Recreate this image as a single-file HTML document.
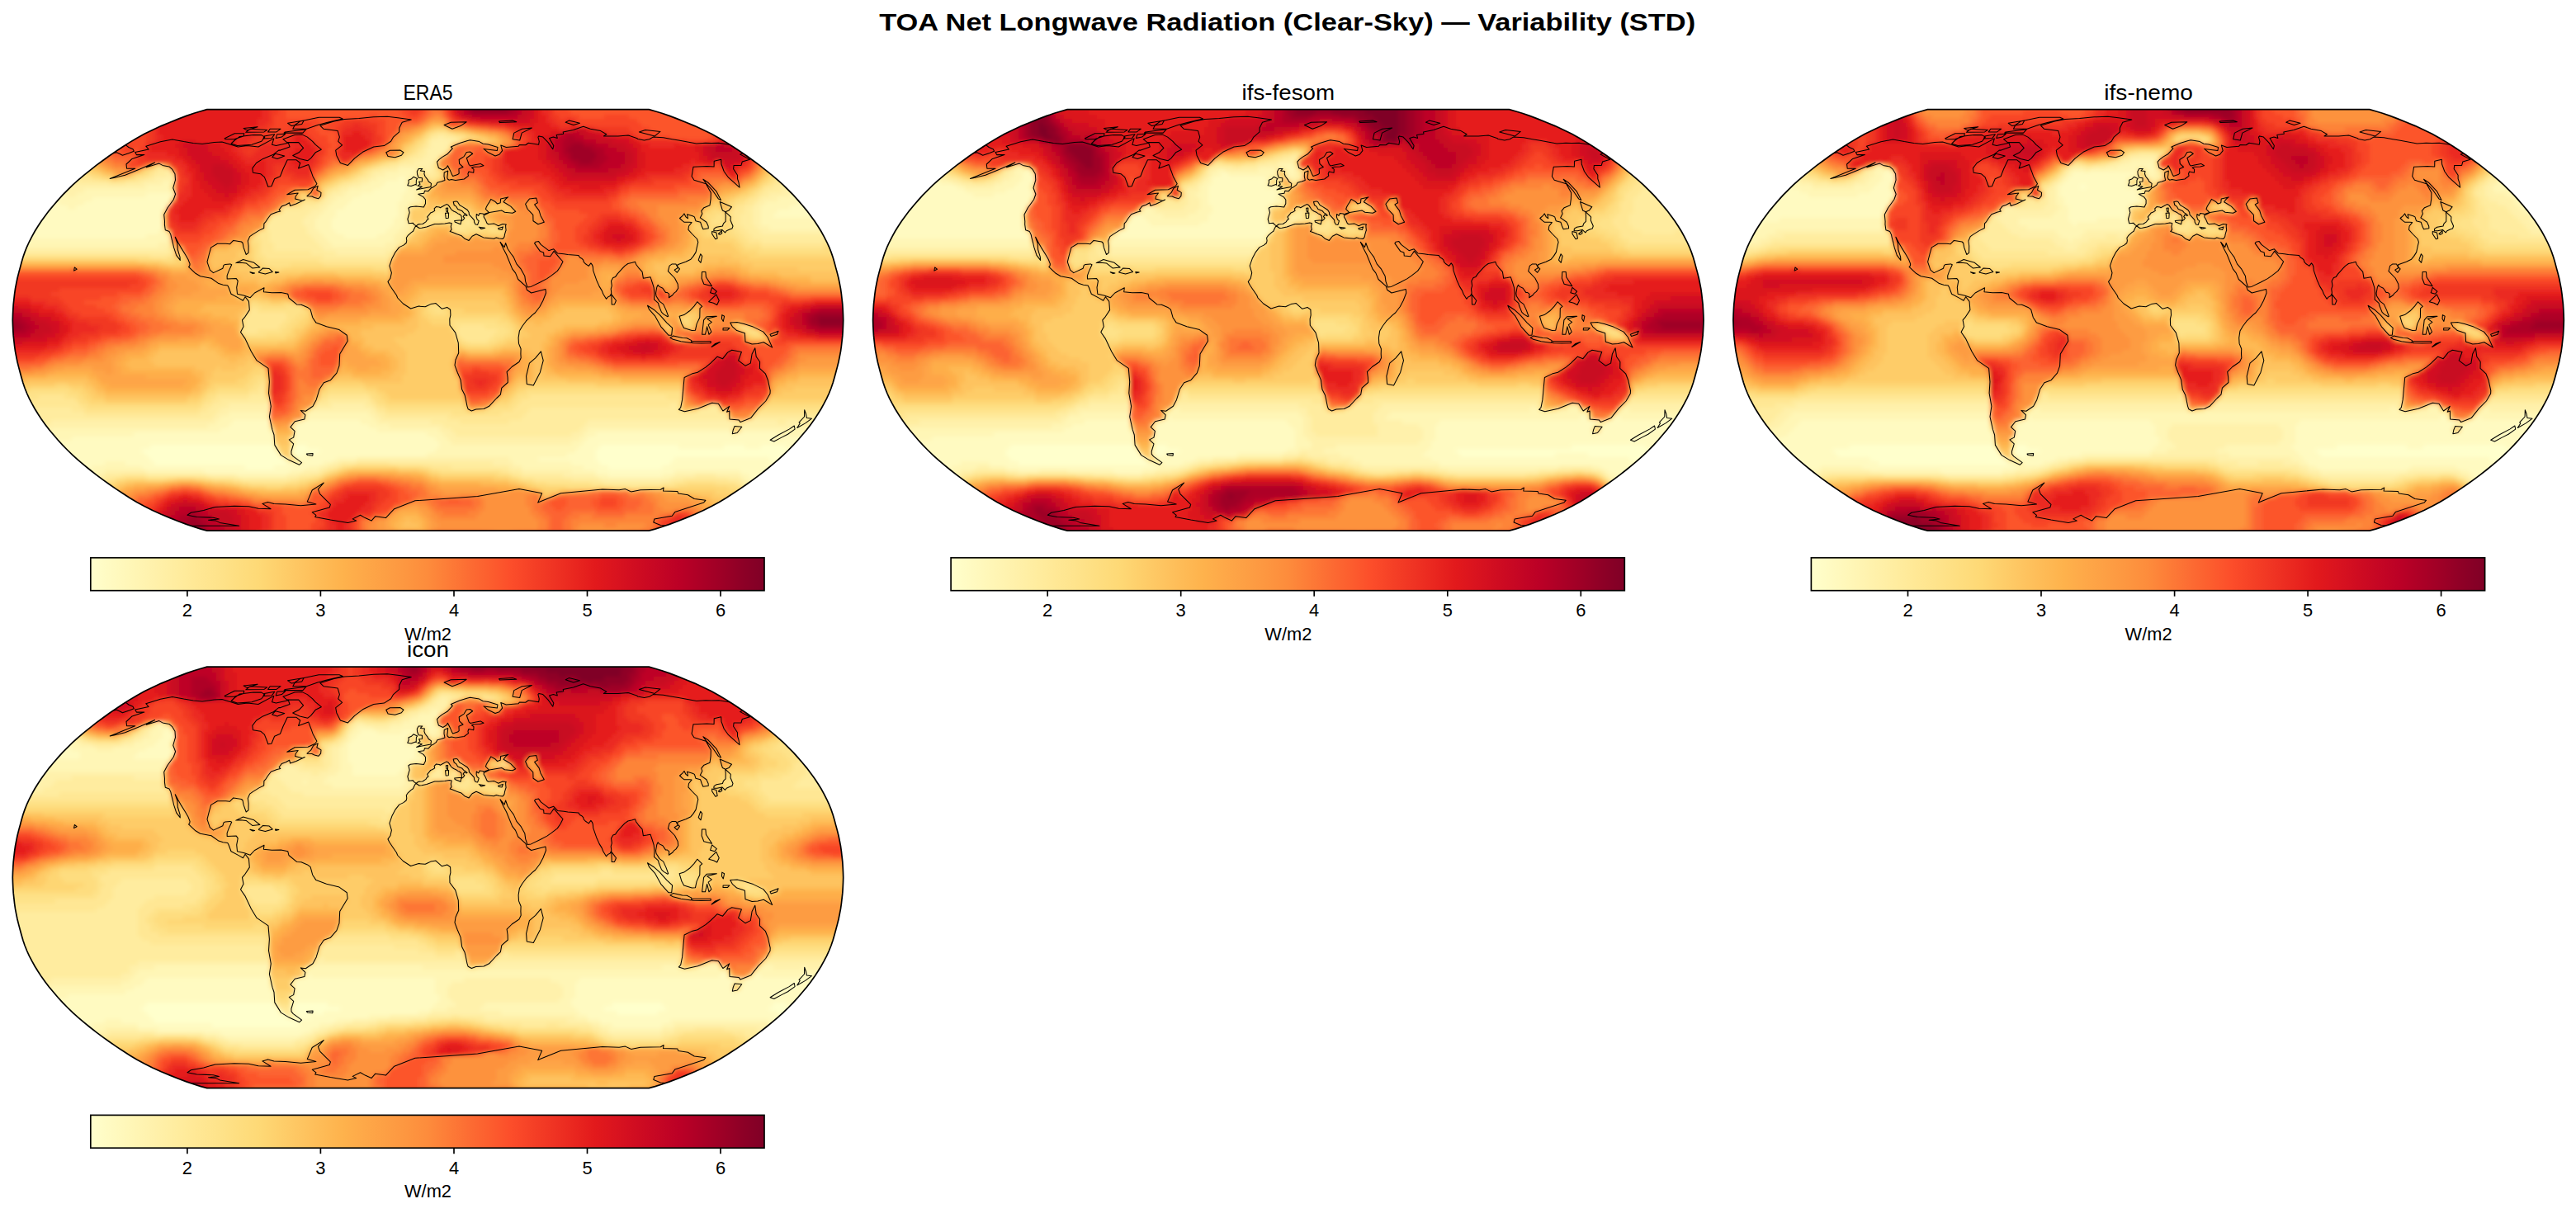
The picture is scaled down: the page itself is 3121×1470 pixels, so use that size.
<!DOCTYPE html>
<html><head><meta charset="utf-8"><style>html,body{margin:0;padding:0;background:#fff;overflow:hidden}svg{display:block}</style></head><body>
<svg width="3121" height="1470" viewBox="0 0 3121 1470">
<defs>
<linearGradient id="cb"><stop offset="0.000" stop-color="#ffffcc"/><stop offset="0.031" stop-color="#fffac1"/><stop offset="0.062" stop-color="#fff6b6"/><stop offset="0.094" stop-color="#fff1ab"/><stop offset="0.125" stop-color="#ffeda0"/><stop offset="0.156" stop-color="#ffe895"/><stop offset="0.188" stop-color="#fee38b"/><stop offset="0.219" stop-color="#fede80"/><stop offset="0.250" stop-color="#fed976"/><stop offset="0.281" stop-color="#fecf6b"/><stop offset="0.312" stop-color="#fec561"/><stop offset="0.344" stop-color="#febb56"/><stop offset="0.375" stop-color="#feb24c"/><stop offset="0.406" stop-color="#fea848"/><stop offset="0.438" stop-color="#fd9f44"/><stop offset="0.469" stop-color="#fd9640"/><stop offset="0.500" stop-color="#fd8c3c"/><stop offset="0.531" stop-color="#fd7c37"/><stop offset="0.562" stop-color="#fc6c33"/><stop offset="0.594" stop-color="#fc5d2e"/><stop offset="0.625" stop-color="#fc4d2a"/><stop offset="0.656" stop-color="#f54026"/><stop offset="0.688" stop-color="#ef3323"/><stop offset="0.719" stop-color="#e9261f"/><stop offset="0.750" stop-color="#e2191c"/><stop offset="0.781" stop-color="#d9131f"/><stop offset="0.812" stop-color="#cf0c21"/><stop offset="0.844" stop-color="#c50624"/><stop offset="0.875" stop-color="#bb0026"/><stop offset="0.906" stop-color="#ac0026"/><stop offset="0.938" stop-color="#9d0026"/><stop offset="0.969" stop-color="#8d0026"/><stop offset="1.000" stop-color="#800026"/></linearGradient>
<filter id="bl" x="-2%" y="-2%" width="104%" height="104%"><feGaussianBlur stdDeviation="2.5"/></filter>
<clipPath id="cl0"><path d="M786.3 643.1 793.7 641.1 802 638.5 811.1 635.4 820.9 631.7 831.1 627.6 841.7 623.2 852.2 618.4 862.1 613.5 871.4 608.4 880.1 603.2 888.5 597.8 896.7 592.4 904.8 586.8 912.7 581.1 920.4 575.4 927.9 569.5 935.1 563.6 942.2 557.6 948.9 551.6 955.2 545.5 961.2 539.4 966.8 533.2 972.1 527 977.4 520.7 982.2 514.4 986.8 508.1 990.9 501.8 994.8 495.5 998.3 489.2 1001.6 482.8 1004.5 476.5 1007 470.2 1009.2 463.8 1011 457.5 1012.7 451.2 1014.4 444.9 1016 438.5 1017.3 432.2 1018.5 425.9 1019.4 419.5 1020.1 413.2 1020.8 406.9 1021.2 400.6 1021.5 394.2 1021.7 387.9 1021.5 381.6 1021.2 375.2 1020.8 368.9 1020.1 362.6 1019.4 356.3 1018.5 349.9 1017.3 343.6 1016 337.3 1014.4 330.9 1012.7 324.6 1011 318.3 1009.2 312 1007 305.6 1004.5 299.3 1001.6 293 998.3 286.6 994.8 280.3 990.9 274 986.8 267.7 982.2 261.4 977.4 255.1 972.1 248.8 966.8 242.6 961.2 236.4 955.2 230.3 948.9 224.2 942.2 218.2 935.1 212.2 927.9 206.3 920.4 200.4 912.7 194.7 904.8 189 896.7 183.4 888.5 178 880.1 172.6 871.4 167.4 862.1 162.3 852.2 157.4 841.7 152.6 831.1 148.2 820.9 144.1 811.1 140.4 802 137.3 793.7 134.7 786.3 132.7 250.7 132.7 243.3 134.7 235 137.3 225.9 140.4 216.1 144.1 205.9 148.2 195.3 152.6 184.8 157.4 174.9 162.3 165.6 167.4 156.9 172.6 148.5 178 140.3 183.4 132.2 189 124.3 194.7 116.6 200.4 109.1 206.3 101.9 212.2 94.8 218.2 88.1 224.2 81.8 230.3 75.8 236.4 70.2 242.6 64.9 248.8 59.6 255.1 54.8 261.4 50.2 267.7 46.1 274 42.2 280.3 38.7 286.6 35.4 293 32.5 299.3 30 305.6 27.8 312 26 318.3 24.3 324.6 22.6 330.9 21 337.3 19.7 343.6 18.5 349.9 17.6 356.3 16.9 362.6 16.2 368.9 15.8 375.2 15.5 381.6 15.3 387.9 15.5 394.2 15.8 400.6 16.2 406.9 16.9 413.2 17.6 419.5 18.5 425.9 19.7 432.2 21 438.5 22.6 444.9 24.3 451.2 26 457.5 27.8 463.8 30 470.2 32.5 476.5 35.4 482.8 38.7 489.2 42.2 495.5 46.1 501.8 50.2 508.1 54.8 514.4 59.6 520.7 64.9 527 70.2 533.2 75.8 539.4 81.8 545.5 88.1 551.6 94.8 557.6 101.9 563.6 109.1 569.5 116.6 575.4 124.3 581.1 132.2 586.8 140.3 592.4 148.5 597.8 156.9 603.2 165.6 608.4 174.9 613.5 184.8 618.4 195.3 623.2 205.9 627.6 216.1 631.7 225.9 635.4 235 638.5 243.3 641.1 250.7 643.1Z"/></clipPath>
<clipPath id="cl1"><path d="M1828.6 643.1 1836 641.1 1844.3 638.5 1853.4 635.4 1863.2 631.7 1873.4 627.6 1884 623.2 1894.5 618.4 1904.4 613.5 1913.7 608.4 1922.4 603.2 1930.8 597.8 1939 592.4 1947.1 586.8 1955 581.1 1962.7 575.4 1970.2 569.5 1977.4 563.6 1984.5 557.6 1991.2 551.6 1997.5 545.5 2003.5 539.4 2009.1 533.2 2014.4 527 2019.7 520.7 2024.5 514.4 2029.1 508.1 2033.2 501.8 2037.1 495.5 2040.6 489.2 2043.9 482.8 2046.8 476.5 2049.3 470.2 2051.5 463.8 2053.3 457.5 2055 451.2 2056.7 444.9 2058.3 438.5 2059.6 432.2 2060.8 425.9 2061.7 419.5 2062.4 413.2 2063.1 406.9 2063.5 400.6 2063.8 394.2 2064 387.9 2063.8 381.6 2063.5 375.2 2063.1 368.9 2062.4 362.6 2061.7 356.3 2060.8 349.9 2059.6 343.6 2058.3 337.3 2056.7 330.9 2055 324.6 2053.3 318.3 2051.5 312 2049.3 305.6 2046.8 299.3 2043.9 293 2040.6 286.6 2037.1 280.3 2033.2 274 2029.1 267.7 2024.5 261.4 2019.7 255.1 2014.4 248.8 2009.1 242.6 2003.5 236.4 1997.5 230.3 1991.2 224.2 1984.5 218.2 1977.4 212.2 1970.2 206.3 1962.7 200.4 1955 194.7 1947.1 189 1939 183.4 1930.8 178 1922.4 172.6 1913.7 167.4 1904.4 162.3 1894.5 157.4 1884 152.6 1873.4 148.2 1863.2 144.1 1853.4 140.4 1844.3 137.3 1836 134.7 1828.6 132.7 1293 132.7 1285.6 134.7 1277.3 137.3 1268.2 140.4 1258.4 144.1 1248.2 148.2 1237.6 152.6 1227.1 157.4 1217.2 162.3 1207.9 167.4 1199.2 172.6 1190.8 178 1182.6 183.4 1174.5 189 1166.6 194.7 1158.9 200.4 1151.4 206.3 1144.2 212.2 1137.1 218.2 1130.4 224.2 1124.1 230.3 1118.1 236.4 1112.5 242.6 1107.2 248.8 1101.9 255.1 1097.1 261.4 1092.5 267.7 1088.4 274 1084.5 280.3 1081 286.6 1077.7 293 1074.8 299.3 1072.3 305.6 1070.1 312 1068.3 318.3 1066.6 324.6 1064.9 330.9 1063.3 337.3 1062 343.6 1060.8 349.9 1059.9 356.3 1059.2 362.6 1058.5 368.9 1058.1 375.2 1057.8 381.6 1057.6 387.9 1057.8 394.2 1058.1 400.6 1058.5 406.9 1059.2 413.2 1059.9 419.5 1060.8 425.9 1062 432.2 1063.3 438.5 1064.9 444.9 1066.6 451.2 1068.3 457.5 1070.1 463.8 1072.3 470.2 1074.8 476.5 1077.7 482.8 1081 489.2 1084.5 495.5 1088.4 501.8 1092.5 508.1 1097.1 514.4 1101.9 520.7 1107.2 527 1112.5 533.2 1118.1 539.4 1124.1 545.5 1130.4 551.6 1137.1 557.6 1144.2 563.6 1151.4 569.5 1158.9 575.4 1166.6 581.1 1174.5 586.8 1182.6 592.4 1190.8 597.8 1199.2 603.2 1207.9 608.4 1217.2 613.5 1227.1 618.4 1237.6 623.2 1248.2 627.6 1258.4 631.7 1268.2 635.4 1277.3 638.5 1285.6 641.1 1293 643.1Z"/></clipPath>
<clipPath id="cl2"><path d="M2870.9 643.1 2878.3 641.1 2886.6 638.5 2895.7 635.4 2905.5 631.7 2915.7 627.6 2926.3 623.2 2936.8 618.4 2946.7 613.5 2956 608.4 2964.7 603.2 2973.1 597.8 2981.3 592.4 2989.4 586.8 2997.3 581.1 3005 575.4 3012.5 569.5 3019.7 563.6 3026.8 557.6 3033.5 551.6 3039.8 545.5 3045.8 539.4 3051.4 533.2 3056.7 527 3062 520.7 3066.8 514.4 3071.4 508.1 3075.5 501.8 3079.4 495.5 3082.9 489.2 3086.2 482.8 3089.1 476.5 3091.6 470.2 3093.8 463.8 3095.6 457.5 3097.3 451.2 3099 444.9 3100.6 438.5 3101.9 432.2 3103.1 425.9 3104 419.5 3104.7 413.2 3105.4 406.9 3105.8 400.6 3106.1 394.2 3106.3 387.9 3106.1 381.6 3105.8 375.2 3105.4 368.9 3104.7 362.6 3104 356.3 3103.1 349.9 3101.9 343.6 3100.6 337.3 3099 330.9 3097.3 324.6 3095.6 318.3 3093.8 312 3091.6 305.6 3089.1 299.3 3086.2 293 3082.9 286.6 3079.4 280.3 3075.5 274 3071.4 267.7 3066.8 261.4 3062 255.1 3056.7 248.8 3051.4 242.6 3045.8 236.4 3039.8 230.3 3033.5 224.2 3026.8 218.2 3019.7 212.2 3012.5 206.3 3005 200.4 2997.3 194.7 2989.4 189 2981.3 183.4 2973.1 178 2964.7 172.6 2956 167.4 2946.7 162.3 2936.8 157.4 2926.3 152.6 2915.7 148.2 2905.5 144.1 2895.7 140.4 2886.6 137.3 2878.3 134.7 2870.9 132.7 2335.3 132.7 2327.9 134.7 2319.6 137.3 2310.5 140.4 2300.7 144.1 2290.5 148.2 2279.9 152.6 2269.4 157.4 2259.5 162.3 2250.2 167.4 2241.5 172.6 2233.1 178 2224.9 183.4 2216.8 189 2208.9 194.7 2201.2 200.4 2193.7 206.3 2186.5 212.2 2179.4 218.2 2172.7 224.2 2166.4 230.3 2160.4 236.4 2154.8 242.6 2149.5 248.8 2144.2 255.1 2139.4 261.4 2134.8 267.7 2130.7 274 2126.8 280.3 2123.3 286.6 2120 293 2117.1 299.3 2114.6 305.6 2112.4 312 2110.6 318.3 2108.9 324.6 2107.2 330.9 2105.6 337.3 2104.3 343.6 2103.1 349.9 2102.2 356.3 2101.5 362.6 2100.8 368.9 2100.4 375.2 2100.1 381.6 2099.9 387.9 2100.1 394.2 2100.4 400.6 2100.8 406.9 2101.5 413.2 2102.2 419.5 2103.1 425.9 2104.3 432.2 2105.6 438.5 2107.2 444.9 2108.9 451.2 2110.6 457.5 2112.4 463.8 2114.6 470.2 2117.1 476.5 2120 482.8 2123.3 489.2 2126.8 495.5 2130.7 501.8 2134.8 508.1 2139.4 514.4 2144.2 520.7 2149.5 527 2154.8 533.2 2160.4 539.4 2166.4 545.5 2172.7 551.6 2179.4 557.6 2186.5 563.6 2193.7 569.5 2201.2 575.4 2208.9 581.1 2216.8 586.8 2224.9 592.4 2233.1 597.8 2241.5 603.2 2250.2 608.4 2259.5 613.5 2269.4 618.4 2279.9 623.2 2290.5 627.6 2300.7 631.7 2310.5 635.4 2319.6 638.5 2327.9 641.1 2335.3 643.1Z"/></clipPath>
<clipPath id="cl3"><path d="M786.3 1318.6 793.7 1316.6 802 1314 811.1 1310.9 820.9 1307.2 831.1 1303.1 841.7 1298.7 852.2 1293.9 862.1 1289 871.4 1283.9 880.1 1278.7 888.5 1273.3 896.7 1267.9 904.8 1262.3 912.7 1256.6 920.4 1250.9 927.9 1245 935.1 1239.1 942.2 1233.1 948.9 1227.1 955.2 1221 961.2 1214.9 966.8 1208.7 972.1 1202.5 977.4 1196.2 982.2 1189.9 986.8 1183.6 990.9 1177.3 994.8 1171 998.3 1164.7 1001.6 1158.3 1004.5 1152 1007 1145.7 1009.2 1139.3 1011 1133 1012.7 1126.7 1014.4 1120.4 1016 1114 1017.3 1107.7 1018.5 1101.4 1019.4 1095 1020.1 1088.7 1020.8 1082.4 1021.2 1076.1 1021.5 1069.7 1021.7 1063.4 1021.5 1057.1 1021.2 1050.7 1020.8 1044.4 1020.1 1038.1 1019.4 1031.8 1018.5 1025.4 1017.3 1019.1 1016 1012.8 1014.4 1006.4 1012.7 1000.1 1011 993.8 1009.2 987.5 1007 981.1 1004.5 974.8 1001.6 968.5 998.3 962.1 994.8 955.8 990.9 949.5 986.8 943.2 982.2 936.9 977.4 930.6 972.1 924.3 966.8 918.1 961.2 911.9 955.2 905.8 948.9 899.7 942.2 893.7 935.1 887.7 927.9 881.8 920.4 875.9 912.7 870.2 904.8 864.5 896.7 858.9 888.5 853.5 880.1 848.1 871.4 842.9 862.1 837.8 852.2 832.9 841.7 828.1 831.1 823.7 820.9 819.6 811.1 815.9 802 812.8 793.7 810.2 786.3 808.2 250.7 808.2 243.3 810.2 235 812.8 225.9 815.9 216.1 819.6 205.9 823.7 195.3 828.1 184.8 832.9 174.9 837.8 165.6 842.9 156.9 848.1 148.5 853.5 140.3 858.9 132.2 864.5 124.3 870.2 116.6 875.9 109.1 881.8 101.9 887.7 94.8 893.7 88.1 899.7 81.8 905.8 75.8 911.9 70.2 918.1 64.9 924.3 59.6 930.6 54.8 936.9 50.2 943.2 46.1 949.5 42.2 955.8 38.7 962.1 35.4 968.5 32.5 974.8 30 981.1 27.8 987.5 26 993.8 24.3 1000.1 22.6 1006.4 21 1012.8 19.7 1019.1 18.5 1025.4 17.6 1031.8 16.9 1038.1 16.2 1044.4 15.8 1050.7 15.5 1057.1 15.3 1063.4 15.5 1069.7 15.8 1076.1 16.2 1082.4 16.9 1088.7 17.6 1095 18.5 1101.4 19.7 1107.7 21 1114 22.6 1120.4 24.3 1126.7 26 1133 27.8 1139.3 30 1145.7 32.5 1152 35.4 1158.3 38.7 1164.7 42.2 1171 46.1 1177.3 50.2 1183.6 54.8 1189.9 59.6 1196.2 64.9 1202.5 70.2 1208.7 75.8 1214.9 81.8 1221 88.1 1227.1 94.8 1233.1 101.9 1239.1 109.1 1245 116.6 1250.9 124.3 1256.6 132.2 1262.3 140.3 1267.9 148.5 1273.3 156.9 1278.7 165.6 1283.9 174.9 1289 184.8 1293.9 195.3 1298.7 205.9 1303.1 216.1 1307.2 225.9 1310.9 235 1314 243.3 1316.6 250.7 1318.6Z"/></clipPath>
</defs>
<rect width="3121" height="1470" fill="#fff"/>
<g clip-path="url(#cl0)"><g filter="url(#bl)">
<g transform="translate(7 126.5) scale(5)" fill="none" stroke-width="1" shape-rendering="crispEdges">
<path stroke="#ffffcc" d="M35 83h30M70 83h3M144 83h19M174 83h5M183 83h6M33 84h32M70 84h6M143 84h48M34 85h32M70 85h2M143 85h49M35 86h32M143 86h19M185 86h8M36 87h32M144 87h17M187 87h7M58 88h7M146 88h13M188 88h7M189 89h6M190 90h6M191 91h5M192 92h4"/>
<path stroke="#fffac1" d="M0 14h3M0 15h4M0 16h5M0 17h6M0 18h6M95 18h2M199 18h6M0 19h7M92 19h5M197 19h8M0 20h8M91 20h6M196 20h9M0 21h9M89 21h8M195 21h10M0 22h10M34 22h6M86 22h10M194 22h10M0 23h12M21 23h19M84 23h12M193 23h10M0 24h13M19 24h20M83 24h12M192 24h10M0 25h15M17 25h22M82 25h13M190 25h11M0 26h38M80 26h15M187 26h12M0 27h38M80 27h15M186 27h11M0 28h38M79 28h15M0 29h38M79 29h15M0 30h38M79 30h14M0 31h37M80 31h12M7 32h27M82 32h8M55 77h9M72 77h14M54 78h10M70 78h18M52 79h12M70 79h20M31 80h34M70 80h32M143 80h33M177 80h10M16 81h49M70 81h34M141 81h45M188 81h6M11 82h54M70 82h35M140 82h58M9 83h26M73 83h32M139 83h5M163 83h11M179 83h4M189 83h11M8 84h25M65 84h1M69 84h1M76 84h28M138 84h5M191 84h10M7 85h27M72 85h1M74 85h28M136 85h7M192 85h10M6 86h29M67 86h1M71 86h9M129 86h14M162 86h23M193 86h10M5 87h19M29 87h7M68 87h2M72 87h5M137 87h7M161 87h26M194 87h11M5 88h16M33 88h25M65 88h8M140 88h6M159 88h29M195 88h10M4 89h16M48 89h21M143 89h19M178 89h11M195 89h10M0 90h19M146 90h13M180 90h10M196 90h9M0 91h18M181 91h10M196 91h9M0 92h17M182 92h10M196 92h9M0 93h16M183 93h22M0 94h15M184 94h21M0 95h14M184 95h21M0 96h13M185 96h20M0 97h12M185 97h20M0 98h12M187 98h18M0 99h11M189 99h16M0 100h11M189 100h16M0 101h11M190 101h15M0 102h11M190 102h15M0 103h10M190 103h15M0 104h10M190 104h15M0 105h10M190 105h15"/>
<path stroke="#fff6b6" d="M0 11h4M0 12h5M0 13h6M3 14h4M4 15h3M202 15h3M5 16h2M95 16h4M198 16h7M6 17h2M92 17h7M196 17h9M6 18h3M90 18h5M97 18h1M195 18h4M7 19h3M38 19h2M88 19h4M194 19h3M8 20h3M34 20h6M86 20h5M97 20h1M99 20h1M193 20h3M9 21h4M19 21h21M83 21h6M97 21h2M192 21h3M10 22h5M17 22h17M40 22h1M82 22h4M96 22h3M190 22h4M204 22h1M12 23h9M80 23h4M96 23h3M187 23h6M203 23h2M13 24h6M79 24h4M95 24h3M184 24h8M202 24h3M15 25h2M78 25h4M95 25h2M183 25h7M201 25h3M77 26h3M95 26h2M183 26h4M199 26h4M76 27h4M95 27h2M183 27h3M197 27h5M75 28h4M94 28h3M183 28h18M75 29h4M94 29h3M183 29h16M75 30h4M93 30h3M185 30h12M37 31h2M76 31h4M92 31h3M0 32h7M34 32h5M77 32h5M90 32h4M0 33h39M78 33h16M0 34h37M79 34h13M54 75h9M73 75h15M52 76h11M73 76h16M51 77h4M71 77h1M86 77h4M49 78h5M88 78h5M11 79h41M90 79h15M141 79h35M178 79h11M191 79h7M9 80h22M102 80h4M140 80h3M187 80h1M189 80h11M8 81h8M104 81h3M139 81h2M186 81h2M194 81h7M7 82h4M105 82h3M137 82h3M198 82h4M6 83h3M105 83h34M200 83h3M5 84h3M104 84h34M201 84h3M4 85h3M66 85h1M102 85h34M202 85h3M3 86h3M80 86h5M122 86h7M203 86h2M0 87h5M24 87h5M77 87h2M123 87h14M0 88h5M21 88h12M73 88h3M125 88h15M0 89h4M20 89h4M34 89h14M69 89h3M137 89h6M162 89h16M19 90h3M56 90h12M143 90h3M159 90h3M178 90h2M18 91h3M179 91h2M17 92h2M181 92h1M16 93h2M181 93h2M15 94h2M182 94h2M14 95h2M183 95h1M13 96h2M183 96h2M12 97h3M184 97h1M12 98h2M185 98h2M11 99h3M186 99h3M11 100h2M187 100h2M11 101h2M188 101h2M11 102h2M188 102h2M10 103h3M188 103h2M10 104h2M188 104h2M10 105h2M188 105h2"/>
<path stroke="#fff1ab" d="M105 8h1M0 9h4M103 9h5M0 10h6M103 10h4M4 11h3M102 11h5M5 12h3M102 12h4M6 13h2M101 13h4M202 13h3M7 14h1M99 14h5M199 14h6M7 15h2M95 15h8M197 15h5M7 16h2M91 16h4M99 16h1M102 16h1M195 16h3M8 17h2M39 17h1M89 17h3M99 17h1M194 17h2M9 18h2M36 18h5M88 18h2M193 18h2M10 19h3M33 19h5M86 19h2M192 19h2M11 20h23M83 20h3M98 20h1M191 20h2M13 21h6M81 21h2M99 21h2M188 21h4M15 22h2M79 22h3M99 22h1M185 22h5M78 23h2M99 23h2M183 23h4M39 24h1M77 24h2M98 24h2M182 24h2M76 25h2M97 25h1M181 25h2M204 25h1M74 26h3M181 26h2M203 26h2M73 27h3M181 27h2M202 27h2M72 28h3M181 28h2M201 28h2M72 29h3M97 29h1M181 29h2M199 29h3M73 30h2M96 30h2M182 30h3M197 30h4M73 31h3M95 31h3M183 31h16M39 32h1M74 32h3M94 32h3M39 33h1M75 33h3M94 33h2M37 34h3M76 34h3M92 34h3M0 35h39M77 35h17M80 36h12M54 73h10M79 73h8M52 74h12M74 74h15M51 75h3M63 75h1M88 75h2M50 76h2M63 76h1M89 76h2M11 77h40M90 77h13M141 77h36M179 77h8M189 77h3M195 77h1M9 78h40M69 78h1M93 78h13M140 78h36M178 78h21M8 79h3M105 79h3M139 79h2M189 79h2M198 79h3M7 80h2M106 80h3M137 80h3M176 80h1M188 80h1M200 80h2M5 81h3M69 81h1M107 81h32M201 81h2M4 82h3M108 82h29M202 82h2M3 83h3M203 83h2M3 84h2M204 84h1M1 85h3M69 85h1M73 85h1M0 86h3M85 86h37M71 87h1M79 87h2M118 87h5M76 88h2M122 88h3M24 89h10M72 89h4M125 89h12M22 90h2M49 90h7M68 90h3M135 90h8M162 90h5M172 90h6M21 91h1M144 91h17M178 91h1M19 92h2M179 92h2M18 93h2M180 93h1M17 94h2M181 94h1M16 95h1M182 95h1M15 96h2M15 97h1M183 97h1M14 98h1M184 98h1M14 99h1M184 99h2M13 100h1M186 100h1M13 101h1M186 101h2M13 102h1M187 102h1M13 103h1M187 103h1M12 104h2M187 104h1M12 105h2M187 105h1"/>
<path stroke="#ffec9f" d="M0 0h1M0 1h1M0 2h1M0 3h1M0 4h1M0 5h2M0 6h4M0 7h5M0 8h6M103 8h2M106 8h3M4 9h4M102 9h1M108 9h2M6 10h2M102 10h1M107 10h1M202 10h3M7 11h2M101 11h1M200 11h5M8 12h2M100 12h2M198 12h7M8 13h2M98 13h3M197 13h5M8 14h3M96 14h3M194 14h5M9 15h3M93 15h2M103 15h1M193 15h4M9 16h4M37 16h3M89 16h2M101 16h1M103 16h1M192 16h3M10 17h4M36 17h3M88 17h1M102 17h2M191 17h3M11 18h7M34 18h2M86 18h2M99 18h1M190 18h3M13 19h12M29 19h4M40 19h1M84 19h2M97 19h1M188 19h4M81 20h2M186 20h5M40 21h1M79 21h2M184 21h4M78 22h1M183 22h2M77 23h1M182 23h1M75 24h2M100 24h1M181 24h1M72 25h4M179 25h2M67 26h7M97 26h1M179 26h2M65 27h8M178 27h3M204 27h1M64 28h8M178 28h3M203 28h2M63 29h9M178 29h3M202 29h3M63 30h10M98 30h1M179 30h3M201 30h4M64 31h9M180 31h3M199 31h5M64 32h10M181 32h20M64 33h11M96 33h1M183 33h15M65 34h11M95 34h1M39 35h1M65 35h12M94 35h1M0 36h40M74 36h6M92 36h2M77 37h16M62 70h1M59 71h4M52 72h12M78 72h10M50 73h4M75 73h4M87 73h2M161 73h2M171 73h1M4 74h12M49 74h3M89 74h1M127 74h36M168 74h5M0 75h19M47 75h4M90 75h2M126 75h49M0 76h50M91 76h16M125 76h50M181 76h18M0 77h11M70 77h1M103 77h7M122 77h19M177 77h1M187 77h2M192 77h3M196 77h6M0 78h9M106 78h34M176 78h1M199 78h6M0 79h8M64 79h1M108 79h31M201 79h4M0 80h7M109 80h28M202 80h3M0 81h5M203 81h2M0 82h4M69 82h1M204 82h1M0 83h3M65 83h1M69 83h1M0 84h3M0 85h1M70 86h1M70 87h1M81 87h4M93 87h25M78 88h2M108 88h14M76 89h1M122 89h3M24 90h4M34 90h15M71 90h3M125 90h10M167 90h5M22 91h2M57 91h12M137 91h7M161 91h3M175 91h3M21 92h1M145 92h14M178 92h1M20 93h1M179 93h1M19 94h1M180 94h1M17 95h1M181 95h1M182 96h1M16 97h1M15 98h1M183 98h1M15 99h1M14 100h1M185 100h1M14 101h1M185 101h1M14 102h1M186 102h1M14 103h1M186 103h1M186 104h1M186 105h1"/>
<path stroke="#ffe794" d="M1 0h3M1 1h3M1 2h3M1 3h3M1 4h4M2 5h3M4 6h2M5 7h2M104 7h3M6 8h2M109 8h2M201 8h4M8 9h1M200 9h5M8 10h2M101 10h1M199 10h3M9 11h2M100 11h1M198 11h2M10 12h1M99 12h1M196 12h2M10 13h2M97 13h1M193 13h4M11 14h2M95 14h1M192 14h2M12 15h2M91 15h2M191 15h2M13 16h2M36 16h1M88 16h1M104 16h1M190 16h2M14 17h3M35 17h1M40 17h1M87 17h1M104 17h1M189 17h2M18 18h3M32 18h2M85 18h1M98 18h1M100 18h1M102 18h2M187 18h3M25 19h4M82 19h2M99 19h1M186 19h2M80 20h1M184 20h2M78 21h1M101 21h1M183 21h1M77 22h1M100 22h1M182 22h1M76 23h1M180 23h2M72 24h3M179 24h2M67 25h5M177 25h2M176 26h3M97 27h1M103 27h3M108 27h2M176 27h2M103 28h5M111 28h2M176 28h2M98 29h1M101 29h2M108 29h1M111 29h2M176 29h2M108 30h3M177 30h2M62 31h2M178 31h2M204 31h1M61 32h3M179 32h2M201 32h4M62 33h2M180 33h3M198 33h7M62 34h3M183 34h15M62 35h3M40 36h1M62 36h12M35 37h4M63 37h14M76 38h17M59 50h2M59 51h9M58 52h10M58 53h9M58 54h8M110 54h6M57 55h4M109 55h10M110 56h8M111 57h6M62 68h1M61 69h2M59 70h3M8 71h6M51 71h8M78 71h10M127 71h33M0 72h17M50 72h2M76 72h2M88 72h1M125 72h38M0 73h18M48 73h2M89 73h1M124 73h37M0 74h4M16 74h3M47 74h2M90 74h2M123 74h4M19 75h28M72 75h1M92 75h16M120 75h6M182 75h18M107 76h18M199 76h6M110 77h12M202 77h3M68 86h1M85 87h8M80 88h1M103 88h5M77 89h1M120 89h2M28 90h6M74 90h2M123 90h2M24 91h2M55 91h2M69 91h2M128 91h9M164 91h11M22 92h1M142 92h3M159 92h3M177 92h1M18 95h1M17 96h1M182 97h1M183 99h1M15 100h1M184 100h1M15 101h1M185 102h1M185 103h1M14 104h1M185 104h1M14 105h1M185 105h1"/>
<path stroke="#fee289" d="M4 0h1M4 1h2M4 2h2M4 3h2M5 4h1M5 5h2M6 6h2M203 6h2M7 7h2M103 7h1M107 7h1M200 7h5M8 8h2M102 8h1M111 8h1M199 8h2M9 9h2M101 9h1M198 9h2M10 10h1M100 10h1M197 10h2M11 11h1M99 11h1M107 11h1M196 11h2M11 12h1M98 12h1M106 12h1M193 12h3M12 13h1M96 13h1M192 13h1M13 14h1M93 14h2M191 14h1M14 15h1M37 15h1M90 15h1M190 15h1M15 16h2M35 16h1M87 16h1M189 16h1M17 17h3M34 17h1M86 17h1M101 17h1M105 17h1M187 17h2M21 18h2M31 18h1M84 18h1M104 18h1M186 18h1M81 19h1M103 19h1M185 19h1M79 20h1M183 20h1M77 21h1M182 21h1M181 22h1M73 23h1M179 23h1M71 24h1M177 24h2M176 25h1M104 26h2M111 26h1M175 26h1M64 27h1M172 27h2M97 28h1M102 28h1M108 28h1M115 28h1M171 28h3M109 29h2M113 29h1M115 29h1M171 29h3M111 30h4M117 30h2M176 30h1M61 31h1M109 31h3M176 31h2M60 32h1M177 32h2M60 33h2M178 33h2M61 34h1M179 34h4M198 34h7M40 35h1M61 35h1M183 35h15M42 36h1M61 36h1M0 37h35M39 37h2M61 37h2M93 37h1M62 38h14M63 39h6M77 39h16M59 49h3M68 49h3M103 49h2M61 50h11M104 50h2M58 51h1M68 51h3M68 52h2M67 53h2M108 53h11M66 54h2M108 54h2M116 54h5M178 54h2M61 55h6M119 55h3M180 55h2M58 56h5M109 56h1M118 56h3M110 57h1M117 57h2M112 58h5M61 67h2M60 68h2M59 69h2M0 70h15M51 70h8M78 70h10M126 70h38M0 71h8M14 71h3M49 71h2M76 71h2M88 71h1M124 71h3M160 71h4M17 72h1M48 72h2M75 72h1M89 72h1M123 72h2M163 72h1M18 73h2M47 73h1M90 73h2M122 73h2M170 73h1M172 73h1M19 74h28M73 74h1M92 74h19M117 74h6M183 74h21M108 75h12M200 75h5M72 76h1M177 78h1M81 88h1M101 88h2M78 89h1M105 89h15M76 90h1M122 90h1M26 91h1M50 91h5M71 91h2M125 91h3M23 92h1M59 92h9M131 92h11M162 92h3M172 92h5M21 93h1M151 93h3M178 93h1M20 94h1M179 94h1M19 95h1M180 95h1M18 96h1M181 96h1M17 97h1M16 98h1M182 98h1M16 99h1M16 100h1M183 100h1M184 101h1M15 102h1M184 102h1M15 103h1M15 104h1M15 105h1"/>
<path stroke="#fedd7f" d="M5 0h2M6 1h1M6 2h1M6 3h1M6 4h2M7 5h2M201 5h4M8 6h2M199 6h4M9 7h1M102 7h1M108 7h1M198 7h2M10 8h1M101 8h1M112 8h2M198 8h1M11 9h1M100 9h1M197 9h1M11 10h1M99 10h1M195 10h2M98 11h1M193 11h3M12 12h1M97 12h1M192 12h1M13 13h1M95 13h1M191 13h1M14 14h1M92 14h1M104 14h1M189 14h2M15 15h2M36 15h1M89 15h1M104 15h1M188 15h2M17 16h2M34 16h1M86 16h1M100 16h1M187 16h2M20 17h1M32 17h2M85 17h1M186 17h1M23 18h2M29 18h2M83 18h1M105 18h1M185 18h1M80 19h1M100 19h1M184 19h1M78 20h1M181 21h1M180 22h1M72 23h1M74 23h1M101 23h1M177 23h2M101 24h1M175 24h2M98 25h1M106 25h1M38 26h1M66 26h1M106 26h2M171 26h3M102 27h1M106 27h2M111 27h2M114 27h2M169 27h3M175 27h1M109 28h2M114 28h1M170 28h1M175 28h1M100 29h1M103 29h1M114 29h1M116 29h1M170 29h1M100 30h1M115 30h2M170 30h2M175 30h1M98 31h1M112 31h4M117 31h4M170 31h1M174 31h2M97 32h1M175 32h2M59 33h1M177 33h1M59 34h2M96 34h1M178 34h1M60 35h1M179 35h4M198 35h7M60 36h1M182 36h19M60 37h1M38 38h3M60 38h2M62 39h1M69 39h8M65 40h2M89 40h4M59 48h2M62 49h6M71 49h1M102 49h1M72 50h1M102 50h2M106 50h1M71 51h2M103 51h4M57 52h1M70 52h2M108 52h12M164 52h1M57 53h1M69 53h2M119 53h3M164 53h1M57 54h1M68 54h2M121 54h2M67 55h2M122 55h1M179 55h1M63 56h5M121 56h2M181 56h2M109 57h1M119 57h2M110 58h2M117 58h2M62 65h1M60 66h3M59 67h2M58 68h2M6 69h10M51 69h8M78 69h9M126 69h32M15 70h3M49 70h2M76 70h2M88 70h2M124 70h2M17 71h2M48 71h1M63 71h1M89 71h2M123 71h1M18 72h2M47 72h1M90 72h2M122 72h1M20 73h27M92 73h19M118 73h4M163 73h1M184 73h21M111 74h1M116 74h1M163 74h1M167 74h1M204 74h1M178 77h1M82 88h2M95 88h6M79 89h1M103 89h2M119 90h3M27 91h2M34 91h5M48 91h2M73 91h2M124 91h1M24 92h2M57 92h2M68 92h3M128 92h3M165 92h7M22 93h2M136 93h7M147 93h4M154 93h5M160 93h3M175 93h3M21 94h1M178 94h1M20 95h1M179 95h1M19 96h1M180 96h1M18 97h1M181 97h1M17 98h1M182 99h1M16 101h1M183 101h1M16 102h1M183 102h1M16 103h1M184 103h1M184 104h1M184 105h1"/>
<path stroke="#fed673" d="M7 0h1M7 1h1M7 2h2M7 3h2M204 3h1M8 4h2M200 4h5M9 5h1M199 5h2M10 6h1M104 6h3M198 6h1M10 7h2M109 7h2M197 7h1M11 8h1M114 8h1M196 8h2M12 9h1M99 9h1M110 9h1M115 9h2M195 9h2M12 10h1M98 10h1M194 10h1M12 11h2M97 11h1M191 11h2M13 12h2M96 12h1M190 12h2M14 13h2M189 13h2M15 14h2M91 14h1M188 14h1M17 15h2M88 15h1M187 15h1M19 16h1M33 16h1M105 16h1M186 16h1M21 17h2M31 17h1M84 17h1M185 17h1M25 18h1M27 18h2M81 18h2M184 18h1M79 19h1M98 19h1M183 19h1M40 20h1M77 20h1M100 20h1M182 20h1M180 21h1M71 22h2M178 22h2M176 23h1M99 25h2M104 25h2M107 25h1M109 25h2M171 25h2M103 26h1M108 26h1M169 26h2M110 27h1M174 27h1M63 28h1M113 28h1M169 28h1M174 28h1M99 29h1M104 29h3M167 29h1M174 29h2M38 30h1M99 30h1M101 30h1M119 30h2M167 30h2M173 30h2M108 31h1M116 31h1M168 31h2M171 31h3M111 32h1M169 32h2M172 32h3M172 33h5M176 34h2M59 35h1M177 35h2M59 36h1M178 36h4M201 36h4M58 37h2M180 37h25M32 38h6M41 38h2M61 39h1M60 40h2M64 40h1M67 40h22M92 41h1M61 48h3M67 48h2M105 49h2M73 50h1M101 50h1M107 50h4M73 51h1M101 51h2M107 51h14M165 51h1M72 52h2M102 52h6M120 52h2M165 52h1M71 53h2M103 53h5M122 53h1M165 53h1M70 54h2M123 54h1M160 54h1M165 54h1M177 54h1M69 55h1M108 55h1M123 55h1M182 55h1M57 56h1M68 56h2M123 56h1M180 56h1M183 56h1M58 57h10M121 57h3M119 58h2M111 59h7M60 64h3M59 65h3M58 66h2M56 67h3M12 68h3M50 68h8M77 68h10M128 68h15M0 69h6M16 69h3M49 69h2M77 69h1M87 69h3M124 69h2M158 69h6M18 70h2M48 70h1M90 70h2M123 70h1M19 71h2M47 71h1M91 71h2M122 71h1M20 72h4M44 72h3M92 72h19M119 72h3M185 72h20M182 74h1M65 82h1M66 84h1M84 88h11M80 89h1M102 89h1M77 90h1M105 90h14M29 91h5M39 91h2M46 91h2M75 91h1M122 91h2M26 92h1M55 92h2M71 92h2M126 92h2M24 93h1M63 93h4M129 93h7M143 93h4M159 93h1M163 93h12M22 94h2M172 94h6M21 95h1M177 95h2M20 96h1M179 96h1M19 97h1M180 97h1M18 98h1M181 98h1M17 99h1M181 99h1M17 100h1M182 100h1M17 101h1M182 101h1M17 102h1M182 102h1M17 103h1M182 103h2M16 104h2M183 104h1M16 105h2M183 105h1"/>
<path stroke="#fecc68" d="M8 0h2M199 0h6M8 1h2M199 1h6M9 2h2M199 2h6M9 3h2M198 3h6M10 4h1M198 4h2M10 5h2M197 5h2M11 6h1M103 6h1M197 6h1M12 7h1M101 7h1M111 7h1M196 7h1M12 8h2M100 8h1M115 8h1M195 8h1M13 9h1M117 9h1M194 9h1M13 10h2M97 10h1M191 10h3M14 11h1M96 11h1M190 11h1M15 12h1M189 12h1M16 13h2M188 13h1M17 14h2M90 14h1M187 14h1M19 15h1M87 15h1M186 15h1M20 16h2M85 16h1M185 16h1M23 17h1M83 17h1M100 17h1M184 17h1M80 18h1M183 18h1M78 19h1M104 19h1M182 19h1M76 20h1M101 20h3M181 20h1M76 21h1M102 21h1M179 21h1M177 22h1M40 23h1M71 23h1M75 23h1M174 23h2M109 24h1M171 24h2M174 24h1M101 25h1M117 25h5M170 25h1M175 25h1M98 26h5M109 26h2M112 26h1M122 26h1M174 26h1M98 27h4M113 27h1M98 28h4M166 28h1M107 29h1M117 29h1M166 29h1M168 29h1M62 30h1M166 30h1M169 30h1M172 30h1M39 31h1M99 31h1M166 31h2M98 32h1M112 32h1M116 32h5M167 32h2M171 32h1M97 33h1M168 33h4M168 34h8M168 35h9M56 36h2M167 36h11M42 37h2M56 37h2M176 37h4M0 38h32M43 38h1M55 38h1M59 38h1M178 38h27M39 39h4M55 39h4M181 39h24M56 40h4M62 40h2M192 40h13M59 41h3M64 41h8M80 41h12M62 42h3M57 47h1M59 47h3M64 48h3M69 48h1M102 48h17M100 49h2M107 49h13M100 50h1M111 50h10M100 51h1M121 51h1M166 51h2M100 52h2M122 52h1M163 52h1M166 52h2M73 53h1M100 53h3M123 53h1M166 53h1M72 54h1M100 54h8M124 54h1M166 54h1M180 54h1M70 55h2M99 55h9M124 55h2M160 55h1M70 56h1M97 56h12M124 56h3M179 56h1M68 57h2M94 57h15M124 57h1M59 58h7M95 58h15M121 58h3M96 59h13M110 59h1M118 59h2M97 60h12M97 61h12M59 62h1M97 62h11M58 63h4M97 63h11M51 64h1M56 64h4M97 64h11M50 65h9M97 65h12M50 66h8M96 66h13M129 66h1M49 67h7M63 67h1M79 67h7M96 67h14M128 67h8M0 68h12M15 68h4M49 68h1M87 68h23M124 68h4M143 68h21M19 69h2M48 69h1M76 69h1M90 69h20M123 69h1M191 69h14M20 70h2M47 70h1M92 70h18M122 70h1M188 70h17M21 71h3M44 71h3M93 71h18M120 71h2M185 71h20M24 72h20M74 73h1M111 73h1M183 73h1M114 74h2M166 74h1M181 75h1M64 78h1M69 79h1M177 79h1M68 81h1M66 83h3M67 84h2M67 85h2M69 86h1M81 89h1M100 89h2M78 90h1M103 90h2M41 91h5M76 91h1M118 91h4M27 92h2M53 92h2M73 92h1M124 92h2M25 93h2M59 93h4M67 93h4M127 93h2M24 94h1M130 94h4M163 94h9M22 95h2M171 95h6M21 96h3M173 96h6M20 97h3M174 97h6M19 98h4M175 98h6M18 99h4M175 99h6M18 100h4M176 100h6M18 101h4M176 101h6M18 102h4M177 102h5M18 103h4M177 103h5M18 104h4M178 104h5M18 105h4M178 105h5"/>
<path stroke="#fec35e" d="M10 0h2M198 0h1M10 1h2M198 1h1M11 2h1M197 2h2M11 3h1M197 3h1M11 4h1M197 4h1M12 5h1M12 6h1M102 6h1M196 6h1M13 7h1M112 7h1M195 7h1M99 8h1M116 8h1M194 8h1M14 9h1M98 9h1M118 9h1M193 9h1M15 10h1M96 10h1M189 10h2M15 11h2M188 11h2M16 12h2M187 12h2M18 13h1M94 13h1M105 13h1M187 13h1M19 14h1M89 14h1M186 14h1M20 15h1M38 15h1M86 15h1M185 15h1M22 16h1M84 16h1M106 16h1M184 16h1M24 17h2M30 17h1M82 17h1M26 18h1M79 18h1M101 18h1M77 19h1M102 19h1M180 20h1M178 21h1M101 22h1M175 22h2M173 23h1M70 24h1M102 24h2M108 24h1M120 24h1M102 25h2M108 25h1M111 25h2M173 25h1M113 26h1M117 26h1M121 26h1M168 27h1M38 28h1M116 28h1M164 28h2M38 29h1M118 29h1M120 29h1M169 29h1M102 30h1M100 31h2M59 32h1M99 32h2M115 32h1M98 33h2M167 33h1M55 34h2M167 34h1M42 35h1M54 35h4M167 35h1M50 36h6M94 36h1M166 36h1M41 37h1M50 37h6M165 37h11M49 38h6M56 38h1M58 38h1M160 38h13M174 38h4M37 39h2M43 39h1M50 39h3M59 39h2M157 39h12M178 39h3M50 40h1M54 40h2M157 40h3M162 40h5M180 40h12M54 41h5M62 41h2M72 41h8M158 41h3M187 41h18M57 42h5M65 42h3M89 42h4M195 42h10M55 43h1M61 43h3M55 44h1M55 45h1M55 46h1M60 46h2M101 46h19M56 47h1M58 47h1M62 47h2M100 47h21M99 48h3M119 48h2M72 49h1M98 49h2M120 49h2M57 50h2M99 50h1M121 50h1M135 50h11M166 50h2M56 51h2M99 51h1M122 51h1M133 51h14M164 51h1M98 52h2M123 52h1M132 52h15M74 53h1M97 53h3M124 53h1M126 53h2M130 53h14M159 53h1M177 53h1M73 54h1M89 54h11M125 54h10M159 54h1M164 54h1M72 55h1M86 55h13M126 55h7M178 55h1M71 56h1M86 56h11M127 56h4M70 57h1M87 57h7M125 57h6M163 57h1M180 57h4M58 58h1M66 58h4M87 58h8M124 58h6M47 59h2M89 59h7M109 59h1M120 59h10M37 60h14M93 60h4M109 60h1M112 60h6M127 60h3M36 61h16M58 61h2M94 61h3M129 61h1M35 62h19M56 62h3M95 62h2M108 62h1M128 62h2M36 63h22M95 63h2M128 63h2M46 64h5M52 64h4M95 64h2M108 64h1M128 64h2M48 65h2M94 65h3M128 65h3M48 66h2M80 66h4M93 66h3M128 66h1M130 66h4M5 67h15M48 67h1M86 67h10M124 67h2M136 67h13M192 67h13M19 68h2M47 68h2M63 68h1M123 68h1M189 68h16M21 69h1M47 69h1M63 69h1M122 69h1M187 69h4M22 70h2M45 70h2M110 70h1M120 70h2M186 70h2M24 71h20M184 72h1M117 73h1M165 74h1M173 74h2M175 76h1M180 76h1M176 79h1M69 80h1M65 81h3M66 82h3M82 89h1M95 89h5M79 90h1M102 90h1M105 91h13M29 92h2M50 92h3M74 92h1M122 92h2M27 93h1M57 93h2M71 93h2M126 93h1M25 94h1M24 95h2M130 95h2M168 95h3M24 96h1M171 96h2M23 97h2M172 97h2M23 98h2M173 98h2M22 99h2M174 99h1M22 100h2M174 100h2M22 101h2M97 101h1M175 101h1M22 102h2M96 102h4M175 102h2M22 103h1M176 103h1M22 104h1M176 104h2M22 105h1M176 105h2"/>
<path stroke="#feb953" d="M12 0h1M197 0h1M12 1h1M197 1h1M12 2h1M12 3h1M12 4h1M196 4h1M13 5h1M103 5h3M196 5h1M13 6h1M107 6h1M195 6h1M14 7h1M100 7h1M113 7h1M194 7h1M14 8h1M98 8h1M117 8h2M193 8h1M15 9h1M97 9h1M111 9h1M114 9h1M119 9h1M190 9h3M16 10h1M108 10h1M188 10h1M17 11h1M187 11h1M18 12h1M19 13h1M91 13h3M186 13h1M20 14h1M88 14h1M185 14h1M21 15h1M85 15h1M23 16h1M83 16h1M80 17h2M107 17h1M183 17h1M78 18h1M182 18h1M76 19h1M101 19h1M181 19h1M179 20h1M73 21h1M176 21h2M76 22h1M102 22h1M173 22h2M102 23h3M171 23h2M104 24h4M110 24h3M117 24h2M173 24h1M113 25h1M116 25h1M169 25h1M174 25h1M114 26h3M118 26h1M116 27h1M117 28h1M168 28h1M103 30h5M165 30h1M60 31h1M102 31h2M107 31h1M101 32h2M110 32h1M166 32h1M100 33h2M166 33h1M40 34h1M97 34h4M166 34h1M50 35h4M95 35h1M165 35h2M58 36h1M164 36h2M49 37h1M160 37h5M57 38h1M93 38h1M156 38h4M173 38h1M34 39h3M49 39h1M54 39h1M155 39h2M169 39h9M40 40h4M51 40h1M155 40h2M160 40h2M167 40h2M178 40h2M53 41h1M155 41h3M162 41h5M180 41h7M53 42h4M68 42h3M81 42h8M146 42h1M157 42h5M188 42h7M54 43h1M56 43h5M64 43h3M91 43h2M158 43h3M195 43h10M54 44h1M61 44h2M54 45h1M100 45h21M56 46h1M62 46h1M99 46h2M120 46h1M64 47h4M98 47h2M121 47h1M58 48h1M97 48h2M121 48h1M48 49h11M97 49h1M122 49h1M134 49h13M167 49h1M47 50h10M98 50h1M122 50h1M132 50h3M146 50h2M159 50h1M50 51h6M98 51h1M123 51h1M131 51h2M147 51h2M157 51h1M160 51h1M163 51h1M54 52h3M74 52h1M96 52h2M124 52h1M127 52h5M147 52h2M158 52h1M56 53h1M86 53h11M125 53h1M128 53h2M144 53h3M158 53h1M163 53h1M167 53h1M169 53h1M176 53h1M56 54h1M74 54h2M80 54h9M135 54h8M169 54h1M176 54h1M56 55h1M73 55h1M82 55h4M133 55h2M72 56h1M83 56h3M131 56h2M71 57h1M84 57h3M131 57h1M164 57h1M184 57h1M47 58h3M70 58h1M86 58h1M130 58h2M37 59h10M49 59h3M58 59h12M86 59h3M130 59h1M35 60h2M51 60h2M57 60h3M88 60h5M111 60h1M118 60h2M125 60h2M130 60h1M34 61h2M52 61h6M92 61h2M126 61h3M130 61h1M30 62h5M54 62h2M60 62h1M93 62h2M127 62h1M130 62h1M29 63h7M93 63h2M108 63h1M127 63h1M130 63h1M30 64h16M81 64h1M93 64h2M127 64h1M130 64h2M45 65h3M81 65h3M91 65h3M127 65h1M131 65h2M10 66h10M46 66h2M63 66h1M84 66h9M109 66h1M124 66h2M127 66h1M134 66h10M192 66h13M0 67h5M20 67h2M47 67h1M123 67h1M126 67h2M149 67h15M189 67h3M21 68h2M46 68h1M122 68h1M187 68h2M22 69h2M45 69h2M121 69h1M186 69h1M24 70h21M63 70h1M75 71h1M119 71h1M118 72h1M169 73h1M112 74h2M164 74h1M65 80h4M83 89h12M80 90h1M101 90h1M77 91h1M103 91h2M31 92h7M48 92h2M75 92h1M115 92h7M28 93h1M56 93h1M73 93h1M125 93h1M26 94h1M61 94h10M134 94h1M26 95h1M166 95h2M25 96h1M170 96h1M25 97h1M171 97h1M25 98h1M172 98h1M24 99h1M173 99h1M24 100h1M96 100h4M173 100h1M24 101h1M95 101h2M98 101h3M174 101h1M94 102h2M100 102h1M23 103h1M95 103h6M175 103h1M23 104h1M175 104h1M23 105h1"/>
<path stroke="#feae4a" d="M196 0h1M196 1h1M196 2h1M13 3h1M196 3h1M13 4h1M195 5h1M14 6h1M101 6h1M109 6h1M99 7h1M114 7h2M193 7h1M15 8h1M97 8h1M192 8h1M16 9h1M96 9h1M113 9h1M189 9h1M95 10h1M119 10h1M95 11h1M186 12h1M90 13h1M185 13h1M86 14h2M22 15h1M35 15h1M84 15h1M184 15h1M24 16h1M32 16h1M82 16h1M183 16h1M26 17h1M79 17h1M77 18h1M107 18h1M180 19h1M178 20h1M71 21h2M103 21h1M174 21h2M103 22h2M171 22h1M70 23h1M105 23h8M120 23h1M68 24h1M113 24h1M119 24h1M114 25h1M122 25h1M65 26h1M119 26h2M168 26h1M38 27h1M117 27h1M164 27h3M118 28h1M167 28h1M62 29h1M119 29h1M165 29h1M104 31h3M165 31h1M103 32h2M113 32h2M102 33h1M165 33h1M54 34h1M57 34h1M101 34h1M165 34h1M96 35h5M164 35h1M161 36h3M157 37h3M155 38h1M0 39h34M53 39h1M154 39h1M38 40h2M49 40h1M52 40h2M154 40h1M169 40h3M176 40h2M52 41h1M93 41h1M144 41h4M161 41h1M167 41h2M178 41h2M52 42h1M71 42h10M144 42h2M183 42h5M48 43h3M52 43h2M67 43h1M87 43h4M144 43h3M157 43h1M161 43h1M190 43h5M49 44h5M56 44h5M63 44h2M91 44h2M99 44h22M144 44h3M159 44h2M59 45h5M93 45h1M98 45h2M121 45h1M145 45h1M54 46h1M57 46h1M59 46h1M63 46h1M93 46h1M97 46h2M121 46h1M51 47h5M68 47h1M94 47h4M122 47h1M42 48h16M95 48h2M122 48h1M134 48h12M41 49h7M96 49h1M132 49h2M147 49h1M41 50h6M96 50h2M123 50h1M131 50h1M148 50h2M156 50h1M165 50h1M45 51h5M95 51h3M124 51h1M128 51h3M149 51h5M158 51h2M161 51h2M49 52h5M86 52h10M125 52h2M149 52h3M157 52h1M159 52h1M169 52h1M52 53h4M75 53h11M147 53h2M160 53h1M170 53h1M55 54h1M76 54h1M78 54h2M143 54h3M161 54h1M74 55h2M135 55h2M161 55h1M56 56h1M73 56h1M133 56h2M48 57h3M57 57h1M72 57h1M83 57h1M132 57h1M179 57h1M37 58h10M50 58h2M57 58h1M71 58h1M83 58h3M132 58h1M35 59h2M52 59h2M57 59h1M70 59h1M85 59h1M131 59h1M33 60h2M53 60h4M86 60h2M110 60h1M120 60h5M131 60h1M29 61h5M87 61h5M125 61h1M131 61h1M28 62h2M81 62h1M90 62h3M125 62h2M131 62h1M27 63h2M81 63h2M91 63h2M125 63h2M131 63h1M28 64h2M82 64h3M88 64h5M125 64h2M132 64h1M12 65h9M28 65h17M80 65h1M84 65h7M124 65h3M133 65h9M192 65h13M0 66h10M20 66h2M34 66h12M123 66h1M126 66h1M144 66h5M189 66h3M22 67h1M44 67h3M78 67h1M187 67h2M23 68h2M43 68h3M186 68h1M24 69h21M185 70h1M111 72h1M72 74h1M69 77h1M65 79h4M81 90h1M98 90h3M78 91h1M102 91h1M38 92h2M47 92h1M105 92h10M29 93h2M54 93h2M119 93h6M27 94h1M58 94h3M71 94h2M129 94h1M135 94h1M160 94h3M27 95h1M26 96h1M169 96h1M26 97h1M169 97h2M171 98h1M25 99h1M95 99h5M172 99h1M25 100h1M94 100h2M100 100h1M93 101h2M101 101h1M173 101h1M24 102h1M93 102h1M101 102h1M174 102h1M94 103h1M101 103h1M175 105h1"/>
<path stroke="#fea546" d="M13 0h1M13 1h1M13 2h1M195 4h1M14 5h1M102 5h1M100 6h1M108 6h1M110 6h1M194 6h1M15 7h1M98 7h1M116 7h1M96 8h1M119 8h1M190 8h2M95 9h1M112 9h1M120 9h1M188 9h1M17 10h1M94 10h1M118 10h1M187 10h1M18 11h1M186 11h1M19 12h1M95 12h1M185 12h1M20 13h1M89 13h1M21 14h1M85 14h1M184 14h1M23 15h1M83 15h1M25 16h1M80 16h2M107 16h1M78 17h1M182 17h1M181 18h1M105 19h1M179 19h1M104 20h1M176 20h1M70 21h1M104 21h2M173 21h1M70 22h1M73 22h1M105 22h8M113 23h1M114 24h1M170 24h1M66 25h1M115 25h1M118 27h1M167 27h1M119 28h1M163 28h1M121 30h1M105 32h5M164 32h2M55 33h2M58 33h1M103 33h4M111 33h2M164 33h1M51 34h3M58 34h1M102 34h2M163 34h2M58 35h1M101 35h2M162 35h2M49 36h1M95 36h7M158 36h3M94 37h1M155 37h2M153 38h2M93 39h1M153 39h1M37 40h1M44 40h1M93 40h1M144 40h5M172 40h4M40 41h6M50 41h2M143 41h1M154 41h1M169 41h1M177 41h1M44 42h6M51 42h1M93 42h1M102 42h17M143 42h1M156 42h1M162 42h5M180 42h3M46 43h2M51 43h1M68 43h2M82 43h5M98 43h24M143 43h1M162 43h1M187 43h3M47 44h2M65 44h2M90 44h1M93 44h1M97 44h2M121 44h1M157 44h1M161 44h2M192 44h13M47 45h7M56 45h3M64 45h1M91 45h2M96 45h2M122 45h1M144 45h1M146 45h1M160 45h1M45 46h9M58 46h1M64 46h3M92 46h1M94 46h3M122 46h1M142 46h4M41 47h10M93 47h1M133 47h13M40 48h2M93 48h2M123 48h1M132 48h2M146 48h1M39 49h2M93 49h3M123 49h1M131 49h1M148 49h1M158 49h2M40 50h1M93 50h3M124 50h1M129 50h2M150 50h6M157 50h2M160 50h5M41 51h4M74 51h1M88 51h7M125 51h1M154 51h3M46 52h3M77 52h9M152 52h5M160 52h3M170 52h1M49 53h3M149 53h2M178 53h1M50 54h5M77 54h1M146 54h2M50 55h6M76 55h1M81 55h1M137 55h6M169 55h1M48 56h8M74 56h1M135 56h1M42 57h6M51 57h6M73 57h1M133 57h1M162 57h1M35 58h2M52 58h5M72 58h1M133 58h1M34 59h1M54 59h3M71 59h1M82 59h3M132 59h1M29 60h4M60 60h4M68 60h3M82 60h4M132 60h1M27 61h2M81 61h6M109 61h1M112 61h7M124 61h1M132 61h1M26 62h2M82 62h8M132 62h1M26 63h1M83 63h8M124 63h1M132 63h2M14 64h7M26 64h2M85 64h3M123 64h2M133 64h5M192 64h13M10 65h2M21 65h3M26 65h2M63 65h1M123 65h1M142 65h2M190 65h2M22 66h12M79 66h1M149 66h15M188 66h1M23 67h21M122 67h1M186 67h1M25 68h18M121 68h1M185 68h1M120 69h1M164 73h1M175 75h1M67 78h2M82 90h1M94 90h4M79 91h1M101 91h1M40 92h2M45 92h2M76 92h1M103 92h2M31 93h3M51 93h3M74 93h1M105 93h14M28 94h2M57 94h1M73 94h1M136 94h2M159 94h1M62 95h10M165 95h1M27 96h1M168 97h1M26 98h1M96 98h4M169 98h2M94 99h1M100 99h1M171 99h1M93 100h1M101 100h1M172 100h1M92 101h1M102 101h1M92 102h1M102 102h1M173 102h1M24 103h1M92 103h2M102 103h1M174 103h1M24 104h1M140 104h8M174 104h1M24 105h1"/>
<path stroke="#fd9c42" d="M195 0h1M195 1h1M195 2h1M14 3h1M195 3h1M14 4h1M103 4h3M101 5h1M194 5h1M15 6h1M99 6h1M111 6h1M193 6h1M96 7h2M117 7h2M192 7h1M16 8h1M95 8h1M120 8h1M189 8h1M17 9h1M94 9h1M121 9h1M18 10h1M93 10h1M19 11h1M94 11h1M119 11h1M20 12h1M91 12h1M112 12h1M21 13h1M88 13h1M184 13h1M22 14h1M84 14h1M24 15h1M81 15h1M183 15h1M26 16h3M40 16h1M79 16h1M106 17h1M76 18h1M106 18h1M108 18h1M75 19h1M178 19h1M75 20h1M105 20h2M173 20h3M177 20h1M106 21h7M172 21h1M113 22h1M172 22h1M114 23h1M69 24h1M115 24h2M121 24h1M126 24h2M126 25h2M123 26h1M127 26h2M165 26h3M119 27h3M128 27h1M163 27h1M120 28h3M128 28h1M121 29h2M163 29h2M122 30h1M163 30h2M121 31h1M163 31h2M121 32h1M163 32h1M57 33h1M107 33h4M113 33h8M163 33h1M104 34h18M162 34h1M103 35h15M120 35h2M160 35h2M102 36h7M121 36h1M157 36h1M95 37h11M154 37h1M94 38h12M152 38h1M44 39h1M94 39h24M144 39h5M35 40h2M94 40h26M141 40h3M39 41h1M94 41h28M141 41h2M148 41h1M170 41h3M174 41h3M40 42h4M50 42h1M94 42h8M119 42h4M141 42h2M147 42h1M167 42h2M178 42h2M41 43h5M70 43h4M77 43h5M93 43h5M122 43h1M139 43h4M163 43h2M185 43h2M42 44h5M67 44h1M87 44h3M94 44h3M122 44h1M135 44h9M189 44h3M41 45h6M65 45h1M90 45h1M94 45h2M134 45h10M161 45h1M40 46h5M67 46h1M91 46h1M123 46h1M133 46h9M146 46h1M39 47h2M91 47h2M123 47h1M132 47h1M146 47h2M157 47h1M38 48h2M91 48h2M131 48h1M147 48h1M158 48h1M38 49h1M91 49h2M124 49h1M130 49h1M149 49h2M161 49h3M166 49h1M38 50h2M88 50h5M125 50h1M39 51h2M78 51h10M126 51h2M168 51h1M41 52h5M75 52h2M168 52h1M47 53h2M151 53h7M161 53h2M48 54h2M148 54h2M167 54h1M170 54h1M181 54h1M48 55h2M77 55h1M143 55h3M166 55h1M170 55h1M177 55h1M46 56h2M75 56h1M136 56h1M161 56h1M185 56h1M36 57h6M74 57h1M134 57h1M165 57h1M34 58h1M73 58h1M31 59h3M72 59h1M133 59h1M27 60h2M64 60h4M71 60h1M133 60h1M25 61h2M60 61h1M70 61h1M111 61h1M119 61h5M133 61h1M24 62h2M124 62h1M133 62h1M194 62h11M18 63h8M134 63h2M192 63h13M11 64h3M21 64h5M138 64h5M191 64h1M7 65h3M24 65h2M122 65h1M144 65h3M189 65h1M122 66h1M187 66h1M185 69h1M75 70h1M164 72h1M165 73h1M71 74h1M71 76h1M64 77h1M65 78h2M83 90h2M91 90h3M99 91h2M42 92h3M77 92h1M102 92h1M34 93h3M49 93h2M104 93h1M30 94h1M55 94h2M106 94h16M128 94h1M138 94h1M151 94h1M157 94h2M28 95h1M60 95h2M72 95h1M132 95h1M159 95h6M28 96h1M129 96h1M160 96h9M27 97h1M98 97h2M166 97h2M95 98h1M100 98h2M168 98h1M26 99h1M101 99h2M169 99h2M102 100h1M171 100h1M25 101h1M90 101h2M103 101h1M172 101h1M90 102h2M103 102h2M172 102h1M90 103h2M103 103h1M173 103h1M140 105h8M174 105h1"/>
<path stroke="#fd923e" d="M14 0h1M14 1h1M14 2h1M104 3h1M15 4h1M102 4h1M106 4h1M194 4h1M15 5h1M106 5h1M98 6h1M112 6h1M16 7h1M95 7h1M119 7h1M191 7h1M94 8h1M121 8h1M188 8h1M122 9h1M187 9h1M121 10h1M186 10h1M92 11h2M116 11h1M185 11h1M90 12h1M94 12h1M111 12h1M118 12h1M22 13h1M86 13h2M23 14h1M183 14h1M25 15h1M34 15h1M39 15h1M80 15h1M82 15h1M105 15h1M29 16h1M78 16h1M182 16h1M27 17h1M29 17h1M77 17h1M181 17h1M75 18h1M180 18h1M106 19h4M174 19h2M107 20h6M172 20h1M113 21h1M114 22h1M115 23h1M117 23h1M170 23h1M67 24h1M168 24h2M123 25h1M128 25h1M158 25h11M124 26h2M158 26h7M63 27h1M122 27h6M129 27h1M158 27h5M123 28h5M129 28h1M159 28h4M60 29h2M123 29h7M160 29h3M58 30h4M123 30h6M161 30h2M57 31h3M122 31h7M161 31h2M56 32h3M122 32h7M161 32h2M121 33h7M161 33h2M41 34h1M122 34h2M160 34h2M41 35h1M118 35h2M122 35h1M158 35h2M41 36h1M109 36h12M122 36h1M155 36h2M106 37h17M136 37h3M153 37h1M44 38h1M106 38h17M136 38h4M145 38h1M151 38h1M118 39h6M135 39h9M149 39h4M33 40h2M48 40h1M120 40h4M134 40h7M149 40h5M37 41h2M46 41h4M122 41h3M134 41h7M149 41h1M173 41h1M39 42h1M123 42h2M132 42h9M155 42h1M169 42h2M177 42h1M39 43h2M74 43h3M123 43h1M132 43h7M165 43h2M180 43h5M39 44h3M68 44h1M82 44h5M123 44h1M132 44h3M158 44h1M187 44h2M39 45h2M66 45h1M88 45h2M123 45h1M132 45h2M162 45h1M191 45h14M38 46h2M89 46h2M131 46h2M161 46h1M37 47h2M90 47h1M124 47h1M131 47h1M36 48h2M70 48h1M89 48h2M124 48h1M130 48h1M148 48h1M36 49h2M73 49h1M87 49h4M125 49h2M129 49h1M151 49h6M160 49h1M164 49h2M168 49h1M36 50h2M74 50h1M80 50h8M126 50h3M168 50h1M37 51h2M75 51h3M169 51h3M39 52h2M171 52h4M42 53h5M168 53h1M171 53h3M175 53h1M46 54h2M150 54h2M158 54h1M162 54h2M168 54h1M174 54h1M45 55h3M78 55h3M146 55h2M168 55h1M183 55h1M37 56h9M76 56h2M82 56h1M137 56h4M34 57h2M75 57h1M135 57h1M32 58h2M134 58h1M184 58h1M26 59h5M73 59h1M134 59h1M24 60h3M72 60h1M81 60h1M134 60h1M23 61h2M61 61h2M68 61h2M71 61h2M110 61h1M134 61h1M192 61h13M19 62h5M70 62h2M123 62h1M134 62h2M192 62h2M12 63h6M123 63h1M136 63h5M191 63h1M9 64h2M80 64h1M143 64h2M189 64h2M0 65h7M147 65h19M187 65h2M164 66h1M186 66h1M185 67h1M76 68h1M110 69h1M72 71h3M164 71h1M72 72h3M71 73h3M116 73h1M166 73h1M70 75h2M69 76h2M176 76h4M65 77h4M85 90h6M80 91h1M96 91h3M78 92h1M101 92h1M37 93h2M48 93h1M76 93h1M102 93h2M31 94h3M53 94h2M103 94h3M122 94h6M139 94h2M152 94h1M155 94h2M29 95h2M58 95h2M105 95h5M115 95h11M129 95h1M157 95h2M64 96h9M116 96h10M158 96h2M28 97h1M97 97h1M100 97h2M116 97h10M158 97h8M27 98h1M102 98h1M116 98h11M159 98h5M167 98h1M93 99h1M103 99h1M115 99h12M168 99h1M26 100h1M92 100h1M103 100h2M114 100h14M169 100h2M89 101h1M104 101h25M170 101h2M25 102h1M88 102h2M105 102h24M139 102h6M148 102h7M171 102h1M88 103h2M104 103h25M138 103h16M172 103h1M119 104h3M139 104h1M148 104h1M173 104h1M90 105h5M119 105h3M139 105h1M148 105h1"/>
<path stroke="#fd8439" d="M15 0h1M15 1h1M15 2h1M194 2h1M15 3h1M103 3h1M105 3h1M194 3h1M16 5h1M100 5h1M193 5h1M16 6h1M96 6h2M113 6h2M192 6h1M120 7h1M190 7h1M17 8h1M18 9h1M93 9h1M19 10h1M92 10h1M109 10h1M117 10h1M120 10h1M20 11h1M91 11h1M117 11h1M21 12h1M89 12h1M107 12h1M184 12h1M23 13h1M85 13h1M106 13h1M111 13h1M183 13h1M24 14h2M105 14h2M110 14h1M26 15h3M79 15h1M106 15h2M182 15h1M31 16h1M77 16h1M28 17h1M76 17h1M108 17h2M109 18h1M179 18h1M110 19h4M171 19h3M113 20h2M171 20h1M69 21h1M114 21h1M171 21h1M68 22h2M115 22h1M68 23h2M116 23h1M118 23h1M121 23h1M127 23h1M165 23h5M122 24h4M128 24h1M153 24h15M124 25h2M154 25h4M64 26h1M126 26h1M129 26h1M155 26h3M156 27h2M59 28h4M157 28h2M57 29h3M158 29h2M56 30h2M129 30h2M159 30h2M56 31h1M129 31h2M160 31h1M54 32h2M129 32h2M160 32h1M40 33h1M53 33h2M128 33h2M160 33h1M50 34h1M124 34h6M159 34h1M49 35h1M123 35h4M157 35h1M43 36h1M123 36h1M154 36h1M123 37h1M135 37h1M152 37h1M48 38h1M123 38h1M135 38h1M140 38h5M146 38h5M47 39h2M0 40h16M17 40h16M45 40h1M47 40h1M124 40h1M36 41h1M125 41h1M133 41h1M150 41h4M37 42h2M125 42h1M148 42h2M154 42h1M171 42h6M38 43h1M124 43h2M131 43h1M147 43h1M167 43h2M178 43h2M38 44h1M69 44h3M80 44h2M124 44h1M130 44h2M163 44h2M185 44h2M37 45h2M67 45h2M84 45h4M124 45h1M131 45h1M157 45h1M159 45h1M189 45h2M36 46h2M68 46h1M87 46h2M124 46h1M147 46h1M35 47h2M88 47h2M125 47h1M130 47h1M148 47h1M34 48h2M86 48h3M125 48h2M149 48h2M161 48h4M167 48h1M32 49h4M81 49h6M127 49h2M157 49h1M31 50h5M75 50h5M169 50h2M33 51h4M172 51h7M36 52h3M175 52h4M38 53h4M174 53h1M179 53h1M40 54h6M152 54h6M171 54h3M175 54h1M38 55h7M148 55h1M159 55h1M163 55h3M167 55h1M35 56h2M78 56h2M141 56h3M162 56h1M184 56h1M186 56h1M32 57h2M76 57h1M136 57h1M28 58h4M74 58h2M82 58h1M135 58h1M181 58h1M24 59h2M74 59h1M135 59h1M22 60h2M73 60h1M135 60h1M192 60h13M20 61h3M63 61h5M73 61h1M135 61h1M191 61h1M14 62h5M69 62h1M72 62h1M111 62h12M136 62h3M190 62h2M10 63h2M62 63h1M70 63h3M141 63h2M189 63h2M6 64h3M63 64h1M71 64h1M122 64h1M145 64h2M188 64h1M109 65h1M186 65h1M185 66h1M71 67h1M77 67h1M71 68h2M71 69h5M71 70h4M71 71h1M111 71h1M70 72h2M165 72h1M70 73h1M112 73h4M167 73h2M70 74h1M69 75h1M176 75h5M67 76h2M81 91h2M93 91h3M79 92h1M98 92h3M39 93h1M47 93h1M75 93h1M77 93h1M101 93h1M34 94h2M50 94h3M102 94h1M141 94h1M153 94h2M31 95h1M56 95h2M73 95h1M102 95h3M110 95h5M126 95h2M155 95h2M29 96h2M60 96h4M99 96h3M115 96h1M126 96h2M130 96h1M156 96h2M102 97h1M115 97h1M126 97h2M157 97h1M28 98h1M94 98h1M103 98h1M114 98h2M127 98h1M157 98h2M164 98h3M27 99h1M104 99h2M112 99h3M127 99h2M157 99h5M167 99h1M105 100h9M128 100h2M139 100h3M150 100h8M168 100h1M26 101h1M87 101h2M129 101h2M137 101h20M87 102h1M129 102h2M137 102h2M145 102h3M155 102h2M25 103h1M87 103h1M129 103h2M137 103h1M154 103h2M25 104h1M89 104h7M100 104h2M118 104h1M122 104h1M138 104h1M149 104h1M172 104h1M25 105h1M88 105h2M95 105h3M99 105h3M118 105h1M122 105h1M138 105h1M149 105h1M173 105h1"/>
<path stroke="#fd7435" d="M194 0h1M103 1h2M194 1h1M16 2h1M103 2h3M16 3h1M102 3h1M16 4h1M101 4h1M193 4h1M96 5h4M110 5h1M192 5h1M95 6h1M115 6h2M191 6h1M17 7h1M121 7h1M189 7h1M18 8h1M122 8h1M187 8h1M19 9h1M123 9h1M186 9h1M20 10h1M110 10h4M116 10h1M122 10h1M185 10h1M21 11h1M90 11h1M108 11h1M22 12h2M87 12h2M92 12h2M117 12h1M24 13h2M107 13h1M110 13h1M26 14h3M79 14h2M107 14h1M111 14h1M182 14h1M78 15h1M108 16h2M181 16h1M75 17h1M180 17h1M110 18h4M169 18h6M178 18h1M114 19h1M170 19h1M74 20h1M115 20h1M170 20h1M75 21h1M115 21h2M170 21h1M116 22h3M163 22h8M66 23h2M119 23h1M122 23h5M128 23h1M151 23h14M65 24h2M150 24h3M64 25h2M151 25h3M62 26h2M153 26h2M58 27h5M155 27h1M57 28h2M130 28h1M156 28h1M56 29h1M130 29h2M157 29h1M55 30h1M131 30h1M158 30h1M54 31h2M131 31h1M158 31h2M53 32h1M131 32h1M159 32h1M52 33h1M130 33h2M158 33h2M130 34h2M157 34h2M127 35h4M155 35h2M48 36h1M124 36h4M153 36h1M47 37h2M124 37h2M134 37h1M139 37h9M150 37h2M46 38h2M124 38h1M45 39h2M124 39h2M134 39h1M46 40h1M125 40h1M34 41h2M126 41h1M36 42h1M126 42h1M131 42h1M150 42h4M37 43h1M126 43h1M130 43h1M148 43h2M156 43h1M177 43h1M36 44h2M72 44h8M125 44h2M129 44h1M147 44h1M165 44h2M181 44h4M36 45h1M69 45h1M81 45h3M125 45h2M147 45h1M163 45h1M187 45h2M35 46h1M83 46h4M125 46h2M148 46h1M157 46h1M160 46h1M190 46h15M33 47h2M69 47h1M83 47h5M126 47h2M149 47h1M162 47h2M30 48h4M71 48h2M82 48h4M127 48h3M151 48h5M157 48h1M159 48h2M165 48h1M28 49h4M74 49h7M28 50h3M171 50h12M30 51h3M179 51h5M32 52h4M179 52h4M34 53h4M180 53h1M35 54h5M34 55h4M149 55h2M162 55h1M171 55h6M186 55h1M32 56h3M80 56h2M144 56h3M160 56h1M163 56h1M169 56h1M30 57h2M77 57h3M82 57h1M137 57h3M161 57h1M24 58h4M76 58h1M136 58h1M180 58h1M182 58h1M22 59h2M75 59h1M191 59h14M20 60h2M74 60h1M190 60h2M15 61h5M74 61h1M136 61h2M190 61h1M11 62h3M61 62h2M68 62h1M73 62h1M109 62h2M139 62h3M189 62h1M9 63h1M69 63h1M73 63h1M80 63h1M120 63h3M143 63h2M188 63h1M0 64h6M70 64h1M72 64h2M147 64h21M186 64h2M70 65h4M79 65h1M121 65h1M166 65h1M185 65h1M70 66h4M77 66h2M121 66h1M70 67h1M72 67h5M121 67h1M164 67h1M70 68h1M73 68h3M110 68h1M164 68h1M70 69h1M164 69h1M70 70h1M164 70h1M70 71h1M165 71h1M184 71h1M115 72h3M166 72h1M64 73h1M69 73h1M69 74h1M175 74h1M178 74h4M68 75h1M64 76h3M83 91h2M90 91h3M80 92h1M95 92h3M40 93h2M45 93h2M78 93h1M98 93h3M36 94h2M49 94h1M76 94h1M100 94h2M142 94h2M148 94h3M32 95h3M54 95h2M100 95h2M128 95h1M133 95h1M151 95h4M31 96h1M59 96h1M102 96h2M113 96h2M128 96h1M154 96h2M29 97h2M70 97h2M96 97h1M103 97h2M113 97h2M128 97h2M154 97h3M29 98h1M104 98h10M128 98h2M153 98h4M28 99h1M106 99h6M129 99h2M137 99h6M150 99h7M166 99h1M27 100h1M89 100h3M130 100h2M136 100h3M142 100h8M158 100h1M86 101h1M131 101h1M135 101h2M169 101h1M26 102h1M86 102h1M131 102h1M135 102h2M157 102h1M170 102h1M86 103h1M131 103h1M135 103h2M156 103h1M171 103h1M88 104h1M96 104h4M102 104h1M117 104h1M123 104h1M137 104h1M150 104h1M98 105h1M102 105h1M117 105h1M123 105h1M137 105h1M150 105h1"/>
<path stroke="#fc6430" d="M16 0h2M103 0h2M16 1h2M102 1h1M105 1h1M17 2h1M102 2h1M17 3h1M101 3h1M106 3h1M193 3h1M17 4h1M100 4h1M107 4h1M17 5h1M95 5h1M17 6h2M117 6h2M18 7h2M94 7h1M122 7h1M188 7h1M19 8h2M93 8h1M20 9h2M21 10h2M114 10h2M123 10h1M22 11h3M89 11h1M109 11h6M118 11h1M184 11h1M24 12h2M86 12h1M108 12h3M119 12h1M183 12h1M26 13h5M79 13h1M108 13h2M29 14h1M78 14h1M108 14h2M33 15h1M77 15h1M108 15h4M181 15h1M30 16h1M76 16h1M110 16h1M110 17h5M168 17h6M179 17h1M114 18h2M167 18h2M115 19h1M168 19h2M176 19h2M116 20h1M169 20h1M68 21h1M74 21h1M117 21h3M163 21h7M66 22h2M74 22h1M119 22h8M151 22h12M65 23h1M149 23h2M64 24h1M149 24h1M39 25h1M62 25h2M129 25h1M149 25h2M58 26h4M130 26h1M151 26h2M57 27h1M130 27h2M153 27h2M56 28h1M131 28h2M154 28h2M55 29h1M132 29h1M156 29h1M53 30h2M132 30h1M157 30h1M52 31h2M132 31h2M157 31h1M51 32h2M132 32h2M158 32h1M50 33h2M132 33h2M157 33h1M42 34h1M48 34h2M132 34h1M156 34h1M47 35h2M131 35h2M154 35h1M46 36h2M128 36h15M152 36h1M44 37h3M126 37h6M133 37h1M148 37h2M45 38h1M125 38h4M134 38h1M126 39h3M133 39h1M16 40h1M126 40h3M132 40h2M32 41h2M127 41h2M132 41h1M35 42h1M127 42h2M36 43h1M127 43h3M150 43h3M169 43h3M175 43h2M35 44h1M127 44h2M148 44h2M167 44h2M179 44h2M34 45h2M70 45h2M79 45h2M127 45h4M148 45h1M164 45h2M185 45h2M33 46h2M69 46h1M81 46h2M127 46h4M162 46h3M188 46h2M28 47h5M70 47h2M81 47h2M128 47h2M150 47h1M160 47h2M164 47h2M27 48h3M73 48h2M79 48h3M156 48h1M166 48h1M26 49h2M169 49h3M178 49h6M27 50h1M183 50h2M28 51h2M184 51h1M29 52h3M183 52h2M31 53h3M181 53h3M32 54h3M182 54h1M32 55h2M151 55h5M157 55h2M31 56h1M147 56h1M164 56h5M170 56h1M25 57h5M80 57h2M140 57h3M166 57h1M22 58h2M77 58h5M137 58h1M166 58h2M183 58h1M185 58h1M20 59h2M76 59h3M81 59h1M136 59h1M190 59h1M16 60h4M75 60h2M136 60h2M189 60h1M13 61h2M75 61h1M138 61h3M188 61h2M10 62h1M63 62h5M74 62h2M80 62h1M142 62h2M187 62h2M0 63h9M68 63h1M74 63h2M109 63h11M145 63h2M163 63h5M186 63h2M69 64h1M74 64h6M109 64h1M121 64h1M168 64h1M185 64h1M69 65h1M74 65h5M184 65h1M69 66h1M74 66h3M69 67h1M110 67h1M69 68h1M120 68h1M69 69h1M69 70h1M119 70h1M165 70h1M69 71h1M117 71h2M166 71h1M69 72h1M112 72h3M167 72h1M183 72h1M68 73h1M179 73h4M64 74h1M68 74h1M176 74h2M64 75h4M85 91h5M81 92h1M93 92h2M42 93h3M79 93h1M96 93h2M38 94h1M48 94h1M74 94h2M77 94h1M97 94h3M144 94h4M35 95h1M51 95h3M98 95h2M134 95h10M149 95h2M32 96h2M57 96h2M73 96h1M98 96h1M104 96h3M110 96h3M131 96h1M136 96h6M150 96h4M31 97h1M60 97h2M67 97h3M72 97h2M105 97h8M130 97h2M136 97h6M150 97h4M30 98h1M130 98h3M135 98h8M149 98h4M29 99h1M131 99h6M143 99h7M28 100h1M132 100h4M159 100h1M167 100h1M27 101h1M132 101h3M168 101h1M27 102h1M132 102h3M169 102h1M26 103h1M132 103h3M170 103h1M26 104h1M87 104h1M103 104h2M115 104h2M124 104h2M135 104h2M151 104h1M171 104h1M26 105h1M87 105h1M103 105h2M115 105h2M124 105h2M136 105h1M151 105h1M172 105h1"/>
<path stroke="#fc552c" d="M18 0h13M68 0h27M102 0h1M105 0h1M135 0h38M193 0h1M18 1h13M68 1h27M136 1h37M193 1h1M18 2h13M68 2h28M101 2h1M106 2h1M137 2h37M193 2h1M18 3h13M68 3h20M90 3h7M100 3h1M139 3h6M151 3h22M18 4h13M76 4h3M92 4h8M153 4h20M192 4h1M18 5h13M76 5h2M92 5h3M109 5h1M111 5h1M154 5h19M191 5h1M19 6h12M75 6h2M92 6h3M119 6h2M156 6h16M190 6h1M20 7h10M76 7h4M92 7h2M158 7h13M187 7h1M21 8h9M78 8h2M92 8h1M161 8h10M186 8h1M22 9h7M78 9h2M92 9h1M124 9h1M185 9h1M23 10h5M79 10h2M91 10h1M184 10h1M25 11h3M31 11h1M78 11h2M88 11h1M115 11h1M26 12h2M29 12h2M78 12h2M113 12h4M77 13h2M112 13h4M182 13h1M77 14h1M83 14h1M112 14h4M181 14h1M29 15h1M76 15h1M112 15h4M172 15h1M75 16h1M111 16h6M167 16h7M180 16h1M74 17h1M115 17h2M167 17h1M178 17h1M41 18h1M116 18h2M166 18h1M177 18h1M116 19h3M166 19h2M66 20h5M73 20h1M117 20h5M162 20h7M65 21h3M120 21h8M151 21h12M64 22h2M75 22h1M127 22h2M149 22h2M63 23h2M129 23h1M148 23h1M61 24h3M129 24h3M147 24h2M58 25h4M130 25h3M147 25h2M57 26h1M131 26h8M149 26h2M56 27h1M132 27h9M151 27h2M54 28h2M133 28h7M153 28h1M52 29h3M133 29h6M154 29h2M51 30h2M133 30h5M155 30h2M50 31h2M134 31h4M156 31h1M48 32h3M134 32h4M157 32h1M41 33h1M47 33h3M134 33h4M156 33h1M43 34h5M133 34h6M155 34h1M43 35h4M133 35h8M153 35h1M44 36h2M143 36h4M150 36h2M132 37h1M129 38h5M129 39h4M129 40h3M0 41h32M129 41h3M33 42h2M129 42h2M34 43h2M153 43h3M172 43h3M34 44h1M150 44h2M169 44h1M177 44h2M33 45h1M72 45h7M149 45h1M166 45h2M180 45h5M27 46h6M70 46h3M79 46h2M149 46h2M165 46h1M185 46h3M23 47h5M72 47h3M79 47h2M151 47h5M158 47h2M166 47h1M190 47h5M19 48h8M75 48h4M168 48h1M179 48h6M22 49h4M172 49h6M184 49h2M24 50h3M185 50h1M26 51h2M185 51h1M27 52h2M185 52h1M29 53h2M184 53h1M30 54h2M183 54h2M30 55h2M156 55h1M28 56h3M148 56h2M171 56h8M23 57h2M143 57h2M167 57h3M178 57h1M20 58h2M138 58h3M165 58h1M168 58h2M179 58h1M189 58h16M16 59h4M79 59h2M137 59h2M180 59h10M14 60h2M77 60h4M138 60h2M182 60h7M11 61h2M76 61h5M141 61h2M182 61h6M7 62h3M76 62h4M144 62h1M179 62h1M183 62h4M63 63h1M67 63h1M76 63h4M147 63h16M168 63h2M183 63h3M68 64h1M110 64h3M115 64h6M183 64h2M68 65h1M120 65h1M120 66h1M120 67h1M119 69h1M68 70h1M117 70h2M68 71h1M112 71h5M167 71h1M68 72h1M168 72h2M171 72h1M179 72h4M67 73h1M173 73h1M175 73h4M65 74h3M82 92h2M91 92h2M80 93h1M94 93h2M39 94h1M47 94h1M78 94h1M95 94h2M36 95h2M50 95h1M74 95h4M95 95h3M144 95h5M34 96h2M54 96h3M74 96h3M95 96h3M107 96h3M132 96h4M142 96h2M148 96h2M32 97h2M59 97h1M62 97h1M65 97h2M74 97h2M94 97h2M132 97h4M142 97h2M148 97h2M31 98h2M67 98h8M93 98h1M133 98h2M143 98h6M30 99h3M67 99h7M91 99h2M165 99h1M29 100h3M68 100h7M86 100h1M160 100h1M166 100h1M28 101h4M68 101h7M85 101h1M157 101h1M167 101h1M28 102h4M68 102h6M85 102h1M158 102h1M168 102h1M27 103h4M68 103h6M85 103h1M157 103h1M27 104h4M64 104h8M86 104h1M105 104h10M126 104h9M152 104h4M27 105h4M64 105h8M86 105h1M105 105h10M126 105h10M152 105h4M171 105h1"/>
<path stroke="#f84528" d="M31 0h3M66 0h2M95 0h2M101 0h1M106 0h1M133 0h2M173 0h1M31 1h3M66 1h2M95 1h2M101 1h1M106 1h1M133 1h3M173 1h2M31 2h3M66 2h2M96 2h2M100 2h1M133 2h4M174 2h1M192 2h1M31 3h3M65 3h3M88 3h2M97 3h3M107 3h1M134 3h5M145 3h6M173 3h2M192 3h1M31 4h3M65 4h11M79 4h3M88 4h4M108 4h1M138 4h15M173 4h1M191 4h1M31 5h3M65 5h4M74 5h2M78 5h3M90 5h2M107 5h2M112 5h2M139 5h15M173 5h1M190 5h1M31 6h3M64 6h5M73 6h2M77 6h3M90 6h2M121 6h1M151 6h5M172 6h1M188 6h2M30 7h4M64 7h3M73 7h3M80 7h1M90 7h2M152 7h6M171 7h2M30 8h4M65 8h1M74 8h4M80 8h1M91 8h1M125 8h1M153 8h8M171 8h1M29 9h5M75 9h3M80 9h1M91 9h1M125 9h1M165 9h5M28 10h6M76 10h3M90 10h1M28 11h1M32 11h1M77 11h1M183 11h1M28 12h1M31 12h1M77 12h1M182 12h1M31 13h1M76 13h1M80 13h1M84 13h1M116 13h2M181 13h1M30 14h2M76 14h1M116 14h2M172 14h1M30 15h3M75 15h1M116 15h2M180 15h1M74 16h1M117 16h1M166 16h1M178 16h2M41 17h1M66 17h1M117 17h2M166 17h1M174 17h1M177 17h1M66 18h3M74 18h1M118 18h2M165 18h1M175 18h1M41 19h1M65 19h10M119 19h5M157 19h9M41 20h1M64 20h2M71 20h2M122 20h8M151 20h11M64 21h1M128 21h3M149 21h2M63 22h1M129 22h3M148 22h1M61 23h2M130 23h3M146 23h2M58 24h3M132 24h15M57 25h1M133 25h14M55 26h2M139 26h10M54 27h2M141 27h3M149 27h2M51 28h3M140 28h3M152 28h1M39 29h1M49 29h3M139 29h3M153 29h1M39 30h1M48 30h3M138 30h3M154 30h1M40 31h1M47 31h3M138 31h3M155 31h1M40 32h8M138 32h2M155 32h2M42 33h5M138 33h2M155 33h1M139 34h2M154 34h1M141 35h3M152 35h1M147 36h3M0 42h33M32 43h2M30 44h4M152 44h5M170 44h2M176 44h1M13 45h20M150 45h4M168 45h1M178 45h2M11 46h16M73 46h6M151 46h5M159 46h1M166 46h2M180 46h5M13 47h10M75 47h4M156 47h1M167 47h1M179 47h11M195 47h10M14 48h5M169 48h3M176 48h3M185 48h3M15 49h7M186 49h1M16 50h8M186 50h1M18 51h8M186 51h1M25 52h2M27 53h2M185 53h1M28 54h2M185 54h1M27 55h3M184 55h2M23 56h5M150 56h3M159 56h1M20 57h3M145 57h2M170 57h8M185 57h3M16 58h4M141 58h3M164 58h1M170 58h1M176 58h3M186 58h3M14 59h2M139 59h3M177 59h3M12 60h2M140 60h3M178 60h4M8 61h3M143 61h1M178 61h3M0 62h7M145 62h2M160 62h11M178 62h1M64 63h3M67 64h1M113 64h2M110 65h3M117 65h3M167 65h1M68 66h1M110 66h1M119 66h1M165 66h1M184 66h1M68 67h1M119 67h1M68 68h1M118 68h2M165 68h1M68 69h1M117 69h2M165 69h1M111 70h6M166 70h1M183 70h2M67 71h1M168 71h1M179 71h5M64 72h1M67 72h1M170 72h1M177 72h2M65 73h2M174 73h1M84 92h7M81 93h1M92 93h2M40 94h3M44 94h3M79 94h1M93 94h2M38 95h1M48 95h2M78 95h1M93 95h2M36 96h1M51 96h3M77 96h1M92 96h3M144 96h4M34 97h2M57 97h2M63 97h2M76 97h2M91 97h3M144 97h4M33 98h2M61 98h6M75 98h2M90 98h3M33 99h1M65 99h2M74 99h1M89 99h2M162 99h3M32 100h2M65 100h3M75 100h1M85 100h1M87 100h2M165 100h1M32 101h2M65 101h3M75 101h2M158 101h1M32 102h2M65 102h3M74 102h3M84 102h1M159 102h1M31 103h2M65 103h3M74 103h2M84 103h1M158 103h1M169 103h1M31 104h2M62 104h2M72 104h2M85 104h1M156 104h3M170 104h1M31 105h2M62 105h2M72 105h2M85 105h1M156 105h3"/>
<path stroke="#f13824" d="M34 0h2M64 0h2M97 0h4M132 0h1M174 0h1M192 0h1M34 1h2M64 1h2M97 1h4M132 1h1M192 1h1M34 2h2M64 2h2M98 2h2M107 2h1M132 2h1M34 3h2M64 3h1M132 3h2M191 3h1M34 4h2M64 4h1M82 4h6M109 4h1M133 4h3M174 4h1M190 4h1M34 5h2M63 5h2M69 5h5M81 5h3M86 5h4M114 5h3M134 5h3M138 5h1M174 5h1M189 5h1M34 6h2M61 6h3M69 6h4M80 6h2M88 6h2M122 6h2M143 6h8M173 6h1M187 6h1M34 7h2M61 7h3M67 7h3M72 7h1M89 7h1M123 7h3M146 7h6M173 7h1M186 7h1M34 8h2M60 8h5M66 8h3M73 8h1M89 8h2M124 8h1M126 8h1M172 8h1M185 8h1M34 9h2M59 9h9M74 9h1M89 9h2M126 9h1M163 9h2M170 9h2M184 9h1M59 10h3M75 10h1M89 10h1M124 10h1M183 10h1M29 11h2M33 11h1M57 11h4M76 11h1M80 11h1M87 11h1M120 11h1M182 11h1M32 12h1M58 12h2M75 12h2M181 12h1M32 13h2M75 13h1M118 13h2M32 14h8M75 14h1M81 14h2M118 14h2M180 14h1M40 15h2M65 15h3M74 15h1M118 15h2M167 15h3M171 15h1M179 15h1M41 16h2M65 16h3M118 16h2M177 16h1M42 17h1M65 17h1M67 17h3M119 17h2M164 17h2M42 18h2M64 18h2M69 18h5M120 18h8M156 18h9M42 19h2M63 19h2M124 19h7M152 19h5M42 20h1M63 20h1M130 20h2M149 20h2M41 21h2M62 21h2M131 21h2M148 21h1M41 22h1M60 22h3M132 22h3M146 22h2M58 23h3M133 23h13M40 24h1M57 24h1M55 25h2M39 26h1M54 26h1M39 27h1M50 27h4M144 27h5M39 28h1M48 28h3M143 28h2M149 28h3M40 29h1M47 29h2M142 29h2M152 29h1M40 30h2M46 30h2M141 30h2M153 30h1M41 31h6M141 31h1M154 31h1M140 32h2M154 32h1M140 33h2M154 33h1M141 34h2M153 34h1M144 35h3M150 35h2M0 43h32M0 44h30M172 44h4M0 45h13M154 45h3M158 45h1M169 45h2M177 45h1M0 46h11M156 46h1M158 46h1M168 46h2M178 46h2M6 47h7M168 47h3M177 47h2M10 48h4M172 48h4M188 48h5M13 49h2M187 49h1M14 50h2M187 50h1M15 51h3M17 52h8M186 52h1M20 53h7M186 53h1M23 54h5M186 54h1M22 55h5M187 55h1M18 56h5M153 56h6M187 56h2M16 57h4M147 57h3M160 57h1M188 57h8M14 58h2M144 58h1M162 58h2M171 58h5M13 59h1M142 59h2M164 59h13M9 60h3M143 60h1M163 60h12M0 61h8M144 61h2M161 61h11M173 61h1M147 62h7M155 62h5M180 62h1M182 62h1M179 63h1M64 64h3M66 65h2M113 65h4M67 66h1M111 66h8M67 67h1M111 67h2M117 67h2M165 67h1M184 67h1M67 68h1M111 68h3M116 68h2M67 69h1M111 69h6M166 69h1M181 69h4M66 70h2M167 70h2M179 70h4M64 71h3M169 71h1M178 71h1M65 72h2M172 72h5M82 93h10M43 94h1M80 94h2M90 94h3M39 95h1M47 95h1M79 95h2M90 95h3M37 96h1M49 96h2M78 96h1M90 96h2M36 97h1M52 97h1M54 97h3M78 97h1M89 97h2M35 98h1M77 98h1M89 98h1M34 99h2M63 99h2M75 99h1M88 99h1M34 100h1M64 100h1M161 100h1M164 100h1M34 101h1M64 101h1M77 101h1M84 101h1M159 101h2M166 101h1M34 102h1M64 102h1M77 102h1M83 102h1M160 102h1M167 102h1M33 103h1M64 103h1M76 103h2M159 103h2M168 103h1M33 104h1M61 104h1M74 104h2M159 104h2M169 104h1M61 105h1M74 105h2M159 105h2M170 105h1"/>
<path stroke="#eb2b21" d="M36 0h1M63 0h1M130 0h2M191 0h1M36 1h1M62 1h2M107 1h1M130 1h2M175 1h1M191 1h1M36 2h1M62 2h2M130 2h2M175 2h1M190 2h2M36 3h1M62 3h2M108 3h1M131 3h1M175 3h1M189 3h2M36 4h1M61 4h3M110 4h2M131 4h2M137 4h1M188 4h2M36 5h1M61 5h2M84 5h2M117 5h4M132 5h2M187 5h2M36 6h1M59 6h2M82 6h6M124 6h3M134 6h3M142 6h1M174 6h1M185 6h2M36 7h1M59 7h2M70 7h2M81 7h3M86 7h3M126 7h2M145 7h1M184 7h2M36 8h2M56 8h4M69 8h1M72 8h1M81 8h1M87 8h2M123 8h1M127 8h1M152 8h1M173 8h1M184 8h1M36 9h1M56 9h3M68 9h2M73 9h1M81 9h1M88 9h1M127 9h2M154 9h9M172 9h1M183 9h1M34 10h1M56 10h3M62 10h10M74 10h1M81 10h1M88 10h1M125 10h1M156 10h6M182 10h1M34 11h1M55 11h2M61 11h9M75 11h1M81 11h1M181 11h1M33 12h6M56 12h2M60 12h9M80 12h4M85 12h1M120 12h1M180 12h1M34 13h7M57 13h13M74 13h1M81 13h3M120 13h1M180 13h1M40 14h3M58 14h3M63 14h6M73 14h2M120 14h1M166 14h1M179 14h1M42 15h2M63 15h2M68 15h2M71 15h3M120 15h2M164 15h3M170 15h1M173 15h1M178 15h1M43 16h1M63 16h2M68 16h6M120 16h3M162 16h4M43 17h2M63 17h2M70 17h4M121 17h9M155 17h9M44 18h1M62 18h2M128 18h4M153 18h3M176 18h1M44 19h1M62 19h1M131 19h2M150 19h2M43 20h2M61 20h2M132 20h2M148 20h1M43 21h2M59 21h3M133 21h4M145 21h3M42 22h3M58 22h2M135 22h11M41 23h3M56 23h2M41 24h2M55 24h2M40 25h2M53 25h2M40 26h1M48 26h6M40 27h2M47 27h3M40 28h2M46 28h2M145 28h4M41 29h6M144 29h2M150 29h2M42 30h4M143 30h2M152 30h1M142 31h2M153 31h1M142 32h1M153 32h1M142 33h2M153 33h1M143 34h2M151 34h2M147 35h3M172 45h5M170 46h1M176 46h2M0 47h6M171 47h1M173 47h4M6 48h4M193 48h3M9 49h4M188 49h2M12 50h2M188 50h1M14 51h1M187 51h1M15 52h2M187 52h1M16 53h4M187 53h1M16 54h7M187 54h1M16 55h6M188 55h1M15 56h3M189 56h3M14 57h2M150 57h2M159 57h1M196 57h9M13 58h1M145 58h2M161 58h1M10 59h3M144 59h2M162 59h2M0 60h9M144 60h2M161 60h2M177 60h1M146 61h4M159 61h2M172 61h1M181 61h1M154 62h1M171 62h1M170 63h1M182 63h1M182 64h1M64 65h2M183 65h1M64 66h3M64 67h3M113 67h4M166 67h1M64 68h3M114 68h2M166 68h2M181 68h4M64 69h3M167 69h2M179 69h2M64 70h2M169 70h1M178 70h1M170 71h3M175 71h3M82 94h8M40 95h2M45 95h2M81 95h2M88 95h2M38 96h1M48 96h1M79 96h3M88 96h2M37 97h1M50 97h2M53 97h1M79 97h1M87 97h2M36 98h1M60 98h1M78 98h1M86 98h3M61 99h2M76 99h2M85 99h3M35 100h1M62 100h2M76 100h2M84 100h1M162 100h2M35 101h1M62 101h2M78 101h1M83 101h1M161 101h5M62 102h2M78 102h2M82 102h1M161 102h2M165 102h2M34 103h1M62 103h2M78 103h2M82 103h2M161 103h2M166 103h2M60 104h1M76 104h2M83 104h2M161 104h2M167 104h2M33 105h1M60 105h1M76 105h2M83 105h2M161 105h1M168 105h2"/>
<path stroke="#e51e1d" d="M37 0h26M107 0h1M129 0h1M175 0h1M181 0h10M37 1h25M129 1h1M181 1h10M37 2h25M108 2h1M129 2h1M180 2h10M37 3h25M109 3h1M129 3h2M179 3h10M37 4h24M129 4h2M136 4h1M175 4h1M179 4h9M37 5h24M121 5h2M128 5h4M137 5h1M175 5h1M179 5h8M37 6h22M127 6h7M137 6h1M141 6h1M179 6h6M37 7h22M84 7h2M128 7h4M174 7h1M179 7h5M38 8h18M70 8h2M82 8h5M128 8h1M151 8h1M178 8h6M37 9h5M46 9h10M70 9h3M82 9h6M153 9h1M173 9h1M178 9h5M35 10h6M52 10h4M72 10h2M82 10h6M126 10h3M154 10h2M162 10h5M178 10h4M35 11h7M53 11h2M70 11h5M82 11h5M121 11h8M154 11h13M178 11h3M39 12h3M54 12h2M69 12h6M84 12h1M121 12h8M155 12h13M179 12h1M41 13h2M55 13h2M70 13h4M121 13h8M155 13h13M43 14h1M56 14h2M61 14h2M69 14h4M121 14h9M155 14h11M167 14h2M44 15h1M57 15h6M70 15h1M122 15h9M155 15h9M176 15h2M44 16h2M58 16h5M123 16h9M154 16h8M174 16h1M176 16h1M45 17h1M59 17h4M130 17h3M153 17h2M175 17h2M45 18h1M59 18h3M132 18h2M150 18h3M45 19h2M59 19h3M133 19h2M148 19h2M45 20h2M58 20h3M134 20h5M144 20h4M45 21h3M57 21h2M137 21h8M45 22h4M56 22h2M44 23h6M55 23h1M43 24h12M42 25h11M41 26h7M42 27h5M42 28h4M146 29h4M145 30h1M150 30h2M144 31h1M151 31h2M143 32h2M152 32h1M144 33h1M152 33h1M145 34h6M171 45h1M171 46h5M172 47h1M0 48h6M196 48h9M6 49h3M190 49h3M8 50h4M189 50h1M12 51h2M188 51h1M13 52h2M188 52h1M14 53h2M188 53h1M15 54h1M188 54h1M15 55h1M189 55h2M14 56h1M192 56h2M13 57h1M152 57h3M156 57h3M10 58h3M147 58h3M159 58h2M0 59h10M146 59h2M160 59h2M146 60h3M159 60h2M176 60h1M150 61h4M155 61h4M181 62h1M178 63h1M180 63h2M169 64h1M181 64h1M181 65h2M166 66h2M180 66h4M167 67h1M179 67h5M168 68h1M179 68h2M169 69h1M178 69h1M170 70h2M176 70h2M173 71h2M42 95h3M83 95h5M39 96h2M47 96h1M82 96h6M38 97h1M49 97h1M80 97h7M37 98h1M58 98h2M79 98h7M36 99h1M58 99h3M78 99h7M36 100h1M59 100h3M78 100h6M59 101h3M79 101h4M35 102h1M59 102h3M80 102h2M163 102h2M59 103h3M80 103h2M163 103h3M34 104h1M59 104h1M78 104h5M163 104h4M78 105h5M162 105h6"/>
<path stroke="#db141e" d="M128 0h1M176 0h1M178 0h3M108 1h1M128 1h1M176 1h5M128 2h1M176 2h4M128 3h1M176 3h3M112 4h3M127 4h2M176 4h3M123 5h5M176 5h3M175 6h4M132 7h3M144 7h1M175 7h4M129 8h3M148 8h3M174 8h4M42 9h4M129 9h3M151 9h2M174 9h4M41 10h2M49 10h3M129 10h2M152 10h2M167 10h2M176 10h2M42 11h2M49 11h4M129 11h2M153 11h1M167 11h2M42 12h2M50 12h4M129 12h2M153 12h2M168 12h1M178 12h1M43 13h2M52 13h3M129 13h2M153 13h2M168 13h2M179 13h1M44 14h2M54 14h2M130 14h2M153 14h2M169 14h3M173 14h1M178 14h1M45 15h2M55 15h2M131 15h2M153 15h2M46 16h1M56 16h2M132 16h2M152 16h2M175 16h1M46 17h2M57 17h2M133 17h2M151 17h2M46 18h2M57 18h2M134 18h2M148 18h2M47 19h2M57 19h2M135 19h13M47 20h3M56 20h2M139 20h5M48 21h3M56 21h1M49 22h4M54 22h2M50 23h5M146 30h4M145 31h6M145 32h2M150 32h2M145 33h3M149 33h3M3 49h3M193 49h2M6 50h2M190 50h2M8 51h4M189 51h2M11 52h2M189 52h1M13 53h1M189 53h1M13 54h2M189 54h2M13 55h2M191 55h2M12 56h2M194 56h3M10 57h3M155 57h1M4 58h6M150 58h3M158 58h1M148 59h3M158 59h2M149 60h3M157 60h2M175 60h1M154 61h1M174 61h1M177 61h1M177 62h1M179 64h2M168 65h2M179 65h2M168 66h1M178 66h2M168 67h2M178 67h1M169 68h1M177 68h2M170 69h2M176 69h2M172 70h4M41 96h2M44 96h3M39 97h1M48 97h1M38 98h1M56 98h2M37 99h1M56 99h2M37 100h1M57 100h2M36 101h1M57 101h2M36 102h1M57 102h2M35 103h1M57 103h2M35 104h1M58 104h1M34 105h1M59 105h1"/>
<path stroke="#d10e21" d="M108 0h1M127 0h1M177 0h1M127 1h1M109 2h1M127 2h1M110 3h1M126 3h2M115 4h12M138 6h1M140 6h1M141 7h3M132 8h1M143 8h5M147 9h4M43 10h6M131 10h2M150 10h2M169 10h1M44 11h5M131 11h1M151 11h2M169 11h1M177 11h1M44 12h6M131 12h1M152 12h1M169 12h2M45 13h7M131 13h2M152 13h1M170 13h1M178 13h1M46 14h8M132 14h2M152 14h1M174 14h4M47 15h3M53 15h2M133 15h2M151 15h2M174 15h2M47 16h3M55 16h1M134 16h2M150 16h2M48 17h2M55 17h2M135 17h2M148 17h3M48 18h3M55 18h2M136 18h12M49 19h3M55 19h2M50 20h3M54 20h2M51 21h5M53 22h1M147 32h3M148 33h1M0 49h3M195 49h2M4 50h2M192 50h1M6 51h2M191 51h1M8 52h3M190 52h1M10 53h3M190 53h1M11 54h2M191 54h1M11 55h2M193 55h1M9 56h3M197 56h8M5 57h5M0 58h4M153 58h5M151 59h3M156 59h2M152 60h5M175 61h2M172 62h2M176 62h1M171 63h3M177 63h1M170 64h3M177 64h2M170 65h2M177 65h2M169 66h3M177 66h1M170 67h2M176 67h2M170 68h3M175 68h2M172 69h4M43 96h1M40 97h2M46 97h2M39 98h1M48 98h8M38 99h1M54 99h2M38 100h1M55 100h2M37 101h1M55 101h2M55 102h2M36 103h1M55 103h2M57 104h1M35 105h1M58 105h1"/>
<path stroke="#c80723" d="M126 0h1M109 1h1M126 1h1M110 2h1M125 2h2M111 3h2M124 3h2M139 6h1M139 7h2M133 8h1M140 8h3M132 9h1M143 9h4M146 10h4M170 10h2M174 10h2M132 11h1M148 11h3M170 11h2M176 11h1M132 12h2M150 12h2M171 12h7M133 13h1M150 13h2M171 13h7M134 14h1M150 14h2M50 15h3M135 15h1M149 15h2M50 16h5M136 16h2M146 16h4M50 17h5M137 17h11M51 18h4M52 19h3M53 20h1M197 49h8M0 50h4M193 50h2M4 51h2M192 51h1M6 52h2M191 52h2M7 53h3M191 53h2M8 54h3M192 54h2M7 55h4M194 55h2M6 56h3M0 57h5M154 59h2M174 62h2M174 63h3M173 64h4M172 65h5M172 66h5M172 67h4M173 68h2M42 97h4M40 98h2M46 98h2M39 99h2M49 99h5M39 100h1M50 100h5M38 101h2M51 101h4M37 102h2M52 102h3M37 103h1M53 103h2M36 104h1M54 104h3M36 105h1M56 105h2"/>
<path stroke="#be0126" d="M109 0h1M125 0h1M110 1h1M124 1h2M111 2h1M124 2h1M113 3h11M135 7h4M134 8h2M138 8h2M133 9h2M140 9h3M133 10h2M143 10h3M172 10h2M133 11h2M145 11h3M172 11h4M134 12h1M145 12h5M134 13h2M146 13h4M135 14h2M145 14h5M136 15h2M144 15h5M138 16h8M195 50h2M0 51h4M193 51h1M4 52h2M193 52h1M5 53h2M193 53h1M6 54h2M194 54h1M5 55h2M196 55h9M1 56h5M42 98h4M41 99h3M47 99h2M40 100h2M48 100h2M40 101h2M49 101h2M39 102h2M49 102h3M38 103h3M49 103h4M37 104h4M51 104h3M37 105h4M51 105h5"/>
<path stroke="#ae0026" d="M110 0h1M123 0h2M111 1h1M123 1h1M112 2h1M122 2h2M136 8h2M135 9h5M135 10h2M140 10h3M135 11h1M142 11h3M135 12h2M143 12h2M136 13h1M143 13h3M137 14h2M142 14h3M138 15h6M197 50h8M194 51h2M0 52h4M194 52h1M3 53h2M194 53h1M4 54h2M195 54h2M2 55h3M0 56h1M44 99h3M42 100h3M46 100h2M42 101h2M47 101h2M41 102h3M48 102h1M41 103h2M48 103h1M41 104h2M49 104h2M41 105h2M49 105h2"/>
<path stroke="#9f0026" d="M111 0h1M122 0h1M112 1h1M121 1h2M113 2h9M137 10h3M136 11h6M137 12h6M137 13h6M139 14h3M196 51h9M195 52h2M0 53h3M195 53h2M0 54h4M197 54h8M0 55h2M45 100h1M44 101h3M44 102h4M43 103h5M43 104h2M47 104h2M43 105h2M48 105h1"/>
<path stroke="#8f0026" d="M112 0h10M113 1h8M197 52h8M197 53h8M45 104h2M45 105h3"/>
</g>
</g></g>
<path clip-path="url(#cl0)" d="M504.3 273.7 502 272.4 500.2 270.2 495.2 270.8 493.9 265.5 496.2 257.6 494.9 252.3 497.3 250.7 504.1 250.1 508.9 250.4 513.4 251 515.5 246.7 515.5 242 513.1 238.9 506.7 235.2 513.6 234.3 514.6 231.2 518.7 231.8 523.1 227.2 524.3 227.2 528.3 224.2 529.9 221.2 534.6 220 539 218.5 538 213.7 538.2 208.9 542.7 207.1 542.3 211.6 541.8 215.2 542.4 217 544.2 218.2 546.9 217.6 551.9 218.5 562.4 217 567.5 213.1 566.9 210.7 567.9 208 573.8 209.2 574 205.1 571.5 203.3 574.2 202.2 581.3 201.9 586 200.7 582.1 198.4 574.2 199.9 569.9 201 568.1 199.3 565.3 191.5 572.7 186.2 569.5 184 565.3 184.5 562.2 189.6 556.2 193.5 556.6 198.4 561 202.5 555.9 204.8 556.2 210.1 554.5 211.6 548.7 213.4 547.9 212.2 545.6 207.1 543.7 203.3 542.4 200.7 541 203.3 536.7 206 531.4 203.6 530.3 199.3 529.5 196.1 532 193.3 535.8 190.4 541.9 186.8 548.3 179.9 546.3 178 556.8 173.4 565.7 170.8 569.6 169.8 580.7 171.6 585.3 174.2 591.6 175 603 178.5 602.3 182.6 586 180.4 591.4 184.8 600 189 604.9 187.3 608.6 182.6 606.8 176.1 613.3 178.5 628.1 177.2 629.4 175.6 636.7 175.8 640.3 173.2 652.6 175.3 653.3 171.3 651.9 166.1 653 164.9 657.8 166.1 664.1 172.6 669.8 180.7 670.8 176.6 665.5 167.4 670.4 166.1 675.3 167.4 674.2 163.6 682.7 162.3 682.2 159.9 694.6 157.4 706.7 153.3 715.3 156.2 727.7 158.6 734.8 162.8 731.4 164.9 748.8 164.9 761 163.9 771.4 167.4 772.7 168.5 780.5 170 786.8 168.7 791.2 166.1 803.6 166.7 814.4 168.7 822.2 170 843.8 174 854.8 173.2 861.8 173.4 870.9 173.2 884.8 175.6 900 185.7 896.7 187.1 908.5 193.3 899.2 196.1 898 200.4 889.1 200.4 888.6 204.8 893.5 212.2 893.5 216.7 895 221.2 896 227.2 882.6 215.2 877.2 207.7 874 199 873.7 193.3 865.2 195.2 865.1 201.9 856.4 201.6 840 202.2 838.1 213.7 840.9 218.2 855.3 222.7 861.3 233.4 861.1 241.1 860 248.8 852.9 251.7 849.7 255.7 850.8 258.9 848.3 263.9 855.9 269.2 858.1 274 858.3 276.8 851.9 277.8 850.2 274 848.6 269.2 842.9 267.7 841.4 262.9 839.2 261.7 832.5 259.8 833.5 264.8 831 262.9 829 258.9 826.8 261.7 823.5 264.5 826.8 267.7 828.8 269.2 835 269.2 838 269.6 834.5 274 833.9 278.4 838.5 283.5 844.5 289.5 845.8 293.3 844.4 299.3 843.1 305.6 840.1 310.4 837 314.2 830.8 317.3 821 320.8 820.9 323.7 818.9 319.9 814.3 319.9 811.1 322.1 809.4 328.7 817.5 337 821.2 344.2 821.7 349.3 819.1 353.4 816.5 355.3 815 357.5 810.4 360.7 810.7 356.3 808.3 354.4 806.4 354.4 802.9 349.3 798.5 347.1 797.2 345.2 795.8 348 794.5 355.3 795 358.8 799 365.1 803.7 368.6 807 375.9 809.7 383.2 808.9 383.8 804.1 380.9 801.5 378.4 798.4 370.8 797.5 367.3 792.5 362.9 792.9 356.3 792.2 348.7 790.6 343.3 788 335.7 783.7 336.6 779.4 337.3 778.1 329.4 773.5 324.3 770.5 320.2 769.6 317.3 766.1 318.3 760.8 319.5 757.1 322.1 754.2 325.2 748.1 331.9 745.7 335.4 742.8 336.6 740.5 340.4 741.3 346.4 740.2 350.2 740.8 355.3 739.3 358.5 736.3 360.1 734.5 362.3 730.8 356.3 729.2 352.1 726.1 347.1 722.6 339.2 718.7 327.8 718.3 323.3 717.4 320.8 715.9 318.9 713.2 322.4 709.1 319.5 707.2 317.3 706.7 315.1 704.8 313.2 702.5 312 700.8 309.4 687.9 308.5 683.2 307.8 675.5 306.9 670.8 301.8 664.8 303.7 655.3 296.4 652.6 292.6 648.7 293.3 647.6 294.9 654.3 304.4 658.6 305.9 659 310.1 666.7 310.7 668.8 307.8 671.1 304.4 678.4 313.2 682 317 679 323 675.3 328.4 667.8 334.1 662.8 337.6 654.5 342 643.4 347.4 639 348 636.7 341.1 635.8 334.4 631.2 326.2 625.9 319.9 622.3 311.6 619 307.2 615.1 301.5 612.6 294.5 611.1 299.6 606 293.3 610 301.8 613.7 308.8 615.6 313.5 620.7 325.9 624.6 330.9 627.7 338.5 637 346.8 638.3 351.2 643.7 355 653.3 352.5 661 350.6 661.5 355 657.9 364.2 653.9 371.8 648.4 379 645.1 381.6 637.3 389.2 632.8 395.2 629.4 400.9 628.1 409.4 628.5 416.4 631.1 422.7 630.9 429 631.2 433.8 629 438.5 620.2 444.5 614.1 450.6 615.1 457.5 615.3 463.5 607.8 470.2 606.4 478.1 601.7 482.5 592.6 492.3 586.2 495.5 576.7 496.1 571.3 498 567.2 495.8 566 492.3 564.1 482.8 563 478.4 559.7 472.1 558.1 460.4 554.2 451.2 551 442.6 552 436 555.7 427.8 555.3 415.7 552.8 406.9 551.7 403.1 545 394.2 544.8 386.6 545.9 381.9 545.6 375.2 541.7 372.4 535.5 374.3 528 367.6 525.2 368 521.8 368.6 517.9 370.5 515.2 371.8 507.3 371.1 497.6 374 488.4 368 481.7 361 480.4 357.8 475.2 350.2 471.9 345.2 470 341.4 472.9 337.3 474.4 330.6 471.9 322.1 475.1 312.9 479.2 305.3 483.7 299.6 488.9 297.1 492.2 294.5 492.8 291.7 492.3 288.2 494 285.7 498.4 281.6 500.5 280.3 502.2 276.5 503.3 274.6 504.6 274.3 508 276.5 510.9 276.2 516.9 274.9 526.6 271.5 531.8 271.5 538.9 271.1 544.3 269.9 547.2 270.5 546.3 274.6 547 278.1 545.2 280.6 547.6 281.3 553.6 283.8 558.7 285.4 562.9 289.2 568.1 291.4 572.1 286.3 577 283.8 582.5 286.3 585.8 287.9 591.2 288.5 598.4 289.2 601.3 287.9 604.8 288.9 608.9 289.5 610.4 288.2 611.2 286.3 611.5 284.1 612.5 280.6 613.1 279 612.7 275.6 612.6 273 613.3 272.1 609 271.5 603.8 273.7 598.8 271.1 591.8 271.8 590.1 270.8 588.1 266.1 586.2 262.9 586.2 261.1 593 257.6 608 255.1 611.4 257.3 621 258.2 624.8 256.3 618.8 250.1 613.4 246.7 610 244.8 612.8 241.1 615.6 238.9 606.6 241.1 606.2 245.7 602.6 247 599.7 244.2 594.8 241.4 592.8 245.1 590.7 248.2 589.1 251.3 588.4 253.5 592.5 257.6 585.8 259.8 585 258.9 581.1 258.5 579.8 261.4 577.3 259.5 577.1 262.9 578.2 266.1 580.2 267.7 578.7 272.4 576.1 272.1 574.6 269.2 574.4 266.7 572 263.9 568.4 260.1 568.1 257.3 566.4 254.5 564.5 253.2 560 250.4 556.8 248.5 554.5 244.8 552.9 243.9 549.2 244.5 550.2 248.5 552.6 250.1 554.6 253.5 559.6 255.4 561.8 257.9 564.5 259.5 566.1 261.1 564.9 261.4 562.7 260.1 561.1 262.6 562.8 264.2 561.3 266.4 559.1 267.7 559.5 265.5 558.9 261.4 556.5 259.5 554.9 258.9 553.1 257.6 549.7 256 546.7 253.8 544.5 250.4 543.2 248.5 540.9 247.6 537.4 249.5 536.9 249.8 533.4 251.7 532.2 251 528.6 250.4 526.1 252.9 526.7 255.4 524.1 257 521.6 257.9 520.8 259.2 517.7 262.9 519 265.5 517.2 266.7 515.9 268.9 512 271.5 507 271.8ZM176.8 177.2 194.4 171.8 208.8 169 222.6 171.6 234.2 173.4 245.1 174.5 259.4 172.6 269 172.1 279.7 175.3 288.3 178 299.8 176.6 312.9 178 331.8 167.9 329.5 175.3 334.5 176.6 349.4 173.2 351 178 339.8 182.1 337.7 182.1 330.6 187.6 318.6 192.4 310.6 197.5 305.8 203.9 306.5 209.2 315.7 210.7 320.4 214.6 323.1 221.5 324.8 226.3 328.9 225.7 332.6 216.7 339.5 213.7 343 204.8 348.2 193.8 359.1 193.8 363.7 197.5 361.6 203.9 373.8 199.6 376.9 207.7 379 213.7 383.9 222.7 381.7 225.7 373.1 229.7 357.2 230.3 347.8 235.8 361.2 234 358.1 238 357.6 241.1 366.4 243.2 369.3 242 358.8 247 351.7 249.5 350.6 245.7 346.1 248.2 341.2 250.1 338.1 254.2 339.8 256 335.6 257 328.3 259.8 324.5 264.8 321.6 269.2 319.9 270.8 319.7 276.5 313.7 279.4 306.1 284.1 302.6 286.6 300.3 292 301.1 298 301 306.3 298.2 308.5 295.1 299.9 294.1 294.5 292.5 293 284.8 291.7 282.7 291.4 278.4 295.8 273.7 295.2 263.5 295.2 255.7 299.9 253.6 307.2 251 317.3 254.3 327.1 258.5 330.6 269.9 325.2 271 321.4 272.8 320.5 278.9 319.9 280.7 320.8 276.8 329.4 275.1 334.1 275.2 337.9 286.3 337.6 288.2 340.4 286.7 348.3 287.5 356.3 296.1 358.2 303.2 360.7 308.5 355 320 348.7 319.4 353.7 329.4 354.7 340.5 354.4 348.8 356.3 349.9 361 359.5 368.9 365 369.2 372.5 372.4 376.1 375.2 378.7 384.7 382.9 391.1 395.6 395.8 411 399.6 420.3 406.3 421.2 413.2 411.7 429 411 443.3 407.9 452.1 400.5 460.7 392.3 463.8 387 471.8 383.2 484.4 379.1 492.3 370.3 498.3 364.3 497.4 369.9 502.8 368.9 508.1 357.3 510.7 351.9 517.6 357.1 522.3 355.7 530.1 350.3 532.9 355.7 537.8 352.9 547 353 550.4 355.3 553.1 365.6 560.6 362.6 563.3 350.2 557.6 340.4 551.6 332.8 539.4 332 527 329.9 520.7 326.4 505 328.3 492.3 325.5 476.5 326.4 462.6 325 446.4 311.1 436.9 304.4 425.9 296.8 410.1 291.5 402.5 295 395.8 293.5 387.9 296.3 384.7 302.3 375.6 301.5 365.7 301.3 365.1 297.1 359.7 294.4 364.2 290 361.6 280 356.3 277 348.3 275.8 346.1 270.3 345.2 264.9 343.6 256 337.3 242.7 334.7 236.9 331.3 228.5 323.3 229.7 322.4 230.1 319.9 228 314.5 224.7 308.8 219 299.6 216.1 294.5 212.3 287.3 214.8 294.5 215.3 302.5 218 311.3 218.3 315.4 213.7 309.4 210.6 299.9 209.4 294.5 207.5 287.3 206.9 284.4 205.1 280.6 200.3 278.7 199.4 272.1 199.5 268.3 198.7 260.1 202.9 252 210.3 241.7 212.6 235.2 209.7 227.8 212.5 218.2 212 210.7 208.9 205.4 204.9 201.9 197 200.4 192.8 198.1 177.3 202.8 187.5 197 169.9 204.8 151.6 212.2 139.2 215.2 133.2 216.4 147.5 210.7 163.7 204.2 153.6 204.2 153 199 160.1 192.4 174.8 187.6 165.4 187.6 163.7 184.5 180.1 181ZM387.8 152.2 404.8 147.1 417.4 144.5 434.9 143.5 452.6 141.8 469.3 141.3 482 142.8 498.2 145.1 487.2 148.2 483.8 155 483.7 159.9 476.6 166.1 473.6 171.3 465.4 176.6 452.7 178 439.4 184.3 429.6 191.8 421.4 200.4 412.4 197.5 407.8 188.5 406.7 182.1 414.6 175.8 409.7 171.3 411.4 166.1 409.2 158.6 391.9 156.2ZM366.1 163.1 372.4 166.1 378.7 171.3 382.3 175.3 389.3 181.2 382.2 184.8 376.5 191.8 372.9 194.7 363.2 192.4 354.7 188.5 362.2 184.8 367.6 179.3 361.8 172.6 347.7 172.6 342.9 168.7 357 163.6ZM284.3 170 290.5 165.4 307.1 163.6 316.7 163.6 320.8 166.1 316.8 171.3 305.1 175.3 287.5 176.6 280.1 174ZM272.2 167.7 284.3 161.8 295.8 161.8 295 164.9 283.8 168.7 272.9 168.7ZM363.5 147.1 386.3 142.2 411.1 142.2 415.2 144.1 396.9 148.2 384.9 151.5 371.3 156.2 354.8 156.2 357.3 151.5ZM345.4 159.9 370.9 156.7 366.9 161.1 344.1 161.1ZM333.7 186.2 344.7 189 336 192.4 329.8 190.4ZM303.3 156.2 323.8 157.4 320 159.9 297.7 160.3ZM320.2 164.9 332.8 162.8 329.3 167.4 319 167.9ZM335.7 162.8 345.7 162.3 341.3 166.1 334.2 167.4ZM348.6 149.3 368.2 146.1 365.7 150.4 353.3 152.6ZM327.2 156.2 340.1 156.2 335 159.9 324.7 159.9ZM295.1 155.5 312.1 153.8 299.1 157.9ZM372 237.7 376.8 233.4 379.7 228.1 385.2 225.4 383.8 230.3 389 233.4 388.6 237.7 385.8 240.8 381.1 239.5 377.9 238ZM467.8 184.8 472.5 182.3 485.1 182.1 488.9 184.8 486.4 188.2 478.6 190.7 470.1 189.6ZM504.7 230 510 228.8 521.9 226.6 522.5 222.4 519.2 220 518 217.6 515 213.7 513.9 210.7 514.4 207.4 509.4 206.9 511.7 204.5 507.2 204.5 505.3 207.7 505.6 211.3 507.1 215.2 511.5 215.8 511.4 220 507.6 220.3 509 223.3 506 225.1 511.3 226.3ZM504.2 224.2 504.4 218.2 505.6 216.4 501 214.3 498.6 216.7 495 218.2 495.2 221.2 493.8 224.8 498.1 225.4 503.5 223.6ZM538.1 151.5 546.3 148.2 565.2 147.7 558 152.6 547.9 156.2ZM621.1 168.7 622.8 161.1 632.6 156.2 644.4 155 632.2 161.1 629.7 170ZM685.2 148.2 689.3 146.1 702.4 149.3 694.8 151.5ZM774.4 159.9 781.8 157.4 800 159.4 793.3 164.9ZM604.6 147.1 621 146.1 625.8 147.7 605.6 148.6ZM152.2 175.6 155.9 178.5 161 180.7 162.3 183.2 156.5 185.4 148.4 188.2 144.7 186.2 141.4 184.8 137 185.7ZM851.9 217.3 857.8 221.2 867.9 231.8 873.4 242.6 870.5 241.1 863 230.3 855.8 222.7ZM875.4 255.1 872.2 244.5 886.5 250.7 883 255.1 878.9 256.7ZM878.7 256.7 885.3 262.9 885 267 888 274 886.9 277.1 883.9 278.1 880.2 279.7 878.5 281.9 874.8 278.4 868.8 279.7 864.8 279.7 865.1 277.1 868.1 275.2 875.4 274 876.5 270.8 879.1 268.3 879.2 261.4ZM862.6 280.6 867.9 281.9 869.1 288.9 866.8 289.8 862.7 283.5ZM870.4 283.5 874.4 279.7 874.7 282.8 872.1 284.4ZM846.2 315.1 848.8 307.8 850.7 310.4 849 318.3ZM817.1 327.1 821.9 324.3 823.5 325.9 820.4 330.3ZM850.1 337.3 850.5 329.4 854.9 329.4 855.4 335.7 862.5 346.8 852.8 344.2ZM858.7 365.7 867.8 356.9 871.2 364.2 868.7 369.5 864.4 367.3ZM862.7 348.3 868.3 353.1 865.8 356.3 860.6 354.7ZM823.1 383.2 828.7 381.6 835.5 376.8 840.9 371.1 844.8 365.7 850.7 371.4 848 373.7 847.8 384.7 844.1 392.6 842.5 400.2 838.3 400.6 828.6 397.4 825.9 392.6ZM784.5 370.2 792.2 375.2 799.4 381.6 807.8 391.1 814.6 397.4 813.7 406.3 810.1 406.3 800.7 395.8 793.8 383.2 786.6 375.2ZM811.9 409.4 815.7 406.9 826.7 409.4 832.2 409.7 837.9 412.6 837.4 415.4 825 413.8 815.4 411.3ZM839 413.8 850.1 413.8 861.2 413.8 861.1 415.7 849.9 416.1 838.8 415.7ZM862.1 420.5 872.3 414.5 866.6 416.4ZM850.6 405.3 852.6 387.9 856.1 383.8 866.5 383.2 868.4 383.2 856.7 386.3 862.3 390.4 858.1 393.6 861.9 402.1 859 405.3 856.6 395.8 854.5 405.3ZM874.8 381.6 877.6 383.2 876.3 389.5 874.4 386.3ZM876.1 397.4 883.9 397.4 881.6 399.9 876 399.9ZM884.7 391.1 893.1 390.4 901.4 392.6 912.5 396.1 924.8 402.1 930 408.5 935.7 421.1 925.2 414.8 918.1 416.4 911.1 417 903 414.2 902.4 403.7 892.7 400.6 887.3 395.8ZM933 405.3 943 401.2 941.3 405.3 934.2 407.5ZM741.2 368.9 740.9 356.9 746.5 364.2 744.5 368.9ZM655.4 425.9 658.2 436.9 654.4 451.2 646.3 467 638.3 465.4 637.6 455.9 641.4 440.1 648.7 433.8ZM829.1 457.5 827.9 470.2 826.6 484.4 824.7 493.9 822.4 496.4 829.5 498.7 845.4 495.2 862.7 488.2 870.4 489.2 875.9 498 883.7 492.3 880.6 499.3 883.8 498 883.8 503.4 884 508.1 895.2 509.1 897.1 511.6 909.6 506.6 918.7 495.2 927.8 486 933 477.1 933.2 473.3 930.4 460.7 927.3 452.8 920.4 446.4 920.6 438.5 916.2 432.2 914.8 421.8 911.1 429 909.3 440.1 903.1 443.3 894.6 436.9 898.4 426.5 886.7 424.3 881.6 427.1 875.6 434.7 869.1 432.2 860.9 440.1 855.2 444.9 845.2 451.2 838.1 453.1ZM890 516.6 898.8 517.3 893.2 524.5 887.3 525.7 888.2 521.3ZM974.7 496.8 976.5 501.8 977.4 506.6 983.5 507.2 975.7 512.9 965.8 518.5 969.2 512.9 968.1 511.9 974.5 505ZM962.3 516 963.1 520.1 954.5 526.3 946.9 530.1 937.8 535 933.1 533.2 943.2 527 956.2 520.1ZM285.9 318.6 294.6 314.5 307.8 318.3 314.8 324 305.7 324.9 298.2 318.9 291.4 318.3ZM313.4 329.7 318.6 324.9 326.2 325.6 330.2 329.4 321.4 331.9 313.9 330.3ZM302.9 329.7 308.6 330.9 306.3 331.6ZM333.5 329.4 337.9 330 333.9 330.9ZM550.7 267.4 559 266.7 558 271.8 551.1 268.9ZM539.5 258.2 543.6 257.9 543.3 264.2 540.2 264.5ZM540.3 252.3 542.6 252 542.5 257 541 256.3ZM580.3 275.2 587.7 276.2 583.1 277.5ZM603.6 276.8 609.4 274.9 608.2 278.4 604.3 278.1ZM90.3 324 93.1 326.2 89.6 328.1ZM371.4 550.1 379.1 549.5 378.8 552.2 372.6 551.6ZM231 637.2 289.7 637.3 266.3 633.4 261.7 631.1 252.5 630.3 265.4 628.9 258.3 627.2 238.4 626.5 227 624.3 231.4 621.3 246.7 618.4 260.7 614.5 283.9 613.2 301.4 613.7 313.1 616.2 328.1 616.7 317.9 610.4 324.6 608.4 331.9 610.4 345.7 610.9 364.4 612.7 382.9 610.9 372.3 607.9 374.8 602.1 378.2 594 392.2 585.1 385.4 592.9 387.6 598.6 400.4 611.4 399.2 615 378.3 620.8 383 624.3 381.7 626.5 400.4 630.1 421.4 633.6 431.7 631.1 427.2 628.9 436.6 624.3 442.3 627.6 450 631.1 454.8 625.7 467.4 627.6 477.7 616.7 502.9 606.8 540.7 604.2 578.6 601.6 629 592.4 656.6 597.8 651.7 609.1 679.5 597.8 729.9 592.9 750.1 593.7 757.6 592.6 764.6 595.9 776 593.7 800.4 593.2 804.1 591 803.5 595.1 820.8 595.4 821.8 598.1 833.4 599.7 841.2 604.5 854.9 606.3 852.7 608.9 817.7 620.6 814.3 625.2 792.8 629.1 791.8 633 800.4 636.5 806.4 637M636.6 247.3 641.4 241.1 649.8 240.1 651.3 245.7 647.6 247.9 653.1 255.1 655 261.4 659.3 269.2 651.9 271.8 646 267.7 645.8 260.4 639.2 253.5Z" fill="none" stroke="#000" stroke-width="1.05" stroke-linejoin="round"/>
<path d="M786.3 643.1 793.7 641.1 802 638.5 811.1 635.4 820.9 631.7 831.1 627.6 841.7 623.2 852.2 618.4 862.1 613.5 871.4 608.4 880.1 603.2 888.5 597.8 896.7 592.4 904.8 586.8 912.7 581.1 920.4 575.4 927.9 569.5 935.1 563.6 942.2 557.6 948.9 551.6 955.2 545.5 961.2 539.4 966.8 533.2 972.1 527 977.4 520.7 982.2 514.4 986.8 508.1 990.9 501.8 994.8 495.5 998.3 489.2 1001.6 482.8 1004.5 476.5 1007 470.2 1009.2 463.8 1011 457.5 1012.7 451.2 1014.4 444.9 1016 438.5 1017.3 432.2 1018.5 425.9 1019.4 419.5 1020.1 413.2 1020.8 406.9 1021.2 400.6 1021.5 394.2 1021.7 387.9 1021.5 381.6 1021.2 375.2 1020.8 368.9 1020.1 362.6 1019.4 356.3 1018.5 349.9 1017.3 343.6 1016 337.3 1014.4 330.9 1012.7 324.6 1011 318.3 1009.2 312 1007 305.6 1004.5 299.3 1001.6 293 998.3 286.6 994.8 280.3 990.9 274 986.8 267.7 982.2 261.4 977.4 255.1 972.1 248.8 966.8 242.6 961.2 236.4 955.2 230.3 948.9 224.2 942.2 218.2 935.1 212.2 927.9 206.3 920.4 200.4 912.7 194.7 904.8 189 896.7 183.4 888.5 178 880.1 172.6 871.4 167.4 862.1 162.3 852.2 157.4 841.7 152.6 831.1 148.2 820.9 144.1 811.1 140.4 802 137.3 793.7 134.7 786.3 132.7 250.7 132.7 243.3 134.7 235 137.3 225.9 140.4 216.1 144.1 205.9 148.2 195.3 152.6 184.8 157.4 174.9 162.3 165.6 167.4 156.9 172.6 148.5 178 140.3 183.4 132.2 189 124.3 194.7 116.6 200.4 109.1 206.3 101.9 212.2 94.8 218.2 88.1 224.2 81.8 230.3 75.8 236.4 70.2 242.6 64.9 248.8 59.6 255.1 54.8 261.4 50.2 267.7 46.1 274 42.2 280.3 38.7 286.6 35.4 293 32.5 299.3 30 305.6 27.8 312 26 318.3 24.3 324.6 22.6 330.9 21 337.3 19.7 343.6 18.5 349.9 17.6 356.3 16.9 362.6 16.2 368.9 15.8 375.2 15.5 381.6 15.3 387.9 15.5 394.2 15.8 400.6 16.2 406.9 16.9 413.2 17.6 419.5 18.5 425.9 19.7 432.2 21 438.5 22.6 444.9 24.3 451.2 26 457.5 27.8 463.8 30 470.2 32.5 476.5 35.4 482.8 38.7 489.2 42.2 495.5 46.1 501.8 50.2 508.1 54.8 514.4 59.6 520.7 64.9 527 70.2 533.2 75.8 539.4 81.8 545.5 88.1 551.6 94.8 557.6 101.9 563.6 109.1 569.5 116.6 575.4 124.3 581.1 132.2 586.8 140.3 592.4 148.5 597.8 156.9 603.2 165.6 608.4 174.9 613.5 184.8 618.4 195.3 623.2 205.9 627.6 216.1 631.7 225.9 635.4 235 638.5 243.3 641.1 250.7 643.1Z" fill="none" stroke="#000" stroke-width="1.7"/>
<g clip-path="url(#cl1)"><g filter="url(#bl)">
<g transform="translate(1049 126.5) scale(5)" fill="none" stroke-width="1" shape-rendering="crispEdges">
<path stroke="#ffffcc" d="M35 83h30M70 83h3M171 83h18M34 84h32M70 84h6M143 84h48M34 85h32M70 85h2M144 85h23M175 85h17M35 86h32M185 86h8M37 87h31M187 87h7M188 88h7M189 89h6M190 90h6M191 91h5M193 92h3"/>
<path stroke="#fffac1" d="M0 0h1M0 1h1M0 2h1M0 3h1M0 4h2M0 5h2M0 6h3M0 7h3M0 8h5M0 9h6M0 10h7M0 11h8M0 12h8M0 13h9M0 14h10M0 15h11M0 16h12M39 16h1M0 17h13M38 17h2M86 17h2M0 18h15M38 18h3M84 18h13M0 19h18M37 19h3M84 19h13M0 20h22M36 20h4M83 20h14M0 21h24M34 21h6M83 21h16M0 22h26M31 22h9M83 22h17M0 23h40M83 23h16M0 24h39M83 24h16M0 25h39M84 25h13M0 26h38M84 26h13M0 27h38M65 27h2M83 27h14M0 28h38M64 28h4M83 28h14M0 29h38M63 29h6M81 29h16M0 30h38M63 30h35M0 31h39M62 31h36M7 32h33M61 32h36M73 76h1M173 76h2M181 76h2M193 76h2M53 77h11M72 77h30M139 77h38M180 77h20M50 78h14M70 78h33M138 78h38M179 78h26M48 79h16M70 79h34M138 79h38M178 79h27M31 80h34M70 80h34M138 80h38M177 80h28M16 81h49M70 81h34M138 81h67M11 82h54M70 82h34M137 82h68M9 83h26M73 83h31M137 83h34M189 83h16M8 84h26M76 84h26M136 84h7M191 84h14M7 85h27M66 85h1M72 85h1M74 85h16M135 85h9M167 85h8M192 85h13M6 86h29M67 86h1M71 86h9M137 86h48M193 86h12M6 87h17M30 87h7M68 87h2M72 87h5M139 87h48M194 87h11M5 88h16M34 88h37M178 88h10M195 88h10M4 89h15M60 89h7M180 89h9M195 89h10M0 90h18M182 90h8M196 90h9M0 91h17M183 91h8M196 91h9M0 92h16M183 92h10M196 92h9M0 93h15M184 93h21M0 94h14M185 94h20M0 95h13M185 95h20M0 96h13M186 96h19M0 97h12M187 97h18M0 98h11M190 98h15M0 99h11M190 99h15M0 100h11M191 100h14M0 101h10M191 101h14M0 102h10M191 102h14M0 103h10M191 103h14M0 104h10M191 104h14M0 105h10M191 105h14"/>
<path stroke="#fff6b6" d="M1 0h3M1 1h3M1 2h3M1 3h3M2 4h2M2 5h3M3 6h3M3 7h4M5 8h3M6 9h3M7 10h2M8 11h2M8 12h3M9 13h2M10 14h2M11 15h2M100 15h4M12 16h3M36 16h3M85 16h2M95 16h4M102 16h2M13 17h3M36 17h2M40 17h1M84 17h2M88 17h11M102 17h2M15 18h3M35 18h3M83 18h1M97 18h1M18 19h3M33 19h4M40 19h1M82 19h2M22 20h2M31 20h5M81 20h2M97 20h3M24 21h10M81 21h2M99 21h2M26 22h5M40 22h1M80 22h3M81 23h2M99 23h2M39 24h1M81 24h2M99 24h2M68 25h1M81 25h3M97 25h1M67 26h3M80 26h4M97 26h1M67 27h5M78 27h5M68 28h15M69 29h12M97 29h1M98 30h1M61 31h1M0 32h7M60 32h1M0 33h40M59 33h38M0 34h40M59 34h37M74 74h2M161 74h2M170 74h3M183 74h2M52 75h12M73 75h32M127 75h48M182 75h23M49 76h15M74 76h32M126 76h47M183 76h10M195 76h10M48 77h5M71 77h1M102 77h4M130 77h9M177 77h1M179 77h1M200 77h5M45 78h5M103 78h3M134 78h4M178 78h1M11 79h37M104 79h2M135 79h3M9 80h22M104 80h2M135 80h3M176 80h1M8 81h8M104 81h3M135 81h3M7 82h4M104 82h4M134 82h3M6 83h3M104 83h4M114 83h23M5 84h3M69 84h1M102 84h3M111 84h25M4 85h3M90 85h11M115 85h20M3 86h3M80 86h4M118 86h19M0 87h6M23 87h7M77 87h2M120 87h19M0 88h5M21 88h6M30 88h4M71 88h5M139 88h29M176 88h2M0 89h4M19 89h4M37 89h5M49 89h11M67 89h3M179 89h1M18 90h3M180 90h2M17 91h3M181 91h2M16 92h3M182 92h1M15 93h3M183 93h1M14 94h3M183 94h2M13 95h3M184 95h1M13 96h2M184 96h2M12 97h2M185 97h2M11 98h3M186 98h4M11 99h2M188 99h2M11 100h2M189 100h2M10 101h2M189 101h2M10 102h2M189 102h2M10 103h2M189 103h2M10 104h2M189 104h2M10 105h2M189 105h2"/>
<path stroke="#fff1ab" d="M4 0h1M4 1h1M4 2h1M4 3h1M4 4h2M5 5h1M6 6h1M7 7h1M8 8h1M9 9h1M9 10h2M10 11h1M11 12h1M11 13h2M103 13h1M12 14h2M100 14h4M13 15h2M37 15h1M95 15h5M15 16h1M35 16h1M83 16h2M87 16h8M99 16h1M104 16h1M16 17h2M34 17h2M83 17h1M99 17h1M104 17h1M18 18h2M33 18h2M82 18h1M102 18h3M21 19h2M31 19h2M81 19h1M97 19h1M24 20h7M80 20h1M40 21h1M78 21h3M78 22h2M78 23h3M78 24h3M67 25h1M69 25h2M77 25h4M70 26h10M64 27h1M72 27h6M97 27h1M103 27h1M103 28h1M98 29h1M102 29h1M0 35h40M59 35h36M59 36h35M54 73h10M75 73h30M125 73h38M171 73h1M184 73h21M51 74h13M76 74h31M124 74h37M168 74h2M185 74h20M49 75h3M105 75h2M123 75h4M47 76h2M106 76h2M123 76h3M13 77h35M106 77h2M123 77h7M9 78h36M106 78h2M124 78h10M176 78h1M8 79h3M106 79h2M124 79h11M7 80h2M106 80h3M124 80h11M6 81h2M107 81h28M5 82h2M108 82h26M4 83h2M108 83h6M3 84h2M105 84h6M1 85h3M73 85h1M101 85h4M107 85h8M0 86h3M84 86h6M112 86h6M71 87h1M79 87h2M117 87h3M27 88h3M76 88h2M120 88h19M168 88h8M23 89h3M34 89h3M42 89h7M70 89h4M141 89h22M178 89h1M21 90h2M61 90h6M179 90h1M20 91h1M180 91h1M19 92h1M181 92h1M18 93h1M182 93h1M17 94h1M16 95h1M183 95h1M15 96h1M14 97h1M14 98h1M185 98h1M13 99h1M187 99h1M13 100h1M188 100h1M12 101h1M188 101h1M12 102h1M12 103h1M12 104h1M12 105h1"/>
<path stroke="#ffec9f" d="M5 0h1M5 1h1M5 2h1M5 3h1M6 4h1M6 5h2M7 6h2M8 7h2M9 8h1M10 9h1M11 10h1M11 11h1M202 11h3M12 12h1M201 12h4M13 13h1M101 13h2M104 13h1M200 13h5M14 14h1M97 14h3M199 14h6M15 15h1M36 15h1M84 15h5M91 15h4M195 15h10M16 16h1M34 16h1M101 16h1M193 16h12M18 17h1M33 17h1M82 17h1M105 17h1M192 17h13M20 18h2M32 18h1M81 18h1M99 18h2M105 18h1M191 18h14M23 19h3M29 19h2M80 19h1M103 19h1M190 19h15M78 20h2M189 20h16M77 21h1M101 21h1M188 21h17M77 22h1M100 22h1M187 22h18M76 23h2M186 23h19M72 24h6M101 24h1M186 24h19M71 25h6M186 25h19M38 26h1M104 26h2M186 26h19M104 27h2M108 27h1M185 27h20M97 28h1M102 28h1M104 28h2M185 28h20M101 29h1M185 29h20M186 30h19M188 31h8M56 34h1M40 35h1M56 35h1M0 36h41M42 36h1M56 36h2M57 37h36M62 70h1M59 71h4M76 71h2M54 72h10M75 72h33M123 72h40M185 72h20M51 73h3M105 73h6M118 73h7M170 73h1M172 73h1M49 74h2M107 74h4M117 74h7M46 75h3M107 75h16M10 76h37M108 76h15M0 77h1M7 77h6M70 77h1M108 77h15M0 78h9M108 78h16M0 79h8M64 79h1M108 79h16M0 80h7M109 80h15M0 81h6M69 81h1M0 82h5M0 83h4M65 83h1M0 84h3M0 85h1M69 85h1M105 85h2M68 86h1M70 86h1M90 86h11M108 86h4M70 87h1M81 87h3M112 87h5M78 88h1M118 88h2M26 89h8M74 89h2M122 89h6M138 89h3M163 89h4M176 89h2M23 90h1M55 90h6M67 90h3M21 91h1M20 92h1M182 94h1M15 97h1M184 97h1M14 99h1M186 99h1M187 100h1M13 101h1M13 102h1M188 102h1M13 103h1M188 103h1M13 104h1M188 104h1M188 105h1"/>
<path stroke="#ffe794" d="M6 0h1M6 1h1M6 2h1M6 3h1M7 4h1M8 5h1M9 6h1M10 8h1M201 8h4M11 9h1M200 9h5M199 10h6M198 11h4M103 12h2M197 12h4M99 13h2M193 13h7M95 14h2M192 14h7M16 15h1M83 15h1M89 15h2M104 15h1M191 15h4M17 16h1M33 16h1M82 16h1M190 16h3M19 17h1M32 17h1M189 17h3M22 18h1M31 18h1M98 18h1M188 18h3M26 19h3M79 19h1M99 19h1M187 19h3M77 20h1M186 20h3M185 21h3M184 22h3M73 23h1M184 23h2M183 24h3M183 25h3M66 26h1M183 26h3M109 27h1M182 27h3M106 28h3M112 28h1M181 28h4M100 29h1M108 29h1M111 29h2M181 29h4M38 30h1M108 30h4M182 30h4M183 31h5M196 31h9M59 32h1M183 32h22M185 33h20M55 34h1M96 34h1M55 35h1M57 35h1M54 36h2M0 37h6M35 37h6M54 37h3M93 37h1M54 38h2M60 38h33M62 68h1M61 69h2M59 70h3M76 70h2M54 71h5M78 71h33M120 71h44M185 71h20M0 72h2M52 72h2M108 72h3M119 72h4M163 72h1M0 73h4M50 73h1M163 73h1M0 74h4M47 74h2M111 74h1M116 74h1M163 74h1M167 74h1M0 75h6M9 75h37M0 76h10M1 77h6M178 77h1M69 78h1M177 78h1M69 82h1M69 83h1M101 86h3M106 86h2M84 87h3M111 87h1M79 88h1M116 88h2M76 89h1M120 89h2M128 89h4M135 89h3M167 89h4M174 89h2M24 90h2M36 90h3M51 90h4M70 90h2M143 90h17M178 90h1M22 91h1M19 93h1M181 93h1M18 94h1M17 95h1M16 96h1M183 96h1M15 98h1M14 100h1M13 105h1"/>
<path stroke="#fee289" d="M7 2h1M7 3h1M8 4h1M9 5h1M203 6h2M10 7h1M200 7h5M11 8h1M199 8h2M198 9h2M12 10h1M197 10h2M12 11h1M196 11h2M13 12h1M101 12h2M105 12h1M193 12h4M14 13h1M98 13h1M192 13h1M15 14h1M85 14h1M94 14h1M191 14h1M190 15h1M18 16h1M105 16h1M189 16h1M20 17h1M81 17h1M188 17h1M23 18h1M30 18h1M80 18h1M186 18h2M78 19h1M100 19h1M185 19h2M40 20h1M76 20h1M184 20h2M183 21h2M183 22h1M40 23h1M72 23h1M74 23h1M101 23h1M183 23h1M71 24h1M182 24h1M98 25h1M106 25h1M120 25h2M182 25h1M106 26h2M111 26h1M181 26h2M180 27h2M63 28h1M111 28h1M115 28h1M178 28h3M115 29h1M175 29h1M177 29h4M62 30h1M100 30h1M112 30h3M116 30h3M175 30h1M178 30h4M39 31h1M98 31h1M109 31h4M120 31h1M180 31h3M97 32h1M182 32h1M183 33h2M184 34h21M54 35h1M50 36h4M58 36h1M6 37h29M43 37h1M50 37h4M43 38h1M49 38h5M56 38h1M59 38h1M51 39h1M55 39h4M61 39h32M108 53h6M58 54h2M108 54h9M179 54h1M57 55h5M109 55h7M180 55h2M58 56h3M110 56h1M61 67h2M60 68h2M59 69h2M77 69h1M55 70h4M78 70h32M123 70h41M187 70h18M0 71h4M53 71h1M63 71h1M2 72h3M51 72h1M4 73h2M48 73h2M4 74h43M73 74h1M182 74h1M6 75h3M72 75h1M104 86h2M87 87h3M109 87h2M80 88h1M113 88h3M77 89h1M119 89h1M132 89h3M171 89h3M26 90h2M34 90h2M39 90h12M72 90h3M140 90h3M160 90h3M23 91h1M63 91h4M179 91h1M21 92h1M180 92h1M184 98h1M15 99h1M185 99h1M14 101h1M187 101h1M14 102h1"/>
<path stroke="#fedd7f" d="M7 0h1M7 1h1M8 3h1M9 4h1M201 5h4M10 6h1M199 6h4M11 7h1M199 7h1M12 8h1M198 8h1M12 9h1M197 9h1M195 10h2M13 11h1M193 11h3M14 12h1M100 12h1M192 12h1M15 13h1M96 13h2M191 13h1M16 14h1M84 14h1M86 14h1M92 14h2M190 14h1M17 15h1M189 15h1M19 16h1M187 16h2M21 17h1M31 17h1M101 17h1M186 17h2M24 18h1M29 18h1M79 18h1M185 18h1M77 19h1M104 19h1M184 19h1M100 20h1M183 20h1M182 21h1M72 22h1M182 22h1M182 23h1M120 24h1M181 24h1M99 25h1M119 25h1M180 25h2M179 26h2M102 27h1M176 27h4M175 28h3M38 29h1M103 29h1M109 29h2M174 29h1M176 29h1M174 30h1M176 30h2M113 31h7M177 31h3M111 32h1M179 32h3M181 33h2M40 34h1M57 34h1M182 34h2M42 35h1M50 35h4M184 35h21M94 36h1M41 37h1M0 38h2M37 38h6M57 38h2M93 38h1M50 39h1M52 39h1M59 39h2M50 40h1M55 40h7M65 40h5M89 40h4M103 49h2M108 52h9M58 53h3M114 53h4M60 54h10M117 54h2M178 54h1M62 55h8M116 55h3M179 55h1M57 56h1M61 56h9M109 56h1M111 56h7M181 56h3M58 57h4M62 65h1M60 66h3M59 67h2M58 68h2M0 69h1M55 69h4M76 69h1M78 69h32M125 69h39M189 69h16M0 70h4M53 70h2M110 70h1M120 70h3M186 70h1M4 71h1M51 71h2M5 72h1M49 72h2M184 72h1M6 73h42M111 73h1M183 73h1M166 74h1M173 74h1M72 76h1M90 87h2M108 87h1M81 88h2M112 88h1M78 89h1M118 89h1M28 90h6M75 90h1M123 90h3M139 90h1M163 90h2M177 90h1M24 91h1M60 91h3M67 91h2M20 93h1M19 94h1M18 95h1M182 95h1M17 96h1M16 97h1M15 100h1M186 100h1M187 102h1M14 103h1M187 103h1M14 104h1M187 104h1M14 105h1M187 105h1"/>
<path stroke="#fed673" d="M8 0h1M8 1h1M8 2h2M9 3h1M204 3h1M10 4h1M200 4h5M10 5h1M199 5h2M11 6h1M198 6h1M12 7h1M197 7h2M196 8h2M195 9h2M13 10h1M194 10h1M14 11h1M103 11h2M191 11h2M15 12h1M99 12h1M190 12h2M16 13h1M95 13h1M189 13h2M17 14h1M87 14h5M104 14h1M188 14h2M18 15h1M38 15h1M187 15h2M20 16h1M81 16h1M186 16h1M22 17h1M80 17h1M185 17h1M25 18h1M27 18h2M184 18h1M76 19h1M183 19h1M103 20h1M182 20h1M76 21h1M71 22h1M181 22h1M181 23h1M109 24h1M180 24h1M100 25h1M104 25h2M109 25h2M118 25h1M179 25h1M103 26h1M108 26h1M122 26h1M176 26h3M106 27h2M115 27h1M175 27h1M38 28h1M173 28h2M99 29h1M113 29h1M116 29h1M173 29h1M99 30h1M101 30h1M115 30h1M173 30h1M60 31h1M173 31h4M112 32h1M117 32h1M175 32h4M97 33h1M178 33h3M54 34h1M180 34h2M95 35h1M181 35h3M185 36h20M42 37h1M49 37h1M2 38h6M34 38h3M42 39h2M54 40h1M64 40h1M70 40h19M54 41h7M92 41h1M102 49h1M105 49h2M103 50h4M108 50h2M108 51h10M58 52h2M117 52h3M57 53h1M61 53h9M118 53h2M57 54h1M70 54h1M119 54h1M177 54h1M70 55h2M119 55h1M182 55h1M70 56h1M118 56h2M180 56h1M62 57h8M110 57h8M58 58h3M59 61h1M60 63h1M60 64h3M59 65h3M58 66h2M57 67h2M63 67h1M108 67h2M131 67h2M54 68h4M63 68h1M77 68h33M128 68h20M158 68h3M192 68h13M1 69h3M53 69h2M121 69h4M186 69h3M4 70h2M52 70h1M5 71h2M50 71h1M6 72h3M21 72h20M45 72h4M74 73h1M114 74h2M165 74h1M174 74h1M181 75h1M175 76h1M180 76h1M176 79h1M92 87h9M106 87h2M83 88h2M110 88h2M79 89h1M116 89h2M76 90h1M121 90h2M126 90h3M137 90h2M165 90h2M25 91h1M58 91h2M69 91h3M22 92h1M183 97h1M16 98h1M15 101h1"/>
<path stroke="#fecc68" d="M9 0h1M199 0h6M9 1h1M199 1h6M10 2h1M199 2h6M10 3h1M198 3h6M198 4h2M11 5h1M197 5h2M12 6h1M197 6h1M196 7h1M13 8h1M195 8h1M13 9h1M194 9h1M14 10h1M191 10h3M15 11h1M102 11h1M105 11h1M190 11h1M16 12h1M98 12h1M189 12h1M17 13h1M188 13h1M18 14h1M187 14h1M19 15h1M35 15h1M82 15h1M186 15h1M21 16h1M40 16h1M100 16h1M106 16h1M185 16h1M23 17h1M30 17h1M184 17h1M78 18h1M98 19h1M101 20h2M73 21h1M102 21h1M181 21h1M180 22h1M71 23h1M75 23h1M179 23h2M178 24h2M101 25h1M107 25h1M117 25h1M176 25h3M98 26h1M121 26h1M171 26h2M175 26h1M98 27h1M111 27h1M169 27h6M98 28h1M109 28h1M170 28h3M114 29h1M167 29h1M170 29h3M119 30h2M167 30h2M170 30h3M108 31h1M167 31h6M98 32h1M116 32h1M118 32h3M168 32h7M56 33h1M98 33h1M168 33h10M58 34h1M97 34h1M168 34h12M58 35h1M96 35h2M171 35h10M95 36h3M181 36h4M94 37h4M8 38h3M30 38h4M94 38h4M39 39h3M49 39h1M54 39h1M93 39h5M51 40h1M62 40h2M93 40h5M61 41h1M64 41h28M93 41h6M54 42h11M93 42h6M57 43h4M93 43h6M51 44h1M57 44h2M94 44h5M52 45h2M57 45h1M94 45h6M52 46h2M95 46h6M51 47h5M96 47h10M51 48h7M97 48h22M50 49h9M101 49h1M107 49h13M50 50h9M101 50h2M107 50h1M110 50h10M48 51h12M103 51h3M118 51h3M45 52h13M60 52h3M120 52h1M43 53h14M70 53h2M120 53h2M43 54h14M71 54h1M120 54h2M125 54h2M180 54h1M43 55h14M120 55h3M124 55h3M44 56h13M71 56h1M120 56h3M124 56h3M179 56h1M44 57h14M70 57h2M109 57h1M118 57h3M124 57h2M45 58h13M61 58h10M109 58h1M46 59h14M108 59h1M47 60h13M107 60h2M49 61h10M106 61h3M52 62h8M105 62h4M54 63h6M61 63h1M104 63h4M54 64h6M103 64h6M54 65h5M101 65h8M131 65h9M54 66h4M99 66h10M129 66h14M54 67h3M79 67h10M92 67h16M129 67h2M133 67h13M0 68h4M53 68h1M124 68h3M148 68h10M161 68h3M188 68h4M4 69h2M26 69h5M52 69h1M63 69h1M6 70h1M24 70h14M50 70h2M7 71h2M21 71h20M47 71h3M75 71h1M9 72h12M41 72h4M117 73h1M169 73h1M164 74h1M175 75h1M64 78h1M66 84h1M67 85h1M69 86h1M101 87h5M85 88h3M109 88h1M80 89h1M114 89h2M77 90h1M119 90h2M129 90h3M135 90h2M167 90h2M176 90h1M26 91h2M53 91h5M72 91h2M142 91h20M178 91h1M23 92h1M21 93h1M20 94h1M181 94h1M19 95h1M18 96h1M17 97h1M16 99h1M15 102h1M15 103h1"/>
<path stroke="#fec35e" d="M10 0h1M198 0h1M10 1h1M198 1h1M11 2h1M198 2h1M11 3h1M197 3h1M11 4h1M197 4h1M12 5h1M196 6h1M13 7h1M195 7h1M194 8h1M14 9h1M193 9h1M15 10h1M189 10h2M101 11h1M106 11h1M188 11h2M17 12h1M97 12h1M106 12h1M188 12h1M18 13h1M187 13h1M19 14h1M186 14h1M20 15h1M81 15h1M185 15h1M22 16h1M32 16h1M80 16h1M24 17h1M79 17h1M26 18h1M77 18h1M183 18h1M182 19h1M181 20h1M180 21h1M179 22h1M178 23h1M118 24h1M177 24h1M170 25h3M99 26h2M169 26h2M173 26h1M38 27h1M99 27h2M112 27h1M114 27h1M99 28h2M110 28h1M114 28h1M165 28h2M169 28h1M104 29h3M166 29h1M166 30h1M169 30h1M99 31h2M166 31h1M99 32h2M167 32h1M55 33h1M58 33h1M99 33h2M53 34h1M98 34h3M98 35h3M167 35h4M98 36h3M167 36h14M98 37h3M169 37h2M183 37h22M11 38h19M98 38h3M0 39h4M37 39h2M98 39h3M42 40h2M98 40h3M62 41h2M99 41h2M65 42h5M89 42h4M99 42h2M49 43h2M56 43h1M61 43h3M99 43h3M49 44h2M52 44h2M56 44h1M59 44h3M93 44h1M99 44h3M49 45h3M56 45h1M58 45h3M100 45h4M49 46h3M54 46h1M57 46h3M101 46h19M49 47h2M95 47h1M106 47h15M48 48h3M58 48h1M96 48h1M119 48h3M47 49h3M98 49h3M120 49h2M41 50h9M100 50h1M120 50h2M40 51h8M60 51h1M101 51h2M106 51h2M121 51h1M40 52h5M63 52h8M104 52h1M107 52h1M121 52h2M40 53h3M72 53h1M107 53h1M122 53h2M126 53h1M41 54h2M72 54h1M122 54h3M127 54h1M166 54h1M41 55h2M72 55h1M123 55h1M127 55h2M178 55h1M41 56h3M72 56h1M123 56h1M127 56h2M41 57h3M72 57h1M121 57h3M126 57h3M180 57h4M42 58h3M71 58h1M107 58h2M110 58h11M124 58h5M43 59h3M60 59h2M68 59h2M105 59h3M109 59h1M127 59h2M44 60h3M104 60h3M44 61h5M103 61h3M129 61h1M45 62h7M60 62h1M102 62h3M130 62h2M47 63h7M101 63h3M130 63h9M51 64h3M100 64h3M129 64h13M24 65h1M52 65h2M98 65h3M129 65h2M140 65h4M24 66h3M52 66h2M63 66h1M80 66h4M96 66h3M143 66h3M0 67h4M24 67h6M52 67h2M89 67h3M125 67h1M128 67h1M146 67h18M189 67h16M4 68h2M23 68h14M52 68h1M122 68h2M127 68h1M186 68h2M6 69h1M23 69h3M31 69h8M51 69h1M7 70h2M21 70h3M38 70h3M48 70h2M63 70h1M9 71h12M41 71h6M118 72h1M177 79h1M65 82h1M67 84h2M68 85h1M88 88h1M108 88h1M81 89h1M112 89h2M118 90h1M132 90h3M169 90h3M174 90h2M28 91h2M34 91h5M52 91h1M74 91h1M140 91h2M162 91h2M24 92h1M62 92h7M179 92h1M22 93h1M180 93h1M16 100h1M16 101h1M186 101h1M15 104h1M15 105h1"/>
<path stroke="#feb953" d="M11 0h1M197 0h1M11 1h1M197 1h1M197 2h1M12 4h1M196 4h1M196 5h1M13 6h1M195 6h1M194 7h1M14 8h1M193 8h1M190 9h3M188 10h1M16 11h1M100 11h1M187 12h1M85 13h2M91 13h2M94 13h1M186 13h1M185 14h1M21 15h1M184 16h1M25 17h1M100 17h1M183 17h1M182 18h1M181 19h1M180 20h1M179 21h1M101 22h1M178 22h1M177 23h1M127 24h1M171 24h2M175 24h2M122 25h1M127 25h1M175 25h1M101 26h1M117 26h1M128 26h1M174 26h1M101 27h1M101 28h1M164 28h1M62 29h1M117 29h1M168 29h2M101 31h1M101 32h1M110 32h1M115 32h1M40 33h1M57 33h1M101 33h1M167 33h1M52 34h1M101 34h1M167 34h1M101 35h1M101 36h1M101 37h1M166 37h3M171 37h12M101 38h1M167 38h3M4 39h2M35 39h2M101 39h1M40 40h2M44 40h1M101 40h1M101 41h1M53 42h1M70 42h19M101 42h2M48 43h1M53 43h3M64 43h4M91 43h2M102 43h1M48 44h1M54 44h1M62 44h2M102 44h3M48 45h1M54 45h1M104 45h18M48 46h1M56 46h1M94 46h1M120 46h2M47 47h2M56 47h1M121 47h2M46 48h2M122 48h1M38 49h9M97 49h1M122 49h1M36 50h5M59 50h2M99 50h1M122 50h1M35 51h5M61 51h3M100 51h1M122 51h2M37 52h3M71 52h2M101 52h3M105 52h2M123 52h1M164 52h3M39 53h1M73 53h1M76 53h2M124 53h2M127 53h2M164 53h3M177 53h1M39 54h2M73 54h1M79 54h1M128 54h1M165 54h1M40 55h1M73 55h1M108 55h1M129 55h1M40 56h1M73 56h1M129 56h1M40 57h1M106 57h3M129 57h1M184 57h1M40 58h2M72 58h1M104 58h3M121 58h3M129 58h2M41 59h2M62 59h6M70 59h2M103 59h2M125 59h2M129 59h2M42 60h2M102 60h2M109 60h1M127 60h5M43 61h1M81 61h1M101 61h2M128 61h1M130 61h4M44 62h1M81 62h1M100 62h2M128 62h2M132 62h7M44 63h3M81 63h1M99 63h2M108 63h1M128 63h2M139 63h3M20 64h6M46 64h5M81 64h1M98 64h2M128 64h1M142 64h2M21 65h3M25 65h3M49 65h3M81 65h3M96 65h2M128 65h1M144 65h1M0 66h4M22 66h2M27 66h3M51 66h1M84 66h12M109 66h1M128 66h1M146 66h2M158 66h6M191 66h14M4 67h2M22 67h2M30 67h7M51 67h1M123 67h2M127 67h1M188 67h1M6 68h1M22 68h1M37 68h2M50 68h2M7 69h1M20 69h3M39 69h2M49 69h2M9 70h12M41 70h7M185 70h1M119 71h1M111 72h1M164 73h1M112 74h2M66 83h3M89 88h2M107 88h1M82 89h1M111 89h1M78 90h1M117 90h1M172 90h2M30 91h4M39 91h2M49 91h3M75 91h1M139 91h1M164 91h1M25 92h1M60 92h2M69 92h3M23 93h1M21 94h1M20 95h1M19 96h1M182 96h1M18 97h1M17 98h1M184 99h1M185 100h1M16 102h1M186 102h1M16 103h1"/>
<path stroke="#feae4a" d="M12 0h1M196 0h1M12 1h1M196 1h1M12 2h1M196 2h1M12 3h1M196 3h1M13 5h1M195 5h1M14 7h1M192 8h1M15 9h1M189 9h1M16 10h1M17 11h1M99 11h1M187 11h1M18 12h1M96 12h1M186 12h1M19 13h1M87 13h4M93 13h1M185 13h1M20 14h1M184 15h1M23 16h1M183 16h1M26 17h1M78 17h1M107 17h1M76 18h1M101 18h1M101 19h2M72 21h1M76 22h1M102 22h1M102 23h1M120 23h1M171 23h1M176 23h1M70 24h1M102 24h1M117 24h1M126 24h1M174 24h1M102 25h1M169 25h1M173 25h1M102 26h1M118 26h1M110 27h1M128 27h1M164 27h3M168 27h1M113 28h1M167 28h2M107 29h1M118 29h1M120 29h1M102 30h1M165 30h1M102 31h1M58 32h1M102 32h1M166 32h1M102 33h1M166 33h1M41 34h1M51 34h1M102 34h1M166 34h1M102 35h1M166 35h1M49 36h1M102 36h1M166 36h1M102 37h1M102 38h1M165 38h2M170 38h8M6 39h3M33 39h2M53 39h1M102 39h1M38 40h2M52 40h1M102 40h1M42 41h4M53 41h1M102 41h1M45 42h4M103 42h1M46 43h2M51 43h2M68 43h4M88 43h3M103 43h3M47 44h1M55 44h1M64 44h2M92 44h1M105 44h17M47 45h1M55 45h1M61 45h1M63 45h1M93 45h1M122 45h1M46 46h2M55 46h1M122 46h2M45 47h2M57 47h2M123 47h1M38 48h8M59 48h1M123 48h1M35 49h3M59 49h2M123 49h1M27 50h9M61 50h2M98 50h1M123 50h1M27 51h8M64 51h9M99 51h1M124 51h1M165 51h3M29 52h8M73 52h5M100 52h1M124 52h5M167 52h1M37 53h2M74 53h2M78 53h3M101 53h6M129 53h1M169 53h1M176 53h1M38 54h1M74 54h1M77 54h2M80 54h2M107 54h1M129 54h1M169 54h1M176 54h1M39 55h1M74 55h1M130 55h1M39 56h1M104 56h5M130 56h1M39 57h1M73 57h1M103 57h3M130 57h1M73 58h1M83 58h1M102 58h2M131 58h1M40 59h1M72 59h1M82 59h2M102 59h1M111 59h14M131 59h1M41 60h1M60 60h2M67 60h5M82 60h2M101 60h1M125 60h2M132 60h2M42 61h1M82 61h1M100 61h1M127 61h1M134 61h5M42 62h2M82 62h1M99 62h1M139 62h3M16 63h10M43 63h1M82 63h1M98 63h1M142 63h2M16 64h4M26 64h2M44 64h2M82 64h3M96 64h2M144 64h1M0 65h4M16 65h5M28 65h2M45 65h4M63 65h1M80 65h1M84 65h12M127 65h1M145 65h2M162 65h4M192 65h13M4 66h2M19 66h3M30 66h3M47 66h4M124 66h2M127 66h1M148 66h10M189 66h2M6 67h1M20 67h2M37 67h3M49 67h2M78 67h1M122 67h1M126 67h1M187 67h1M7 68h1M19 68h3M39 68h3M47 68h3M185 68h1M8 69h12M41 69h8M120 69h1M75 70h1M164 72h1M165 73h1M72 74h1M69 79h1M65 81h1M66 82h3M91 88h4M105 88h2M83 89h1M110 89h1M79 90h1M116 90h1M41 91h8M76 91h1M121 91h7M138 91h1M165 91h1M177 91h1M26 92h2M59 92h1M72 92h1M143 92h17M24 93h1M22 94h1M21 95h1M17 99h1M17 100h1M17 101h1M17 102h1M186 103h1M16 104h1M186 104h1M16 105h1"/>
<path stroke="#fea546" d="M13 4h1M195 4h1M14 6h1M194 6h1M193 7h1M15 8h1M190 8h2M188 9h1M103 10h4M187 10h1M98 11h1M186 11h1M105 13h1M21 14h1M184 14h1M22 15h1M34 15h1M39 15h1M80 15h1M24 16h1M79 16h1M77 17h1M182 17h1M75 18h1M181 18h1M180 19h1M179 20h1M71 21h1M178 21h1M103 22h1M171 22h1M177 22h1M103 23h1M172 23h4M68 24h1M103 24h1M108 24h1M119 24h1M173 24h1M39 25h1M103 25h1M174 25h1M65 26h1M110 26h1M127 26h1M168 26h1M167 27h1M128 28h2M165 29h1M103 30h1M58 31h2M103 31h1M165 31h1M57 32h1M103 32h1M113 32h1M165 32h1M103 33h1M165 33h1M103 34h1M165 34h1M41 35h1M103 35h1M165 35h1M41 36h1M43 36h1M103 36h1M165 36h1M103 37h1M165 37h1M103 38h1M178 38h27M9 39h2M30 39h3M44 39h1M103 39h1M164 39h9M0 40h3M37 40h1M49 40h1M53 40h1M103 40h1M40 41h2M52 41h1M103 41h2M42 42h3M49 42h1M52 42h1M104 42h16M45 43h1M72 43h16M106 43h17M45 44h2M66 44h2M90 44h2M122 44h2M45 45h2M62 45h1M64 45h2M92 45h1M123 45h2M44 46h2M60 46h1M124 46h1M38 47h7M59 47h2M124 47h1M35 48h3M60 48h2M95 48h1M124 48h1M27 49h8M61 49h2M96 49h1M124 49h2M22 50h5M63 50h11M97 50h1M124 50h2M166 50h2M22 51h5M73 51h4M97 51h2M125 51h4M164 51h1M26 52h3M78 52h3M98 52h2M129 52h1M163 52h1M169 52h1M29 53h8M81 53h1M99 53h2M167 53h1M170 53h1M36 54h2M75 54h2M82 54h1M101 54h6M130 54h1M160 54h1M164 54h1M37 55h2M75 55h9M102 55h6M169 55h1M38 56h1M74 56h2M83 56h1M102 56h2M131 56h1M38 57h1M74 57h1M83 57h2M101 57h2M131 57h1M179 57h1M39 58h1M74 58h1M84 58h1M101 58h1M132 58h1M39 59h1M73 59h1M84 59h1M100 59h2M110 59h1M132 59h2M40 60h1M62 60h5M72 60h2M84 60h1M100 60h1M124 60h1M134 60h4M41 61h1M60 61h1M69 61h4M83 61h2M99 61h1M126 61h1M139 61h2M16 62h10M41 62h1M83 62h2M98 62h1M127 62h1M142 62h1M15 63h1M26 63h2M42 63h1M83 63h3M96 63h2M127 63h1M144 63h1M0 64h5M14 64h2M28 64h1M42 64h2M85 64h11M127 64h1M145 64h1M194 64h11M4 65h2M14 65h2M30 65h1M43 65h2M125 65h1M147 65h2M157 65h5M190 65h2M6 66h2M14 66h5M33 66h7M43 66h4M79 66h1M123 66h1M126 66h1M164 66h1M188 66h1M7 67h2M13 67h7M40 67h9M186 67h1M8 68h11M42 68h5M76 68h1M121 68h1M185 69h1M164 71h1M165 72h1M166 73h3M64 77h1M69 80h1M66 81h3M95 88h10M84 89h2M108 89h2M80 90h1M114 90h2M120 91h1M128 91h2M137 91h1M166 91h2M28 92h1M55 92h4M73 92h2M141 92h2M160 92h3M25 93h1M63 93h7M23 94h1M22 95h1M20 96h2M19 97h2M18 98h1M183 98h1M18 99h1M18 100h1M18 101h1M18 102h1M17 103h1M17 104h1M17 105h1M186 105h1"/>
<path stroke="#fd9c42" d="M195 1h1M13 2h1M195 2h1M13 3h1M195 3h1M14 5h1M194 5h1M193 6h1M192 7h1M189 8h1M16 9h1M17 10h1M102 10h1M18 11h1M97 11h1M107 11h1M19 12h1M185 12h1M20 13h1M184 13h1M23 15h1M183 15h1M25 16h4M107 18h1M75 19h1M178 20h1M70 21h1M103 21h1M177 21h1M104 22h1M173 22h4M70 23h1M104 23h1M104 24h1M106 24h1M170 24h1M66 25h1M126 25h1M128 25h1M165 25h4M109 26h1M119 26h2M164 26h4M163 27h1M116 28h1M163 28h1M164 29h1M58 30h4M104 30h3M164 30h1M57 31h1M104 31h4M164 31h1M56 32h1M104 32h3M109 32h1M114 32h1M164 32h1M104 33h3M111 33h2M164 33h1M104 34h3M121 34h1M164 34h1M104 35h3M120 35h2M164 35h1M104 36h3M121 36h2M163 36h2M104 37h3M122 37h1M163 37h2M44 38h1M104 38h4M163 38h2M11 39h19M104 39h18M162 39h2M173 39h4M3 40h3M35 40h2M104 40h19M163 40h7M39 41h1M50 41h2M105 41h19M40 42h2M50 42h2M120 42h4M126 42h1M41 43h4M123 43h2M126 43h2M42 44h3M68 44h5M87 44h3M124 44h3M41 45h4M66 45h2M90 45h2M125 45h2M38 46h6M61 46h1M92 46h2M125 46h4M36 47h2M61 47h2M93 47h2M125 47h4M33 48h2M62 48h2M70 48h1M93 48h2M125 48h4M23 49h4M63 49h10M93 49h3M126 49h3M167 49h1M18 50h4M74 50h2M94 50h3M126 50h3M18 51h4M77 51h5M94 51h3M129 51h1M23 52h3M81 52h3M95 52h3M130 52h1M170 52h1M27 53h2M82 53h3M96 53h3M130 53h1M163 53h1M178 53h1M30 54h6M83 54h3M98 54h3M167 54h1M170 54h1M35 55h2M84 55h2M99 55h3M131 55h1M160 55h1M170 55h1M177 55h1M37 56h1M76 56h4M84 56h2M100 56h2M37 57h1M75 57h1M85 57h1M100 57h1M132 57h1M163 57h2M38 58h1M75 58h1M100 58h1M133 58h1M38 59h1M74 59h1M85 59h1M99 59h1M134 59h4M39 60h1M74 60h1M81 60h1M85 60h1M99 60h1M121 60h3M138 60h2M18 61h6M40 61h1M67 61h2M73 61h2M85 61h1M98 61h1M125 61h1M141 61h1M0 62h3M14 62h2M26 62h1M40 62h1M70 62h4M85 62h1M97 62h1M126 62h1M143 62h1M0 63h6M13 63h2M28 63h1M41 63h1M72 63h1M86 63h10M126 63h1M145 63h1M197 63h8M5 64h3M12 64h2M29 64h2M41 64h1M126 64h1M146 64h1M160 64h8M191 64h3M6 65h8M31 65h12M124 65h1M126 65h1M149 65h2M155 65h2M189 65h1M8 66h6M40 66h3M122 66h1M187 66h1M9 67h4M77 67h1M185 67h1M164 70h1M74 72h1M166 72h1M65 80h4M86 89h2M107 89h1M81 90h1M112 90h2M77 91h1M118 91h2M130 91h2M135 91h2M168 91h1M176 91h1M29 92h3M53 92h2M75 92h1M140 92h1M163 92h1M178 92h1M26 93h1M61 93h2M70 93h2M24 94h2M23 95h2M181 95h1M22 96h2M21 97h2M19 98h3M19 99h2M19 100h2M19 101h2M185 101h1M19 102h2M18 103h3M18 104h3M18 105h2"/>
<path stroke="#fd923e" d="M13 0h1M195 0h1M13 1h1M14 4h1M194 4h1M15 7h1M191 7h1M188 8h1M187 9h1M100 10h2M107 10h1M186 10h1M96 11h1M90 12h2M22 14h1M183 14h1M24 15h1M29 16h1M78 16h1M107 16h1M182 16h1M27 17h1M29 17h1M76 17h1M181 17h1M180 18h1M105 19h1M179 19h1M75 20h1M104 20h1M164 20h2M104 21h1M157 21h11M172 21h5M70 22h1M73 22h1M105 22h1M155 22h13M105 23h1M154 23h17M105 24h1M107 24h1M128 24h1M156 24h14M108 25h1M111 25h1M116 25h1M159 25h6M161 26h3M129 27h1M162 27h1M162 28h1M58 29h4M119 29h1M163 29h1M57 30h1M107 30h1M163 30h1M56 31h1M163 31h1M40 32h1M55 32h1M107 32h2M163 32h1M54 33h1M107 33h4M113 33h14M162 33h2M42 34h1M107 34h14M122 34h8M162 34h2M107 35h13M122 35h9M162 35h2M107 36h14M123 36h9M161 36h2M107 37h15M123 37h9M160 37h3M108 38h25M158 38h5M122 39h12M157 39h5M177 39h28M6 40h1M34 40h1M123 40h12M157 40h6M170 40h4M0 41h2M37 41h2M46 41h1M124 41h10M157 41h12M39 42h1M124 42h2M127 42h5M158 42h4M39 43h2M125 43h1M128 43h3M39 44h3M73 44h14M127 44h2M38 45h3M68 45h3M88 45h2M127 45h4M36 46h2M62 46h3M90 46h2M129 46h2M35 47h1M63 47h2M69 47h2M90 47h3M129 47h1M25 48h8M64 48h6M71 48h2M90 48h3M129 48h1M18 49h5M73 49h3M89 49h4M129 49h1M15 50h3M76 50h18M129 50h1M165 50h1M16 51h2M82 51h12M130 51h1M160 51h1M162 51h2M168 51h1M19 52h4M84 52h11M168 52h1M171 52h1M25 53h2M85 53h11M131 53h1M159 53h1M168 53h1M171 53h1M27 54h3M86 54h12M131 54h1M159 54h1M168 54h1M174 54h1M181 54h1M30 55h5M86 55h3M96 55h3M132 55h1M166 55h1M35 56h2M80 56h3M86 56h1M98 56h2M132 56h1M36 57h1M76 57h3M86 57h1M98 57h2M133 57h1M165 57h1M36 58h2M76 58h1M85 58h1M98 58h2M134 58h4M37 59h1M75 59h1M98 59h1M138 59h2M38 60h1M75 60h1M86 60h1M98 60h1M112 60h9M140 60h2M0 61h5M15 61h3M24 61h3M38 61h2M61 61h6M75 61h1M86 61h1M96 61h2M124 61h1M142 61h1M3 62h4M12 62h2M27 62h2M39 62h1M68 62h2M74 62h2M86 62h11M125 62h1M144 62h1M6 63h7M29 63h1M39 63h2M70 63h2M73 63h3M125 63h1M146 63h1M165 63h4M191 63h6M8 64h4M31 64h2M38 64h3M63 64h1M71 64h5M80 64h1M124 64h2M147 64h2M158 64h2M189 64h2M71 65h6M122 65h2M151 65h4M166 65h1M187 65h2M71 66h7M186 66h1M71 67h6M72 68h4M72 69h4M110 69h1M164 69h1M72 70h3M72 71h3M111 71h1M165 71h1M72 72h2M167 72h1M71 73h3M71 74h1M71 75h1M71 76h1M176 76h1M179 76h1M69 77h1M65 79h4M88 89h2M106 89h1M82 90h1M111 90h1M78 91h1M117 91h1M132 91h3M169 91h2M175 91h1M32 92h7M51 92h2M139 92h1M164 92h1M27 93h2M59 93h2M72 93h2M151 93h8M160 93h1M179 93h1M26 94h1M65 94h4M180 94h1M25 95h1M161 95h4M24 96h1M117 96h6M160 96h8M23 97h2M116 97h9M160 97h7M22 98h3M116 98h10M160 98h4M21 99h3M115 99h12M21 100h3M114 100h14M184 100h1M21 101h3M92 101h4M105 101h24M21 102h2M92 102h37M153 102h1M21 103h2M92 103h5M104 103h24M152 103h1M21 104h2M20 105h3M146 105h1"/>
<path stroke="#fd8439" d="M14 3h1M194 3h1M193 5h1M15 6h1M192 6h1M190 7h1M16 8h1M111 8h3M17 9h1M105 9h5M18 10h1M99 10h1M19 11h1M185 11h1M20 12h1M87 12h3M184 12h1M21 13h1M25 15h1M79 15h1M182 15h1M31 16h1M77 16h1M28 17h1M75 17h1M106 18h1M108 18h1M179 18h1M160 19h8M171 19h1M178 19h1M105 20h1M156 20h8M166 20h3M171 20h3M176 20h1M105 21h1M154 21h3M168 21h4M106 22h1M153 22h2M168 22h3M172 22h1M106 23h2M127 23h2M151 23h3M121 24h1M151 24h5M155 25h4M112 26h1M116 26h1M123 26h1M158 26h3M63 27h1M113 27h1M116 27h1M160 27h2M58 28h5M117 28h1M161 28h1M39 29h1M57 29h1M161 29h2M39 30h1M56 30h1M121 30h1M161 30h2M40 31h1M55 31h1M121 31h1M162 31h1M54 32h1M121 32h8M161 32h2M41 33h1M127 33h3M161 33h1M130 34h1M161 34h1M131 35h2M160 35h2M132 36h2M159 36h2M132 37h3M157 37h3M133 38h3M156 38h2M134 39h3M155 39h2M7 40h2M32 40h2M45 40h1M135 40h3M155 40h2M174 40h3M2 41h3M36 41h1M47 41h3M134 41h5M155 41h2M169 41h2M37 42h2M132 42h6M157 42h1M162 42h5M38 43h1M131 43h3M157 43h6M38 44h1M129 44h2M159 44h4M36 45h2M71 45h17M35 46h1M65 46h8M87 46h3M32 47h3M65 47h4M71 47h3M88 47h2M130 47h1M22 48h3M73 48h4M86 48h4M130 48h1M15 49h3M76 49h13M130 49h1M161 49h2M168 49h1M14 50h1M130 50h1M159 50h6M168 50h1M14 51h2M131 51h1M159 51h1M161 51h1M169 51h4M17 52h2M131 52h1M158 52h5M172 52h2M20 53h5M132 53h1M160 53h1M162 53h1M172 53h2M175 53h1M25 54h2M132 54h1M161 54h1M171 54h3M175 54h1M27 55h3M89 55h7M161 55h1M168 55h1M174 55h1M183 55h1M29 56h6M87 56h11M133 56h1M34 57h2M79 57h2M87 57h1M96 57h2M134 57h5M35 58h1M77 58h2M82 58h1M86 58h2M97 58h1M138 58h3M184 58h1M36 59h1M76 59h2M86 59h2M97 59h1M140 59h2M0 60h5M16 60h11M36 60h2M76 60h1M87 60h1M96 60h2M110 60h2M142 60h1M5 61h3M12 61h3M27 61h2M37 61h1M76 61h1M87 61h9M109 61h1M123 61h1M143 61h1M7 62h5M29 62h2M38 62h1M61 62h1M66 62h2M76 62h1M145 62h1M192 62h13M30 63h2M37 63h2M62 63h1M69 63h1M76 63h1M124 63h1M147 63h1M160 63h5M169 63h1M190 63h1M33 64h5M69 64h2M76 64h2M123 64h1M149 64h2M155 64h3M168 64h1M188 64h1M70 65h1M77 65h2M186 65h1M70 66h1M78 66h1M185 66h1M70 67h1M164 67h1M71 68h1M164 68h1M71 69h1M71 70h1M165 70h1M70 71h2M166 71h2M70 72h2M168 72h2M64 73h1M70 73h1M112 73h1M64 74h1M70 74h1M175 74h1M70 75h1M69 76h2M177 76h2M68 77h1M65 78h4M90 89h2M105 89h1M83 90h1M109 90h2M79 91h1M115 91h2M171 91h4M39 92h1M49 92h2M121 92h7M138 92h1M165 92h2M29 93h1M56 93h3M141 93h3M146 93h5M159 93h1M161 93h3M27 94h1M62 94h3M69 94h3M159 94h4M26 95h1M117 95h7M158 95h3M165 95h1M25 96h1M115 96h2M123 96h4M158 96h2M168 96h1M25 97h1M115 97h1M125 97h2M158 97h2M167 97h1M182 97h1M25 98h1M114 98h2M126 98h2M158 98h2M24 99h1M112 99h3M127 99h2M157 99h5M24 100h1M93 100h5M102 100h12M128 100h2M155 100h2M24 101h1M90 101h2M96 101h9M129 101h2M151 101h6M23 102h1M90 102h2M129 102h2M142 102h11M154 102h3M185 102h1M23 103h1M91 103h1M97 103h7M128 103h3M142 103h10M153 103h3M23 104h1M23 105h1M119 105h3M142 105h4M147 105h2"/>
<path stroke="#fd7435" d="M14 0h1M194 0h1M14 1h1M194 1h1M14 2h1M194 2h1M193 4h1M15 5h1M192 5h1M191 6h1M189 7h1M109 8h2M114 8h2M187 8h1M103 9h2M110 9h1M115 9h1M186 9h1M98 10h1M91 11h2M95 11h1M86 12h1M95 12h1M22 13h1M183 13h1M23 14h1M80 14h1M182 14h1M26 15h3M30 16h1M181 16h1M106 17h1M180 17h1M160 18h7M168 18h4M178 18h1M156 19h4M168 19h3M172 19h3M106 20h1M154 20h2M169 20h2M174 20h2M177 20h1M106 21h2M152 21h2M107 22h2M150 22h3M108 23h2M147 23h4M40 24h1M69 24h1M110 24h1M146 24h5M112 25h1M147 25h8M113 26h3M156 26h2M39 27h1M58 27h5M117 27h1M158 27h2M39 28h1M57 28h1M118 28h1M160 28h1M40 29h1M56 29h1M121 29h1M160 29h1M40 30h1M55 30h1M160 30h1M41 31h1M54 31h1M122 31h7M160 31h2M41 32h2M129 32h2M160 32h1M42 33h2M53 33h1M130 33h1M160 33h1M43 34h1M131 34h1M160 34h1M43 35h1M49 35h1M158 35h2M134 36h1M157 36h2M135 37h2M155 37h2M136 38h2M154 38h2M137 39h3M154 39h1M9 40h2M30 40h2M46 40h3M138 40h2M154 40h1M177 40h2M5 41h1M35 41h1M139 41h2M171 41h4M0 42h4M36 42h1M138 42h2M156 42h1M167 42h3M0 43h3M37 43h1M134 43h6M163 43h3M0 44h3M36 44h2M131 44h7M157 44h1M0 45h3M35 45h1M131 45h2M160 45h3M34 46h1M73 46h14M131 46h1M25 47h7M74 47h14M131 47h1M18 48h4M77 48h9M131 48h1M160 48h4M13 49h2M131 49h1M158 49h3M163 49h4M12 50h2M131 50h1M169 50h4M13 51h1M132 51h1M157 51h2M173 51h1M15 52h2M132 52h1M143 52h2M174 52h2M18 53h2M141 53h7M158 53h1M161 53h1M174 53h1M21 54h4M133 54h1M140 54h8M162 54h2M25 55h2M133 55h2M139 55h8M164 55h2M167 55h1M171 55h3M175 55h2M27 56h2M134 56h10M161 56h1M169 56h1M184 56h2M28 57h6M81 57h2M88 57h8M139 57h4M162 57h1M33 58h2M79 58h2M88 58h3M93 58h4M141 58h1M180 58h2M0 59h4M19 59h8M34 59h2M78 59h1M88 59h2M94 59h3M142 59h1M5 60h2M13 60h3M27 60h3M35 60h1M77 60h2M88 60h8M143 60h1M8 61h4M29 61h2M35 61h2M77 61h1M114 61h9M144 61h1M192 61h13M31 62h2M35 62h3M62 62h4M77 62h1M124 62h1M146 62h1M164 62h7M190 62h2M32 63h5M67 63h2M77 63h2M80 63h1M148 63h1M158 63h2M188 63h2M78 64h2M151 64h4M186 64h2M69 65h1M79 65h1M185 65h1M69 66h1M70 68h1M70 69h1M70 70h1M166 70h1M168 71h1M184 71h1M170 72h2M69 73h1M113 73h4M173 73h1M69 74h1M68 75h2M176 75h5M64 76h1M67 76h2M65 77h3M92 89h13M84 90h2M108 90h1M80 91h1M114 91h1M40 92h9M76 92h2M119 92h2M128 92h2M137 92h1M167 92h1M177 92h1M30 93h3M53 93h3M74 93h1M140 93h1M144 93h2M164 93h1M28 94h1M60 94h2M72 94h2M122 94h2M157 94h2M27 95h1M65 95h4M116 95h1M124 95h3M157 95h1M26 96h1M114 96h1M127 96h1M156 96h2M26 97h1M113 97h2M127 97h2M156 97h2M106 98h8M128 98h2M156 98h2M164 98h1M25 99h1M94 99h3M102 99h10M129 99h2M154 99h3M168 99h2M183 99h1M25 100h1M98 100h4M130 100h2M152 100h3M157 100h2M168 100h3M89 101h1M131 101h1M141 101h10M169 101h3M24 102h1M89 102h1M131 102h1M140 102h2M157 102h1M170 102h3M89 103h2M131 103h1M140 103h2M156 103h1M171 103h2M185 103h1M119 104h2M142 104h8M172 104h2M91 105h5M117 105h2M122 105h2M141 105h1M149 105h1"/>
<path stroke="#fc6430" d="M15 3h1M193 3h1M15 4h1M16 7h1M111 7h3M188 7h1M17 8h1M108 8h1M18 9h1M102 9h1M116 9h1M19 10h1M97 10h1M185 10h1M20 11h1M89 11h2M94 11h1M184 11h1M21 12h1M183 12h1M24 14h2M83 14h1M33 15h1M78 15h1M181 15h1M76 16h1M160 17h13M179 17h1M41 18h1M157 18h3M167 18h1M172 18h3M106 19h1M154 19h2M175 19h1M107 20h1M152 20h2M69 21h1M108 21h2M149 21h3M109 22h2M146 22h4M110 23h3M117 23h1M145 23h2M111 24h3M145 24h1M113 25h3M145 25h2M39 26h2M59 26h6M129 26h1M148 26h8M40 27h1M57 27h1M118 27h2M157 27h1M40 28h2M56 28h1M119 28h3M158 28h2M41 29h2M55 29h1M122 29h3M128 29h2M159 29h1M41 30h2M54 30h1M122 30h7M159 30h1M42 31h2M129 31h2M159 31h1M43 32h2M53 32h1M131 32h1M159 32h1M44 33h1M131 33h2M159 33h1M44 34h1M50 34h1M132 34h1M158 34h2M44 35h1M133 35h1M157 35h1M44 36h1M135 36h1M155 36h2M44 37h1M137 37h2M154 37h1M45 38h1M48 38h1M138 38h2M45 39h4M153 39h1M11 40h4M23 40h7M140 40h2M179 40h26M6 41h2M33 41h2M141 41h1M154 41h1M175 41h2M4 42h2M35 42h1M140 42h2M170 42h2M3 43h2M36 43h1M140 43h2M166 43h3M3 44h2M35 44h1M138 44h3M158 44h1M163 44h2M3 45h2M34 45h1M133 45h7M159 45h1M163 45h1M0 46h5M31 46h3M132 46h3M160 46h3M23 47h2M132 47h2M157 47h1M160 47h4M14 48h4M132 48h2M158 48h2M164 48h1M167 48h1M11 49h2M132 49h2M169 49h4M11 50h1M132 50h2M156 50h3M173 50h2M12 51h1M133 51h1M140 51h6M174 51h2M13 52h2M133 52h1M139 52h4M145 52h3M157 52h1M176 52h2M16 53h2M133 53h2M138 53h3M148 53h2M179 53h1M19 54h2M134 54h6M148 54h4M21 55h4M135 55h4M147 55h3M163 55h1M23 56h4M144 56h3M162 56h1M166 56h3M170 56h8M186 56h1M24 57h4M143 57h2M174 57h4M20 58h13M81 58h1M91 58h2M142 58h2M167 58h1M182 58h1M185 58h1M4 59h3M14 59h5M27 59h7M79 59h3M90 59h4M143 59h1M7 60h6M30 60h5M79 60h2M144 60h1M193 60h12M31 61h4M78 61h2M111 61h3M145 61h1M168 61h1M189 61h3M33 62h2M78 62h3M123 62h1M147 62h1M161 62h3M187 62h3M66 63h1M79 63h1M123 63h1M149 63h2M156 63h2M186 63h2M68 64h1M122 64h1M185 64h1M68 65h1M109 65h1M167 65h1M69 67h1M69 68h1M110 68h1M69 69h1M165 69h1M69 70h1M167 70h1M69 71h1M169 71h1M69 72h1M112 72h2M68 74h1M176 74h2M64 75h2M67 75h1M65 76h2M86 90h1M107 90h1M81 91h1M112 91h2M78 92h1M117 92h2M130 92h2M135 92h2M168 92h1M33 93h4M52 93h1M139 93h1M165 93h1M29 94h2M58 94h2M120 94h2M124 94h3M156 94h1M163 94h2M28 95h1M62 95h3M69 95h4M127 95h2M155 95h2M27 96h1M110 96h4M128 96h1M155 96h1M181 96h1M27 97h1M105 97h8M129 97h2M155 97h1M168 97h1M26 98h1M103 98h3M130 98h2M154 98h2M165 98h5M26 99h1M97 99h5M131 99h2M152 99h2M167 99h1M170 99h1M132 100h1M141 100h3M149 100h3M159 100h1M167 100h1M171 100h1M25 101h1M132 101h2M139 101h2M168 101h1M172 101h1M184 101h1M88 102h1M132 102h2M138 102h2M158 102h1M169 102h1M24 103h1M88 103h1M132 103h2M139 103h1M170 103h1M173 103h1M24 104h1M91 104h4M116 104h3M121 104h2M141 104h1M150 104h2M171 104h1M185 104h1M24 105h1M90 105h1M96 105h1M116 105h1M124 105h1M140 105h1M150 105h2M172 105h2M185 105h1"/>
<path stroke="#fc552c" d="M193 0h1M15 1h1M193 1h1M15 2h1M193 2h1M192 4h1M16 5h1M191 5h1M16 6h1M190 6h1M109 7h2M114 7h2M106 8h2M116 8h1M101 9h1M111 9h1M113 9h2M117 9h1M93 10h4M108 10h1M93 11h1M22 12h1M94 12h1M23 13h1M30 13h1M84 13h1M182 13h1M26 14h4M79 14h1M181 14h1M29 15h1M77 15h1M162 15h2M75 16h1M159 16h14M180 16h1M108 17h1M157 17h3M173 17h1M178 17h1M64 18h1M109 18h1M155 18h2M107 19h2M152 19h2M176 19h1M41 20h1M108 20h3M149 20h3M41 21h2M110 21h4M146 21h3M41 22h3M69 22h1M111 22h5M145 22h1M41 23h3M113 23h4M118 23h1M121 23h1M144 23h1M41 24h3M67 24h1M114 24h3M144 24h1M40 25h5M59 25h7M144 25h1M41 26h4M57 26h2M126 26h1M145 26h3M41 27h4M56 27h1M120 27h5M127 27h1M154 27h3M42 28h3M55 28h1M122 28h6M130 28h1M157 28h1M43 29h2M54 29h1M125 29h3M158 29h1M43 30h2M53 30h1M129 30h2M158 30h1M44 31h2M53 31h1M131 31h1M158 31h1M45 32h1M132 32h1M158 32h1M45 33h1M52 33h1M133 33h1M158 33h1M45 34h1M133 34h2M157 34h1M45 35h2M134 35h1M156 35h1M45 36h2M154 36h1M45 37h4M46 38h2M153 38h1M140 39h1M15 40h1M17 40h6M8 41h1M32 41h1M177 41h2M6 42h1M34 42h1M142 42h1M155 42h1M172 42h4M5 43h1M34 43h2M142 43h1M169 43h1M5 44h1M34 44h1M141 44h2M165 44h3M5 45h2M32 45h2M140 45h4M157 45h1M164 45h2M5 46h2M25 46h6M135 46h9M159 46h1M163 46h2M0 47h5M20 47h3M134 47h11M159 47h1M164 47h2M11 48h3M134 48h11M165 48h2M168 48h1M170 48h2M9 49h2M134 49h12M173 49h2M10 50h1M134 50h13M175 50h2M11 51h1M134 51h6M146 51h2M176 51h3M12 52h1M134 52h5M148 52h2M156 52h1M178 52h2M14 53h2M135 53h3M150 53h8M17 54h2M152 54h5M158 54h1M19 55h2M150 55h3M162 55h1M19 56h4M147 56h2M163 56h3M178 56h1M19 57h5M145 57h1M166 57h8M178 57h1M0 58h4M15 58h5M144 58h1M166 58h1M168 58h2M174 58h6M183 58h1M7 59h7M144 59h1M175 59h3M145 60h1M189 60h4M80 61h1M110 61h1M146 61h1M164 61h4M169 61h3M173 61h1M185 61h4M119 62h4M148 62h1M159 62h2M184 62h3M63 63h3M151 63h5M184 63h2M66 64h2M184 64h1M121 65h1M184 65h1M68 66h1M121 66h1M165 66h1M68 67h1M121 67h1M165 68h1M166 69h1M68 70h1M168 70h1M68 71h1M170 71h1M68 72h1M114 72h2M172 72h1M183 72h1M68 73h1M174 73h2M182 73h1M65 74h3M178 74h4M66 75h1M87 90h2M106 90h1M82 91h1M110 91h2M79 92h1M116 92h1M132 92h3M169 92h2M176 92h1M37 93h2M50 93h2M76 93h2M120 93h8M138 93h1M166 93h2M178 93h1M31 94h2M54 94h4M119 94h1M127 94h1M154 94h2M165 94h1M179 94h1M29 95h1M60 95h2M115 95h1M154 95h1M166 95h1M180 95h1M28 96h1M64 96h7M106 96h4M131 96h5M154 96h1M102 97h3M131 97h6M153 97h2M27 98h1M95 98h8M132 98h6M152 98h2M93 99h1M133 99h9M150 99h2M166 99h1M26 100h1M92 100h1M133 100h8M144 100h5M160 100h1M87 101h1M134 101h5M157 101h1M25 102h1M87 102h1M134 102h4M173 102h1M87 103h1M134 103h5M157 103h1M90 104h1M95 104h1M106 104h10M123 104h11M139 104h2M152 104h4M174 104h1M89 105h1M97 105h1M106 105h10M125 105h15M152 105h4"/>
<path stroke="#f84528" d="M15 0h1M192 2h1M16 3h1M192 3h1M16 4h1M191 4h1M190 5h1M188 6h2M17 7h1M108 7h1M116 7h1M187 7h1M18 8h1M104 8h2M117 8h1M186 8h1M19 9h1M99 9h2M112 9h1M185 9h1M20 10h1M92 10h1M184 10h1M21 11h1M88 11h1M183 11h1M23 12h1M92 12h1M107 12h1M112 12h1M162 12h2M182 12h1M24 13h3M28 13h2M31 13h1M161 13h4M78 14h1M105 14h1M110 14h1M160 14h6M172 14h1M30 15h3M61 15h5M76 15h1M105 15h3M159 15h3M164 15h6M171 15h2M180 15h1M60 16h7M74 16h1M157 16h2M173 16h1M179 16h1M41 17h1M62 17h5M74 17h1M109 17h1M155 17h2M42 18h1M63 18h1M152 18h3M177 18h1M41 19h3M63 19h2M109 19h6M149 19h3M177 19h1M42 20h3M74 20h1M111 20h6M146 20h3M43 21h2M74 21h2M114 21h4M145 21h1M44 22h2M68 22h1M116 22h3M144 22h1M44 23h2M68 23h2M119 23h1M126 23h1M143 23h1M44 24h2M60 24h7M122 24h2M142 24h2M45 25h2M57 25h2M123 25h3M142 25h2M45 26h2M56 26h1M124 26h2M143 26h2M45 27h2M55 27h1M125 27h2M145 27h9M45 28h2M54 28h1M155 28h2M45 29h2M53 29h1M130 29h1M156 29h2M45 30h2M52 30h1M131 30h1M157 30h1M46 31h1M52 31h1M132 31h1M157 31h1M46 32h1M52 32h1M133 32h1M157 32h1M46 33h2M51 33h1M134 33h1M157 33h1M46 34h2M135 34h1M156 34h1M47 35h2M135 35h1M155 35h1M47 36h2M136 36h1M153 36h1M153 37h1M152 38h1M141 39h1M151 39h2M150 40h4M9 41h2M30 41h2M142 41h1M179 41h26M7 42h1M33 42h1M154 42h1M176 42h2M6 43h2M33 43h1M156 43h1M170 43h6M6 44h2M32 44h2M143 44h1M168 44h3M7 45h1M29 45h3M144 45h1M166 45h2M7 46h2M22 46h3M144 46h3M157 46h1M165 46h2M5 47h6M14 47h6M145 47h2M158 47h1M166 47h2M170 47h2M6 48h5M145 48h3M157 48h1M169 48h1M172 48h3M8 49h1M146 49h1M157 49h1M175 49h4M8 50h2M147 50h1M177 50h6M9 51h2M148 51h2M156 51h1M179 51h4M11 52h1M150 52h6M180 52h2M12 53h2M180 53h2M15 54h2M157 54h1M17 55h2M153 55h3M159 55h1M17 56h2M149 56h2M160 56h1M14 57h5M146 57h2M4 58h11M145 58h2M165 58h1M170 58h4M145 59h1M169 59h6M178 59h27M146 60h1M166 60h9M179 60h2M182 60h7M147 61h2M162 61h2M172 61h1M182 61h3M111 62h8M149 62h2M157 62h2M183 62h1M121 63h2M170 63h1M183 63h1M64 64h2M183 64h1M66 65h2M67 66h1M184 66h1M110 67h1M165 67h1M68 68h1M120 68h1M166 68h1M68 69h1M167 69h1M111 70h1M169 70h1M67 71h1M112 71h3M171 71h1M64 72h1M67 72h1M116 72h2M173 72h2M182 72h1M65 73h3M176 73h6M89 90h3M103 90h3M83 91h1M108 91h2M80 92h1M114 92h2M171 92h5M39 93h2M47 93h3M75 93h1M78 93h1M118 93h2M128 93h3M137 93h1M168 93h1M33 94h3M52 94h2M76 94h1M118 94h1M128 94h1M151 94h3M166 94h2M30 95h2M55 95h5M73 95h1M129 95h1M133 95h6M153 95h1M167 95h1M29 96h1M60 96h4M71 96h2M105 96h1M130 96h1M136 96h3M153 96h1M169 96h1M28 97h1M98 97h4M137 97h3M152 97h1M169 97h1M138 98h4M151 98h1M170 98h1M182 98h1M27 99h1M142 99h3M148 99h2M162 99h1M165 99h1M171 99h1M166 100h1M172 100h1M183 100h1M26 101h1M86 101h1M88 101h1M158 101h1M167 101h1M86 102h1M159 102h1M168 102h1M184 102h1M25 103h1M86 103h1M158 103h1M169 103h1M174 103h1M25 104h1M88 104h2M96 104h1M104 104h2M134 104h5M156 104h3M170 104h1M25 105h1M88 105h1M104 105h2M156 105h3M171 105h1M174 105h1"/>
<path stroke="#f13824" d="M16 0h1M192 0h1M16 1h1M192 1h1M16 2h1M17 3h1M191 3h1M17 4h1M190 4h1M17 5h1M189 5h1M17 6h1M110 6h5M187 6h1M18 7h1M106 7h2M117 7h1M186 7h1M19 8h1M102 8h2M185 8h1M20 9h1M98 9h1M118 9h1M184 9h1M21 10h1M109 10h1M117 10h1M161 10h4M183 10h1M22 11h1M32 11h1M108 11h1M116 11h2M161 11h5M182 11h1M24 12h2M30 12h2M93 12h1M111 12h1M160 12h2M164 12h2M181 12h1M27 13h1M32 13h1M79 13h1M106 13h1M110 13h2M159 13h2M165 13h2M181 13h1M30 14h10M62 14h5M77 14h1M81 14h1M106 14h2M158 14h2M166 14h2M180 14h1M40 15h2M66 15h2M75 15h1M157 15h2M170 15h1M173 15h1M179 15h1M41 16h2M108 16h1M110 16h1M155 16h2M177 16h2M42 17h2M110 17h1M153 17h2M174 17h1M177 17h1M43 18h2M65 18h1M110 18h6M148 18h4M175 18h1M44 19h2M115 19h3M146 19h3M45 20h1M64 20h1M117 20h2M144 20h2M45 21h2M118 21h2M143 21h2M46 22h1M64 22h4M74 22h1M119 22h3M142 22h2M46 23h1M61 23h7M122 23h4M141 23h2M46 24h2M58 24h2M124 24h2M141 24h1M47 25h1M56 25h1M141 25h1M47 26h1M54 26h2M141 26h2M47 27h1M53 27h2M142 27h3M47 28h1M52 28h2M147 28h8M47 29h2M51 29h2M131 29h1M155 29h1M47 30h2M51 30h1M132 30h2M156 30h1M47 31h2M51 31h1M133 31h2M156 31h1M47 32h5M134 32h2M156 32h1M48 33h3M135 33h1M155 33h2M48 34h2M136 34h1M155 34h1M136 35h1M154 35h1M137 36h1M152 37h1M150 39h1M16 40h1M142 40h1M149 40h1M11 41h2M23 41h7M149 41h5M8 42h2M31 42h2M148 42h4M178 42h3M8 43h1M32 43h1M143 43h1M147 43h1M176 43h2M8 44h1M30 44h2M144 44h1M171 44h5M8 45h2M24 45h5M145 45h2M158 45h1M168 45h6M9 46h2M19 46h3M158 46h1M167 46h7M11 47h3M147 47h1M168 47h2M172 47h4M0 48h6M175 48h8M6 49h2M147 49h1M156 49h1M179 49h6M7 50h1M148 50h1M155 50h1M183 50h2M8 51h1M150 51h6M183 51h1M10 52h1M182 52h2M11 53h1M182 53h1M12 54h3M182 54h1M13 55h4M156 55h3M186 55h1M12 56h5M151 56h3M10 57h4M148 57h2M161 57h1M147 58h1M186 58h1M146 59h2M165 59h4M147 60h1M164 60h2M178 60h1M181 60h1M149 61h1M160 61h2M178 61h2M109 62h2M151 62h6M171 62h1M113 63h8M120 64h2M65 65h1M66 66h1M120 66h1M67 67h1M120 67h1M166 67h1M184 67h1M67 68h1M119 68h1M167 68h1M67 69h1M119 69h1M168 69h2M67 70h1M112 70h3M118 70h2M170 70h2M183 70h2M66 71h1M115 71h4M172 71h2M181 71h3M65 72h2M175 72h7M92 90h11M84 91h2M107 91h1M81 92h1M112 92h2M41 93h6M79 93h1M116 93h2M131 93h2M135 93h2M169 93h1M177 93h1M36 94h2M50 94h2M77 94h1M129 94h1M136 94h6M168 94h1M32 95h2M52 95h3M114 95h1M139 95h2M151 95h2M168 95h1M30 96h2M55 96h5M104 96h1M129 96h1M139 96h2M151 96h2M29 97h1M61 97h1M140 97h2M151 97h1M170 97h1M28 98h1M94 98h1M142 98h2M149 98h2M171 98h1M145 99h3M163 99h2M27 100h1M90 100h1M161 100h1M164 100h2M85 101h1M159 101h2M166 101h1M173 101h1M26 102h1M85 102h1M160 102h1M167 102h1M85 103h1M159 103h2M168 103h1M184 103h1M87 104h1M97 104h1M103 104h1M159 104h2M169 104h1M86 105h2M98 105h1M102 105h2M159 105h2M170 105h1"/>
<path stroke="#eb2b21" d="M17 0h1M191 0h1M17 1h1M191 1h1M17 2h2M190 2h2M18 3h1M189 3h2M18 4h1M188 4h2M18 5h1M187 5h2M18 6h1M109 6h1M115 6h1M186 6h1M19 7h1M105 7h1M185 7h1M20 8h1M101 8h1M118 8h1M184 8h1M21 9h2M94 9h4M160 9h5M183 9h1M22 10h2M110 10h7M118 10h1M159 10h2M165 10h2M182 10h1M23 11h4M30 11h2M33 11h2M87 11h1M109 11h4M118 11h1M159 11h2M166 11h2M181 11h1M26 12h4M32 12h5M85 12h1M108 12h1M117 12h2M158 12h2M166 12h2M180 12h1M33 13h8M63 13h6M78 13h1M80 13h1M107 13h2M157 13h2M167 13h2M180 13h1M40 14h3M61 14h1M67 14h2M76 14h1M82 14h1M108 14h1M111 14h1M156 14h2M168 14h4M179 14h1M42 15h2M60 15h1M68 15h1M74 15h1M108 15h4M154 15h3M178 15h1M43 16h2M67 16h2M109 16h1M111 16h1M114 16h1M151 16h4M44 17h1M67 17h2M111 17h7M148 17h5M45 18h1M66 18h3M74 18h1M116 18h4M146 18h2M176 18h1M46 19h1M65 19h3M118 19h3M144 19h2M46 20h1M63 20h1M65 20h5M73 20h1M119 20h3M143 20h1M63 21h6M120 21h5M142 21h1M47 22h1M61 22h3M122 22h5M140 22h2M47 23h1M58 23h3M139 23h2M48 24h1M56 24h2M139 24h2M48 25h1M54 25h2M129 25h1M139 25h2M48 26h2M52 26h2M130 26h2M139 26h2M48 27h5M130 27h3M140 27h2M48 28h4M131 28h3M142 28h5M49 29h2M132 29h3M151 29h4M49 30h2M134 30h2M154 30h2M49 31h2M135 31h2M155 31h1M136 32h1M155 32h1M136 33h1M154 33h1M137 34h1M154 34h1M137 35h1M153 35h1M138 36h1M152 36h1M139 37h1M151 37h1M151 38h1M13 41h10M148 41h1M10 42h1M29 42h2M143 42h1M147 42h1M152 42h2M181 42h24M9 43h1M29 43h3M144 43h3M148 43h3M178 43h8M9 44h1M25 44h5M145 44h3M176 44h4M10 45h1M21 45h3M147 45h1M174 45h5M11 46h8M147 46h1M174 46h8M176 47h10M148 48h1M156 48h1M183 48h3M5 49h1M148 49h1M155 49h1M185 49h1M6 50h1M149 50h3M153 50h2M185 50h1M7 51h1M184 51h2M8 52h2M184 52h1M10 53h1M183 53h1M11 54h1M183 54h1M11 55h2M10 56h2M154 56h2M0 57h10M150 57h2M185 57h1M148 58h1M164 58h1M187 58h18M148 59h1M164 59h1M148 60h2M162 60h2M177 60h1M150 61h1M158 61h2M180 61h1M178 62h2M182 62h1M109 63h4M109 64h1M112 64h8M169 64h1M64 65h1M118 65h3M65 66h1M118 66h2M166 66h1M66 67h1M118 67h2M167 67h1M66 68h1M111 68h3M117 68h2M168 68h1M183 68h2M66 69h1M111 69h8M170 69h1M182 69h3M65 70h2M115 70h3M172 70h1M181 70h2M64 71h2M174 71h2M178 71h3M86 91h2M106 91h1M82 92h1M110 92h2M80 93h1M114 93h2M133 93h2M170 93h2M176 93h1M38 94h1M48 94h2M74 94h2M78 94h1M116 94h2M130 94h1M135 94h1M142 94h1M149 94h2M169 94h1M178 94h1M34 95h2M50 95h2M76 95h2M113 95h1M132 95h1M141 95h2M150 95h1M169 95h1M179 95h1M32 96h2M52 96h3M73 96h1M102 96h2M141 96h2M150 96h1M170 96h1M180 96h1M30 97h2M55 97h6M62 97h1M66 97h8M97 97h1M142 97h2M149 97h2M181 97h1M29 98h2M144 98h5M28 99h2M172 99h1M28 100h1M85 100h2M89 100h1M91 100h1M162 100h2M27 101h1M161 101h5M183 101h1M27 102h1M83 102h2M161 102h2M165 102h2M174 102h1M26 103h1M83 103h2M161 103h2M166 103h2M26 104h1M85 104h2M98 104h2M101 104h2M161 104h2M167 104h2M184 104h1M26 105h1M85 105h1M99 105h3M161 105h1M168 105h2M184 105h1"/>
<path stroke="#e51e1d" d="M18 0h13M48 0h45M143 0h31M181 0h10M18 1h13M50 1h43M143 1h31M181 1h10M19 2h12M54 2h38M143 2h31M180 2h10M19 3h12M56 3h32M143 3h31M179 3h10M19 4h12M58 4h25M143 4h31M179 4h9M19 5h12M58 5h25M110 5h1M143 5h31M179 5h8M19 6h13M60 6h22M107 6h2M116 6h2M144 6h29M179 6h7M20 7h12M60 7h14M81 7h1M103 7h2M118 7h1M145 7h28M179 7h6M21 8h11M62 8h10M99 8h2M151 8h21M179 8h5M23 9h10M62 9h9M93 9h1M119 9h1M151 9h9M165 9h7M178 9h5M24 10h14M63 10h8M90 10h2M119 10h1M151 10h8M167 10h4M178 10h4M27 11h3M35 11h5M63 11h8M82 11h2M113 11h3M119 11h3M151 11h8M168 11h3M178 11h3M37 12h5M63 12h8M79 12h1M81 12h4M109 12h2M113 12h4M119 12h5M151 12h7M168 12h3M179 12h1M41 13h2M62 13h1M69 13h2M77 13h1M81 13h3M109 13h1M112 13h16M151 13h6M169 13h3M43 14h1M69 14h4M74 14h2M109 14h1M112 14h17M150 14h6M173 14h1M44 15h1M69 15h5M112 15h18M149 15h5M176 15h2M45 16h1M69 16h5M112 16h2M115 16h16M147 16h4M174 16h1M176 16h1M45 17h1M61 17h1M69 17h5M118 17h14M145 17h3M175 17h2M46 18h1M62 18h1M69 18h5M120 18h13M144 18h2M47 19h1M62 19h1M68 19h7M121 19h13M143 19h1M47 20h1M62 20h1M70 20h3M122 20h13M141 20h2M47 21h1M61 21h2M125 21h17M48 22h1M59 22h2M75 22h1M127 22h13M48 23h1M56 23h2M129 23h10M49 24h1M54 24h2M129 24h10M49 25h5M130 25h9M50 26h2M132 26h7M133 27h7M134 28h8M135 29h16M136 30h3M151 30h3M137 31h2M153 31h2M137 32h2M153 32h2M137 33h2M153 33h1M138 34h1M153 34h1M138 35h1M152 35h1M139 36h1M151 36h1M140 37h1M140 38h2M150 38h1M142 39h1M143 40h1M143 41h2M11 42h3M21 42h8M144 42h3M10 43h1M24 43h5M151 43h5M186 43h19M10 44h2M22 44h3M148 44h3M156 44h1M180 44h25M11 45h10M148 45h1M156 45h1M179 45h26M148 46h1M156 46h1M182 46h8M148 47h1M156 47h1M186 47h3M149 48h1M186 48h2M1 49h4M149 49h2M154 49h1M186 49h2M5 50h1M152 50h1M186 50h1M6 51h1M186 51h1M185 52h1M9 53h1M184 53h1M9 54h2M184 54h1M9 55h2M184 55h1M8 56h2M156 56h4M152 57h1M186 57h2M149 58h2M162 58h2M149 59h1M162 59h2M150 60h1M161 60h1M175 60h2M151 61h7M181 61h1M180 62h1M182 63h1M110 64h2M110 65h8M168 65h1M183 65h1M64 66h1M110 66h8M167 66h2M183 66h1M64 67h2M111 67h7M168 67h1M181 67h3M65 68h1M114 68h3M169 68h1M180 68h3M64 69h2M171 69h1M179 69h3M64 70h1M173 70h2M178 70h3M176 71h2M88 91h3M104 91h2M83 92h1M108 92h2M81 93h1M112 93h2M172 93h4M39 94h2M45 94h3M79 94h1M115 94h1M131 94h4M143 94h6M170 94h1M177 94h1M36 95h2M48 95h2M74 95h2M78 95h2M112 95h1M130 95h2M143 95h2M148 95h2M170 95h1M34 96h2M50 96h2M74 96h5M101 96h1M143 96h2M148 96h2M32 97h2M51 97h4M63 97h3M74 97h5M144 97h5M171 97h1M31 98h2M59 98h20M172 98h1M30 99h3M59 99h19M182 99h1M29 100h3M59 100h19M173 100h1M28 101h4M59 101h21M84 101h1M28 102h4M59 102h24M163 102h2M183 102h1M27 103h4M60 103h23M163 103h3M175 103h1M27 104h4M61 104h24M100 104h1M163 104h4M175 104h1M27 105h4M61 105h24M162 105h6M175 105h1"/>
<path stroke="#db141e" d="M31 0h3M45 0h3M93 0h3M141 0h2M174 0h1M178 0h3M31 1h3M46 1h4M93 1h3M141 1h2M174 1h2M178 1h3M31 2h3M47 2h7M92 2h4M141 2h2M174 2h6M31 3h3M48 3h8M88 3h7M141 3h2M174 3h5M31 4h3M50 4h8M83 4h4M141 4h2M174 4h5M31 5h3M54 5h4M83 5h3M111 5h5M141 5h2M174 5h5M32 6h2M56 6h4M82 6h3M105 6h2M141 6h3M173 6h6M32 7h2M57 7h3M74 7h7M82 7h3M101 7h2M142 7h3M173 7h6M32 8h3M59 8h3M72 8h13M97 8h2M119 8h1M145 8h6M172 8h2M175 8h4M33 9h2M60 9h2M71 9h14M148 9h3M172 9h6M38 10h4M60 10h3M71 10h3M80 10h6M89 10h1M120 10h1M149 10h2M171 10h2M176 10h2M40 11h3M61 11h2M71 11h2M79 11h3M84 11h3M122 11h8M149 11h2M171 11h2M42 12h1M62 12h1M71 12h2M77 12h2M80 12h1M124 12h7M149 12h2M171 12h2M178 12h1M43 13h1M71 13h2M74 13h3M128 13h3M148 13h3M172 13h2M179 13h1M44 14h1M73 14h1M129 14h3M148 14h2M174 14h1M178 14h1M45 15h1M130 15h3M146 15h3M174 15h2M46 16h1M131 16h3M145 16h2M175 16h1M46 17h1M132 17h3M144 17h1M47 18h1M61 18h1M133 18h3M143 18h1M61 19h1M134 19h9M48 20h1M60 20h2M135 20h6M48 21h1M59 21h2M49 22h1M57 22h2M49 23h3M53 23h3M50 24h4M139 30h12M139 31h3M151 31h2M139 32h1M152 32h1M139 33h1M152 33h1M139 34h1M151 34h2M139 35h2M151 35h1M140 36h2M150 36h1M141 37h2M150 37h1M142 38h1M149 38h1M143 39h1M149 39h1M144 40h5M145 41h3M14 42h7M11 43h13M12 44h10M151 44h5M149 45h2M155 45h1M149 46h1M155 46h1M190 46h15M149 47h1M155 47h1M189 47h6M150 48h2M153 48h3M188 48h3M0 49h1M151 49h3M188 49h2M4 50h1M187 50h2M187 51h1M7 52h1M186 52h1M7 53h2M185 53h1M8 54h1M185 54h1M8 55h1M185 55h1M187 55h1M2 56h6M153 57h3M160 57h1M188 57h17M151 58h2M161 58h1M150 59h2M161 59h1M151 60h2M159 60h2M174 61h1M181 62h1M171 63h1M179 63h3M170 64h1M181 64h2M169 65h1M181 65h2M169 66h1M180 66h3M169 67h2M179 67h2M64 68h1M170 68h2M178 68h2M172 69h3M176 69h3M175 70h3M91 91h13M84 92h2M106 92h2M82 93h1M109 93h3M41 94h4M80 94h2M113 94h2M171 94h2M176 94h1M38 95h1M46 95h2M80 95h1M110 95h2M145 95h3M171 95h1M178 95h1M36 96h1M48 96h2M79 96h2M99 96h2M145 96h3M171 96h1M179 96h1M34 97h2M49 97h2M79 97h1M96 97h1M180 97h1M33 98h2M56 98h3M79 98h2M181 98h1M33 99h2M56 99h3M78 99h3M173 99h1M32 100h2M57 100h2M78 100h4M84 100h1M182 100h1M32 101h2M57 101h2M80 101h4M174 101h1M182 101h1M32 102h2M57 102h2M31 103h3M57 103h3M183 103h1M31 104h3M59 104h2M183 104h1M31 105h2M59 105h2M183 105h1"/>
<path stroke="#d10e21" d="M34 0h2M44 0h1M96 0h2M140 0h1M175 0h3M34 1h2M45 1h1M96 1h2M140 1h1M176 1h2M34 2h2M46 2h1M96 2h1M140 2h1M34 3h2M47 3h1M95 3h2M140 3h1M34 4h2M48 4h2M87 4h10M140 4h1M34 5h2M49 5h5M86 5h9M109 5h1M116 5h1M140 5h1M34 6h2M51 6h5M85 6h2M103 6h2M118 6h1M140 6h1M34 7h2M56 7h1M85 7h2M99 7h2M119 7h1M140 7h2M35 8h1M57 8h2M85 8h2M94 8h3M120 8h1M141 8h4M174 8h1M35 9h6M58 9h2M85 9h2M120 9h1M142 9h6M42 10h1M59 10h1M74 10h6M86 10h3M121 10h1M126 10h5M146 10h3M173 10h3M43 11h1M60 11h1M73 11h2M76 11h3M130 11h2M147 11h2M173 11h2M177 11h1M43 12h2M60 12h2M73 12h4M131 12h2M147 12h2M173 12h2M44 13h1M60 13h2M73 13h1M131 13h3M146 13h2M174 13h2M178 13h1M45 14h1M60 14h1M132 14h3M145 14h3M175 14h3M46 15h1M133 15h3M144 15h2M47 16h1M134 16h2M143 16h2M47 17h1M60 17h1M135 17h3M142 17h2M48 18h1M60 18h1M136 18h7M48 19h1M60 19h1M49 20h1M59 20h1M49 21h1M57 21h2M50 22h7M52 23h1M142 31h9M140 32h4M149 32h3M140 33h2M150 33h2M140 34h2M150 34h1M141 35h2M149 35h2M142 36h2M149 36h1M143 37h2M148 37h2M143 38h3M147 38h2M144 39h5M151 45h4M150 46h5M150 47h5M195 47h10M152 48h1M191 48h14M190 49h2M0 50h4M189 50h1M4 51h2M188 51h1M6 52h1M187 52h1M6 53h1M186 53h1M7 54h1M186 54h1M6 55h2M0 56h2M187 56h2M156 57h4M153 58h1M160 58h1M152 59h1M160 59h1M153 60h6M175 61h3M172 62h2M177 62h1M172 63h2M178 63h1M171 64h2M179 64h2M170 65h3M179 65h2M170 66h2M178 66h2M171 67h2M177 67h2M172 68h6M175 69h1M86 92h2M105 92h1M83 93h1M107 93h2M82 94h1M109 94h4M173 94h3M39 95h2M44 95h2M81 95h1M108 95h2M172 95h1M176 95h2M37 96h1M47 96h1M81 96h1M172 96h1M178 96h1M36 97h1M48 97h1M80 97h2M172 97h1M35 98h1M49 98h7M81 98h1M173 98h1M35 99h1M54 99h2M81 99h2M92 99h1M181 99h1M34 100h2M55 100h2M82 100h2M87 100h1M174 100h1M34 101h1M55 101h2M34 102h1M55 102h2M175 102h1M182 102h1M34 103h1M56 103h1M182 103h1M34 104h1M57 104h2M176 104h1M33 105h1M58 105h1M176 105h1"/>
<path stroke="#c80723" d="M36 0h1M98 0h1M138 0h2M36 1h1M44 1h1M98 1h1M138 1h2M36 2h1M45 2h1M97 2h2M138 2h2M36 3h1M46 3h1M97 3h2M138 3h2M36 4h1M47 4h1M97 4h2M110 4h3M138 4h2M36 5h1M48 5h1M95 5h2M105 5h4M117 5h2M138 5h2M36 6h1M49 6h2M87 6h9M99 6h4M119 6h1M138 6h2M36 7h1M50 7h6M87 7h12M120 7h1M138 7h2M36 8h1M52 8h1M56 8h1M87 8h7M123 8h1M138 8h3M41 9h1M54 9h1M57 9h1M87 9h6M121 9h1M130 9h1M139 9h3M43 10h2M57 10h2M122 10h1M124 10h2M131 10h1M133 10h1M140 10h6M44 11h1M58 11h2M75 11h1M132 11h2M141 11h6M175 11h2M45 12h1M59 12h1M133 12h2M143 12h4M175 12h3M45 13h2M59 13h1M134 13h2M143 13h3M176 13h2M46 14h1M59 14h1M135 14h2M143 14h2M47 15h1M59 15h1M136 15h2M142 15h2M48 16h1M59 16h1M136 16h7M48 17h1M59 17h1M138 17h4M49 18h1M59 18h1M49 19h1M58 19h2M50 20h1M57 20h2M50 21h7M144 32h5M142 33h8M142 34h8M143 35h6M144 36h5M145 37h3M146 38h1M192 49h13M190 50h2M3 51h1M189 51h2M5 52h1M188 52h1M5 53h1M187 53h1M5 54h2M187 54h1M3 55h3M189 56h16M154 58h6M153 59h7M174 62h3M174 63h4M173 64h6M173 65h6M172 66h6M173 67h4M88 92h17M84 93h2M106 93h1M83 94h1M107 94h2M41 95h3M82 95h1M107 95h1M173 95h3M38 96h2M45 96h2M82 96h1M98 96h1M173 96h5M37 97h1M46 97h2M82 97h1M94 97h2M173 97h2M178 97h2M36 98h2M47 98h2M82 98h2M93 98h1M174 98h1M179 98h2M36 99h1M49 99h5M83 99h2M91 99h1M174 99h1M180 99h1M36 100h1M50 100h5M88 100h1M175 100h1M181 100h1M35 101h2M51 101h1M53 101h2M175 101h1M181 101h1M35 102h1M52 102h3M176 102h1M181 102h1M35 103h1M54 103h2M176 103h1M181 103h1M35 104h1M54 104h3M177 104h1M181 104h2M34 105h1M56 105h2M177 105h1M182 105h1"/>
<path stroke="#be0126" d="M37 0h1M43 0h1M99 0h1M135 0h3M37 1h1M99 1h2M135 1h3M37 2h1M99 2h2M135 2h3M37 3h1M45 3h1M99 3h2M135 3h3M37 4h1M46 4h1M99 4h2M107 4h3M113 4h5M135 4h3M37 5h1M47 5h1M97 5h8M119 5h1M135 5h3M37 6h1M48 6h1M96 6h3M120 6h1M135 6h3M37 7h1M49 7h1M121 7h1M135 7h3M37 8h1M49 8h3M53 8h1M55 8h1M121 8h1M124 8h1M133 8h5M42 9h1M53 9h1M55 9h2M122 9h1M129 9h1M132 9h7M45 10h1M56 10h1M123 10h1M134 10h6M45 11h2M57 11h1M134 11h7M46 12h1M58 12h1M135 12h8M47 13h1M58 13h1M136 13h7M47 14h1M58 14h1M137 14h6M48 15h1M58 15h1M138 15h4M49 16h1M58 16h1M49 17h2M58 17h1M50 18h1M57 18h2M50 19h2M56 19h2M51 20h6M192 50h13M0 51h3M191 51h2M3 52h2M189 52h2M4 53h1M188 53h2M4 54h1M188 54h1M0 55h3M188 55h3M86 93h1M104 93h2M84 94h1M105 94h2M83 95h1M105 95h2M40 96h5M83 96h1M94 96h4M38 97h2M44 97h2M83 97h1M92 97h2M175 97h3M38 98h1M46 98h1M84 98h1M91 98h2M175 98h4M37 99h1M47 99h2M85 99h2M88 99h3M175 99h5M37 100h1M48 100h2M176 100h5M37 101h1M49 101h2M52 101h1M176 101h5M36 102h3M50 102h2M177 102h4M36 103h3M49 103h5M177 103h4M36 104h4M51 104h3M178 104h3M35 105h5M51 105h5M178 105h4"/>
<path stroke="#ae0026" d="M38 0h1M100 0h2M133 0h2M38 1h1M43 1h1M101 1h1M133 1h2M38 2h1M44 2h1M101 2h1M133 2h2M38 3h1M101 3h2M108 3h7M133 3h2M38 4h1M45 4h1M101 4h6M118 4h1M133 4h2M38 5h1M46 5h1M120 5h1M133 5h2M38 6h1M47 6h1M121 6h1M133 6h2M38 7h1M47 7h2M122 7h3M133 7h2M38 8h1M48 8h1M54 8h1M122 8h1M129 8h1M132 8h1M48 9h5M123 9h1M46 10h2M55 10h1M132 10h1M47 11h1M56 11h1M47 12h1M56 12h2M48 13h1M57 13h1M48 14h2M57 14h1M49 15h2M57 15h1M50 16h1M57 16h1M51 17h1M56 17h2M51 18h6M52 19h4M193 51h12M0 52h3M191 52h14M0 53h4M190 53h2M0 54h4M189 54h4M191 55h14M87 93h17M85 94h2M93 94h12M84 95h2M92 95h13M84 96h2M91 96h3M40 97h4M84 97h2M90 97h2M39 98h2M43 98h3M85 98h2M88 98h3M38 99h3M46 99h1M87 99h1M38 100h4M46 100h2M38 101h5M47 101h2M39 102h4M48 102h2M39 103h4M48 103h1M40 104h3M49 104h2M40 105h3M49 105h2"/>
<path stroke="#9f0026" d="M39 0h2M42 0h1M102 0h1M131 0h2M39 1h1M42 1h1M102 1h2M131 1h2M39 2h1M43 2h1M102 2h2M109 2h4M131 2h2M39 3h1M44 3h1M103 3h5M115 3h4M131 3h2M39 4h1M44 4h1M119 4h2M131 4h2M39 5h1M45 5h1M121 5h1M131 5h2M39 6h1M46 6h1M122 6h1M131 6h2M39 7h1M46 7h1M131 7h2M39 8h2M47 8h1M130 8h2M43 9h2M47 9h1M124 9h1M131 9h1M48 10h1M54 10h1M48 11h1M55 11h1M48 12h2M55 12h1M49 13h2M55 13h2M50 14h2M55 14h2M51 15h2M55 15h2M51 16h6M52 17h4M192 53h13M193 54h12M87 94h6M86 95h2M89 95h3M86 96h5M86 97h4M41 98h2M87 98h1M41 99h5M42 100h4M43 101h4M43 102h5M43 103h5M43 104h2M47 104h2M43 105h2M48 105h1"/>
<path stroke="#8f0026" d="M41 0h1M103 0h3M129 0h2M40 1h2M104 1h15M129 1h2M40 2h3M104 2h5M113 2h8M129 2h2M40 3h4M119 3h4M129 3h2M40 4h4M121 4h3M129 4h2M40 5h2M43 5h2M122 5h3M129 5h2M40 6h2M44 6h2M123 6h4M129 6h2M40 7h2M44 7h2M125 7h1M129 7h2M41 8h2M45 8h2M125 8h1M45 9h2M125 9h3M49 10h5M49 11h6M50 12h5M51 13h4M52 14h3M53 15h2M88 95h1M45 104h2M45 105h3"/>
<path stroke="#800026" d="M106 0h23M119 1h10M121 2h8M123 3h6M124 4h5M42 5h1M125 5h4M42 6h2M127 6h2M42 7h2M126 7h3M43 8h2M126 8h3M128 9h1"/>
</g>
</g></g>
<path clip-path="url(#cl1)" d="M1546.6 273.7 1544.3 272.4 1542.5 270.2 1537.5 270.8 1536.2 265.5 1538.5 257.6 1537.2 252.3 1539.6 250.7 1546.4 250.1 1551.2 250.4 1555.7 251 1557.8 246.7 1557.8 242 1555.4 238.9 1549 235.2 1555.9 234.3 1556.9 231.2 1561 231.8 1565.4 227.2 1566.6 227.2 1570.6 224.2 1572.2 221.2 1576.9 220 1581.3 218.5 1580.3 213.7 1580.5 208.9 1585 207.1 1584.6 211.6 1584.1 215.2 1584.7 217 1586.5 218.2 1589.2 217.6 1594.2 218.5 1604.7 217 1609.8 213.1 1609.2 210.7 1610.2 208 1616.1 209.2 1616.3 205.1 1613.8 203.3 1616.5 202.2 1623.6 201.9 1628.3 200.7 1624.4 198.4 1616.5 199.9 1612.2 201 1610.4 199.3 1607.6 191.5 1615 186.2 1611.8 184 1607.6 184.5 1604.5 189.6 1598.5 193.5 1598.9 198.4 1603.3 202.5 1598.2 204.8 1598.5 210.1 1596.8 211.6 1591 213.4 1590.2 212.2 1587.9 207.1 1586 203.3 1584.7 200.7 1583.3 203.3 1579 206 1573.7 203.6 1572.6 199.3 1571.8 196.1 1574.3 193.3 1578.1 190.4 1584.2 186.8 1590.6 179.9 1588.6 178 1599.1 173.4 1608 170.8 1611.9 169.8 1623 171.6 1627.6 174.2 1633.9 175 1645.3 178.5 1644.6 182.6 1628.3 180.4 1633.7 184.8 1642.3 189 1647.2 187.3 1650.9 182.6 1649.1 176.1 1655.6 178.5 1670.4 177.2 1671.7 175.6 1679 175.8 1682.6 173.2 1694.9 175.3 1695.6 171.3 1694.2 166.1 1695.3 164.9 1700.1 166.1 1706.4 172.6 1712.1 180.7 1713.1 176.6 1707.8 167.4 1712.7 166.1 1717.6 167.4 1716.5 163.6 1725 162.3 1724.5 159.9 1736.9 157.4 1749 153.3 1757.6 156.2 1770 158.6 1777.1 162.8 1773.7 164.9 1791.1 164.9 1803.3 163.9 1813.7 167.4 1815 168.5 1822.8 170 1829.1 168.7 1833.5 166.1 1845.9 166.7 1856.7 168.7 1864.5 170 1886.1 174 1897.1 173.2 1904.1 173.4 1913.2 173.2 1927.1 175.6 1942.3 185.7 1939 187.1 1950.8 193.3 1941.5 196.1 1940.3 200.4 1931.4 200.4 1930.9 204.8 1935.8 212.2 1935.8 216.7 1937.3 221.2 1938.3 227.2 1924.9 215.2 1919.5 207.7 1916.3 199 1916 193.3 1907.5 195.2 1907.4 201.9 1898.7 201.6 1882.3 202.2 1880.4 213.7 1883.2 218.2 1897.6 222.7 1903.6 233.4 1903.4 241.1 1902.3 248.8 1895.2 251.7 1892 255.7 1893.1 258.9 1890.6 263.9 1898.2 269.2 1900.4 274 1900.6 276.8 1894.2 277.8 1892.5 274 1890.9 269.2 1885.2 267.7 1883.7 262.9 1881.5 261.7 1874.8 259.8 1875.8 264.8 1873.3 262.9 1871.3 258.9 1869.1 261.7 1865.8 264.5 1869.1 267.7 1871.1 269.2 1877.3 269.2 1880.3 269.6 1876.8 274 1876.2 278.4 1880.8 283.5 1886.8 289.5 1888.1 293.3 1886.7 299.3 1885.4 305.6 1882.4 310.4 1879.3 314.2 1873.1 317.3 1863.3 320.8 1863.2 323.7 1861.2 319.9 1856.6 319.9 1853.4 322.1 1851.7 328.7 1859.8 337 1863.5 344.2 1864 349.3 1861.4 353.4 1858.8 355.3 1857.3 357.5 1852.7 360.7 1853 356.3 1850.6 354.4 1848.7 354.4 1845.2 349.3 1840.8 347.1 1839.5 345.2 1838.1 348 1836.8 355.3 1837.3 358.8 1841.3 365.1 1846 368.6 1849.3 375.9 1852 383.2 1851.2 383.8 1846.4 380.9 1843.8 378.4 1840.7 370.8 1839.8 367.3 1834.8 362.9 1835.2 356.3 1834.5 348.7 1832.9 343.3 1830.3 335.7 1826 336.6 1821.7 337.3 1820.4 329.4 1815.8 324.3 1812.8 320.2 1811.9 317.3 1808.4 318.3 1803.1 319.5 1799.4 322.1 1796.5 325.2 1790.4 331.9 1788 335.4 1785.1 336.6 1782.8 340.4 1783.6 346.4 1782.5 350.2 1783.1 355.3 1781.6 358.5 1778.6 360.1 1776.8 362.3 1773.1 356.3 1771.5 352.1 1768.4 347.1 1764.9 339.2 1761 327.8 1760.6 323.3 1759.7 320.8 1758.2 318.9 1755.5 322.4 1751.4 319.5 1749.5 317.3 1749 315.1 1747.1 313.2 1744.8 312 1743.1 309.4 1730.2 308.5 1725.5 307.8 1717.8 306.9 1713.1 301.8 1707.1 303.7 1697.6 296.4 1694.9 292.6 1691 293.3 1689.9 294.9 1696.6 304.4 1700.9 305.9 1701.3 310.1 1709 310.7 1711.1 307.8 1713.4 304.4 1720.7 313.2 1724.3 317 1721.3 323 1717.6 328.4 1710.1 334.1 1705.1 337.6 1696.8 342 1685.7 347.4 1681.3 348 1679 341.1 1678.1 334.4 1673.5 326.2 1668.2 319.9 1664.6 311.6 1661.3 307.2 1657.4 301.5 1654.9 294.5 1653.4 299.6 1648.3 293.3 1652.3 301.8 1656 308.8 1657.9 313.5 1663 325.9 1666.9 330.9 1670 338.5 1679.3 346.8 1680.6 351.2 1686 355 1695.6 352.5 1703.3 350.6 1703.8 355 1700.2 364.2 1696.2 371.8 1690.7 379 1687.4 381.6 1679.6 389.2 1675.1 395.2 1671.7 400.9 1670.4 409.4 1670.8 416.4 1673.4 422.7 1673.2 429 1673.5 433.8 1671.3 438.5 1662.5 444.5 1656.4 450.6 1657.4 457.5 1657.6 463.5 1650.1 470.2 1648.7 478.1 1644 482.5 1634.9 492.3 1628.5 495.5 1619 496.1 1613.6 498 1609.5 495.8 1608.3 492.3 1606.4 482.8 1605.3 478.4 1602 472.1 1600.4 460.4 1596.5 451.2 1593.3 442.6 1594.3 436 1598 427.8 1597.6 415.7 1595.1 406.9 1594 403.1 1587.3 394.2 1587.1 386.6 1588.2 381.9 1587.9 375.2 1584 372.4 1577.8 374.3 1570.3 367.6 1567.5 368 1564.1 368.6 1560.2 370.5 1557.5 371.8 1549.6 371.1 1539.9 374 1530.7 368 1524 361 1522.7 357.8 1517.5 350.2 1514.2 345.2 1512.3 341.4 1515.2 337.3 1516.7 330.6 1514.2 322.1 1517.4 312.9 1521.5 305.3 1526 299.6 1531.2 297.1 1534.5 294.5 1535.1 291.7 1534.6 288.2 1536.3 285.7 1540.7 281.6 1542.8 280.3 1544.5 276.5 1545.6 274.6 1546.9 274.3 1550.3 276.5 1553.2 276.2 1559.2 274.9 1568.9 271.5 1574.1 271.5 1581.2 271.1 1586.6 269.9 1589.5 270.5 1588.6 274.6 1589.3 278.1 1587.5 280.6 1589.9 281.3 1595.9 283.8 1601 285.4 1605.2 289.2 1610.4 291.4 1614.4 286.3 1619.3 283.8 1624.8 286.3 1628.1 287.9 1633.5 288.5 1640.7 289.2 1643.6 287.9 1647.1 288.9 1651.2 289.5 1652.7 288.2 1653.5 286.3 1653.8 284.1 1654.8 280.6 1655.4 279 1655 275.6 1654.9 273 1655.6 272.1 1651.3 271.5 1646.1 273.7 1641.1 271.1 1634.1 271.8 1632.4 270.8 1630.4 266.1 1628.5 262.9 1628.5 261.1 1635.3 257.6 1650.3 255.1 1653.7 257.3 1663.3 258.2 1667.1 256.3 1661.1 250.1 1655.7 246.7 1652.3 244.8 1655.1 241.1 1657.9 238.9 1648.9 241.1 1648.5 245.7 1644.9 247 1642 244.2 1637.1 241.4 1635.1 245.1 1633 248.2 1631.4 251.3 1630.7 253.5 1634.8 257.6 1628.1 259.8 1627.3 258.9 1623.4 258.5 1622.1 261.4 1619.6 259.5 1619.4 262.9 1620.5 266.1 1622.5 267.7 1621 272.4 1618.4 272.1 1616.9 269.2 1616.7 266.7 1614.3 263.9 1610.7 260.1 1610.4 257.3 1608.7 254.5 1606.8 253.2 1602.3 250.4 1599.1 248.5 1596.8 244.8 1595.2 243.9 1591.5 244.5 1592.5 248.5 1594.9 250.1 1596.9 253.5 1601.9 255.4 1604.1 257.9 1606.8 259.5 1608.4 261.1 1607.2 261.4 1605 260.1 1603.4 262.6 1605.1 264.2 1603.6 266.4 1601.4 267.7 1601.8 265.5 1601.2 261.4 1598.8 259.5 1597.2 258.9 1595.4 257.6 1592 256 1589 253.8 1586.8 250.4 1585.5 248.5 1583.2 247.6 1579.7 249.5 1579.2 249.8 1575.7 251.7 1574.5 251 1570.9 250.4 1568.4 252.9 1569 255.4 1566.4 257 1563.9 257.9 1563.1 259.2 1560 262.9 1561.3 265.5 1559.5 266.7 1558.2 268.9 1554.3 271.5 1549.3 271.8ZM1219.1 177.2 1236.7 171.8 1251.1 169 1264.9 171.6 1276.5 173.4 1287.4 174.5 1301.7 172.6 1311.3 172.1 1322 175.3 1330.6 178 1342.1 176.6 1355.2 178 1374.1 167.9 1371.8 175.3 1376.8 176.6 1391.7 173.2 1393.3 178 1382.1 182.1 1380 182.1 1372.9 187.6 1360.9 192.4 1352.9 197.5 1348.1 203.9 1348.8 209.2 1358 210.7 1362.7 214.6 1365.4 221.5 1367.1 226.3 1371.2 225.7 1374.9 216.7 1381.8 213.7 1385.3 204.8 1390.5 193.8 1401.4 193.8 1406 197.5 1403.9 203.9 1416.1 199.6 1419.2 207.7 1421.3 213.7 1426.2 222.7 1424 225.7 1415.4 229.7 1399.5 230.3 1390.1 235.8 1403.5 234 1400.4 238 1399.9 241.1 1408.7 243.2 1411.6 242 1401.1 247 1394 249.5 1392.9 245.7 1388.4 248.2 1383.5 250.1 1380.4 254.2 1382.1 256 1377.9 257 1370.6 259.8 1366.8 264.8 1363.9 269.2 1362.2 270.8 1362 276.5 1356 279.4 1348.4 284.1 1344.9 286.6 1342.6 292 1343.4 298 1343.3 306.3 1340.5 308.5 1337.4 299.9 1336.4 294.5 1334.8 293 1327.1 291.7 1325 291.4 1320.7 295.8 1316 295.2 1305.8 295.2 1298 299.9 1295.9 307.2 1293.3 317.3 1296.6 327.1 1300.8 330.6 1312.2 325.2 1313.3 321.4 1315.1 320.5 1321.2 319.9 1323 320.8 1319.1 329.4 1317.4 334.1 1317.5 337.9 1328.6 337.6 1330.5 340.4 1329 348.3 1329.8 356.3 1338.4 358.2 1345.5 360.7 1350.8 355 1362.3 348.7 1361.7 353.7 1371.7 354.7 1382.8 354.4 1391.1 356.3 1392.2 361 1401.8 368.9 1407.3 369.2 1414.8 372.4 1418.4 375.2 1421 384.7 1425.2 391.1 1437.9 395.8 1453.3 399.6 1462.6 406.3 1463.5 413.2 1454 429 1453.3 443.3 1450.2 452.1 1442.8 460.7 1434.6 463.8 1429.3 471.8 1425.5 484.4 1421.4 492.3 1412.6 498.3 1406.6 497.4 1412.2 502.8 1411.2 508.1 1399.6 510.7 1394.2 517.6 1399.4 522.3 1398 530.1 1392.6 532.9 1398 537.8 1395.2 547 1395.3 550.4 1397.6 553.1 1407.9 560.6 1404.9 563.3 1392.5 557.6 1382.7 551.6 1375.1 539.4 1374.3 527 1372.2 520.7 1368.7 505 1370.6 492.3 1367.8 476.5 1368.7 462.6 1367.3 446.4 1353.4 436.9 1346.7 425.9 1339.1 410.1 1333.8 402.5 1337.3 395.8 1335.8 387.9 1338.6 384.7 1344.6 375.6 1343.8 365.7 1343.6 365.1 1339.4 359.7 1336.7 364.2 1332.3 361.6 1322.3 356.3 1319.3 348.3 1318.1 346.1 1312.6 345.2 1307.2 343.6 1298.3 337.3 1285 334.7 1279.2 331.3 1270.8 323.3 1272 322.4 1272.4 319.9 1270.3 314.5 1267 308.8 1261.3 299.6 1258.4 294.5 1254.6 287.3 1257.1 294.5 1257.6 302.5 1260.3 311.3 1260.6 315.4 1256 309.4 1252.9 299.9 1251.7 294.5 1249.8 287.3 1249.2 284.4 1247.4 280.6 1242.6 278.7 1241.7 272.1 1241.8 268.3 1241 260.1 1245.2 252 1252.6 241.7 1254.9 235.2 1252 227.8 1254.8 218.2 1254.3 210.7 1251.2 205.4 1247.2 201.9 1239.3 200.4 1235.1 198.1 1219.6 202.8 1229.8 197 1212.2 204.8 1193.9 212.2 1181.5 215.2 1175.5 216.4 1189.8 210.7 1206 204.2 1195.9 204.2 1195.3 199 1202.4 192.4 1217.1 187.6 1207.7 187.6 1206 184.5 1222.4 181ZM1430.1 152.2 1447.1 147.1 1459.7 144.5 1477.2 143.5 1494.9 141.8 1511.6 141.3 1524.3 142.8 1540.5 145.1 1529.5 148.2 1526.1 155 1526 159.9 1518.9 166.1 1515.9 171.3 1507.7 176.6 1495 178 1481.7 184.3 1471.9 191.8 1463.7 200.4 1454.7 197.5 1450.1 188.5 1449 182.1 1456.9 175.8 1452 171.3 1453.7 166.1 1451.5 158.6 1434.2 156.2ZM1408.4 163.1 1414.7 166.1 1421 171.3 1424.6 175.3 1431.6 181.2 1424.5 184.8 1418.8 191.8 1415.2 194.7 1405.5 192.4 1397 188.5 1404.5 184.8 1409.9 179.3 1404.1 172.6 1390 172.6 1385.2 168.7 1399.3 163.6ZM1326.6 170 1332.8 165.4 1349.4 163.6 1359 163.6 1363.1 166.1 1359.1 171.3 1347.4 175.3 1329.8 176.6 1322.4 174ZM1314.5 167.7 1326.6 161.8 1338.1 161.8 1337.3 164.9 1326.1 168.7 1315.2 168.7ZM1405.8 147.1 1428.6 142.2 1453.4 142.2 1457.5 144.1 1439.2 148.2 1427.2 151.5 1413.6 156.2 1397.1 156.2 1399.6 151.5ZM1387.7 159.9 1413.2 156.7 1409.2 161.1 1386.4 161.1ZM1376 186.2 1387 189 1378.3 192.4 1372.1 190.4ZM1345.6 156.2 1366.1 157.4 1362.3 159.9 1340 160.3ZM1362.5 164.9 1375.1 162.8 1371.6 167.4 1361.3 167.9ZM1378 162.8 1388 162.3 1383.6 166.1 1376.5 167.4ZM1390.9 149.3 1410.5 146.1 1408 150.4 1395.6 152.6ZM1369.5 156.2 1382.4 156.2 1377.3 159.9 1367 159.9ZM1337.4 155.5 1354.4 153.8 1341.4 157.9ZM1414.3 237.7 1419.1 233.4 1422 228.1 1427.5 225.4 1426.1 230.3 1431.3 233.4 1430.9 237.7 1428.1 240.8 1423.4 239.5 1420.2 238ZM1510.1 184.8 1514.8 182.3 1527.4 182.1 1531.2 184.8 1528.7 188.2 1520.9 190.7 1512.4 189.6ZM1547 230 1552.3 228.8 1564.2 226.6 1564.8 222.4 1561.5 220 1560.3 217.6 1557.3 213.7 1556.2 210.7 1556.7 207.4 1551.7 206.9 1554 204.5 1549.5 204.5 1547.6 207.7 1547.9 211.3 1549.4 215.2 1553.8 215.8 1553.7 220 1549.9 220.3 1551.3 223.3 1548.3 225.1 1553.6 226.3ZM1546.5 224.2 1546.7 218.2 1547.9 216.4 1543.3 214.3 1540.9 216.7 1537.3 218.2 1537.5 221.2 1536.1 224.8 1540.4 225.4 1545.8 223.6ZM1580.4 151.5 1588.6 148.2 1607.5 147.7 1600.3 152.6 1590.2 156.2ZM1663.4 168.7 1665.1 161.1 1674.9 156.2 1686.7 155 1674.5 161.1 1672 170ZM1727.5 148.2 1731.6 146.1 1744.7 149.3 1737.1 151.5ZM1816.7 159.9 1824.1 157.4 1842.3 159.4 1835.6 164.9ZM1646.9 147.1 1663.3 146.1 1668.1 147.7 1647.9 148.6ZM1194.5 175.6 1198.2 178.5 1203.3 180.7 1204.6 183.2 1198.8 185.4 1190.7 188.2 1187 186.2 1183.7 184.8 1179.3 185.7ZM1894.2 217.3 1900.1 221.2 1910.2 231.8 1915.7 242.6 1912.8 241.1 1905.3 230.3 1898.1 222.7ZM1917.7 255.1 1914.5 244.5 1928.8 250.7 1925.3 255.1 1921.2 256.7ZM1921 256.7 1927.6 262.9 1927.3 267 1930.3 274 1929.2 277.1 1926.2 278.1 1922.5 279.7 1920.8 281.9 1917.1 278.4 1911.1 279.7 1907.1 279.7 1907.4 277.1 1910.4 275.2 1917.7 274 1918.8 270.8 1921.4 268.3 1921.5 261.4ZM1904.9 280.6 1910.2 281.9 1911.4 288.9 1909.1 289.8 1905 283.5ZM1912.7 283.5 1916.7 279.7 1917 282.8 1914.4 284.4ZM1888.5 315.1 1891.1 307.8 1893 310.4 1891.3 318.3ZM1859.4 327.1 1864.2 324.3 1865.8 325.9 1862.7 330.3ZM1892.4 337.3 1892.8 329.4 1897.2 329.4 1897.7 335.7 1904.8 346.8 1895.1 344.2ZM1901 365.7 1910.1 356.9 1913.5 364.2 1911 369.5 1906.7 367.3ZM1905 348.3 1910.6 353.1 1908.1 356.3 1902.9 354.7ZM1865.4 383.2 1871 381.6 1877.8 376.8 1883.2 371.1 1887.1 365.7 1893 371.4 1890.3 373.7 1890.1 384.7 1886.4 392.6 1884.8 400.2 1880.6 400.6 1870.9 397.4 1868.2 392.6ZM1826.8 370.2 1834.5 375.2 1841.7 381.6 1850.1 391.1 1856.9 397.4 1856 406.3 1852.4 406.3 1843 395.8 1836.1 383.2 1828.9 375.2ZM1854.2 409.4 1858 406.9 1869 409.4 1874.5 409.7 1880.2 412.6 1879.7 415.4 1867.3 413.8 1857.7 411.3ZM1881.3 413.8 1892.4 413.8 1903.5 413.8 1903.4 415.7 1892.2 416.1 1881.1 415.7ZM1904.4 420.5 1914.6 414.5 1908.9 416.4ZM1892.9 405.3 1894.9 387.9 1898.4 383.8 1908.8 383.2 1910.7 383.2 1899 386.3 1904.6 390.4 1900.4 393.6 1904.2 402.1 1901.3 405.3 1898.9 395.8 1896.8 405.3ZM1917.1 381.6 1919.9 383.2 1918.6 389.5 1916.7 386.3ZM1918.4 397.4 1926.2 397.4 1923.9 399.9 1918.3 399.9ZM1927 391.1 1935.4 390.4 1943.7 392.6 1954.8 396.1 1967.1 402.1 1972.3 408.5 1978 421.1 1967.5 414.8 1960.4 416.4 1953.4 417 1945.3 414.2 1944.7 403.7 1935 400.6 1929.6 395.8ZM1975.3 405.3 1985.3 401.2 1983.6 405.3 1976.5 407.5ZM1783.5 368.9 1783.2 356.9 1788.8 364.2 1786.8 368.9ZM1697.7 425.9 1700.5 436.9 1696.7 451.2 1688.6 467 1680.6 465.4 1679.9 455.9 1683.7 440.1 1691 433.8ZM1871.4 457.5 1870.2 470.2 1868.9 484.4 1867 493.9 1864.7 496.4 1871.8 498.7 1887.7 495.2 1905 488.2 1912.7 489.2 1918.2 498 1926 492.3 1922.9 499.3 1926.1 498 1926.1 503.4 1926.3 508.1 1937.5 509.1 1939.4 511.6 1951.9 506.6 1961 495.2 1970.1 486 1975.3 477.1 1975.5 473.3 1972.7 460.7 1969.6 452.8 1962.7 446.4 1962.9 438.5 1958.5 432.2 1957.1 421.8 1953.4 429 1951.6 440.1 1945.4 443.3 1936.9 436.9 1940.7 426.5 1929 424.3 1923.9 427.1 1917.9 434.7 1911.4 432.2 1903.2 440.1 1897.5 444.9 1887.5 451.2 1880.4 453.1ZM1932.3 516.6 1941.1 517.3 1935.5 524.5 1929.6 525.7 1930.5 521.3ZM2017 496.8 2018.8 501.8 2019.7 506.6 2025.8 507.2 2018 512.9 2008.1 518.5 2011.5 512.9 2010.4 511.9 2016.8 505ZM2004.6 516 2005.4 520.1 1996.8 526.3 1989.2 530.1 1980.1 535 1975.4 533.2 1985.5 527 1998.5 520.1ZM1328.2 318.6 1336.9 314.5 1350.1 318.3 1357.1 324 1348 324.9 1340.5 318.9 1333.7 318.3ZM1355.7 329.7 1360.9 324.9 1368.5 325.6 1372.5 329.4 1363.7 331.9 1356.2 330.3ZM1345.2 329.7 1350.9 330.9 1348.6 331.6ZM1375.8 329.4 1380.2 330 1376.2 330.9ZM1593 267.4 1601.3 266.7 1600.3 271.8 1593.4 268.9ZM1581.8 258.2 1585.9 257.9 1585.6 264.2 1582.5 264.5ZM1582.6 252.3 1584.9 252 1584.8 257 1583.3 256.3ZM1622.6 275.2 1630 276.2 1625.4 277.5ZM1645.9 276.8 1651.7 274.9 1650.5 278.4 1646.6 278.1ZM1132.6 324 1135.4 326.2 1131.9 328.1ZM1413.7 550.1 1421.4 549.5 1421.1 552.2 1414.9 551.6ZM1273.3 637.2 1332 637.3 1308.6 633.4 1304 631.1 1294.8 630.3 1307.7 628.9 1300.6 627.2 1280.7 626.5 1269.3 624.3 1273.7 621.3 1289 618.4 1303 614.5 1326.2 613.2 1343.7 613.7 1355.4 616.2 1370.4 616.7 1360.2 610.4 1366.9 608.4 1374.2 610.4 1388 610.9 1406.7 612.7 1425.2 610.9 1414.6 607.9 1417.1 602.1 1420.5 594 1434.5 585.1 1427.7 592.9 1429.9 598.6 1442.7 611.4 1441.5 615 1420.6 620.8 1425.3 624.3 1424 626.5 1442.7 630.1 1463.7 633.6 1474 631.1 1469.5 628.9 1478.9 624.3 1484.6 627.6 1492.3 631.1 1497.1 625.7 1509.7 627.6 1520 616.7 1545.2 606.8 1583 604.2 1620.9 601.6 1671.3 592.4 1698.9 597.8 1694 609.1 1721.8 597.8 1772.2 592.9 1792.4 593.7 1799.9 592.6 1806.9 595.9 1818.3 593.7 1842.7 593.2 1846.4 591 1845.8 595.1 1863.1 595.4 1864.1 598.1 1875.7 599.7 1883.5 604.5 1897.2 606.3 1895 608.9 1860 620.6 1856.6 625.2 1835.1 629.1 1834.1 633 1842.7 636.5 1848.7 637M1678.9 247.3 1683.7 241.1 1692.1 240.1 1693.6 245.7 1689.9 247.9 1695.4 255.1 1697.3 261.4 1701.6 269.2 1694.2 271.8 1688.3 267.7 1688.1 260.4 1681.5 253.5Z" fill="none" stroke="#000" stroke-width="1.05" stroke-linejoin="round"/>
<path d="M1828.6 643.1 1836 641.1 1844.3 638.5 1853.4 635.4 1863.2 631.7 1873.4 627.6 1884 623.2 1894.5 618.4 1904.4 613.5 1913.7 608.4 1922.4 603.2 1930.8 597.8 1939 592.4 1947.1 586.8 1955 581.1 1962.7 575.4 1970.2 569.5 1977.4 563.6 1984.5 557.6 1991.2 551.6 1997.5 545.5 2003.5 539.4 2009.1 533.2 2014.4 527 2019.7 520.7 2024.5 514.4 2029.1 508.1 2033.2 501.8 2037.1 495.5 2040.6 489.2 2043.9 482.8 2046.8 476.5 2049.3 470.2 2051.5 463.8 2053.3 457.5 2055 451.2 2056.7 444.9 2058.3 438.5 2059.6 432.2 2060.8 425.9 2061.7 419.5 2062.4 413.2 2063.1 406.9 2063.5 400.6 2063.8 394.2 2064 387.9 2063.8 381.6 2063.5 375.2 2063.1 368.9 2062.4 362.6 2061.7 356.3 2060.8 349.9 2059.6 343.6 2058.3 337.3 2056.7 330.9 2055 324.6 2053.3 318.3 2051.5 312 2049.3 305.6 2046.8 299.3 2043.9 293 2040.6 286.6 2037.1 280.3 2033.2 274 2029.1 267.7 2024.5 261.4 2019.7 255.1 2014.4 248.8 2009.1 242.6 2003.5 236.4 1997.5 230.3 1991.2 224.2 1984.5 218.2 1977.4 212.2 1970.2 206.3 1962.7 200.4 1955 194.7 1947.1 189 1939 183.4 1930.8 178 1922.4 172.6 1913.7 167.4 1904.4 162.3 1894.5 157.4 1884 152.6 1873.4 148.2 1863.2 144.1 1853.4 140.4 1844.3 137.3 1836 134.7 1828.6 132.7 1293 132.7 1285.6 134.7 1277.3 137.3 1268.2 140.4 1258.4 144.1 1248.2 148.2 1237.6 152.6 1227.1 157.4 1217.2 162.3 1207.9 167.4 1199.2 172.6 1190.8 178 1182.6 183.4 1174.5 189 1166.6 194.7 1158.9 200.4 1151.4 206.3 1144.2 212.2 1137.1 218.2 1130.4 224.2 1124.1 230.3 1118.1 236.4 1112.5 242.6 1107.2 248.8 1101.9 255.1 1097.1 261.4 1092.5 267.7 1088.4 274 1084.5 280.3 1081 286.6 1077.7 293 1074.8 299.3 1072.3 305.6 1070.1 312 1068.3 318.3 1066.6 324.6 1064.9 330.9 1063.3 337.3 1062 343.6 1060.8 349.9 1059.9 356.3 1059.2 362.6 1058.5 368.9 1058.1 375.2 1057.8 381.6 1057.6 387.9 1057.8 394.2 1058.1 400.6 1058.5 406.9 1059.2 413.2 1059.9 419.5 1060.8 425.9 1062 432.2 1063.3 438.5 1064.9 444.9 1066.6 451.2 1068.3 457.5 1070.1 463.8 1072.3 470.2 1074.8 476.5 1077.7 482.8 1081 489.2 1084.5 495.5 1088.4 501.8 1092.5 508.1 1097.1 514.4 1101.9 520.7 1107.2 527 1112.5 533.2 1118.1 539.4 1124.1 545.5 1130.4 551.6 1137.1 557.6 1144.2 563.6 1151.4 569.5 1158.9 575.4 1166.6 581.1 1174.5 586.8 1182.6 592.4 1190.8 597.8 1199.2 603.2 1207.9 608.4 1217.2 613.5 1227.1 618.4 1237.6 623.2 1248.2 627.6 1258.4 631.7 1268.2 635.4 1277.3 638.5 1285.6 641.1 1293 643.1Z" fill="none" stroke="#000" stroke-width="1.7"/>
<g clip-path="url(#cl2)"><g filter="url(#bl)">
<g transform="translate(2091 126.5) scale(5)" fill="none" stroke-width="1" shape-rendering="crispEdges">
<path stroke="#ffffcc" d="M86 20h1M30 83h35M70 83h3M148 83h17M169 83h20M26 84h40M70 84h6M143 84h48M27 85h39M70 85h3M144 85h48M35 86h32M185 86h8M37 87h31M187 87h7M188 88h7M189 89h6M190 90h6M191 91h5M193 92h3"/>
<path stroke="#fffac1" d="M0 0h1M0 1h1M0 2h1M0 3h2M0 4h2M0 5h2M0 6h3M0 7h4M0 8h5M0 9h6M0 10h7M204 10h1M0 11h8M202 11h3M0 12h8M201 12h4M0 13h9M199 13h6M0 14h10M198 14h7M0 15h11M194 15h11M0 16h12M39 16h1M193 16h12M0 17h13M38 17h3M84 17h15M193 17h12M0 18h14M38 18h3M83 18h14M192 18h13M0 19h15M37 19h3M82 19h15M192 19h13M0 20h16M36 20h4M81 20h5M87 20h10M193 20h12M0 21h18M35 21h5M81 21h18M194 21h11M0 22h20M32 22h9M81 22h19M195 22h9M0 23h40M82 23h18M196 23h7M0 24h39M82 24h17M198 24h4M0 25h39M83 25h14M199 25h1M0 26h38M83 26h14M0 27h38M83 27h14M0 28h13M83 28h7M96 28h1M0 29h9M84 29h1M0 30h8M0 31h6M73 76h1M173 76h2M182 76h1M193 76h2M18 77h46M72 77h31M139 77h38M180 77h20M17 78h47M70 78h34M138 78h38M179 78h26M16 79h48M71 79h33M138 79h38M178 79h27M15 80h50M70 80h34M138 80h38M177 80h28M13 81h52M70 81h35M138 81h67M11 82h54M70 82h35M138 82h67M9 83h21M73 83h31M137 83h11M165 83h4M189 83h16M8 84h18M76 84h27M138 84h5M191 84h14M7 85h20M66 85h1M75 85h11M139 85h5M192 85h13M6 86h29M67 86h1M71 86h9M140 86h45M193 86h12M6 87h31M68 87h2M72 87h5M141 87h46M194 87h11M5 88h18M33 88h38M143 88h23M177 88h11M195 88h10M4 89h16M52 89h15M180 89h9M195 89h10M0 90h18M181 90h9M196 90h9M0 91h17M182 91h9M196 91h9M0 92h16M183 92h10M196 92h9M0 93h15M184 93h21M0 94h14M184 94h21M0 95h13M185 95h20M0 96h13M186 96h19M0 97h12M186 97h19M0 98h11M189 98h16M0 99h11M190 99h15M0 100h11M190 100h15M0 101h10M191 101h14M0 102h10M191 102h14M0 103h10M191 103h14M0 104h10M191 104h14M0 105h10M191 105h14"/>
<path stroke="#fff6b6" d="M1 0h3M1 1h3M1 2h3M2 3h2M2 4h3M2 5h3M3 6h3M4 7h3M5 8h3M202 8h3M6 9h3M201 9h4M7 10h3M200 10h4M8 11h2M198 11h4M8 12h3M197 12h4M9 13h2M194 13h5M10 14h2M98 14h6M193 14h5M11 15h2M95 15h9M192 15h2M12 16h2M36 16h3M84 16h3M88 16h12M102 16h2M191 16h2M13 17h2M36 17h2M83 17h1M99 17h1M102 17h2M189 17h4M14 18h3M35 18h3M82 18h1M97 18h1M188 18h4M15 19h3M34 19h3M40 19h1M81 19h1M187 19h5M16 20h5M31 20h5M80 20h1M97 20h3M186 20h7M18 21h17M80 21h1M99 21h2M186 21h8M20 22h12M80 22h1M189 22h6M204 22h1M80 23h2M100 23h1M191 23h5M203 23h2M39 24h1M80 24h2M99 24h2M191 24h7M202 24h3M81 25h2M97 25h1M192 25h7M200 25h4M80 26h3M97 26h1M193 26h10M79 27h4M195 27h7M13 28h25M71 28h12M90 28h6M195 28h6M9 29h29M71 29h13M85 29h13M196 29h3M8 30h30M73 30h26M6 31h6M80 31h7M0 32h10M81 32h5M0 33h8M83 33h1M0 34h4M74 74h2M161 74h2M170 74h3M183 74h2M16 75h48M73 75h102M182 75h23M15 76h49M74 76h99M181 76h1M183 76h10M195 76h10M14 77h4M71 77h1M103 77h36M177 77h1M179 77h1M200 77h5M13 78h4M104 78h4M134 78h4M178 78h1M11 79h5M70 79h1M104 79h3M135 79h3M9 80h6M104 80h3M135 80h3M176 80h1M8 81h5M105 81h2M135 81h3M7 82h4M105 82h3M134 82h4M6 83h3M104 83h5M121 83h16M5 84h3M69 84h1M103 84h4M119 84h19M4 85h3M74 85h1M86 85h17M122 85h17M3 86h3M80 86h3M137 86h3M0 87h6M77 87h2M139 87h2M0 88h5M23 88h10M71 88h5M141 88h2M166 88h11M0 89h4M20 89h3M35 89h17M67 89h3M144 89h21M178 89h2M18 90h3M180 90h1M17 91h3M181 91h1M16 92h3M182 92h1M15 93h3M182 93h2M14 94h3M183 94h1M13 95h3M184 95h1M13 96h2M184 96h2M12 97h2M185 97h1M11 98h3M186 98h3M11 99h2M188 99h2M11 100h2M188 100h2M10 101h2M189 101h2M10 102h2M189 102h2M10 103h2M189 103h2M10 104h2M189 104h2M10 105h2M189 105h2"/>
<path stroke="#fff1ab" d="M4 0h1M4 1h1M4 2h1M4 3h2M5 4h1M5 5h1M6 6h1M7 7h2M201 7h4M8 8h1M200 8h2M9 9h1M199 9h2M10 10h1M198 10h2M10 11h1M197 11h1M11 12h1M194 12h3M11 13h2M98 13h7M192 13h2M12 14h2M96 14h2M191 14h2M13 15h2M37 15h1M92 15h3M190 15h2M14 16h2M35 16h1M83 16h1M87 16h1M104 16h1M189 16h2M15 17h2M34 17h2M82 17h1M104 17h1M188 17h1M17 18h1M33 18h2M81 18h1M100 18h1M103 18h2M187 18h1M18 19h3M31 19h3M80 19h1M97 19h1M185 19h2M21 20h10M79 20h1M184 20h2M40 21h1M78 21h2M184 21h2M78 22h2M184 22h5M78 23h2M185 23h6M78 24h2M187 24h4M67 25h3M77 25h4M189 25h3M204 25h1M67 26h13M190 26h3M203 26h2M65 27h14M97 27h1M103 27h1M191 27h4M202 27h2M66 28h5M103 28h1M192 28h3M201 28h2M67 29h4M102 29h1M193 29h3M199 29h3M68 30h5M194 30h7M12 31h27M69 31h11M87 31h11M195 31h4M10 32h4M71 32h10M86 32h6M95 32h2M8 33h3M79 33h4M84 33h4M4 34h5M80 34h6M0 35h5M82 35h3M17 73h47M75 73h36M118 73h45M171 73h1M184 73h21M14 74h50M76 74h36M116 74h45M168 74h2M185 74h20M13 75h3M12 76h3M11 77h3M9 78h4M108 78h26M176 78h1M8 79h3M107 79h28M7 80h2M107 80h28M6 81h2M107 81h28M5 82h2M108 82h26M4 83h2M109 83h12M3 84h2M107 84h12M1 85h3M73 85h1M103 85h19M0 86h3M83 86h4M119 86h18M79 87h2M124 87h5M135 87h4M76 88h2M139 88h2M23 89h12M70 89h4M141 89h3M165 89h13M21 90h2M53 90h14M144 90h19M178 90h2M20 91h1M180 91h1M19 92h1M181 92h1M18 93h1M17 94h1M182 94h1M16 95h1M183 95h1M15 96h1M14 97h1M184 97h1M14 98h1M185 98h1M13 99h1M186 99h2M13 100h1M187 100h1M12 101h1M188 101h1M12 102h1M188 102h1M12 103h1M188 103h1M12 104h1M188 104h1M12 105h1M188 105h1"/>
<path stroke="#ffec9f" d="M5 0h1M5 1h1M5 2h1M6 3h1M6 4h1M6 5h2M7 6h2M201 6h4M9 7h1M199 7h2M9 8h2M199 8h1M10 9h1M198 9h1M11 10h1M196 10h2M11 11h1M195 11h2M12 12h1M100 12h4M193 12h1M13 13h1M96 13h2M191 13h1M14 14h1M94 14h2M190 14h1M15 15h1M36 15h1M84 15h3M89 15h3M189 15h1M16 16h1M34 16h1M82 16h1M101 16h1M188 16h1M17 17h1M33 17h1M105 17h1M187 17h1M18 18h2M32 18h1M98 18h1M102 18h1M105 18h1M185 18h2M21 19h4M29 19h2M79 19h1M103 19h1M184 19h1M78 20h1M183 20h1M77 21h1M101 21h1M182 21h2M77 22h1M100 22h1M182 22h2M76 23h2M101 23h1M183 23h2M73 24h5M101 24h1M183 24h4M70 25h7M184 25h5M38 26h1M104 26h2M184 26h6M104 27h2M108 27h1M185 27h6M204 27h1M64 28h2M97 28h1M104 28h2M185 28h7M203 28h2M63 29h4M98 29h1M101 29h1M185 29h8M202 29h3M63 30h5M185 30h9M201 30h4M62 31h7M187 31h8M199 31h5M14 32h26M61 32h10M92 32h3M192 32h9M11 33h29M62 33h17M88 33h9M9 34h2M63 34h17M86 34h4M5 35h3M64 35h18M85 35h3M0 36h4M78 36h9M76 71h2M110 71h1M16 72h48M76 72h35M119 72h45M185 72h20M12 73h5M111 73h1M170 73h1M172 73h1M8 74h6M0 75h13M0 76h12M0 77h11M70 77h1M0 78h9M0 79h8M64 79h1M0 80h7M0 81h6M69 81h1M0 82h5M0 83h4M65 83h1M0 84h3M0 85h1M69 85h1M68 86h1M87 86h32M70 87h2M81 87h2M119 87h5M129 87h6M78 88h1M122 88h17M74 89h2M139 89h2M23 90h2M38 90h15M67 90h3M142 90h2M163 90h4M177 90h1M21 91h1M146 91h16M179 91h1M20 92h1M180 92h1M19 93h1M181 93h1M183 96h1M15 97h1M184 98h1M14 99h1M185 99h1M13 101h1M187 101h1M13 102h1M187 102h1M13 103h1M13 104h1M13 105h1"/>
<path stroke="#ffe794" d="M6 0h1M6 1h1M6 2h1M7 4h1M8 5h1M202 5h3M9 6h1M200 6h1M10 7h1M198 8h1M11 9h1M197 9h1M195 10h1M193 11h2M98 12h2M104 12h2M192 12h1M93 14h1M83 15h1M87 15h2M104 15h1M17 16h1M33 16h1M187 16h1M18 17h1M32 17h1M81 17h1M186 17h1M20 18h2M31 18h1M80 18h1M99 18h1M184 18h1M25 19h4M99 19h2M183 19h1M77 20h1M182 20h1M181 21h1M181 22h1M73 23h2M182 23h1M72 24h1M182 24h1M182 25h2M182 26h2M109 27h1M182 27h3M102 28h1M106 28h3M112 28h1M181 28h4M108 29h1M111 29h2M181 29h4M109 30h3M182 30h3M61 31h1M183 31h4M204 31h1M60 32h1M183 32h9M201 32h4M59 33h3M185 33h20M11 34h29M59 34h4M90 34h6M8 35h2M60 35h4M88 35h2M4 36h2M61 36h17M87 36h2M62 37h25M76 70h2M18 71h46M78 71h32M120 71h44M185 71h20M0 72h16M75 72h1M0 73h12M163 73h1M0 74h8M163 74h1M167 74h1M177 78h1M70 86h1M83 87h2M117 87h2M79 88h2M120 88h2M76 89h1M137 89h2M25 90h13M70 90h3M140 90h2M167 90h6M176 90h1M22 91h1M144 91h2M162 91h2M18 94h1M17 95h1M182 95h1M16 96h1M15 98h1M14 100h1M186 100h1M187 103h1M187 104h1M187 105h1"/>
<path stroke="#fee289" d="M7 2h1M7 3h1M8 4h1M9 5h1M200 5h2M199 6h1M198 7h1M11 8h1M197 8h1M196 9h1M12 10h1M12 11h1M192 11h1M13 12h1M97 12h1M191 12h1M14 13h1M95 13h1M190 13h1M15 14h1M189 14h1M16 15h1M188 15h1M18 16h1M105 16h1M19 17h1M185 17h1M22 18h1M30 18h1M78 19h1M182 19h1M40 20h1M76 20h1M181 20h1M40 23h1M72 23h1M181 23h1M71 24h1M181 24h1M98 25h1M106 25h1M120 25h2M181 25h1M66 26h1M106 26h1M181 26h1M64 27h1M180 27h2M111 28h1M115 28h1M178 28h3M100 29h1M115 29h1M176 29h5M108 30h1M112 30h3M116 30h3M175 30h1M178 30h4M109 31h4M120 31h1M180 31h3M182 32h1M183 33h2M184 34h21M10 35h3M59 35h1M90 35h4M6 36h2M59 36h2M89 36h2M0 37h4M60 37h2M87 37h2M61 38h24M63 39h6M108 53h6M58 54h1M108 54h8M179 54h1M109 55h7M110 56h1M0 70h2M20 70h43M78 70h33M121 70h43M187 70h18M0 71h18M73 74h1M115 74h1M182 74h1M72 75h1M178 77h1M69 78h1M69 82h1M69 83h1M85 87h2M103 87h14M81 88h1M119 88h1M77 89h1M121 89h16M73 90h2M139 90h1M173 90h3M23 91h1M54 91h14M142 91h2M164 91h2M178 91h1M21 92h1M146 92h16M20 93h1M181 94h1M183 97h1M15 99h1M14 101h1M186 101h1M14 102h1"/>
<path stroke="#fedd7f" d="M7 0h1M7 1h1M8 3h1M9 4h1M200 4h5M10 5h1M199 5h1M10 6h1M198 6h1M11 7h1M197 7h1M12 8h1M110 8h6M196 8h1M12 9h1M109 9h1M115 9h2M195 9h1M194 10h1M13 11h1M191 11h1M14 12h1M190 12h1M15 13h1M189 13h1M16 14h1M84 14h2M91 14h2M104 14h1M188 14h1M17 15h1M187 15h1M19 16h1M81 16h1M186 16h1M20 17h2M31 17h1M80 17h1M101 17h1M184 17h1M23 18h2M29 18h1M79 18h1M183 18h1M77 19h1M104 19h1M100 20h1M180 21h1M72 22h1M180 22h1M180 23h1M120 24h1M180 24h1M99 25h1M110 25h1M119 25h1M180 25h1M111 26h1M179 26h2M176 27h4M175 28h3M103 29h1M109 29h2M113 29h1M116 29h1M175 29h1M38 30h1M100 30h1M174 30h1M176 30h2M98 31h1M113 31h7M177 31h3M179 32h3M181 33h2M182 34h2M13 35h27M94 35h1M183 35h22M8 36h2M91 36h3M4 37h1M59 37h1M89 37h2M60 38h1M85 38h4M62 39h1M69 39h12M65 40h2M103 49h2M108 52h7M58 53h2M114 53h3M164 53h1M59 54h9M116 54h1M178 54h1M57 55h12M116 55h1M179 55h3M58 56h9M109 56h1M111 56h6M0 69h2M22 69h41M77 69h33M124 69h40M190 69h15M2 70h5M17 70h3M120 70h1M186 70h1M184 72h1M183 73h1M114 74h1M173 74h1M175 76h1M87 87h16M82 88h1M117 88h2M78 89h1M120 89h1M75 90h1M123 90h5M136 90h3M24 91h3M52 91h2M68 91h2M141 91h1M166 91h2M177 91h1M22 92h1M144 92h2M162 92h2M179 92h1M151 93h3M160 93h1M180 93h1M19 94h1M18 95h1M17 96h1M16 97h1M184 99h1M15 100h1M185 100h1M186 102h1M14 103h1M14 104h1M14 105h1"/>
<path stroke="#fed673" d="M8 0h1M8 1h1M8 2h2M202 2h3M9 3h1M200 3h5M10 4h1M199 4h1M198 5h1M11 6h1M197 6h1M12 7h1M196 7h1M109 8h1M116 8h1M195 8h1M13 9h1M194 9h1M13 10h1M192 10h2M14 11h1M99 11h8M190 11h1M15 12h1M189 12h1M16 13h1M188 13h1M17 14h1M86 14h1M90 14h1M187 14h1M18 15h1M38 15h1M186 15h1M20 16h1M40 16h1M185 16h1M22 17h1M25 18h1M27 18h2M78 18h1M182 18h1M76 19h1M98 19h1M181 19h1M103 20h1M180 20h1M76 21h1M179 21h1M71 22h1M179 22h1M179 23h1M109 24h1M179 24h1M100 25h1M104 25h1M118 25h1M178 25h2M107 26h1M122 26h1M176 26h3M102 27h1M106 27h1M115 27h1M175 27h1M38 28h1M173 28h2M99 29h1M173 29h2M115 30h1M119 30h1M173 30h1M39 31h1M173 31h4M59 32h1M97 32h1M111 32h2M117 32h1M175 32h4M178 33h3M56 34h1M96 34h1M180 34h2M40 35h1M56 35h2M181 35h2M10 36h5M38 36h3M56 36h2M184 36h21M5 37h2M57 37h2M91 37h2M59 38h1M89 38h1M61 39h1M81 39h5M60 40h2M64 40h1M67 40h12M102 49h1M103 50h4M108 51h8M58 52h2M115 52h2M164 52h2M57 53h1M60 53h9M117 53h1M165 53h2M57 54h1M68 54h3M117 54h1M165 54h1M177 54h1M69 55h2M117 55h1M182 55h1M67 56h2M117 56h1M181 56h3M60 57h7M110 57h7M131 67h2M0 68h1M28 68h35M77 68h2M87 68h23M128 68h16M158 68h3M196 68h9M2 69h3M19 69h3M76 69h1M121 69h3M186 69h4M7 70h10M111 72h1M166 74h1M174 74h1M72 76h1M64 78h1M176 79h1M83 88h1M106 88h11M79 89h1M119 89h1M76 90h1M121 90h2M128 90h8M27 91h7M50 91h2M70 91h2M139 91h2M168 91h5M143 92h1M164 92h1M21 93h1M147 93h2M150 93h1M154 93h5M161 93h2M182 96h1M16 98h1M15 101h1M186 103h1M186 104h1M186 105h1"/>
<path stroke="#fecc68" d="M9 0h2M199 0h6M9 1h2M199 1h6M10 2h1M198 2h4M10 3h1M198 3h2M11 4h1M198 4h1M11 5h1M197 5h1M12 6h1M196 6h1M13 7h1M13 8h1M194 8h1M108 9h1M117 9h1M193 9h1M14 10h1M190 10h2M15 11h1M97 11h2M189 11h1M16 12h1M96 12h1M106 12h1M188 12h1M17 13h1M187 13h1M18 14h1M87 14h3M186 14h1M19 15h1M81 15h2M185 15h1M21 16h1M100 16h1M184 16h1M23 17h1M79 17h1M183 17h1M180 19h1M101 20h2M179 20h1M73 21h1M102 21h1M75 23h1M178 23h1M178 24h1M101 25h1M105 25h1M107 25h1M117 25h1M176 25h2M98 26h1M103 26h1M108 26h1M171 26h3M175 26h1M38 27h1M98 27h1M107 27h1M169 27h6M109 28h1M170 28h3M38 29h1M167 29h1M170 29h3M62 30h1M99 30h1M101 30h1M167 30h2M170 30h3M167 31h6M116 32h1M118 32h3M168 32h7M168 33h10M55 34h1M57 34h1M168 34h12M55 35h1M171 35h10M15 36h23M42 36h1M55 36h1M58 36h1M180 36h4M7 37h2M54 37h3M93 37h1M0 38h4M53 38h4M58 38h1M90 38h3M51 39h1M55 39h6M86 39h3M55 40h5M79 40h3M54 41h8M64 41h7M56 42h9M57 43h3M57 44h2M52 45h2M57 45h1M52 46h2M51 47h5M51 48h7M51 49h8M112 49h4M50 50h9M102 50h1M107 50h10M48 51h12M103 51h3M116 51h2M165 51h3M46 52h12M60 52h3M117 52h1M166 52h2M40 53h13M69 53h2M118 53h1M39 54h12M71 54h1M118 54h1M160 54h1M166 54h1M180 54h1M39 55h11M71 55h1M118 55h1M160 55h1M39 56h10M69 56h2M118 56h1M180 56h1M39 57h10M58 57h2M67 57h2M109 57h1M117 57h2M39 58h10M39 59h10M39 60h10M38 61h11M38 62h12M37 63h14M36 64h16M34 65h19M131 65h6M32 66h23M130 66h9M29 67h34M91 67h19M129 67h2M133 67h9M1 68h4M20 68h8M63 68h1M79 68h8M124 68h3M144 68h14M161 68h3M188 68h8M5 69h3M17 69h2M63 69h1M63 70h1M74 73h1M117 73h1M112 74h1M175 75h1M181 75h1M180 76h1M65 82h1M66 84h1M67 85h1M69 86h1M84 88h2M102 88h4M80 89h1M117 89h2M77 90h1M120 90h1M34 91h16M72 91h2M122 91h8M135 91h4M173 91h4M23 92h2M61 92h6M141 92h2M165 92h2M178 92h1M146 93h1M149 93h1M159 93h1M163 93h2M20 94h1M19 95h1M181 95h1M18 96h1M17 97h1M183 98h1M16 99h1M16 100h1M185 101h1M15 102h1M15 103h1M15 104h1"/>
<path stroke="#fec35e" d="M11 0h1M198 0h1M11 1h1M198 1h1M11 2h1M197 2h1M11 3h1M197 3h1M12 4h1M197 4h1M12 5h1M196 5h1M13 6h1M110 7h5M195 7h1M14 8h1M108 8h1M117 8h1M14 9h1M110 9h1M192 9h1M15 10h1M107 10h1M189 10h1M16 11h1M96 11h1M107 11h1M188 11h1M17 12h1M187 12h1M18 13h1M94 13h1M186 13h1M19 14h1M185 14h1M20 15h1M184 15h1M22 16h1M80 16h1M106 16h1M183 16h1M24 17h2M30 17h1M100 17h1M182 17h1M26 18h1M77 18h1M181 18h1M178 21h1M101 22h1M178 22h1M71 23h1M177 23h1M118 24h1M176 24h2M109 25h1M171 25h2M99 26h2M121 26h1M169 26h2M99 27h1M111 27h2M63 28h1M98 28h2M110 28h1M165 28h2M169 28h1M104 29h2M114 29h1M166 29h1M168 29h1M120 30h1M166 30h1M169 30h1M108 31h1M166 31h1M167 32h1M97 33h1M58 34h1M53 35h2M58 35h1M167 35h4M50 36h5M167 36h13M9 37h3M40 37h1M50 37h4M169 37h2M180 37h25M4 38h1M49 38h4M57 38h1M50 39h1M52 39h1M89 39h4M50 40h1M54 40h1M62 40h2M82 40h3M62 41h2M71 41h8M54 42h2M65 42h3M49 43h2M56 43h1M60 43h4M49 44h5M56 44h1M59 44h3M49 45h3M56 45h1M58 45h3M49 46h3M54 46h1M57 46h3M114 46h2M49 47h2M112 47h5M48 48h3M58 48h1M111 48h7M47 49h4M100 49h2M105 49h2M109 49h3M116 49h2M45 50h5M100 50h2M117 50h1M166 50h2M38 51h10M60 51h1M101 51h2M106 51h2M118 51h1M164 51h1M36 52h10M63 52h8M104 52h1M107 52h1M118 52h1M163 52h1M36 53h4M53 53h4M71 53h1M107 53h1M177 53h1M37 54h2M51 54h6M72 54h1M119 54h1M37 55h2M50 55h5M119 55h1M37 56h2M49 56h3M57 56h1M71 56h1M119 56h1M37 57h2M49 57h3M69 57h1M119 57h1M37 58h2M49 58h2M60 58h8M109 58h9M37 59h2M49 59h2M36 60h3M49 60h2M36 61h2M49 61h3M35 62h3M50 62h3M130 62h2M34 63h3M51 63h3M130 63h7M33 64h3M52 64h3M129 64h9M32 65h2M53 65h3M129 65h2M137 65h3M30 66h2M55 66h4M129 66h1M139 66h3M0 67h4M23 67h6M63 67h1M79 67h12M125 67h1M128 67h1M142 67h8M152 67h12M191 67h14M5 68h1M18 68h2M122 68h2M127 68h1M187 68h1M8 69h9M75 71h1M119 71h1M118 72h1M169 73h1M113 74h1M164 74h2M177 79h1M67 84h2M68 85h1M86 88h1M99 88h3M81 89h2M114 89h3M78 90h1M119 90h1M74 91h1M121 91h1M130 91h5M25 92h5M54 92h7M67 92h3M139 92h2M167 92h4M22 93h1M145 93h1M165 93h1M179 93h1M163 94h1M180 94h1M184 100h1M16 101h1M15 105h1"/>
<path stroke="#feb953" d="M12 0h1M197 0h1M12 1h1M197 1h1M12 2h1M12 3h1M196 4h1M13 5h1M195 6h1M14 7h1M109 7h1M115 7h1M194 7h1M193 8h1M15 9h1M107 9h1M190 9h2M16 10h1M106 10h1M188 10h1M17 11h1M187 11h1M18 12h1M186 12h1M19 13h1M92 13h1M20 14h1M21 15h1M35 15h1M23 16h1M32 16h1M26 17h1M78 17h1M180 18h1M179 19h1M178 20h1M177 22h1M127 24h1M171 24h2M175 24h1M122 25h1M127 25h1M170 25h1M175 25h1M101 26h1M117 26h1M128 26h1M174 26h1M100 27h2M114 27h1M100 28h2M114 28h1M164 28h1M106 29h1M117 29h1M169 29h1M60 31h1M115 32h1M56 33h3M167 33h1M40 34h1M54 34h1M167 34h1M42 35h1M50 35h3M95 35h1M94 36h1M12 37h28M43 37h1M167 37h2M171 37h9M5 38h2M167 38h3M183 38h22M54 39h1M51 40h1M85 40h5M79 41h2M53 42h1M68 42h3M48 43h1M54 43h2M64 43h3M48 44h1M54 44h1M62 44h2M48 45h1M54 45h1M113 45h4M48 46h1M56 46h1M111 46h3M116 46h2M48 47h1M56 47h1M99 47h3M110 47h2M117 47h1M47 48h1M97 48h7M109 48h2M118 48h1M45 49h2M59 49h1M98 49h2M107 49h2M118 49h1M167 49h1M38 50h7M59 50h2M99 50h1M118 50h1M35 51h3M61 51h3M100 51h1M34 52h2M71 52h2M101 52h3M105 52h2M119 52h1M35 53h1M72 53h1M119 53h1M159 53h1M167 53h1M169 53h1M35 54h2M159 54h1M164 54h1M169 54h1M36 55h1M55 55h2M72 55h1M108 55h1M120 55h1M178 55h1M36 56h1M52 56h3M120 56h1M124 56h2M179 56h1M36 57h1M52 57h1M70 57h1M108 57h1M120 57h2M124 57h3M163 57h2M181 57h3M36 58h1M51 58h2M59 58h1M68 58h1M105 58h4M118 58h3M124 58h5M35 59h2M51 59h2M105 59h5M125 59h5M35 60h1M51 60h2M107 60h2M128 60h3M34 61h2M52 61h2M128 61h5M33 62h2M53 62h2M129 62h1M132 62h5M32 63h2M54 63h2M129 63h1M137 63h2M31 64h2M55 64h2M128 64h1M138 64h2M30 65h2M56 65h3M128 65h1M140 65h1M0 66h4M27 66h3M59 66h4M86 66h24M128 66h1M142 66h2M158 66h6M195 66h10M4 67h2M20 67h3M123 67h2M150 67h2M188 67h3M6 68h2M17 68h1M186 68h1M65 81h1M66 83h3M87 88h12M83 89h1M103 89h11M118 90h1M75 91h1M120 91h1M30 92h3M52 92h2M70 92h2M122 92h17M171 92h2M177 92h1M23 93h2M141 93h4M166 93h1M21 94h1M164 94h1M20 95h1M19 96h1M18 97h1M182 97h1M17 98h1M16 102h1M185 102h1M16 103h1M185 103h1"/>
<path stroke="#feae4a" d="M196 0h1M196 1h1M196 2h1M13 3h1M196 3h1M13 4h1M195 5h1M14 6h1M116 7h1M193 7h1M15 8h1M192 8h1M16 9h1M114 9h1M118 9h1M189 9h1M17 10h1M104 10h2M18 11h1M19 12h1M20 13h1M91 13h1M93 13h1M105 13h1M185 13h1M21 14h1M184 14h1M22 15h1M39 15h1M80 15h1M183 15h1M24 16h1M79 16h1M182 16h1M107 17h1M181 17h1M76 18h1M101 18h1M101 19h2M178 19h1M72 21h1M177 21h1M102 22h1M102 23h1M120 23h1M171 23h1M174 23h3M70 24h1M102 24h1M117 24h1M174 24h1M39 25h1M102 25h1M173 25h1M102 26h1M118 26h1M110 27h1M128 27h1M164 27h3M168 27h1M113 28h1M167 28h2M118 29h1M120 29h1M102 30h1M165 30h1M99 31h2M58 32h1M98 32h2M166 32h1M55 33h1M98 33h1M166 33h1M97 34h1M166 34h1M96 35h1M166 35h1M166 36h1M41 37h1M166 37h1M7 38h1M43 38h1M93 38h1M165 38h2M170 38h13M0 39h1M49 39h1M90 40h3M53 41h1M81 41h2M71 42h3M47 43h1M51 43h3M67 43h1M47 44h1M55 44h1M64 44h2M112 44h6M47 45h1M55 45h1M61 45h1M63 45h1M99 45h3M111 45h2M117 45h2M47 46h1M55 46h1M97 46h6M110 46h1M118 46h1M46 47h2M57 47h2M96 47h3M102 47h2M109 47h1M118 47h1M45 48h2M59 48h1M96 48h1M104 48h5M119 48h1M42 49h3M60 49h1M97 49h1M119 49h1M34 50h4M61 50h2M98 50h1M119 50h1M165 50h1M30 51h5M64 51h9M99 51h1M119 51h1M163 51h1M31 52h3M73 52h1M100 52h1M169 52h1M33 53h2M73 53h1M101 53h6M120 53h1M170 53h1M176 53h1M34 54h1M73 54h1M107 54h1M120 54h1M125 54h1M161 54h1M176 54h1M34 55h2M121 55h1M125 55h1M161 55h1M169 55h1M35 56h1M55 56h2M72 56h1M105 56h4M121 56h2M126 56h2M35 57h1M53 57h3M71 57h1M104 57h4M122 57h2M127 57h3M180 57h1M184 57h1M35 58h1M53 58h1M58 58h1M69 58h1M103 58h2M121 58h3M129 58h2M34 59h1M53 59h1M60 59h7M103 59h2M111 59h8M124 59h1M130 59h2M34 60h1M53 60h1M103 60h4M109 60h1M126 60h2M131 60h3M33 61h1M54 61h1M105 61h4M127 61h1M133 61h4M32 62h1M55 62h1M108 62h1M128 62h1M137 62h2M31 63h1M56 63h1M128 63h1M139 63h1M30 64h1M57 64h6M105 64h4M140 64h1M0 65h3M28 65h2M59 65h4M87 65h22M141 65h2M162 65h4M197 65h8M4 66h1M23 66h4M63 66h1M80 66h6M124 66h2M127 66h1M144 66h5M153 66h5M191 66h4M6 67h1M18 67h2M122 67h1M126 67h2M187 67h1M8 68h9M185 68h1M120 69h1M185 70h1M72 74h1M64 77h1M66 82h3M84 89h1M101 89h2M79 90h2M116 90h2M76 91h1M119 91h1M33 92h2M51 92h1M72 92h2M121 92h1M173 92h4M25 93h4M61 93h7M126 93h1M137 93h4M167 93h4M178 93h1M22 94h2M160 94h3M165 94h2M21 95h1M20 96h1M181 96h1M18 98h1M17 99h1M183 99h1M17 100h1M17 101h1M184 101h1M17 102h1M16 104h1M185 104h1M16 105h1M185 105h1"/>
<path stroke="#fea546" d="M13 0h1M13 1h1M13 2h1M14 4h1M195 4h1M14 5h1M194 6h1M15 7h1M108 7h1M117 7h1M107 8h1M190 8h2M106 9h1M111 9h1M188 9h1M98 10h6M187 10h1M186 11h1M185 12h1M85 13h2M90 13h1M23 15h1M25 16h1M77 17h1M75 18h1M179 18h1M70 21h2M103 22h1M171 22h1M176 22h1M103 23h1M172 23h2M68 24h1M103 24h1M119 24h1M126 24h1M173 24h1M103 25h1M128 25h1M169 25h1M174 25h1M127 26h1M168 26h1M167 27h1M116 28h1M62 29h1M107 29h1M165 29h1M58 31h2M101 31h2M165 31h1M57 32h1M100 32h2M110 32h1M113 32h1M165 32h1M99 33h2M165 33h1M53 34h1M98 34h2M165 34h1M97 35h2M165 35h1M95 36h3M165 36h1M42 37h1M49 37h1M94 37h1M165 37h1M8 38h3M39 38h4M1 39h3M53 39h1M164 39h10M183 39h22M52 40h2M93 40h1M52 41h1M83 41h10M46 42h4M52 42h1M74 42h6M68 43h2M99 43h3M111 43h8M66 44h1M97 44h6M110 44h2M118 44h2M46 45h1M62 45h1M64 45h1M96 45h3M102 45h2M109 45h2M119 45h1M46 46h1M60 46h1M95 46h2M103 46h2M108 46h2M119 46h1M45 47h1M59 47h2M95 47h1M104 47h5M119 47h1M43 48h2M60 48h2M95 48h1M36 49h6M61 49h2M96 49h1M120 49h1M168 49h1M28 50h6M63 50h11M96 50h2M120 50h1M161 50h4M168 50h1M27 51h3M73 51h1M97 51h2M120 51h1M160 51h3M168 51h1M28 52h3M74 52h1M98 52h2M120 52h1M158 52h1M162 52h1M168 52h1M170 52h1M30 53h3M74 53h1M99 53h2M121 53h1M160 53h1M163 53h1M178 53h1M32 54h2M101 54h6M121 54h1M126 54h1M167 54h1M170 54h1M33 55h1M73 55h1M102 55h6M122 55h1M124 55h1M126 55h2M34 56h1M102 56h3M123 56h1M128 56h2M34 57h1M56 57h2M72 57h1M102 57h2M130 57h1M34 58h1M54 58h2M70 58h1M101 58h2M131 58h1M33 59h1M54 59h1M59 59h1M67 59h2M101 59h2M110 59h1M119 59h5M132 59h2M33 60h1M54 60h2M101 60h2M125 60h1M134 60h3M32 61h1M55 61h2M59 61h1M102 61h3M126 61h1M137 61h2M31 62h1M56 62h2M59 62h1M102 62h6M127 62h1M139 62h1M30 63h1M57 63h5M100 63h9M127 63h1M140 63h1M0 64h3M29 64h1M88 64h17M127 64h1M141 64h1M198 64h7M3 65h2M26 65h2M85 65h2M125 65h1M127 65h1M143 65h2M157 65h5M194 65h3M5 66h1M20 66h3M123 66h1M126 66h1M149 66h4M164 66h1M188 66h3M7 67h2M16 67h2M78 67h1M186 67h1M121 68h1M110 69h1M185 69h1M111 71h1M164 73h1M69 79h1M65 80h1M66 81h3M85 89h2M97 89h4M81 90h1M104 90h12M77 91h1M118 91h1M35 92h3M48 92h3M74 92h1M120 92h1M29 93h2M55 93h6M68 93h3M121 93h5M127 93h10M171 93h2M24 94h4M159 94h1M167 94h4M179 94h1M22 95h2M180 95h1M21 96h1M19 97h2M19 98h1M18 99h1M18 100h1M18 101h1M18 102h1M17 103h1M17 104h1M145 104h3M17 105h1"/>
<path stroke="#fd9c42" d="M14 2h1M195 2h1M14 3h1M195 3h1M15 5h1M194 5h1M15 6h1M193 6h1M192 7h1M16 8h1M118 8h1M189 8h1M17 9h1M18 10h1M96 10h2M19 11h1M95 11h1M20 12h1M21 13h1M87 13h3M184 13h1M22 14h1M183 14h1M24 15h1M182 15h1M26 16h3M78 16h1M107 16h1M181 16h1M180 17h1M106 18h2M178 18h1M177 20h1M103 21h1M176 21h1M73 22h1M76 22h1M173 22h3M104 24h1M108 24h1M164 25h5M65 26h1M119 26h2M163 26h5M129 27h1M163 27h1M128 28h2M162 28h2M162 29h3M59 30h3M103 30h2M162 30h3M57 31h1M103 31h1M162 31h3M56 32h1M102 32h2M114 32h1M162 32h3M40 33h1M101 33h3M112 33h1M162 33h3M52 34h1M100 34h3M121 34h1M162 34h3M99 35h4M120 35h2M162 35h3M98 36h4M121 36h2M162 36h3M95 37h7M122 37h1M162 37h3M11 38h28M94 38h7M162 38h3M4 39h2M43 39h1M93 39h8M114 39h4M162 39h2M174 39h9M49 40h1M94 40h9M111 40h9M163 40h7M50 41h2M93 41h12M109 41h12M50 42h2M80 42h2M92 42h29M46 43h1M70 43h1M93 43h6M102 43h9M119 43h2M46 44h1M67 44h1M94 44h3M103 44h7M120 44h1M65 45h1M94 45h2M104 45h5M120 45h1M45 46h1M61 46h1M94 46h1M105 46h3M120 46h1M44 47h1M61 47h2M94 47h1M120 47h1M41 48h2M62 48h2M94 48h1M120 48h1M34 49h2M63 49h9M94 49h2M161 49h4M166 49h1M26 50h2M94 50h2M159 50h2M26 51h1M74 51h1M94 51h3M121 51h1M159 51h1M27 52h1M75 52h1M94 52h4M121 52h1M159 52h3M29 53h1M75 53h3M95 53h4M122 53h1M126 53h2M158 53h1M162 53h1M30 54h2M74 54h1M95 54h6M122 54h2M127 54h2M181 54h1M31 55h2M74 55h1M96 55h6M123 55h1M128 55h2M166 55h1M170 55h1M177 55h1M32 56h2M73 56h1M97 56h5M130 56h1M33 57h1M98 57h4M131 57h1M165 57h1M33 58h1M56 58h2M71 58h1M98 58h3M132 58h2M32 59h1M55 59h4M69 59h2M98 59h3M134 59h3M32 60h1M56 60h4M96 60h5M123 60h2M137 60h1M31 61h1M57 61h2M93 61h9M125 61h1M0 62h1M30 62h1M58 62h1M60 62h1M91 62h11M126 62h1M0 63h3M29 63h1M89 63h11M126 63h1M141 63h1M201 63h4M3 64h2M27 64h2M86 64h2M126 64h1M142 64h1M160 64h8M196 64h2M5 65h1M24 65h2M63 65h1M81 65h4M124 65h1M126 65h1M145 65h2M155 65h2M191 65h3M6 66h2M18 66h2M122 66h1M187 66h1M9 67h7M185 67h1M76 68h1M75 70h1M74 72h1M164 72h1M165 73h1M176 76h1M66 80h4M87 89h2M92 89h5M82 90h1M102 90h2M116 91h2M38 92h10M75 92h1M119 92h1M31 93h2M53 93h2M71 93h2M120 93h1M173 93h2M177 93h1M28 94h2M63 94h6M130 94h4M157 94h2M171 94h2M24 95h4M159 95h12M22 96h4M161 96h9M21 97h4M20 98h4M182 98h1M19 99h4M19 100h3M183 100h1M19 101h2M19 102h2M184 102h1M18 103h3M18 104h3M143 104h2M18 105h3M144 105h4"/>
<path stroke="#fd923e" d="M14 0h1M46 0h13M142 0h22M195 0h1M14 1h1M47 1h11M142 1h21M195 1h1M48 2h10M142 2h20M50 3h7M142 3h19M15 4h1M143 4h16M194 4h1M110 6h5M16 7h1M107 7h1M191 7h1M17 8h1M188 8h1M105 9h1M113 9h1M187 9h1M95 10h1M108 10h1M118 10h1M186 10h1M185 11h1M21 12h1M95 12h1M112 12h1M184 12h1M22 13h1M23 14h1M25 15h1M34 15h1M79 15h1M172 15h1M29 16h1M167 16h6M27 17h1M76 17h1M167 17h6M179 17h1M108 18h1M167 18h6M105 19h1M171 19h2M75 20h1M104 20h1M165 20h2M172 20h2M175 20h2M104 21h1M163 21h5M172 21h4M70 22h1M104 22h1M151 22h4M162 22h7M172 22h1M70 23h1M104 23h1M127 23h1M151 23h5M161 23h9M128 24h1M153 24h18M66 25h1M111 25h1M116 25h1M126 25h1M156 25h8M109 26h2M157 26h6M116 27h1M158 27h5M158 28h4M60 29h2M119 29h1M159 29h3M57 30h2M105 30h2M121 30h1M159 30h3M56 31h1M104 31h3M121 31h1M159 31h3M55 32h1M104 32h2M159 32h3M104 33h2M111 33h1M113 33h9M159 33h3M51 34h1M103 34h3M112 34h9M122 34h4M158 34h4M103 35h3M111 35h9M122 35h5M158 35h4M102 36h6M110 36h11M123 36h5M157 36h5M102 37h20M123 37h7M157 37h5M44 38h1M101 38h32M156 38h6M6 39h1M41 39h2M44 39h1M101 39h13M118 39h16M156 39h6M44 40h1M103 40h8M120 40h14M157 40h6M170 40h5M45 41h1M105 41h4M121 41h12M157 41h12M45 42h1M82 42h10M121 42h11M158 42h4M45 43h1M71 43h3M92 43h1M121 43h3M125 43h1M128 43h2M45 44h1M68 44h1M93 44h1M121 44h2M128 44h1M45 45h1M66 45h2M93 45h1M121 45h2M127 45h1M44 46h1M62 46h3M93 46h1M121 46h1M130 46h1M43 47h1M63 47h2M93 47h1M121 47h1M37 48h4M64 48h6M93 48h1M121 48h1M161 48h3M26 49h8M72 49h1M92 49h2M121 49h1M160 49h1M165 49h1M24 50h2M91 50h3M121 50h1M25 51h1M75 51h1M86 51h8M122 51h1M128 51h1M157 51h2M169 51h6M26 52h1M76 52h2M83 52h11M122 52h1M127 52h3M171 52h5M28 53h1M78 53h1M82 53h13M123 53h1M128 53h2M161 53h1M168 53h1M171 53h5M29 54h1M75 54h1M80 54h15M124 54h1M129 54h2M168 54h1M174 54h2M30 55h1M88 55h8M130 55h1M31 56h1M74 56h1M90 56h7M131 56h1M161 56h1M31 57h2M73 57h1M91 57h7M132 57h2M162 57h1M179 57h1M31 58h2M72 58h1M91 58h7M134 58h3M31 59h1M71 59h1M91 59h7M137 59h1M31 60h1M60 60h10M91 60h5M112 60h11M138 60h1M0 61h3M30 61h1M90 61h3M139 61h1M1 62h3M29 62h1M88 62h3M125 62h1M140 62h1M3 63h2M28 63h1M86 63h3M125 63h1M142 63h1M165 63h4M196 63h5M5 64h1M26 64h1M84 64h2M124 64h2M143 64h2M158 64h2M168 64h1M194 64h2M6 65h1M19 65h5M122 65h2M147 65h8M166 65h1M188 65h3M8 66h10M79 66h1M186 66h1M77 67h1M72 68h4M72 69h4M72 70h3M72 71h3M164 71h1M72 72h2M71 73h3M166 73h3M71 74h1M71 75h1M71 76h1M179 76h1M69 77h1M65 79h4M89 89h3M83 90h2M98 90h4M78 91h2M104 91h12M117 92h2M33 93h2M51 93h2M73 93h1M119 93h1M175 93h2M30 94h1M58 94h5M69 94h3M119 94h8M129 94h1M134 94h2M156 94h1M173 94h1M178 94h1M28 95h1M116 95h10M130 95h2M157 95h2M171 95h2M26 96h2M105 96h21M158 96h3M170 96h3M25 97h2M104 97h22M159 97h14M181 97h1M24 98h2M103 98h23M160 98h4M168 98h5M23 99h3M102 99h24M170 99h3M22 100h3M93 100h4M101 100h25M171 100h2M21 101h3M92 101h34M172 101h1M183 101h1M21 102h3M92 102h34M153 102h1M21 103h3M92 103h33M143 103h10M184 103h1M21 104h2M105 104h17M142 104h1M148 104h1M184 104h1M21 105h2M105 105h17M142 105h2M148 105h1M184 105h1"/>
<path stroke="#fd8439" d="M15 0h1M45 0h1M59 0h1M141 0h1M164 0h1M15 1h1M46 1h1M58 1h2M141 1h1M163 1h2M15 2h1M47 2h1M58 2h2M141 2h1M162 2h2M15 3h1M48 3h2M57 3h2M141 3h1M161 3h2M194 3h1M16 4h1M49 4h10M141 4h2M159 4h3M16 5h1M51 5h6M141 5h19M193 5h1M16 6h1M109 6h1M115 6h2M144 6h6M192 6h1M118 7h1M190 7h1M106 8h1M18 9h1M112 9h1M119 9h1M19 10h1M94 10h1M117 10h1M119 10h1M20 11h1M94 11h1M117 11h1M91 12h1M118 12h1M23 13h1M183 13h1M24 14h1M80 14h1M172 14h1M182 14h1M26 15h3M167 15h1M181 15h1M77 16h1M166 16h1M173 16h1M180 16h1M29 17h1M75 17h1M106 17h1M166 17h1M173 17h1M178 17h1M165 18h2M173 18h2M75 19h1M163 19h8M173 19h3M152 20h4M162 20h3M167 20h2M170 20h2M174 20h1M105 21h1M150 21h7M161 21h2M168 21h4M105 22h1M150 22h1M155 22h7M169 22h2M105 23h1M128 23h1M150 23h1M156 23h5M170 23h1M105 24h2M121 24h1M150 24h3M152 25h4M112 26h1M116 26h1M123 26h1M154 26h3M113 27h1M156 27h2M61 28h2M117 28h1M157 28h1M57 29h3M157 29h2M56 30h1M107 30h1M157 30h2M55 31h1M107 31h1M157 31h2M106 32h4M121 32h4M157 32h2M54 33h1M106 33h2M110 33h1M122 33h5M157 33h2M41 34h1M106 34h6M126 34h2M157 34h1M106 35h5M127 35h2M130 35h1M156 35h2M41 36h1M43 36h1M49 36h1M108 36h2M128 36h5M155 36h2M130 37h5M155 37h2M133 38h2M154 38h2M7 39h2M39 39h2M134 39h1M154 39h2M0 40h2M43 40h1M134 40h1M155 40h2M175 40h30M44 41h1M46 41h4M133 41h1M155 41h2M169 41h2M44 42h1M132 42h2M157 42h1M162 42h5M74 43h6M90 43h2M124 43h1M126 43h2M130 43h2M157 43h6M44 44h1M69 44h2M92 44h1M123 44h5M129 44h2M159 44h4M44 45h1M68 45h1M123 45h1M126 45h1M128 45h3M43 46h1M65 46h2M122 46h2M128 46h2M40 47h3M65 47h4M92 47h1M122 47h1M129 47h2M34 48h3M70 48h1M92 48h1M122 48h1M129 48h2M160 48h1M164 48h1M167 48h1M24 49h2M90 49h2M122 49h1M129 49h2M158 49h2M23 50h1M74 50h1M85 50h6M122 50h2M129 50h2M156 50h3M169 50h7M23 51h2M76 51h1M82 51h4M123 51h1M129 51h2M175 51h4M25 52h1M78 52h5M123 52h2M126 52h1M130 52h1M157 52h1M176 52h3M27 53h1M79 53h3M124 53h2M130 53h1M179 53h1M28 54h1M76 54h1M78 54h2M131 54h1M162 54h2M171 54h3M29 55h1M75 55h1M82 55h6M131 55h2M165 55h1M167 55h2M183 55h1M30 56h1M75 56h1M83 56h7M132 56h2M30 57h1M74 57h1M88 57h3M134 57h3M30 58h1M73 58h1M89 58h2M137 58h2M30 59h1M72 59h1M89 59h2M138 59h1M0 60h3M30 60h1M70 60h2M89 60h2M110 60h2M139 60h1M3 61h1M29 61h1M60 61h1M88 61h2M109 61h1M123 61h2M140 61h1M4 62h1M28 62h1M86 62h2M141 62h1M196 62h9M5 63h1M27 63h1M85 63h1M124 63h1M143 63h1M160 63h5M169 63h1M195 63h1M6 64h1M23 64h3M81 64h3M123 64h1M145 64h2M156 64h2M191 64h3M7 65h2M16 65h3M80 65h1M187 65h1M72 66h7M185 66h1M71 67h6M164 67h1M71 68h1M110 68h1M164 68h1M71 69h1M164 69h1M71 70h1M164 70h1M71 71h1M70 72h2M165 72h1M64 73h1M70 73h1M112 73h1M64 74h1M70 74h1M175 74h1M70 75h1M64 76h1M69 76h2M177 76h2M68 77h1M65 78h4M85 90h2M94 90h4M80 91h1M100 91h4M107 92h10M35 93h2M50 93h1M74 93h1M118 93h1M31 94h2M54 94h4M72 94h1M118 94h1M127 94h2M136 94h2M151 94h2M154 94h2M174 94h4M29 95h1M62 95h10M115 95h1M126 95h2M132 95h1M156 95h1M173 95h2M179 95h1M28 96h1M103 96h2M126 96h1M157 96h1M173 96h1M180 96h1M27 97h1M102 97h2M126 97h1M157 97h2M173 97h1M26 98h1M101 98h2M126 98h1M157 98h3M167 98h1M173 98h1M94 99h8M126 99h1M157 99h5M168 99h2M173 99h1M182 99h1M25 100h1M97 100h4M126 100h1M155 100h2M170 100h1M173 100h1M24 101h1M90 101h2M126 101h1M150 101h7M171 101h1M173 101h1M24 102h1M90 102h2M126 102h1M142 102h11M154 102h3M172 102h3M183 102h1M90 103h2M125 103h2M141 103h2M153 103h3M173 103h2M23 104h1M92 104h4M103 104h2M122 104h1M140 104h2M149 104h1M174 104h1M23 105h1M92 105h5M103 105h2M122 105h1M141 105h1"/>
<path stroke="#fd7435" d="M60 0h1M139 0h2M165 0h1M194 0h1M16 1h1M45 1h1M60 1h1M139 1h2M194 1h1M16 2h1M46 2h1M60 2h1M139 2h2M164 2h1M194 2h1M16 3h1M47 3h1M59 3h2M140 3h1M163 3h1M48 4h1M59 4h1M140 4h1M162 4h1M193 4h1M49 5h2M57 5h2M140 5h1M160 5h2M17 6h1M51 6h6M117 6h1M143 6h1M150 6h11M191 6h1M17 7h1M146 7h8M189 7h1M18 8h1M119 8h1M187 8h1M19 9h1M103 9h2M186 9h1M20 10h1M185 10h1M21 11h1M116 11h1M22 12h2M90 12h1M24 13h1M25 14h2M79 14h1M78 15h1M166 15h1M168 15h4M173 15h1M180 15h1M165 16h1M178 16h2M28 17h1M164 17h2M41 18h1M162 18h3M177 18h1M152 19h5M161 19h2M176 19h1M105 20h1M150 20h2M156 20h2M160 20h2M169 20h1M69 21h1M106 21h1M149 21h1M157 21h4M106 22h1M148 22h2M106 23h1M148 23h2M40 24h1M69 24h1M107 24h1M149 24h1M150 25h2M113 26h3M129 26h1M152 26h2M62 27h2M117 27h2M154 27h2M58 28h3M118 28h1M155 28h2M56 29h1M121 29h1M156 29h1M55 30h1M156 30h1M54 31h1M122 31h4M156 31h1M54 32h1M125 32h3M156 32h1M108 33h2M127 33h2M156 33h1M128 34h2M156 34h1M41 35h1M129 35h1M131 35h2M155 35h1M133 36h2M154 36h1M135 37h1M153 37h2M135 38h1M153 38h1M9 39h30M135 39h1M153 39h1M2 40h3M42 40h1M45 40h4M135 40h1M154 40h1M43 41h1M134 41h2M171 41h34M134 42h2M156 42h1M167 42h3M44 43h1M80 43h10M132 43h3M163 43h3M71 44h1M91 44h1M131 44h3M157 44h2M43 45h1M69 45h1M92 45h1M124 45h2M131 45h1M160 45h3M42 46h1M67 46h2M92 46h1M124 46h4M131 46h1M161 46h2M37 47h3M69 47h1M91 47h1M123 47h2M127 47h2M131 47h1M160 47h4M26 48h8M71 48h1M90 48h2M123 48h2M128 48h1M131 48h1M158 48h2M165 48h1M22 49h2M73 49h1M86 49h4M123 49h2M128 49h1M131 49h1M169 49h5M21 50h2M75 50h1M82 50h3M124 50h1M128 50h1M131 50h1M176 50h6M22 51h1M77 51h2M80 51h2M124 51h2M127 51h1M131 51h1M156 51h1M179 51h3M24 52h1M125 52h1M131 52h1M143 52h6M154 52h3M179 52h2M26 53h1M131 53h2M141 53h17M27 54h1M77 54h1M132 54h1M141 54h10M158 54h1M28 55h1M76 55h1M133 55h1M163 55h2M171 55h5M29 56h1M134 56h4M162 56h1M169 56h1M184 56h1M29 57h1M75 57h1M83 57h5M137 57h2M29 58h1M74 58h1M87 58h2M139 58h1M0 59h2M29 59h1M73 59h1M87 59h2M139 59h1M3 60h1M29 60h1M72 60h1M87 60h2M140 60h1M4 61h1M28 61h1M61 61h11M86 61h2M114 61h9M141 61h1M197 61h8M5 62h1M27 62h1M84 62h2M124 62h1M142 62h1M164 62h7M195 62h1M6 63h1M25 63h2M81 63h4M144 63h1M158 63h2M193 63h2M7 64h2M18 64h5M63 64h1M147 64h9M187 64h4M9 65h7M72 65h8M109 65h1M186 65h1M71 66h1M70 67h1M70 68h1M70 69h1M70 70h1M70 71h1M165 71h1M166 72h2M171 72h1M69 73h1M113 73h4M173 73h1M69 74h1M64 75h1M68 75h2M176 75h5M67 76h2M65 77h3M87 90h7M81 91h2M96 91h4M76 92h2M101 92h6M37 93h3M47 93h3M106 93h4M114 93h4M33 94h1M52 94h2M73 94h1M117 94h1M138 94h1M153 94h1M30 95h1M59 95h3M72 95h1M110 95h5M128 95h2M154 95h2M175 95h4M29 96h1M62 96h10M102 96h1M127 96h4M155 96h2M174 96h1M179 96h1M28 97h1M99 97h3M127 97h2M155 97h2M174 97h1M180 97h1M27 98h1M95 98h6M127 98h1M155 98h2M164 98h1M166 98h1M174 98h1M181 98h1M26 99h1M93 99h1M127 99h1M154 99h3M174 99h1M92 100h1M127 100h1M151 100h4M157 100h2M169 100h1M174 100h1M182 100h1M25 101h1M89 101h1M127 101h1M141 101h9M170 101h1M174 101h1M182 101h1M89 102h1M127 102h1M140 102h2M157 102h1M171 102h1M175 102h1M182 102h1M24 103h1M89 103h1M127 103h1M140 103h1M156 103h1M172 103h1M175 103h1M183 103h1M24 104h1M91 104h1M96 104h1M102 104h1M123 104h1M139 104h1M150 104h1M173 104h1M175 104h1M183 104h1M24 105h1M90 105h2M97 105h1M102 105h1M123 105h1M140 105h1M149 105h1M174 105h1M183 105h1"/>
<path stroke="#fc6430" d="M16 0h2M44 0h1M61 0h2M138 0h1M166 0h1M17 1h1M61 1h1M138 1h1M165 1h2M17 2h1M45 2h1M61 2h1M138 2h1M165 2h1M17 3h1M46 3h1M61 3h1M138 3h2M164 3h1M193 3h1M17 4h1M47 4h1M60 4h1M139 4h1M163 4h2M17 5h1M48 5h1M59 5h1M139 5h1M162 5h2M192 5h1M18 6h1M49 6h2M57 6h1M107 6h2M142 6h1M161 6h2M18 7h2M50 7h5M106 7h1M145 7h1M154 7h1M158 7h4M188 7h1M19 8h2M52 8h1M105 8h1M153 8h4M20 9h2M95 9h8M21 10h2M93 10h1M116 10h1M22 11h2M92 11h2M118 11h2M184 11h1M24 12h1M89 12h1M117 12h1M183 12h1M25 13h1M111 13h1M182 13h1M27 14h2M165 14h4M173 14h1M181 14h1M77 15h1M164 15h2M179 15h1M31 16h1M76 16h1M163 16h2M177 16h1M161 17h3M174 17h1M177 17h1M109 18h1M153 18h9M175 18h1M106 19h1M150 19h2M157 19h4M177 19h1M106 20h2M148 20h2M158 20h2M107 21h1M147 21h2M41 22h1M69 22h1M107 22h2M147 22h1M107 23h2M117 23h1M147 23h1M67 24h1M147 24h2M108 25h1M112 25h4M148 25h2M62 26h3M150 26h2M59 27h3M119 27h2M127 27h1M153 27h1M56 28h2M119 28h3M130 28h1M154 28h1M55 29h1M122 29h2M129 29h1M155 29h1M54 30h1M122 30h5M155 30h1M126 31h3M155 31h1M40 32h1M53 32h1M128 32h2M155 32h1M53 33h1M129 33h2M155 33h1M42 34h1M130 34h4M154 34h2M133 35h3M154 35h1M135 36h2M153 36h1M44 37h1M136 37h1M152 37h1M136 38h2M152 38h1M45 39h4M136 39h2M5 40h1M41 40h1M136 40h2M136 41h2M154 41h1M43 42h1M136 42h1M155 42h1M170 42h2M43 43h1M135 43h2M166 43h3M43 44h1M72 44h2M89 44h2M134 44h2M163 44h3M42 45h1M70 45h1M90 45h2M132 45h3M157 45h1M159 45h1M163 45h1M40 46h2M69 46h1M91 46h1M132 46h2M160 46h1M163 46h2M35 47h2M70 47h1M90 47h1M125 47h2M132 47h2M157 47h1M159 47h1M164 47h2M23 48h3M72 48h1M88 48h2M125 48h3M132 48h1M166 48h1M168 48h1M170 48h2M19 49h3M74 49h1M83 49h3M125 49h3M132 49h1M156 49h2M174 49h9M18 50h3M76 50h2M81 50h1M125 50h3M132 50h2M182 50h2M21 51h1M79 51h1M126 51h1M132 51h2M141 51h15M182 51h2M23 52h1M132 52h2M139 52h4M149 52h5M181 52h2M25 53h1M133 53h2M138 53h3M180 53h1M26 54h1M133 54h8M151 54h7M27 55h1M77 55h1M81 55h1M134 55h16M159 55h1M162 55h1M176 55h1M28 56h1M76 56h1M138 56h4M163 56h1M166 56h3M170 56h3M28 57h1M139 57h2M166 57h1M28 58h1M75 58h1M83 58h4M140 58h1M167 58h2M184 58h1M2 59h2M28 59h1M74 59h1M83 59h4M140 59h1M4 60h1M28 60h1M73 60h2M83 60h4M199 60h6M5 61h1M27 61h1M72 61h2M83 61h3M111 61h3M142 61h1M195 61h2M6 62h1M26 62h1M69 62h5M81 62h3M123 62h1M143 62h1M161 62h3M194 62h1M7 63h2M20 63h5M71 63h5M123 63h1M145 63h2M156 63h2M189 63h4M9 64h9M71 64h10M122 64h1M186 64h1M70 65h2M167 65h1M185 65h1M70 66h1M69 68h1M69 69h1M69 70h1M165 70h1M69 71h1M166 71h1M184 71h1M69 72h1M112 72h2M168 72h3M68 74h1M176 74h2M67 75h1M65 76h2M83 91h2M93 91h3M78 92h2M96 92h5M40 93h7M99 93h7M110 93h4M34 94h2M51 94h1M102 94h15M139 94h1M31 95h2M54 95h5M102 95h8M133 95h1M153 95h1M60 96h2M72 96h1M100 96h2M154 96h1M175 96h4M97 97h2M129 97h1M154 97h1M175 97h5M94 98h1M128 98h2M153 98h2M165 98h1M175 98h2M180 98h1M128 99h2M152 99h2M167 99h1M175 99h2M181 99h1M26 100h1M90 100h2M128 100h2M140 100h11M168 100h1M175 100h2M181 100h1M87 101h1M128 101h2M139 101h2M169 101h1M175 101h2M181 101h1M25 102h1M87 102h2M128 102h2M138 102h2M170 102h1M176 102h1M181 102h1M88 103h1M128 103h2M138 103h2M171 103h1M176 103h1M182 103h1M89 104h2M97 104h2M100 104h2M124 104h1M138 104h1M151 104h1M172 104h1M176 104h1M182 104h1M89 105h1M98 105h4M124 105h2M138 105h2M150 105h2M173 105h1M175 105h2M182 105h1"/>
<path stroke="#fc552c" d="M18 0h14M63 0h24M132 0h6M167 0h7M193 0h1M18 1h14M44 1h1M62 1h25M132 1h6M167 1h7M193 1h1M18 2h6M27 2h4M62 2h10M81 2h6M133 2h5M166 2h8M193 2h1M18 3h6M28 3h3M62 3h2M83 3h3M135 3h3M165 3h9M18 4h6M29 4h2M46 4h1M61 4h2M138 4h1M165 4h9M192 4h1M18 5h6M47 5h1M60 5h2M164 5h9M191 5h1M19 6h5M48 6h1M118 6h1M163 6h10M190 6h1M20 7h4M49 7h1M119 7h1M155 7h3M162 7h11M21 8h3M49 8h3M152 8h1M157 8h16M186 8h1M22 9h3M53 9h2M94 9h1M120 9h1M155 9h17M185 9h1M23 10h2M115 10h1M156 10h15M184 10h1M24 11h2M91 11h1M156 11h15M183 11h1M25 12h1M87 12h2M94 12h1M107 12h1M111 12h1M119 12h1M156 12h15M182 12h1M26 13h2M29 13h2M79 13h1M156 13h16M181 13h1M29 14h1M78 14h1M83 14h1M110 14h2M156 14h9M169 14h3M180 14h1M155 15h9M178 15h1M30 16h1M75 16h1M110 16h1M154 16h9M41 17h1M108 17h3M153 17h8M64 18h1M110 18h1M114 18h1M151 18h2M176 18h1M41 19h1M64 19h1M107 19h2M112 19h4M148 19h2M108 20h8M147 20h1M41 21h2M108 21h8M146 21h1M42 22h2M68 22h1M109 22h8M145 22h2M41 23h3M66 23h4M109 23h8M118 23h1M121 23h1M144 23h3M41 24h2M65 24h2M110 24h7M145 24h2M40 25h1M62 25h4M147 25h1M39 26h1M60 26h2M126 26h1M148 26h2M39 27h1M57 27h2M121 27h4M151 27h2M55 28h1M122 28h6M153 28h1M54 29h1M124 29h5M130 29h1M154 29h1M53 30h1M127 30h4M154 30h1M53 31h1M129 31h4M154 31h1M130 32h5M154 32h1M41 33h1M52 33h1M131 33h5M154 33h1M43 34h2M50 34h1M134 34h3M153 34h1M43 35h3M49 35h1M136 35h1M153 35h1M44 36h3M137 36h1M152 36h1M45 37h4M137 37h2M151 37h1M45 38h4M138 38h2M151 38h1M138 39h2M151 39h2M6 40h2M39 40h2M138 40h4M153 40h1M0 41h2M42 41h1M138 41h4M137 42h6M154 42h1M172 42h33M137 43h6M156 43h1M169 43h1M42 44h1M74 44h15M136 44h7M166 44h2M41 45h1M71 45h1M89 45h1M135 45h9M164 45h2M37 46h3M70 46h1M89 46h2M134 46h10M157 46h3M165 46h1M32 47h3M71 47h1M88 47h2M134 47h11M158 47h1M166 47h1M20 48h3M73 48h1M84 48h4M133 48h13M157 48h1M169 48h1M172 48h11M15 49h4M75 49h1M82 49h1M133 49h15M155 49h1M183 49h3M15 50h3M78 50h3M134 50h22M184 50h2M17 51h4M134 51h7M184 51h1M22 52h1M134 52h5M183 52h1M24 53h1M135 53h3M181 53h1M26 55h1M78 55h1M150 55h5M27 56h1M77 56h1M142 56h3M160 56h1M164 56h2M173 56h5M185 56h2M27 57h1M76 57h1M141 57h1M167 57h4M0 58h1M76 58h1M141 58h1M166 58h1M169 58h1M180 58h2M4 59h1M27 59h1M75 59h1M82 59h1M141 59h1M5 60h1M27 60h1M75 60h1M82 60h1M141 60h1M196 60h3M6 61h1M26 61h1M74 61h2M81 61h2M110 61h1M164 61h8M194 61h1M7 62h2M23 62h3M61 62h1M66 62h3M74 62h4M119 62h4M144 62h1M159 62h2M191 62h3M9 63h11M62 63h1M69 63h2M76 63h5M147 63h9M185 63h4M69 64h2M184 64h2M69 65h1M184 65h1M69 66h1M165 66h1M69 67h1M110 67h1M121 67h1M165 69h1M111 70h1M166 70h1M68 71h1M167 71h2M64 72h1M68 72h1M114 72h2M172 72h1M183 72h1M68 73h1M174 73h2M182 73h1M65 74h3M178 74h4M65 75h2M85 91h8M80 92h2M94 92h2M76 93h2M95 93h4M36 94h2M49 94h2M96 94h6M140 94h2M145 94h6M33 95h1M52 95h2M73 95h1M96 95h6M134 95h5M152 95h1M30 96h1M58 96h2M96 96h4M131 96h7M153 96h1M29 97h1M61 97h2M65 97h8M95 97h2M130 97h8M153 97h1M28 98h1M67 98h3M93 98h1M130 98h9M152 98h1M177 98h3M27 99h1M68 99h2M92 99h1M130 99h22M166 99h1M177 99h4M68 100h3M89 100h1M130 100h10M159 100h1M177 100h4M26 101h1M68 101h4M85 101h2M88 101h1M130 101h9M177 101h4M68 102h6M78 102h9M130 102h8M158 102h1M177 102h4M68 103h20M130 103h8M157 103h1M177 103h5M64 104h14M86 104h3M99 104h1M125 104h13M152 104h4M177 104h5M64 105h25M126 105h12M152 105h4M177 105h5"/>
<path stroke="#f84528" d="M32 0h2M43 0h1M87 0h2M130 0h2M174 0h1M32 1h2M87 1h2M130 1h2M174 1h1M24 2h3M31 2h3M72 2h9M87 2h2M130 2h3M174 2h1M24 3h4M31 3h3M45 3h1M64 3h19M86 3h2M130 3h5M174 3h1M192 3h1M24 4h5M31 4h3M63 4h9M73 4h8M131 4h5M137 4h1M174 4h1M191 4h1M24 5h10M46 5h1M62 5h4M110 5h6M133 5h4M138 5h1M173 5h2M190 5h1M24 6h10M47 6h1M106 6h1M141 6h1M173 6h1M188 6h2M24 7h3M29 7h5M48 7h1M55 7h2M58 7h1M105 7h1M144 7h1M173 7h1M187 7h1M24 8h3M30 8h4M48 8h1M53 8h1M95 8h1M104 8h1M120 8h1M151 8h1M173 8h1M25 9h2M32 9h2M49 9h4M153 9h2M172 9h2M25 10h2M32 10h2M92 10h1M109 10h1M112 10h3M120 10h1M153 10h3M171 10h2M26 11h1M31 11h2M90 11h1M115 11h1M153 11h3M171 11h2M26 12h1M30 12h2M86 12h1M92 12h1M115 12h2M154 12h2M171 12h2M28 13h1M80 13h1M84 13h1M106 13h1M110 13h1M115 13h3M154 13h2M172 13h2M180 13h1M77 14h1M105 14h1M114 14h4M154 14h2M174 14h1M179 14h1M29 15h1M33 15h1M61 15h3M76 15h1M105 15h3M111 15h7M153 15h2M174 15h4M60 16h6M74 16h1M111 16h7M152 16h2M174 16h3M62 17h5M74 17h1M111 17h7M151 17h2M175 17h2M42 18h1M63 18h1M65 18h2M111 18h3M115 18h3M149 18h2M42 19h2M63 19h1M66 19h1M109 19h3M116 19h2M146 19h2M41 20h4M64 20h4M74 20h1M116 20h2M144 20h3M43 21h3M65 21h4M74 21h2M116 21h3M143 21h3M44 22h2M64 22h4M117 22h2M142 22h3M44 23h2M63 23h3M119 23h1M126 23h1M142 23h2M43 24h3M62 24h3M122 24h2M142 24h3M41 25h6M60 25h2M123 25h3M143 25h4M40 26h7M58 26h2M124 26h2M146 26h2M40 27h7M55 27h2M125 27h2M149 27h2M39 28h2M44 28h3M54 28h1M131 28h1M151 28h2M39 29h1M44 29h3M53 29h1M131 29h3M152 29h2M39 30h2M44 30h3M52 30h1M131 30h4M153 30h1M40 31h7M52 31h1M133 31h3M153 31h1M41 32h6M52 32h1M135 32h2M153 32h1M42 33h5M51 33h1M136 33h2M153 33h1M45 34h3M137 34h2M152 34h1M46 35h3M137 35h2M152 35h1M47 36h2M138 36h1M151 36h1M150 37h1M150 38h1M140 39h1M150 39h1M8 40h8M18 40h21M149 40h4M2 41h3M40 41h2M142 41h1M149 41h5M42 42h1M148 42h6M42 43h1M147 43h1M170 43h35M41 44h1M143 44h1M168 44h3M39 45h2M72 45h2M83 45h6M144 45h1M158 45h1M166 45h3M35 46h2M71 46h2M86 46h3M144 46h4M166 46h2M22 47h10M72 47h1M84 47h4M145 47h3M167 47h16M15 48h5M74 48h1M82 48h2M146 48h3M155 48h2M183 48h3M13 49h2M76 49h6M148 49h7M186 49h1M13 50h2M186 50h1M15 51h2M185 51h1M20 52h2M184 52h1M23 53h1M182 53h2M25 54h1M182 54h1M79 55h2M155 55h4M26 56h1M78 56h2M82 56h1M145 56h6M178 56h1M77 57h2M142 57h2M161 57h1M171 57h7M1 58h3M27 58h1M77 58h1M142 58h1M165 58h1M170 58h2M182 58h1M185 58h1M5 59h1M26 59h1M76 59h2M142 59h1M197 59h8M6 60h1M26 60h1M76 60h2M81 60h1M142 60h1M166 60h7M194 60h2M7 61h2M24 61h2M76 61h3M143 61h2M162 61h2M172 61h2M192 61h2M9 62h14M62 62h4M78 62h3M109 62h1M111 62h8M145 62h3M157 62h2M171 62h1M185 62h6M67 63h2M121 63h2M170 63h1M183 63h2M68 64h1M183 64h1M68 65h1M121 65h1M68 66h1M121 66h1M184 66h1M68 67h1M68 68h1M120 68h1M165 68h1M68 69h1M166 69h1M68 70h1M167 70h1M112 71h3M169 71h3M67 72h1M116 72h2M173 72h2M182 72h1M65 73h3M176 73h6M82 92h3M91 92h3M75 93h1M78 93h1M93 93h2M38 94h3M46 94h3M76 94h1M94 94h2M142 94h3M34 95h3M50 95h2M93 95h3M139 95h2M146 95h6M31 96h2M53 96h5M92 96h4M138 96h3M151 96h2M30 97h1M59 97h2M63 97h2M73 97h1M92 97h3M138 97h3M151 97h2M29 98h1M62 98h5M70 98h3M91 98h2M139 98h13M28 99h1M65 99h3M70 99h4M90 99h2M27 100h1M65 100h3M71 100h4M85 100h2M160 100h1M167 100h1M65 101h3M72 101h10M83 101h2M157 101h1M168 101h1M66 102h2M74 102h4M169 102h1M25 103h1M65 103h3M170 103h1M25 104h1M62 104h2M78 104h8M156 104h2M171 104h1M25 105h1M62 105h2M156 105h2M172 105h1"/>
<path stroke="#f13824" d="M34 0h2M89 0h1M129 0h1M175 0h1M192 0h1M34 1h2M89 1h1M129 1h1M175 1h1M192 1h1M34 2h2M44 2h1M89 2h1M129 2h1M175 2h1M192 2h1M34 3h2M88 3h1M129 3h1M175 3h1M191 3h1M34 4h2M45 4h1M72 4h1M81 4h3M129 4h2M136 4h1M175 4h1M190 4h1M34 5h2M66 5h3M72 5h10M109 5h1M116 5h2M130 5h3M137 5h1M189 5h1M34 6h2M46 6h1M58 6h1M61 6h1M63 6h1M67 6h2M119 6h1M131 6h8M140 6h1M174 6h1M187 6h1M27 7h2M34 7h2M47 7h1M57 7h1M59 7h2M120 7h1M141 7h3M174 7h1M186 7h1M27 8h3M34 8h2M47 8h1M94 8h1M96 8h3M102 8h2M143 8h8M185 8h1M27 9h5M34 9h2M47 9h2M148 9h5M184 9h1M27 10h1M30 10h2M110 10h2M151 10h2M173 10h2M183 10h1M33 11h1M89 11h1M108 11h1M111 11h4M120 11h1M152 11h1M173 11h2M182 11h1M27 12h1M79 12h1M93 12h1M113 12h2M152 12h2M173 12h2M180 12h2M31 13h1M78 13h1M107 13h1M112 13h3M118 13h2M152 13h2M174 13h2M61 14h3M76 14h1M81 14h1M106 14h2M112 14h2M118 14h2M152 14h2M175 14h4M40 15h3M60 15h1M64 15h2M75 15h1M110 15h1M118 15h2M152 15h1M41 16h3M66 16h1M108 16h2M118 16h2M151 16h1M42 17h2M67 17h1M118 17h2M149 17h2M43 18h2M67 18h2M118 18h2M146 18h3M44 19h2M65 19h1M67 19h2M118 19h2M144 19h2M45 20h1M63 20h1M68 20h2M118 20h2M142 20h2M46 21h1M63 21h2M119 21h2M141 21h2M46 22h1M62 22h2M74 22h1M119 22h3M140 22h2M46 23h1M61 23h2M122 23h4M140 23h2M46 24h2M60 24h2M124 24h2M140 24h2M47 25h1M58 25h2M140 25h3M47 26h1M55 26h3M141 26h5M47 27h1M53 27h2M130 27h4M144 27h5M41 28h3M47 28h1M52 28h2M132 28h4M149 28h2M40 29h4M47 29h2M52 29h1M134 29h3M151 29h1M41 30h3M47 30h2M51 30h1M135 30h3M152 30h1M47 31h2M51 31h1M136 31h3M152 31h1M47 32h5M137 32h2M152 32h1M47 33h4M138 33h2M152 33h1M48 34h2M139 34h1M151 34h1M139 35h1M151 35h1M139 36h1M150 36h1M139 37h1M149 37h1M149 38h1M141 39h1M149 39h1M17 40h1M142 40h1M5 41h2M39 41h1M148 41h1M0 42h3M40 42h2M147 42h1M40 43h2M143 43h1M148 43h8M39 44h2M144 44h2M147 44h6M154 44h3M171 44h34M36 45h3M74 45h2M80 45h3M145 45h5M156 45h1M169 45h17M32 46h3M73 46h1M82 46h4M148 46h2M155 46h2M168 46h18M15 47h7M73 47h1M82 47h2M148 47h3M154 47h3M183 47h4M13 48h2M75 48h2M80 48h2M149 48h6M186 48h3M12 49h1M187 49h2M12 50h1M187 50h1M13 51h2M186 51h1M15 52h5M185 52h1M22 53h1M184 53h1M24 54h1M183 54h1M25 55h1M25 56h1M80 56h2M151 56h4M26 57h1M79 57h2M144 57h2M178 57h1M4 58h1M26 58h1M78 58h2M82 58h1M143 58h1M164 58h1M172 58h5M179 58h1M183 58h1M6 59h1M25 59h1M78 59h2M143 59h1M165 59h10M195 59h2M7 60h2M24 60h2M78 60h2M143 60h1M164 60h2M173 60h1M193 60h1M9 61h15M79 61h2M145 61h1M160 61h2M183 61h9M110 62h1M148 62h9M183 62h2M65 63h2M113 63h8M67 64h1M109 64h1M120 64h2M120 66h1M67 67h1M120 67h1M165 67h1M184 67h1M67 68h1M119 68h1M166 68h1M67 69h1M119 69h1M167 69h1M67 70h1M112 70h3M118 70h2M168 70h3M183 70h2M66 71h2M115 71h4M172 71h2M182 71h2M65 72h2M175 72h7M85 92h6M79 93h4M90 93h3M41 94h5M74 94h1M77 94h2M91 94h3M37 95h2M49 95h1M91 95h2M141 95h5M33 96h3M51 96h2M73 96h1M90 96h2M141 96h10M31 97h2M56 97h3M74 97h1M90 97h2M141 97h10M30 98h1M61 98h1M73 98h3M89 98h2M29 99h1M63 99h2M74 99h2M88 99h2M162 99h1M165 99h1M28 100h1M64 100h1M75 100h10M87 100h2M27 101h1M64 101h1M82 101h1M158 101h1M26 102h1M64 102h2M159 102h1M26 103h1M64 103h1M158 103h1M61 104h1M158 104h1M61 105h1M158 105h1"/>
<path stroke="#eb2b21" d="M36 0h1M90 0h2M128 0h1M176 0h1M191 0h1M36 1h1M43 1h1M90 1h2M128 1h1M176 1h1M191 1h1M36 2h1M90 2h2M128 2h1M176 2h1M190 2h2M36 3h1M44 3h1M89 3h2M128 3h1M176 3h1M189 3h2M36 4h1M84 4h3M188 4h2M36 5h1M45 5h1M69 5h3M82 5h3M106 5h1M129 5h1M175 5h1M187 5h2M36 6h1M59 6h2M62 6h1M64 6h3M69 6h14M105 6h1M129 6h2M139 6h1M175 6h1M186 6h1M36 7h1M46 7h1M61 7h5M79 7h2M96 7h1M104 7h1M130 7h5M140 7h1M185 7h1M36 8h1M46 8h1M54 8h2M99 8h3M121 8h1M141 8h2M174 8h1M183 8h2M36 9h1M46 9h1M55 9h1M93 9h1M121 9h1M143 9h5M174 9h2M182 9h2M28 10h2M34 10h1M54 10h2M121 10h1M146 10h5M175 10h1M181 10h2M27 11h1M34 11h1M79 11h1M88 11h1M109 11h2M149 11h3M175 11h7M28 12h2M32 12h1M78 12h1M108 12h3M120 12h1M150 12h2M175 12h5M32 13h1M40 13h3M63 13h1M77 13h1M108 13h2M120 13h1M150 13h2M176 13h4M30 14h1M37 14h1M39 14h5M64 14h2M82 14h1M108 14h2M120 14h1M150 14h2M30 15h1M43 15h2M66 15h2M74 15h1M108 15h2M120 15h1M150 15h2M44 16h1M67 16h2M120 16h1M148 16h3M44 17h2M61 17h1M68 17h2M120 17h1M146 17h3M45 18h1M62 18h1M69 18h2M74 18h1M120 18h1M144 18h2M46 19h1M62 19h1M69 19h2M120 19h2M142 19h2M46 20h1M61 20h2M70 20h2M120 20h2M140 20h2M47 21h1M61 21h2M121 21h4M139 21h2M47 22h1M60 22h2M122 22h6M139 22h1M47 23h1M59 23h2M138 23h2M48 24h1M58 24h2M129 24h1M138 24h2M48 25h1M55 25h3M129 25h4M138 25h2M48 26h2M52 26h3M130 26h6M138 26h3M48 27h5M134 27h10M48 28h4M136 28h13M49 29h3M137 29h3M149 29h2M49 30h2M138 30h2M150 30h2M49 31h2M139 31h2M151 31h1M139 32h2M151 32h1M140 33h1M151 33h1M140 34h1M150 34h1M140 35h1M150 35h1M140 36h1M149 36h1M140 37h1M148 37h1M140 38h2M148 38h1M142 39h1M147 39h2M16 40h1M147 40h2M7 41h2M35 41h4M143 41h2M147 41h1M3 42h2M39 42h1M143 42h4M0 43h2M39 43h1M144 43h3M37 44h2M146 44h1M153 44h1M34 45h2M76 45h4M150 45h6M186 45h19M17 46h15M74 46h2M80 46h2M150 46h5M186 46h6M12 47h3M74 47h2M80 47h2M151 47h3M187 47h4M10 48h3M77 48h3M189 48h2M10 49h2M189 49h1M11 50h1M188 50h2M12 51h1M187 51h1M13 52h2M186 52h1M19 53h3M185 53h1M22 54h2M184 54h1M24 55h1M186 55h1M24 56h1M155 56h5M0 57h3M24 57h2M81 57h2M146 57h5M5 58h1M24 58h2M80 58h2M144 58h2M177 58h2M196 58h9M7 59h1M23 59h2M80 59h2M144 59h1M164 59h1M175 59h4M181 59h1M183 59h1M185 59h1M193 59h2M9 60h15M80 60h1M144 60h2M162 60h2M174 60h1M182 60h11M146 61h4M158 61h2M182 61h1M63 63h2M109 63h4M65 64h2M112 64h8M169 64h1M66 65h2M118 65h3M67 66h1M118 66h2M166 66h1M118 67h2M166 67h1M66 68h1M111 68h3M117 68h2M167 68h1M183 68h2M66 69h1M111 69h8M168 69h2M182 69h3M65 70h2M115 70h3M171 70h2M181 70h2M64 71h2M174 71h2M178 71h4M83 93h7M75 94h1M79 94h5M87 94h4M39 95h2M46 95h3M74 95h6M88 95h3M36 96h2M49 96h2M74 96h5M88 96h2M33 97h3M52 97h4M75 97h4M88 97h2M31 98h3M60 98h1M76 98h5M86 98h3M30 99h2M61 99h2M76 99h12M29 100h1M62 100h2M161 100h1M166 100h1M28 101h1M62 101h2M159 101h1M167 101h1M27 102h1M62 102h2M168 102h1M27 103h1M62 103h2M159 103h1M169 103h1M26 104h1M60 104h1M159 104h1M170 104h1M26 105h1M60 105h1M159 105h1M171 105h1"/>
<path stroke="#e51e1d" d="M37 0h1M42 0h1M92 0h3M127 0h1M177 0h14M37 1h1M92 1h3M177 1h14M37 2h1M43 2h1M92 2h3M177 2h13M37 3h1M91 3h2M177 3h12M37 4h1M44 4h1M87 4h2M128 4h1M176 4h12M37 5h1M44 5h1M85 5h2M105 5h1M107 5h2M118 5h1M128 5h1M176 5h11M37 6h1M45 6h1M83 6h2M104 6h1M120 6h1M128 6h1M176 6h10M37 7h1M45 7h1M66 7h13M81 7h3M95 7h1M97 7h2M103 7h1M121 7h1M129 7h1M137 7h3M175 7h10M37 8h1M45 8h1M56 8h10M67 8h1M74 8h9M130 8h3M139 8h2M175 8h8M37 9h1M45 9h1M56 9h8M77 9h6M122 9h1M131 9h1M141 9h2M176 9h6M35 10h19M56 10h7M78 10h5M122 10h1M144 10h2M176 10h5M28 11h3M35 11h28M77 11h2M80 11h3M121 11h3M145 11h4M33 12h14M57 12h6M77 12h1M80 12h4M85 12h1M121 12h7M146 12h4M33 13h7M43 13h4M58 13h5M64 13h1M76 13h1M81 13h3M121 13h8M147 13h3M31 14h6M38 14h1M44 14h3M59 14h2M66 14h2M74 14h2M121 14h8M147 14h3M31 15h2M45 15h2M59 15h1M68 15h2M121 15h9M146 15h4M45 16h2M59 16h1M69 16h3M121 16h10M146 16h2M46 17h1M59 17h2M70 17h4M121 17h11M144 17h2M46 18h1M59 18h3M71 18h3M121 18h12M142 18h2M47 19h1M59 19h3M71 19h4M122 19h12M140 19h2M47 20h1M59 20h2M72 20h2M122 20h13M138 20h2M58 21h3M125 21h14M48 22h1M58 22h2M75 22h1M128 22h11M48 23h1M57 23h2M129 23h9M49 24h1M55 24h3M130 24h8M49 25h6M133 25h5M50 26h2M136 26h2M140 29h9M140 30h4M148 30h2M141 31h2M149 31h2M141 32h2M149 32h2M141 33h2M149 33h2M141 34h2M149 34h1M141 35h2M148 35h2M141 36h2M147 36h2M141 37h4M146 37h2M142 38h6M143 39h4M143 40h4M9 41h26M145 41h2M5 42h2M36 42h3M2 43h4M36 43h3M0 44h5M35 44h2M0 45h1M21 45h13M10 46h7M76 46h4M192 46h13M8 47h4M76 47h4M191 47h3M8 48h2M191 48h2M9 49h1M190 49h2M9 50h2M190 50h1M10 51h2M188 51h2M12 52h1M187 52h1M14 53h5M21 54h1M22 55h2M184 55h1M23 56h1M3 57h2M23 57h1M151 57h3M185 57h1M6 58h2M21 58h3M146 58h3M162 58h2M194 58h2M8 59h15M145 59h2M162 59h2M179 59h2M182 59h1M184 59h1M186 59h7M146 60h3M161 60h1M178 60h4M150 61h8M179 61h2M182 62h1M64 64h1M110 64h2M65 65h1M110 65h8M168 65h1M183 65h1M65 66h2M110 66h8M167 66h1M183 66h1M66 67h1M111 67h7M167 67h2M181 67h3M65 68h1M114 68h3M168 68h2M180 68h3M65 69h1M170 69h2M179 69h3M64 70h1M173 70h2M178 70h3M176 71h2M84 94h3M41 95h5M80 95h8M38 96h2M48 96h1M79 96h9M36 97h2M50 97h2M79 97h9M34 98h3M58 98h2M81 98h5M32 99h4M58 99h3M163 99h2M30 100h5M59 100h3M165 100h1M29 101h5M59 101h3M160 101h1M28 102h6M59 102h3M160 102h1M28 103h5M59 103h3M27 104h6M59 104h1M27 105h5"/>
<path stroke="#db141e" d="M38 0h1M95 0h2M38 1h1M42 1h1M95 1h2M127 1h1M38 2h1M95 2h2M127 2h1M38 3h1M43 3h1M93 3h4M127 3h1M38 4h1M43 4h1M89 4h9M104 4h13M127 4h1M38 5h1M87 5h2M95 5h2M104 5h1M119 5h1M127 5h1M38 6h1M44 6h1M85 6h2M95 6h3M103 6h1M127 6h1M38 7h1M44 7h1M84 7h2M99 7h4M127 7h2M135 7h2M38 8h1M44 8h1M66 8h1M68 8h6M83 8h2M122 8h1M128 8h2M133 8h1M135 8h4M38 9h7M64 9h9M74 9h3M83 9h2M128 9h3M132 9h1M138 9h3M63 10h3M76 10h2M83 10h2M91 10h1M123 10h8M132 10h1M141 10h3M63 11h3M76 11h1M83 11h3M87 11h1M124 11h7M143 11h2M47 12h10M63 12h3M76 12h1M84 12h1M128 12h3M144 12h2M47 13h11M65 13h3M75 13h1M129 13h3M145 13h2M47 14h2M56 14h3M68 14h3M73 14h1M129 14h3M145 14h2M47 15h1M56 15h3M70 15h4M130 15h3M145 15h1M47 16h1M57 16h2M72 16h2M131 16h3M144 16h2M47 17h1M57 17h2M132 17h3M143 17h1M47 18h1M57 18h2M133 18h4M140 18h2M48 19h1M57 19h2M134 19h6M48 20h1M57 20h2M135 20h3M48 21h1M57 21h1M49 22h1M56 22h2M49 23h3M53 23h4M50 24h5M144 30h4M143 31h6M143 32h2M148 32h1M143 33h2M148 33h1M143 34h2M147 34h2M143 35h5M143 36h4M145 37h1M7 42h29M6 43h3M33 43h3M5 44h4M13 44h22M1 45h20M0 46h10M0 47h8M194 47h11M6 48h2M193 48h2M7 49h2M192 49h2M8 50h1M191 50h2M9 51h1M190 51h1M10 52h2M188 52h1M12 53h2M186 53h1M15 54h6M185 54h1M20 55h2M185 55h1M21 56h2M5 57h2M16 57h7M154 57h7M196 57h9M8 58h13M149 58h3M161 58h1M186 58h3M191 58h3M147 59h4M161 59h1M149 60h3M159 60h2M175 60h1M177 60h1M174 61h1M178 61h1M181 61h1M178 62h3M171 63h1M182 63h1M170 64h1M182 64h1M64 65h1M169 65h1M181 65h2M64 66h1M168 66h2M180 66h3M64 67h2M169 67h1M179 67h2M64 68h1M170 68h2M178 68h2M64 69h1M172 69h3M176 69h3M175 70h3M40 96h2M46 96h2M38 97h1M48 97h2M37 98h1M56 98h2M36 99h1M56 99h2M35 100h2M57 100h2M164 100h1M34 101h2M57 101h2M161 101h1M166 101h1M34 102h1M57 102h2M167 102h1M33 103h2M57 103h2M160 103h1M168 103h1M33 104h1M58 104h1M160 104h1M169 104h1M32 105h1M59 105h1M160 105h1M170 105h1"/>
<path stroke="#d10e21" d="M39 0h3M97 0h1M102 0h4M126 0h1M39 1h3M97 1h1M102 1h4M126 1h1M39 2h4M97 2h1M102 2h4M126 2h1M39 3h2M42 3h1M97 3h1M102 3h6M126 3h1M39 4h2M42 4h1M98 4h1M102 4h2M117 4h1M126 4h1M39 5h2M42 5h2M89 5h6M97 5h2M102 5h2M120 5h1M126 5h1M39 6h2M42 6h2M87 6h3M93 6h2M98 6h5M121 6h1M126 6h1M39 7h2M42 7h2M86 7h2M94 7h1M122 7h3M126 7h1M39 8h2M42 8h2M85 8h2M93 8h1M123 8h2M126 8h2M134 8h1M73 9h1M85 9h2M123 9h2M126 9h2M133 9h5M66 10h10M85 10h2M89 10h2M131 10h1M133 10h1M137 10h4M66 11h3M86 11h1M131 11h2M141 11h2M66 12h3M71 12h1M75 12h1M131 12h2M143 12h1M68 13h7M132 13h2M143 13h2M49 14h7M71 14h2M132 14h3M143 14h2M48 15h2M54 15h2M133 15h3M143 15h2M48 16h1M55 16h2M134 16h3M142 16h2M48 17h1M56 17h1M135 17h8M48 18h1M56 18h1M137 18h3M49 19h1M56 19h1M49 20h1M55 20h2M49 21h2M55 21h2M50 22h6M52 23h1M145 32h3M145 33h3M145 34h2M9 43h24M9 44h4M0 48h6M195 48h10M4 49h3M194 49h2M6 50h2M193 50h1M8 51h1M191 51h2M9 52h1M189 52h2M11 53h1M187 53h1M12 54h3M186 54h1M13 55h7M187 55h1M0 56h5M12 56h9M7 57h9M186 57h2M193 57h3M152 58h3M159 58h2M189 58h2M151 59h2M159 59h2M152 60h7M176 60h1M172 62h2M181 62h1M172 63h2M179 63h3M171 64h2M180 64h2M170 65h3M179 65h2M170 66h2M178 66h2M170 67h3M177 67h2M172 68h6M175 69h1M42 96h4M39 97h2M47 97h1M38 98h1M54 98h2M37 99h1M55 99h1M37 100h1M55 100h2M162 100h2M36 101h1M56 101h1M162 101h1M164 101h2M35 102h1M56 102h1M161 102h2M166 102h1M56 103h1M161 103h1M167 103h1M34 104h1M57 104h1M161 104h1M168 104h1M33 105h1M58 105h1M161 105h1M169 105h1"/>
<path stroke="#c80723" d="M98 0h4M106 0h1M125 0h1M98 1h4M106 1h1M125 1h1M98 2h4M106 2h2M125 2h1M41 3h1M98 3h4M108 3h3M125 3h1M41 4h1M99 4h3M118 4h2M125 4h1M41 5h1M99 5h3M121 5h1M125 5h1M41 6h1M90 6h3M122 6h4M41 7h1M88 7h6M125 7h1M41 8h1M87 8h6M125 8h1M87 9h6M125 9h1M87 10h2M134 10h3M69 11h7M133 11h8M69 12h2M72 12h3M133 12h10M134 13h3M141 13h2M135 14h3M141 14h2M50 15h4M136 15h3M140 15h3M49 16h6M137 16h5M49 17h3M53 17h3M49 18h2M53 18h3M50 19h2M53 19h3M50 20h5M51 21h4M0 49h4M196 49h9M4 50h2M194 50h3M6 51h2M193 51h2M8 52h1M191 52h2M9 53h2M188 53h2M10 54h2M187 54h1M11 55h2M5 56h3M9 56h3M187 56h1M196 56h9M188 57h5M155 58h4M153 59h6M175 61h3M174 62h4M174 63h5M173 64h7M173 65h6M172 66h6M173 67h4M41 97h6M39 98h2M47 98h3M51 98h3M38 99h1M53 99h2M54 100h1M54 101h2M163 101h1M36 102h1M54 102h2M163 102h3M35 103h1M55 103h1M162 103h5M56 104h1M162 104h3M166 104h2M34 105h1M57 105h1M162 105h2M167 105h2"/>
<path stroke="#be0126" d="M107 1h1M108 2h1M124 2h1M111 3h7M124 3h1M120 4h1M124 4h1M122 5h3M137 13h4M138 14h3M139 15h1M52 17h1M51 18h2M52 19h1M0 50h4M197 50h8M3 51h3M195 51h2M6 52h2M193 52h2M7 53h2M190 53h2M9 54h1M188 54h2M0 55h6M8 55h3M188 55h1M8 56h1M188 56h8M41 98h6M50 98h1M39 99h1M51 99h2M38 100h1M52 100h2M37 101h1M53 101h1M53 102h1M36 103h1M53 103h2M35 104h1M55 104h1M165 104h1M56 105h1M164 105h3"/>
<path stroke="#ae0026" d="M107 0h1M124 0h1M108 1h1M123 1h2M109 2h2M123 2h1M118 3h2M123 3h1M121 4h3M0 51h3M197 51h8M0 52h6M195 52h10M3 53h4M192 53h4M0 54h9M190 54h5M6 55h2M189 55h16M40 99h4M49 99h2M39 100h1M49 100h3M38 101h1M50 101h3M37 102h1M52 102h1M52 103h1M54 104h1M35 105h1M54 105h2"/>
<path stroke="#9f0026" d="M108 0h2M122 0h2M109 1h2M122 1h1M111 2h12M120 3h3M0 53h3M196 53h9M195 54h10M44 99h5M40 100h5M47 100h2M39 101h2M47 101h3M38 102h1M50 102h2M37 103h1M51 103h1M36 104h1M52 104h2M53 105h1"/>
<path stroke="#8f0026" d="M110 0h12M111 1h11M45 100h2M41 101h6M39 102h11M38 103h3M48 103h3M37 104h2M49 104h3M36 105h2M50 105h3"/>
<path stroke="#800026" d="M41 103h7M39 104h10M38 105h12"/>
</g>
</g></g>
<path clip-path="url(#cl2)" d="M2588.9 273.7 2586.6 272.4 2584.8 270.2 2579.8 270.8 2578.5 265.5 2580.8 257.6 2579.5 252.3 2581.9 250.7 2588.7 250.1 2593.5 250.4 2598 251 2600.1 246.7 2600.1 242 2597.7 238.9 2591.3 235.2 2598.2 234.3 2599.2 231.2 2603.3 231.8 2607.7 227.2 2608.9 227.2 2612.9 224.2 2614.5 221.2 2619.2 220 2623.6 218.5 2622.6 213.7 2622.8 208.9 2627.3 207.1 2626.9 211.6 2626.4 215.2 2627 217 2628.8 218.2 2631.5 217.6 2636.5 218.5 2647 217 2652.1 213.1 2651.5 210.7 2652.5 208 2658.4 209.2 2658.6 205.1 2656.1 203.3 2658.8 202.2 2665.9 201.9 2670.6 200.7 2666.7 198.4 2658.8 199.9 2654.5 201 2652.7 199.3 2649.9 191.5 2657.3 186.2 2654.1 184 2649.9 184.5 2646.8 189.6 2640.8 193.5 2641.2 198.4 2645.6 202.5 2640.5 204.8 2640.8 210.1 2639.1 211.6 2633.3 213.4 2632.5 212.2 2630.2 207.1 2628.3 203.3 2627 200.7 2625.6 203.3 2621.3 206 2616 203.6 2614.9 199.3 2614.1 196.1 2616.6 193.3 2620.4 190.4 2626.5 186.8 2632.9 179.9 2630.9 178 2641.4 173.4 2650.3 170.8 2654.2 169.8 2665.3 171.6 2669.9 174.2 2676.2 175 2687.6 178.5 2686.9 182.6 2670.6 180.4 2676 184.8 2684.6 189 2689.5 187.3 2693.2 182.6 2691.4 176.1 2697.9 178.5 2712.7 177.2 2714 175.6 2721.3 175.8 2724.9 173.2 2737.2 175.3 2737.9 171.3 2736.5 166.1 2737.6 164.9 2742.4 166.1 2748.7 172.6 2754.4 180.7 2755.4 176.6 2750.1 167.4 2755 166.1 2759.9 167.4 2758.8 163.6 2767.3 162.3 2766.8 159.9 2779.2 157.4 2791.3 153.3 2799.9 156.2 2812.3 158.6 2819.4 162.8 2816 164.9 2833.4 164.9 2845.6 163.9 2856 167.4 2857.3 168.5 2865.1 170 2871.4 168.7 2875.8 166.1 2888.2 166.7 2899 168.7 2906.8 170 2928.4 174 2939.4 173.2 2946.4 173.4 2955.5 173.2 2969.4 175.6 2984.6 185.7 2981.3 187.1 2993.1 193.3 2983.8 196.1 2982.6 200.4 2973.7 200.4 2973.2 204.8 2978.1 212.2 2978.1 216.7 2979.6 221.2 2980.6 227.2 2967.2 215.2 2961.8 207.7 2958.6 199 2958.3 193.3 2949.8 195.2 2949.7 201.9 2941 201.6 2924.6 202.2 2922.7 213.7 2925.5 218.2 2939.9 222.7 2945.9 233.4 2945.7 241.1 2944.6 248.8 2937.5 251.7 2934.3 255.7 2935.4 258.9 2932.9 263.9 2940.5 269.2 2942.7 274 2942.9 276.8 2936.5 277.8 2934.8 274 2933.2 269.2 2927.5 267.7 2926 262.9 2923.8 261.7 2917.1 259.8 2918.1 264.8 2915.6 262.9 2913.6 258.9 2911.4 261.7 2908.1 264.5 2911.4 267.7 2913.4 269.2 2919.6 269.2 2922.6 269.6 2919.1 274 2918.5 278.4 2923.1 283.5 2929.1 289.5 2930.4 293.3 2929 299.3 2927.7 305.6 2924.7 310.4 2921.6 314.2 2915.4 317.3 2905.6 320.8 2905.5 323.7 2903.5 319.9 2898.9 319.9 2895.7 322.1 2894 328.7 2902.1 337 2905.8 344.2 2906.3 349.3 2903.7 353.4 2901.1 355.3 2899.6 357.5 2895 360.7 2895.3 356.3 2892.9 354.4 2891 354.4 2887.5 349.3 2883.1 347.1 2881.8 345.2 2880.4 348 2879.1 355.3 2879.6 358.8 2883.6 365.1 2888.3 368.6 2891.6 375.9 2894.3 383.2 2893.5 383.8 2888.7 380.9 2886.1 378.4 2883 370.8 2882.1 367.3 2877.1 362.9 2877.5 356.3 2876.8 348.7 2875.2 343.3 2872.6 335.7 2868.3 336.6 2864 337.3 2862.7 329.4 2858.1 324.3 2855.1 320.2 2854.2 317.3 2850.7 318.3 2845.4 319.5 2841.7 322.1 2838.8 325.2 2832.7 331.9 2830.3 335.4 2827.4 336.6 2825.1 340.4 2825.9 346.4 2824.8 350.2 2825.4 355.3 2823.9 358.5 2820.9 360.1 2819.1 362.3 2815.4 356.3 2813.8 352.1 2810.7 347.1 2807.2 339.2 2803.3 327.8 2802.9 323.3 2802 320.8 2800.5 318.9 2797.8 322.4 2793.7 319.5 2791.8 317.3 2791.3 315.1 2789.4 313.2 2787.1 312 2785.4 309.4 2772.5 308.5 2767.8 307.8 2760.1 306.9 2755.4 301.8 2749.4 303.7 2739.9 296.4 2737.2 292.6 2733.3 293.3 2732.2 294.9 2738.9 304.4 2743.2 305.9 2743.6 310.1 2751.3 310.7 2753.4 307.8 2755.7 304.4 2763 313.2 2766.6 317 2763.6 323 2759.9 328.4 2752.4 334.1 2747.4 337.6 2739.1 342 2728 347.4 2723.6 348 2721.3 341.1 2720.4 334.4 2715.8 326.2 2710.5 319.9 2706.9 311.6 2703.6 307.2 2699.7 301.5 2697.2 294.5 2695.7 299.6 2690.6 293.3 2694.6 301.8 2698.3 308.8 2700.2 313.5 2705.3 325.9 2709.2 330.9 2712.3 338.5 2721.6 346.8 2722.9 351.2 2728.3 355 2737.9 352.5 2745.6 350.6 2746.1 355 2742.5 364.2 2738.5 371.8 2733 379 2729.7 381.6 2721.9 389.2 2717.4 395.2 2714 400.9 2712.7 409.4 2713.1 416.4 2715.7 422.7 2715.5 429 2715.8 433.8 2713.6 438.5 2704.8 444.5 2698.7 450.6 2699.7 457.5 2699.9 463.5 2692.4 470.2 2691 478.1 2686.3 482.5 2677.2 492.3 2670.8 495.5 2661.3 496.1 2655.9 498 2651.8 495.8 2650.6 492.3 2648.7 482.8 2647.6 478.4 2644.3 472.1 2642.7 460.4 2638.8 451.2 2635.6 442.6 2636.6 436 2640.3 427.8 2639.9 415.7 2637.4 406.9 2636.3 403.1 2629.6 394.2 2629.4 386.6 2630.5 381.9 2630.2 375.2 2626.3 372.4 2620.1 374.3 2612.6 367.6 2609.8 368 2606.4 368.6 2602.5 370.5 2599.8 371.8 2591.9 371.1 2582.2 374 2573 368 2566.3 361 2565 357.8 2559.8 350.2 2556.5 345.2 2554.6 341.4 2557.5 337.3 2559 330.6 2556.5 322.1 2559.7 312.9 2563.8 305.3 2568.3 299.6 2573.5 297.1 2576.8 294.5 2577.4 291.7 2576.9 288.2 2578.6 285.7 2583 281.6 2585.1 280.3 2586.8 276.5 2587.9 274.6 2589.2 274.3 2592.6 276.5 2595.5 276.2 2601.5 274.9 2611.2 271.5 2616.4 271.5 2623.5 271.1 2628.9 269.9 2631.8 270.5 2630.9 274.6 2631.6 278.1 2629.8 280.6 2632.2 281.3 2638.2 283.8 2643.3 285.4 2647.5 289.2 2652.7 291.4 2656.7 286.3 2661.6 283.8 2667.1 286.3 2670.4 287.9 2675.8 288.5 2683 289.2 2685.9 287.9 2689.4 288.9 2693.5 289.5 2695 288.2 2695.8 286.3 2696.1 284.1 2697.1 280.6 2697.7 279 2697.3 275.6 2697.2 273 2697.9 272.1 2693.6 271.5 2688.4 273.7 2683.4 271.1 2676.4 271.8 2674.7 270.8 2672.7 266.1 2670.8 262.9 2670.8 261.1 2677.6 257.6 2692.6 255.1 2696 257.3 2705.6 258.2 2709.4 256.3 2703.4 250.1 2698 246.7 2694.6 244.8 2697.4 241.1 2700.2 238.9 2691.2 241.1 2690.8 245.7 2687.2 247 2684.3 244.2 2679.4 241.4 2677.4 245.1 2675.3 248.2 2673.7 251.3 2673 253.5 2677.1 257.6 2670.4 259.8 2669.6 258.9 2665.7 258.5 2664.4 261.4 2661.9 259.5 2661.7 262.9 2662.8 266.1 2664.8 267.7 2663.3 272.4 2660.7 272.1 2659.2 269.2 2659 266.7 2656.6 263.9 2653 260.1 2652.7 257.3 2651 254.5 2649.1 253.2 2644.6 250.4 2641.4 248.5 2639.1 244.8 2637.5 243.9 2633.8 244.5 2634.8 248.5 2637.2 250.1 2639.2 253.5 2644.2 255.4 2646.4 257.9 2649.1 259.5 2650.7 261.1 2649.5 261.4 2647.3 260.1 2645.7 262.6 2647.4 264.2 2645.9 266.4 2643.7 267.7 2644.1 265.5 2643.5 261.4 2641.1 259.5 2639.5 258.9 2637.7 257.6 2634.3 256 2631.3 253.8 2629.1 250.4 2627.8 248.5 2625.5 247.6 2622 249.5 2621.5 249.8 2618 251.7 2616.8 251 2613.2 250.4 2610.7 252.9 2611.3 255.4 2608.7 257 2606.2 257.9 2605.4 259.2 2602.3 262.9 2603.6 265.5 2601.8 266.7 2600.5 268.9 2596.6 271.5 2591.6 271.8ZM2261.4 177.2 2279 171.8 2293.4 169 2307.2 171.6 2318.8 173.4 2329.7 174.5 2344 172.6 2353.6 172.1 2364.3 175.3 2372.9 178 2384.4 176.6 2397.5 178 2416.4 167.9 2414.1 175.3 2419.1 176.6 2434 173.2 2435.6 178 2424.4 182.1 2422.3 182.1 2415.2 187.6 2403.2 192.4 2395.2 197.5 2390.4 203.9 2391.1 209.2 2400.3 210.7 2405 214.6 2407.7 221.5 2409.4 226.3 2413.5 225.7 2417.2 216.7 2424.1 213.7 2427.6 204.8 2432.8 193.8 2443.7 193.8 2448.3 197.5 2446.2 203.9 2458.4 199.6 2461.5 207.7 2463.6 213.7 2468.5 222.7 2466.3 225.7 2457.7 229.7 2441.8 230.3 2432.4 235.8 2445.8 234 2442.7 238 2442.2 241.1 2451 243.2 2453.9 242 2443.4 247 2436.3 249.5 2435.2 245.7 2430.7 248.2 2425.8 250.1 2422.7 254.2 2424.4 256 2420.2 257 2412.9 259.8 2409.1 264.8 2406.2 269.2 2404.5 270.8 2404.3 276.5 2398.3 279.4 2390.7 284.1 2387.2 286.6 2384.9 292 2385.7 298 2385.6 306.3 2382.8 308.5 2379.7 299.9 2378.7 294.5 2377.1 293 2369.4 291.7 2367.3 291.4 2363 295.8 2358.3 295.2 2348.1 295.2 2340.3 299.9 2338.2 307.2 2335.6 317.3 2338.9 327.1 2343.1 330.6 2354.5 325.2 2355.6 321.4 2357.4 320.5 2363.5 319.9 2365.3 320.8 2361.4 329.4 2359.7 334.1 2359.8 337.9 2370.9 337.6 2372.8 340.4 2371.3 348.3 2372.1 356.3 2380.7 358.2 2387.8 360.7 2393.1 355 2404.6 348.7 2404 353.7 2414 354.7 2425.1 354.4 2433.4 356.3 2434.5 361 2444.1 368.9 2449.6 369.2 2457.1 372.4 2460.7 375.2 2463.3 384.7 2467.5 391.1 2480.2 395.8 2495.6 399.6 2504.9 406.3 2505.8 413.2 2496.3 429 2495.6 443.3 2492.5 452.1 2485.1 460.7 2476.9 463.8 2471.6 471.8 2467.8 484.4 2463.7 492.3 2454.9 498.3 2448.9 497.4 2454.5 502.8 2453.5 508.1 2441.9 510.7 2436.5 517.6 2441.7 522.3 2440.3 530.1 2434.9 532.9 2440.3 537.8 2437.5 547 2437.6 550.4 2439.9 553.1 2450.2 560.6 2447.2 563.3 2434.8 557.6 2425 551.6 2417.4 539.4 2416.6 527 2414.5 520.7 2411 505 2412.9 492.3 2410.1 476.5 2411 462.6 2409.6 446.4 2395.7 436.9 2389 425.9 2381.4 410.1 2376.1 402.5 2379.6 395.8 2378.1 387.9 2380.9 384.7 2386.9 375.6 2386.1 365.7 2385.9 365.1 2381.7 359.7 2379 364.2 2374.6 361.6 2364.6 356.3 2361.6 348.3 2360.4 346.1 2354.9 345.2 2349.5 343.6 2340.6 337.3 2327.3 334.7 2321.5 331.3 2313.1 323.3 2314.3 322.4 2314.7 319.9 2312.6 314.5 2309.3 308.8 2303.6 299.6 2300.7 294.5 2296.9 287.3 2299.4 294.5 2299.9 302.5 2302.6 311.3 2302.9 315.4 2298.3 309.4 2295.2 299.9 2294 294.5 2292.1 287.3 2291.5 284.4 2289.7 280.6 2284.9 278.7 2284 272.1 2284.1 268.3 2283.3 260.1 2287.5 252 2294.9 241.7 2297.2 235.2 2294.3 227.8 2297.1 218.2 2296.6 210.7 2293.5 205.4 2289.5 201.9 2281.6 200.4 2277.4 198.1 2261.9 202.8 2272.1 197 2254.5 204.8 2236.2 212.2 2223.8 215.2 2217.8 216.4 2232.1 210.7 2248.3 204.2 2238.2 204.2 2237.6 199 2244.7 192.4 2259.4 187.6 2250 187.6 2248.3 184.5 2264.7 181ZM2472.4 152.2 2489.4 147.1 2502 144.5 2519.5 143.5 2537.2 141.8 2553.9 141.3 2566.6 142.8 2582.8 145.1 2571.8 148.2 2568.4 155 2568.3 159.9 2561.2 166.1 2558.2 171.3 2550 176.6 2537.3 178 2524 184.3 2514.2 191.8 2506 200.4 2497 197.5 2492.4 188.5 2491.3 182.1 2499.2 175.8 2494.3 171.3 2496 166.1 2493.8 158.6 2476.5 156.2ZM2450.7 163.1 2457 166.1 2463.3 171.3 2466.9 175.3 2473.9 181.2 2466.8 184.8 2461.1 191.8 2457.5 194.7 2447.8 192.4 2439.3 188.5 2446.8 184.8 2452.2 179.3 2446.4 172.6 2432.3 172.6 2427.5 168.7 2441.6 163.6ZM2368.9 170 2375.1 165.4 2391.7 163.6 2401.3 163.6 2405.4 166.1 2401.4 171.3 2389.7 175.3 2372.1 176.6 2364.7 174ZM2356.8 167.7 2368.9 161.8 2380.4 161.8 2379.6 164.9 2368.4 168.7 2357.5 168.7ZM2448.1 147.1 2470.9 142.2 2495.7 142.2 2499.8 144.1 2481.5 148.2 2469.5 151.5 2455.9 156.2 2439.4 156.2 2441.9 151.5ZM2430 159.9 2455.5 156.7 2451.5 161.1 2428.7 161.1ZM2418.3 186.2 2429.3 189 2420.6 192.4 2414.4 190.4ZM2387.9 156.2 2408.4 157.4 2404.6 159.9 2382.3 160.3ZM2404.8 164.9 2417.4 162.8 2413.9 167.4 2403.6 167.9ZM2420.3 162.8 2430.3 162.3 2425.9 166.1 2418.8 167.4ZM2433.2 149.3 2452.8 146.1 2450.3 150.4 2437.9 152.6ZM2411.8 156.2 2424.7 156.2 2419.6 159.9 2409.3 159.9ZM2379.7 155.5 2396.7 153.8 2383.7 157.9ZM2456.6 237.7 2461.4 233.4 2464.3 228.1 2469.8 225.4 2468.4 230.3 2473.6 233.4 2473.2 237.7 2470.4 240.8 2465.7 239.5 2462.5 238ZM2552.4 184.8 2557.1 182.3 2569.7 182.1 2573.5 184.8 2571 188.2 2563.2 190.7 2554.7 189.6ZM2589.3 230 2594.6 228.8 2606.5 226.6 2607.1 222.4 2603.8 220 2602.6 217.6 2599.6 213.7 2598.5 210.7 2599 207.4 2594 206.9 2596.3 204.5 2591.8 204.5 2589.9 207.7 2590.2 211.3 2591.7 215.2 2596.1 215.8 2596 220 2592.2 220.3 2593.6 223.3 2590.6 225.1 2595.9 226.3ZM2588.8 224.2 2589 218.2 2590.2 216.4 2585.6 214.3 2583.2 216.7 2579.6 218.2 2579.8 221.2 2578.4 224.8 2582.7 225.4 2588.1 223.6ZM2622.7 151.5 2630.9 148.2 2649.8 147.7 2642.6 152.6 2632.5 156.2ZM2705.7 168.7 2707.4 161.1 2717.2 156.2 2729 155 2716.8 161.1 2714.3 170ZM2769.8 148.2 2773.9 146.1 2787 149.3 2779.4 151.5ZM2859 159.9 2866.4 157.4 2884.6 159.4 2877.9 164.9ZM2689.2 147.1 2705.6 146.1 2710.4 147.7 2690.2 148.6ZM2236.8 175.6 2240.5 178.5 2245.6 180.7 2246.9 183.2 2241.1 185.4 2233 188.2 2229.3 186.2 2226 184.8 2221.6 185.7ZM2936.5 217.3 2942.4 221.2 2952.5 231.8 2958 242.6 2955.1 241.1 2947.6 230.3 2940.4 222.7ZM2960 255.1 2956.8 244.5 2971.1 250.7 2967.6 255.1 2963.5 256.7ZM2963.3 256.7 2969.9 262.9 2969.6 267 2972.6 274 2971.5 277.1 2968.5 278.1 2964.8 279.7 2963.1 281.9 2959.4 278.4 2953.4 279.7 2949.4 279.7 2949.7 277.1 2952.7 275.2 2960 274 2961.1 270.8 2963.7 268.3 2963.8 261.4ZM2947.2 280.6 2952.5 281.9 2953.7 288.9 2951.4 289.8 2947.3 283.5ZM2955 283.5 2959 279.7 2959.3 282.8 2956.7 284.4ZM2930.8 315.1 2933.4 307.8 2935.3 310.4 2933.6 318.3ZM2901.7 327.1 2906.5 324.3 2908.1 325.9 2905 330.3ZM2934.7 337.3 2935.1 329.4 2939.5 329.4 2940 335.7 2947.1 346.8 2937.4 344.2ZM2943.3 365.7 2952.4 356.9 2955.8 364.2 2953.3 369.5 2949 367.3ZM2947.3 348.3 2952.9 353.1 2950.4 356.3 2945.2 354.7ZM2907.7 383.2 2913.3 381.6 2920.1 376.8 2925.5 371.1 2929.4 365.7 2935.3 371.4 2932.6 373.7 2932.4 384.7 2928.7 392.6 2927.1 400.2 2922.9 400.6 2913.2 397.4 2910.5 392.6ZM2869.1 370.2 2876.8 375.2 2884 381.6 2892.4 391.1 2899.2 397.4 2898.3 406.3 2894.7 406.3 2885.3 395.8 2878.4 383.2 2871.2 375.2ZM2896.5 409.4 2900.3 406.9 2911.3 409.4 2916.8 409.7 2922.5 412.6 2922 415.4 2909.6 413.8 2900 411.3ZM2923.6 413.8 2934.7 413.8 2945.8 413.8 2945.7 415.7 2934.5 416.1 2923.4 415.7ZM2946.7 420.5 2956.9 414.5 2951.2 416.4ZM2935.2 405.3 2937.2 387.9 2940.7 383.8 2951.1 383.2 2953 383.2 2941.3 386.3 2946.9 390.4 2942.7 393.6 2946.5 402.1 2943.6 405.3 2941.2 395.8 2939.1 405.3ZM2959.4 381.6 2962.2 383.2 2960.9 389.5 2959 386.3ZM2960.7 397.4 2968.5 397.4 2966.2 399.9 2960.6 399.9ZM2969.3 391.1 2977.7 390.4 2986 392.6 2997.1 396.1 3009.4 402.1 3014.6 408.5 3020.3 421.1 3009.8 414.8 3002.7 416.4 2995.7 417 2987.6 414.2 2987 403.7 2977.3 400.6 2971.9 395.8ZM3017.6 405.3 3027.6 401.2 3025.9 405.3 3018.8 407.5ZM2825.8 368.9 2825.5 356.9 2831.1 364.2 2829.1 368.9ZM2740 425.9 2742.8 436.9 2739 451.2 2730.9 467 2722.9 465.4 2722.2 455.9 2726 440.1 2733.3 433.8ZM2913.7 457.5 2912.5 470.2 2911.2 484.4 2909.3 493.9 2907 496.4 2914.1 498.7 2930 495.2 2947.3 488.2 2955 489.2 2960.5 498 2968.3 492.3 2965.2 499.3 2968.4 498 2968.4 503.4 2968.6 508.1 2979.8 509.1 2981.7 511.6 2994.2 506.6 3003.3 495.2 3012.4 486 3017.6 477.1 3017.8 473.3 3015 460.7 3011.9 452.8 3005 446.4 3005.2 438.5 3000.8 432.2 2999.4 421.8 2995.7 429 2993.9 440.1 2987.7 443.3 2979.2 436.9 2983 426.5 2971.3 424.3 2966.2 427.1 2960.2 434.7 2953.7 432.2 2945.5 440.1 2939.8 444.9 2929.8 451.2 2922.7 453.1ZM2974.6 516.6 2983.4 517.3 2977.8 524.5 2971.9 525.7 2972.8 521.3ZM3059.3 496.8 3061.1 501.8 3062 506.6 3068.1 507.2 3060.3 512.9 3050.4 518.5 3053.8 512.9 3052.7 511.9 3059.1 505ZM3046.9 516 3047.7 520.1 3039.1 526.3 3031.5 530.1 3022.4 535 3017.7 533.2 3027.8 527 3040.8 520.1ZM2370.5 318.6 2379.2 314.5 2392.4 318.3 2399.4 324 2390.3 324.9 2382.8 318.9 2376 318.3ZM2398 329.7 2403.2 324.9 2410.8 325.6 2414.8 329.4 2406 331.9 2398.5 330.3ZM2387.5 329.7 2393.2 330.9 2390.9 331.6ZM2418.1 329.4 2422.5 330 2418.5 330.9ZM2635.3 267.4 2643.6 266.7 2642.6 271.8 2635.7 268.9ZM2624.1 258.2 2628.2 257.9 2627.9 264.2 2624.8 264.5ZM2624.9 252.3 2627.2 252 2627.1 257 2625.6 256.3ZM2664.9 275.2 2672.3 276.2 2667.7 277.5ZM2688.2 276.8 2694 274.9 2692.8 278.4 2688.9 278.1ZM2174.9 324 2177.7 326.2 2174.2 328.1ZM2456 550.1 2463.7 549.5 2463.4 552.2 2457.2 551.6ZM2315.6 637.2 2374.3 637.3 2350.9 633.4 2346.3 631.1 2337.1 630.3 2350 628.9 2342.9 627.2 2323 626.5 2311.6 624.3 2316 621.3 2331.3 618.4 2345.3 614.5 2368.5 613.2 2386 613.7 2397.7 616.2 2412.7 616.7 2402.5 610.4 2409.2 608.4 2416.5 610.4 2430.3 610.9 2449 612.7 2467.5 610.9 2456.9 607.9 2459.4 602.1 2462.8 594 2476.8 585.1 2470 592.9 2472.2 598.6 2485 611.4 2483.8 615 2462.9 620.8 2467.6 624.3 2466.3 626.5 2485 630.1 2506 633.6 2516.3 631.1 2511.8 628.9 2521.2 624.3 2526.9 627.6 2534.6 631.1 2539.4 625.7 2552 627.6 2562.3 616.7 2587.5 606.8 2625.3 604.2 2663.2 601.6 2713.6 592.4 2741.2 597.8 2736.3 609.1 2764.1 597.8 2814.5 592.9 2834.7 593.7 2842.2 592.6 2849.2 595.9 2860.6 593.7 2885 593.2 2888.7 591 2888.1 595.1 2905.4 595.4 2906.4 598.1 2918 599.7 2925.8 604.5 2939.5 606.3 2937.3 608.9 2902.3 620.6 2898.9 625.2 2877.4 629.1 2876.4 633 2885 636.5 2891 637M2721.2 247.3 2726 241.1 2734.4 240.1 2735.9 245.7 2732.2 247.9 2737.7 255.1 2739.6 261.4 2743.9 269.2 2736.5 271.8 2730.6 267.7 2730.4 260.4 2723.8 253.5Z" fill="none" stroke="#000" stroke-width="1.05" stroke-linejoin="round"/>
<path d="M2870.9 643.1 2878.3 641.1 2886.6 638.5 2895.7 635.4 2905.5 631.7 2915.7 627.6 2926.3 623.2 2936.8 618.4 2946.7 613.5 2956 608.4 2964.7 603.2 2973.1 597.8 2981.3 592.4 2989.4 586.8 2997.3 581.1 3005 575.4 3012.5 569.5 3019.7 563.6 3026.8 557.6 3033.5 551.6 3039.8 545.5 3045.8 539.4 3051.4 533.2 3056.7 527 3062 520.7 3066.8 514.4 3071.4 508.1 3075.5 501.8 3079.4 495.5 3082.9 489.2 3086.2 482.8 3089.1 476.5 3091.6 470.2 3093.8 463.8 3095.6 457.5 3097.3 451.2 3099 444.9 3100.6 438.5 3101.9 432.2 3103.1 425.9 3104 419.5 3104.7 413.2 3105.4 406.9 3105.8 400.6 3106.1 394.2 3106.3 387.9 3106.1 381.6 3105.8 375.2 3105.4 368.9 3104.7 362.6 3104 356.3 3103.1 349.9 3101.9 343.6 3100.6 337.3 3099 330.9 3097.3 324.6 3095.6 318.3 3093.8 312 3091.6 305.6 3089.1 299.3 3086.2 293 3082.9 286.6 3079.4 280.3 3075.5 274 3071.4 267.7 3066.8 261.4 3062 255.1 3056.7 248.8 3051.4 242.6 3045.8 236.4 3039.8 230.3 3033.5 224.2 3026.8 218.2 3019.7 212.2 3012.5 206.3 3005 200.4 2997.3 194.7 2989.4 189 2981.3 183.4 2973.1 178 2964.7 172.6 2956 167.4 2946.7 162.3 2936.8 157.4 2926.3 152.6 2915.7 148.2 2905.5 144.1 2895.7 140.4 2886.6 137.3 2878.3 134.7 2870.9 132.7 2335.3 132.7 2327.9 134.7 2319.6 137.3 2310.5 140.4 2300.7 144.1 2290.5 148.2 2279.9 152.6 2269.4 157.4 2259.5 162.3 2250.2 167.4 2241.5 172.6 2233.1 178 2224.9 183.4 2216.8 189 2208.9 194.7 2201.2 200.4 2193.7 206.3 2186.5 212.2 2179.4 218.2 2172.7 224.2 2166.4 230.3 2160.4 236.4 2154.8 242.6 2149.5 248.8 2144.2 255.1 2139.4 261.4 2134.8 267.7 2130.7 274 2126.8 280.3 2123.3 286.6 2120 293 2117.1 299.3 2114.6 305.6 2112.4 312 2110.6 318.3 2108.9 324.6 2107.2 330.9 2105.6 337.3 2104.3 343.6 2103.1 349.9 2102.2 356.3 2101.5 362.6 2100.8 368.9 2100.4 375.2 2100.1 381.6 2099.9 387.9 2100.1 394.2 2100.4 400.6 2100.8 406.9 2101.5 413.2 2102.2 419.5 2103.1 425.9 2104.3 432.2 2105.6 438.5 2107.2 444.9 2108.9 451.2 2110.6 457.5 2112.4 463.8 2114.6 470.2 2117.1 476.5 2120 482.8 2123.3 489.2 2126.8 495.5 2130.7 501.8 2134.8 508.1 2139.4 514.4 2144.2 520.7 2149.5 527 2154.8 533.2 2160.4 539.4 2166.4 545.5 2172.7 551.6 2179.4 557.6 2186.5 563.6 2193.7 569.5 2201.2 575.4 2208.9 581.1 2216.8 586.8 2224.9 592.4 2233.1 597.8 2241.5 603.2 2250.2 608.4 2259.5 613.5 2269.4 618.4 2279.9 623.2 2290.5 627.6 2300.7 631.7 2310.5 635.4 2319.6 638.5 2327.9 641.1 2335.3 643.1Z" fill="none" stroke="#000" stroke-width="1.7"/>
<g clip-path="url(#cl3)"><g filter="url(#bl)">
<g transform="translate(7 802.5) scale(5)" fill="none" stroke-width="1" shape-rendering="crispEdges">
<path stroke="#ffffcc" d="M34 83h31M70 83h8M147 83h12M186 83h3M33 84h33M70 84h11M145 84h15M185 84h6M34 85h32M70 85h3M75 85h2M148 85h10M187 85h5M35 86h33M71 86h3M188 86h5M36 87h34M189 87h5M50 88h21M190 88h5M191 89h4M192 90h4M193 91h2"/>
<path stroke="#fffac1" d="M0 4h1M0 5h1M0 6h2M0 7h2M0 8h3M0 9h5M0 10h6M0 11h7M0 12h8M0 13h8M0 14h9M0 15h10M0 16h11M39 16h1M0 17h12M38 17h2M86 17h4M96 17h3M0 18h13M38 18h3M85 18h12M0 19h14M37 19h3M84 19h13M0 20h15M36 20h4M83 20h14M0 21h16M34 21h6M83 21h16M0 22h18M32 22h8M83 22h16M2 23h16M31 23h9M83 23h16M3 24h4M83 24h15M5 25h1M84 25h13M84 26h12M84 27h11M73 76h1M173 76h2M181 76h2M193 76h2M34 77h30M71 77h33M139 77h38M179 77h22M33 78h31M70 78h34M138 78h38M179 78h26M31 79h33M70 79h34M138 79h38M178 79h27M29 80h36M70 80h34M138 80h38M177 80h28M15 81h50M70 81h35M138 81h67M11 82h54M70 82h35M137 82h68M9 83h25M78 83h26M137 83h10M159 83h27M189 83h16M8 84h25M69 84h1M81 84h22M138 84h7M160 84h25M191 84h14M7 85h27M66 85h1M73 85h2M77 85h23M139 85h9M158 85h29M192 85h13M6 86h29M74 86h14M141 86h47M193 86h12M5 87h19M28 87h8M70 87h10M144 87h17M185 87h4M194 87h11M5 88h16M32 88h18M71 88h5M147 88h12M187 88h3M195 88h10M4 89h16M37 89h37M188 89h3M195 89h10M0 90h19M52 90h20M190 90h2M196 90h9M0 91h18M191 91h2M195 91h10M0 92h17M192 92h13M0 93h16M193 93h12M0 94h15M196 94h9M0 95h14M200 95h5M0 96h13M0 97h12M0 98h12M0 99h11M0 100h11M0 101h11M0 102h11M0 103h10M0 104h10M0 105h10"/>
<path stroke="#fff6b6" d="M0 0h3M0 1h3M0 2h3M0 3h3M1 4h2M1 5h3M2 6h2M2 7h3M3 8h3M5 9h2M6 10h2M7 11h2M8 12h2M103 12h2M8 13h2M100 13h5M9 14h2M98 14h6M10 15h2M37 15h1M96 15h8M11 16h2M36 16h3M85 16h4M93 16h6M102 16h3M12 17h2M35 17h3M40 17h1M84 17h2M90 17h6M102 17h2M13 18h2M35 18h3M83 18h2M97 18h1M14 19h2M33 19h4M83 19h1M15 20h3M31 20h5M82 20h1M97 20h3M16 21h6M26 21h8M81 21h2M99 21h2M18 22h14M40 22h1M81 22h2M99 22h1M0 23h2M18 23h13M81 23h2M99 23h2M0 24h3M7 24h32M81 24h2M98 24h3M1 25h4M6 25h33M81 25h3M2 26h36M81 26h3M96 26h1M3 27h7M80 27h4M95 27h2M4 28h5M78 28h19M6 29h2M72 29h1M77 29h20M79 30h17M36 74h28M74 74h27M159 74h4M168 74h5M183 74h3M193 74h1M32 75h31M73 75h102M182 75h23M31 76h33M74 76h99M183 76h10M195 76h10M30 77h4M70 77h1M104 77h7M132 77h7M177 77h1M201 77h4M28 78h5M104 78h4M134 78h4M178 78h1M11 79h20M104 79h3M135 79h3M9 80h20M104 80h3M135 80h3M176 80h1M8 81h7M69 81h1M105 81h2M135 81h3M7 82h4M105 82h3M134 82h3M5 83h4M69 83h1M104 83h5M116 83h21M5 84h3M103 84h4M115 84h23M4 85h3M69 85h1M100 85h3M120 85h19M3 86h3M68 86h1M70 86h1M88 86h5M138 86h3M0 87h5M24 87h4M80 87h4M141 87h3M161 87h24M0 88h5M21 88h11M76 88h3M144 88h3M159 88h3M185 88h2M0 89h4M20 89h4M32 89h5M74 89h2M146 89h13M187 89h1M19 90h3M48 90h4M72 90h2M188 90h2M18 91h2M53 91h18M189 91h2M17 92h2M191 92h1M16 93h2M192 93h1M15 94h2M193 94h3M14 95h2M195 95h5M13 96h2M197 96h8M12 97h3M199 97h6M12 98h2M201 98h4M11 99h3M11 100h2M11 101h2M11 102h2M10 103h3M10 104h2M10 105h2"/>
<path stroke="#fff1ab" d="M3 0h1M3 1h1M3 2h1M3 3h1M3 4h1M4 5h1M4 6h1M5 7h2M6 8h2M7 9h1M105 9h2M8 10h1M104 10h3M9 11h1M102 11h5M100 12h3M105 12h1M10 13h1M98 13h2M11 14h1M96 14h2M12 15h1M36 15h1M85 15h2M93 15h3M13 16h1M35 16h1M84 16h1M89 16h4M99 16h1M14 17h1M34 17h1M83 17h1M99 17h1M104 17h1M15 18h1M33 18h2M103 18h2M16 19h2M31 19h2M40 19h1M82 19h1M18 20h3M28 20h3M81 20h1M22 21h4M40 21h1M79 21h2M79 22h2M79 23h2M79 24h2M0 25h1M67 25h3M79 25h2M97 25h1M0 26h2M67 26h4M78 26h3M97 26h1M1 27h2M10 27h28M65 27h9M76 27h4M2 28h2M9 28h7M31 28h7M66 28h12M3 29h3M8 29h4M67 29h5M73 29h4M97 29h1M4 30h7M68 30h11M96 30h3M6 31h3M69 31h29M72 32h25M76 72h1M32 73h32M75 73h36M118 73h45M171 73h1M184 73h21M30 74h6M73 74h1M101 74h11M116 74h43M186 74h7M194 74h11M30 75h2M63 75h1M28 76h3M11 77h19M111 77h21M9 78h19M69 78h1M108 78h26M8 79h3M64 79h1M107 79h28M6 80h3M107 80h28M5 81h3M107 81h28M4 82h3M69 82h1M108 82h26M3 83h2M65 83h1M109 83h7M2 84h3M107 84h8M0 85h4M103 85h17M0 86h3M93 86h9M116 86h22M84 87h6M136 87h5M79 88h3M142 88h2M162 88h23M24 89h8M76 89h2M144 89h2M159 89h3M182 89h5M22 90h3M36 90h12M74 90h1M146 90h13M186 90h2M20 91h2M51 91h2M71 91h2M188 91h1M19 92h2M54 92h16M189 92h2M18 93h1M190 93h2M17 94h1M191 94h2M16 95h1M193 95h2M15 96h1M194 96h3M15 97h1M196 97h3M14 98h1M197 98h4M14 99h1M199 99h6M13 100h1M201 100h4M13 101h1M13 102h1M13 103h1M12 104h2M12 105h2"/>
<path stroke="#ffec9f" d="M4 3h1M4 4h1M5 6h1M105 8h3M8 9h1M104 9h1M107 9h2M9 10h1M103 10h1M107 10h1M10 11h1M101 11h1M10 12h1M98 12h2M203 12h2M11 13h1M96 13h2M201 13h4M12 14h1M94 14h2M200 14h5M13 15h1M84 15h1M87 15h6M199 15h6M14 16h1M34 16h1M83 16h1M101 16h1M105 16h1M196 16h9M15 17h1M33 17h1M105 17h1M195 17h10M16 18h1M31 18h2M82 18h1M99 18h2M102 18h1M105 18h1M195 18h10M18 19h1M29 19h2M81 19h1M97 19h1M99 19h1M103 19h1M195 19h10M21 20h7M79 20h2M195 20h10M78 21h1M195 21h10M77 22h2M100 22h1M195 22h10M77 23h2M195 23h10M39 24h1M77 24h2M195 24h10M70 25h2M77 25h2M195 25h10M66 26h1M71 26h7M104 26h2M194 26h11M0 27h1M64 27h1M74 27h2M103 27h3M108 27h1M194 27h11M0 28h2M16 28h15M64 28h2M103 28h5M193 28h12M0 29h3M12 29h26M63 29h4M98 29h1M101 29h1M192 29h13M0 30h4M11 30h27M63 30h5M191 30h14M1 31h5M9 31h30M62 31h7M4 32h9M64 32h8M66 33h31M67 34h29M68 35h26M92 36h2M28 53h16M27 54h18M26 55h19M26 56h18M26 57h10M25 58h9M24 59h9M22 60h10M0 61h32M0 62h32M0 63h32M0 64h32M0 65h32M0 66h32M0 67h33M0 68h35M0 69h63M77 69h17M0 70h63M76 70h24M0 71h63M76 71h28M109 71h2M120 71h2M0 72h64M75 72h1M77 72h34M119 72h44M184 72h21M0 73h32M111 73h1M170 73h1M172 73h1M183 73h1M0 74h30M114 74h2M167 74h1M182 74h1M0 75h30M72 75h1M0 76h28M72 76h1M0 77h11M178 77h1M0 78h9M176 78h1M0 79h8M0 80h6M0 81h5M0 82h4M0 83h3M0 84h2M66 84h1M67 85h1M69 86h1M102 86h6M110 86h6M90 87h8M116 87h20M82 88h6M125 88h6M134 88h8M78 89h2M142 89h2M162 89h5M174 89h8M25 90h11M75 90h2M144 90h2M159 90h3M179 90h7M22 91h2M48 91h3M73 91h2M147 91h12M181 91h7M21 92h1M52 92h2M70 92h3M182 92h7M19 93h2M57 93h13M183 93h7M18 94h1M184 94h7M17 95h1M184 95h9M16 96h1M185 96h9M186 97h10M15 98h1M188 98h9M15 99h1M189 99h10M14 100h1M190 100h11M14 101h1M190 101h15M14 102h1M190 102h15M14 103h1M190 103h15M190 104h15M190 105h15"/>
<path stroke="#ffe794" d="M4 0h1M4 1h1M4 2h1M5 5h1M6 6h1M7 7h1M8 8h1M108 8h3M9 9h1M103 9h1M109 9h1M116 9h2M203 9h2M102 10h1M202 10h3M100 11h1M200 11h5M97 12h1M199 12h4M95 13h1M198 13h3M85 14h1M93 14h1M194 14h6M38 15h1M83 15h1M193 15h6M33 16h1M192 16h4M32 17h1M82 17h1M191 17h4M17 18h1M190 18h5M19 19h1M28 19h1M80 19h1M189 19h6M78 20h1M189 20h6M77 21h1M101 21h1M190 21h5M191 22h4M76 23h1M101 23h1M192 23h3M71 24h1M76 24h1M192 24h3M72 25h5M191 25h4M191 26h3M97 27h1M109 27h1M190 27h4M102 28h1M111 28h2M188 28h5M102 29h1M108 29h1M111 29h2M183 29h9M108 30h4M183 30h8M0 31h1M61 31h1M183 31h22M0 32h4M13 32h27M60 32h4M184 32h21M0 33h40M59 33h7M185 33h20M63 34h4M65 35h3M94 35h1M66 36h26M67 37h26M91 38h2M36 50h9M25 51h21M144 51h3M157 51h5M23 52h24M133 52h29M23 53h5M44 53h4M132 53h11M158 53h2M24 54h3M45 54h3M159 54h2M179 54h1M23 55h3M45 55h3M58 55h7M23 56h3M44 56h4M58 56h8M22 57h4M36 57h11M59 57h8M12 58h13M34 58h12M60 58h6M0 59h24M33 59h10M0 60h22M32 60h4M32 61h3M32 62h2M32 63h2M32 64h3M32 65h3M32 66h5M33 67h30M79 67h14M35 68h28M77 68h23M76 69h1M94 69h8M100 70h4M109 70h1M120 70h1M63 71h1M104 71h5M122 71h42M185 71h20M118 72h1M163 72h1M74 73h1M117 73h1M163 74h1M181 75h1M67 84h2M68 85h1M108 86h2M98 87h4M114 87h2M88 88h2M120 88h5M131 88h3M80 89h2M139 89h3M167 89h7M77 90h1M143 90h1M162 90h2M176 90h3M24 91h9M47 91h1M145 91h2M159 91h2M179 91h2M22 92h1M51 92h1M73 92h1M180 92h2M53 93h4M70 93h2M181 93h2M19 94h1M182 94h2M18 95h1M183 95h1M17 96h1M183 96h2M16 97h1M184 97h2M184 98h4M186 99h3M15 100h1M187 100h3M15 101h1M187 101h3M188 102h2M188 103h2M14 104h1M188 104h2M14 105h1M188 105h2"/>
<path stroke="#fee289" d="M5 4h1M104 8h1M111 8h6M204 8h1M118 9h1M201 9h2M10 10h1M200 10h2M199 11h1M11 12h1M198 12h1M12 13h1M195 13h3M13 14h1M84 14h1M86 14h3M92 14h1M193 14h1M14 15h1M104 15h1M192 15h1M15 16h1M191 16h1M16 17h1M190 17h1M30 18h1M81 18h1M98 18h1M189 18h1M20 19h2M27 19h1M188 19h1M76 20h2M187 20h2M186 21h4M188 22h3M189 23h3M72 24h4M101 24h1M190 24h2M120 25h2M190 25h1M189 26h2M186 27h4M97 28h1M108 28h1M115 28h1M182 28h6M100 29h1M109 29h2M115 29h1M175 29h1M179 29h4M112 30h3M116 30h3M175 30h1M179 30h4M110 31h3M118 31h3M181 31h2M182 32h2M183 33h2M0 34h40M59 34h4M184 34h21M61 35h4M64 36h2M65 37h2M93 37h1M66 38h25M88 39h5M36 49h10M103 49h2M24 50h12M45 50h2M104 50h2M144 50h3M156 50h7M21 51h4M46 51h2M132 51h12M147 51h10M162 51h2M21 52h2M47 52h2M130 52h3M162 52h5M22 53h1M48 53h2M108 53h6M129 53h3M143 53h15M160 53h7M22 54h2M48 54h2M58 54h7M108 54h8M128 54h15M165 54h2M177 54h2M180 54h1M22 55h1M48 55h2M57 55h1M65 55h3M109 55h7M130 55h2M160 55h1M179 55h4M21 56h2M48 56h1M66 56h2M0 57h22M47 57h2M58 57h1M67 57h1M0 58h12M46 58h2M59 58h1M66 58h2M43 59h4M59 59h8M36 60h9M61 60h4M35 61h2M34 62h2M34 63h2M35 64h2M35 65h4M37 66h26M80 66h13M63 67h1M93 67h7M63 68h1M100 68h2M102 69h2M104 70h5M110 70h1M121 70h43M186 70h19M119 71h1M163 73h1M166 74h1M174 74h1M180 76h1M64 78h1M177 78h1M65 82h1M66 83h3M102 87h3M112 87h2M90 88h2M117 88h3M82 89h5M124 89h15M78 90h1M142 90h1M164 90h12M33 91h5M44 91h3M75 91h1M144 91h1M161 91h2M177 91h2M23 92h3M49 92h2M74 92h1M146 92h14M179 92h1M21 93h1M52 93h1M72 93h1M180 93h1M20 94h1M56 94h15M181 94h1M19 95h1M182 95h1M18 96h1M182 96h1M17 97h1M183 97h1M16 98h1M16 99h1M184 99h2M16 100h1M185 100h2M186 101h1M15 102h1M186 102h2M15 103h1M186 103h2M15 104h1M186 104h2M15 105h1M186 105h2"/>
<path stroke="#fedd7f" d="M5 3h1M6 5h1M7 6h1M8 7h1M105 7h4M9 8h1M117 8h2M201 8h3M115 9h1M119 9h1M200 9h1M101 10h1M199 10h1M99 11h1M198 11h1M96 12h1M197 12h1M193 13h2M89 14h3M192 14h1M35 15h1M191 15h1M82 16h1M190 16h1M31 17h1M101 17h1M189 17h1M18 18h1M29 18h1M188 18h1M22 19h5M79 19h1M187 19h1M100 20h1M185 20h2M183 21h3M71 22h2M184 22h4M72 23h3M185 23h4M120 24h1M187 24h3M104 25h1M106 25h1M110 25h1M119 25h1M187 25h3M38 26h1M106 26h2M111 26h1M184 26h5M102 27h1M182 27h4M63 28h1M175 28h7M113 29h1M116 29h1M174 29h1M176 29h3M174 30h1M176 30h3M109 31h1M113 31h5M177 31h4M59 32h1M111 32h1M180 32h2M181 33h2M56 34h1M96 34h1M182 34h2M0 35h40M59 35h2M183 35h22M59 36h5M63 37h2M64 38h2M65 39h23M90 40h3M36 48h11M26 49h10M46 49h2M102 49h1M160 49h3M20 50h4M47 50h2M102 50h2M106 50h1M132 50h12M147 50h9M163 50h2M13 51h8M48 51h2M103 51h4M129 51h3M164 51h4M13 52h8M49 52h2M108 52h8M127 52h3M167 52h1M14 53h8M50 53h1M57 53h5M114 53h3M126 53h3M167 53h1M169 53h1M176 53h2M19 54h3M50 54h2M57 54h1M65 54h3M116 54h2M126 54h2M143 54h13M158 54h1M161 54h1M164 54h1M169 54h1M17 55h5M50 55h2M68 55h1M116 55h2M126 55h4M132 55h8M0 56h21M49 56h2M57 56h1M68 56h1M109 56h9M128 56h3M179 56h5M49 57h1M68 57h1M48 58h1M58 58h1M68 58h1M47 59h1M67 59h1M45 60h3M60 60h1M65 60h2M37 61h10M60 61h5M36 62h7M36 63h3M37 64h11M60 64h3M39 65h24M81 65h11M63 66h1M93 66h5M100 67h2M102 68h2M63 69h1M104 69h6M121 69h36M186 69h19M63 70h1M75 71h1M111 72h1M112 74h2M173 74h1M175 76h1M65 81h1M68 81h1M66 82h3M105 87h7M92 88h7M115 88h2M87 89h3M121 89h3M79 90h1M138 90h4M38 91h6M76 91h1M143 91h1M163 91h14M26 92h6M48 92h1M145 92h1M160 92h3M177 92h2M22 93h3M51 93h1M73 93h1M151 93h2M179 93h1M21 94h1M53 94h3M71 94h2M180 94h1M20 95h1M181 95h1M19 96h1M181 96h1M18 97h1M182 97h1M17 98h1M183 98h1M183 99h1M184 100h1M16 101h1M185 101h1M16 102h1M185 102h1M16 103h1M185 103h1M185 104h1M185 105h1"/>
<path stroke="#fed673" d="M5 0h1M5 1h1M5 2h1M6 4h1M104 7h1M109 7h2M202 7h3M103 8h1M119 8h1M200 8h1M10 9h1M102 9h1M120 9h1M199 9h1M119 10h1M198 10h1M11 11h1M98 11h1M107 11h1M197 11h1M106 12h1M196 12h1M85 13h1M94 13h1M104 14h1M32 16h1M17 17h1M81 17h1M188 17h1M19 18h1M28 18h1M80 18h1M187 18h1M77 19h2M100 19h1M185 19h2M40 20h1M101 20h2M183 20h2M73 21h1M76 21h1M181 21h2M182 22h2M75 23h1M183 23h2M70 24h1M109 24h1M183 24h4M98 25h1M105 25h1M118 25h1M183 25h4M103 26h1M108 26h1M182 26h2M107 27h1M111 27h1M115 27h1M175 27h7M173 28h2M99 29h1M114 29h1M173 29h1M62 30h1M100 30h1M115 30h1M120 30h1M173 30h1M39 31h1M98 31h1M173 31h4M97 32h1M117 32h1M119 32h1M175 32h5M178 33h3M55 34h1M180 34h2M40 35h1M55 35h3M181 35h2M0 36h41M42 36h1M56 36h2M94 36h1M182 36h23M24 37h17M57 37h6M184 37h9M61 38h3M93 38h1M63 39h2M65 40h25M92 41h1M39 46h7M36 47h12M34 48h2M47 48h2M103 48h1M22 49h4M48 49h2M101 49h1M105 49h2M143 49h4M156 49h4M163 49h3M13 50h7M49 50h2M101 50h1M107 50h4M129 50h3M165 50h3M11 51h2M50 51h2M101 51h2M107 51h9M128 51h1M10 52h3M51 52h2M57 52h4M102 52h6M116 52h2M169 52h2M10 53h4M51 53h2M62 53h7M107 53h1M117 53h2M170 53h1M178 53h1M9 54h10M52 54h2M68 54h2M118 54h1M125 54h1M156 54h2M162 54h2M176 54h1M181 54h1M2 55h15M52 55h1M69 55h2M118 55h2M125 55h1M140 55h3M161 55h1M169 55h1M178 55h1M183 55h1M51 56h2M69 56h2M118 56h2M124 56h4M131 56h5M50 57h3M69 57h1M110 57h9M126 57h5M181 57h3M49 58h3M69 58h1M48 59h3M58 59h1M68 59h1M48 60h2M59 60h1M67 60h2M47 61h2M59 61h1M65 61h2M43 62h6M59 62h6M39 63h24M81 63h7M48 64h12M81 64h11M63 65h1M80 65h1M92 65h3M98 66h3M78 67h1M102 67h2M129 67h6M104 68h6M122 68h5M128 68h17M188 68h17M120 69h1M157 69h7M185 70h1M169 73h1M72 74h1M165 74h1M64 77h1M69 77h1M69 79h1M177 79h1M65 80h5M66 81h2M99 88h4M113 88h2M90 89h2M118 89h3M80 90h1M124 90h14M77 91h1M142 91h1M32 92h3M47 92h1M75 92h1M144 92h1M163 92h14M25 93h6M50 93h1M148 93h1M150 93h1M153 93h5M160 93h3M173 93h6M22 94h5M52 94h1M178 94h2M21 95h2M55 95h17M179 95h2M20 96h1M180 96h1M19 97h1M181 97h1M18 98h1M182 98h1M17 99h1M182 99h1M17 100h1M183 100h1M17 101h1M183 101h2M17 102h1M183 102h2M17 103h1M184 103h1M16 104h2M184 104h1M16 105h2M184 105h1"/>
<path stroke="#fecc68" d="M7 5h1M8 6h1M9 7h1M111 7h6M201 7h1M120 8h1M110 9h1M121 9h1M11 10h1M100 10h1M97 11h1M196 11h1M12 12h1M194 12h2M86 13h2M92 13h2M192 13h1M191 14h1M15 15h1M82 15h1M190 15h1M16 16h1M100 16h1M106 16h1M189 16h1M30 17h1M20 18h1M186 18h1M76 19h1M98 19h1M104 19h1M184 19h1M103 20h1M181 20h2M72 21h1M180 21h1M180 22h2M40 23h1M71 23h1M181 23h2M182 24h1M99 25h2M117 25h1M181 25h2M98 26h1M171 26h3M175 26h7M98 27h1M106 27h1M114 27h1M169 27h6M98 28h1M170 28h3M103 29h1M167 29h1M170 29h3M38 30h1M99 30h1M119 30h1M167 30h1M170 30h3M60 31h1M167 31h6M98 32h1M112 32h1M116 32h1M118 32h1M120 32h1M168 32h7M97 33h2M168 33h10M54 34h1M57 34h1M97 34h1M168 34h12M42 35h1M52 35h3M95 35h3M168 35h13M52 36h4M58 36h1M95 36h3M168 36h14M9 37h15M43 37h1M50 37h7M94 37h4M169 37h15M193 37h12M23 38h21M49 38h7M58 38h3M94 38h4M169 38h26M25 39h19M50 39h2M55 39h8M93 39h5M168 39h24M28 40h16M50 40h1M55 40h7M64 40h1M93 40h5M169 40h19M36 41h9M54 41h7M64 41h28M93 41h5M170 41h15M37 42h10M56 42h4M93 42h6M170 42h14M38 43h12M56 43h3M93 43h6M170 43h13M37 44h15M56 44h2M94 44h5M169 44h14M37 45h17M56 45h2M94 45h6M169 45h14M36 46h3M46 46h11M95 46h6M168 46h15M35 47h1M48 47h9M96 47h10M168 47h15M25 48h9M49 48h9M96 48h7M104 48h8M159 48h24M17 49h5M50 49h9M97 49h4M107 49h7M131 49h12M147 49h2M154 49h2M166 49h18M11 50h2M51 50h8M96 50h5M111 50h5M168 50h16M9 51h2M52 51h8M72 51h2M95 51h6M116 51h2M168 51h17M8 52h2M53 52h4M61 52h4M67 52h8M83 52h4M98 52h4M118 52h1M168 52h1M173 52h13M7 53h3M53 53h4M69 53h20M101 53h6M119 53h1M175 53h1M179 53h1M4 54h5M54 54h3M70 54h18M119 54h2M167 54h1M170 54h1M174 54h1M0 55h2M53 55h4M71 55h16M108 55h1M120 55h2M124 55h1M143 55h9M170 55h1M177 55h1M186 55h1M53 56h4M71 56h16M120 56h3M136 56h4M184 56h2M53 57h5M70 57h4M82 57h4M119 57h4M124 57h2M131 57h2M179 57h2M184 57h1M52 58h6M70 58h2M83 58h3M110 58h10M124 58h7M51 59h7M69 59h2M82 59h4M127 59h3M50 60h9M69 60h1M82 60h5M49 61h10M67 61h2M81 61h7M49 62h10M65 62h2M81 62h8M63 63h3M88 63h4M63 64h1M92 64h2M95 65h4M130 65h7M79 66h1M101 66h2M129 66h10M104 67h6M124 67h2M128 67h1M135 67h8M190 67h15M121 68h1M127 68h1M145 68h15M162 68h2M186 68h2M164 74h1M64 76h1M71 76h1M65 77h4M65 78h4M65 79h4M103 88h4M110 88h3M92 89h5M116 89h2M81 90h9M123 90h1M137 91h5M35 92h2M46 92h1M143 92h1M31 93h2M49 93h1M74 93h1M147 93h1M149 93h1M158 93h2M163 93h10M27 94h3M51 94h1M73 94h1M170 94h8M23 95h5M53 95h2M72 95h1M172 95h7M21 96h6M173 96h7M20 97h6M174 97h7M19 98h6M175 98h7M18 99h7M175 99h7M18 100h6M176 100h7M18 101h6M177 101h6M18 102h5M177 102h6M18 103h5M178 103h6M18 104h4M178 104h6M18 105h5M178 105h6"/>
<path stroke="#fec35e" d="M6 3h1M203 6h2M117 7h2M200 7h1M10 8h1M121 8h1M199 8h1M101 9h1M122 9h1M198 9h1M99 10h1M197 10h1M96 11h1M119 11h1M193 12h1M13 13h1M88 13h4M14 14h1M39 15h1M40 16h1M81 16h1M18 17h1M100 17h1M107 17h1M187 17h1M21 18h1M27 18h1M79 18h1M183 19h1M180 20h1M71 21h1M102 21h1M179 21h1M76 22h1M179 22h1M179 23h2M68 24h1M118 24h1M180 24h2M66 25h1M101 25h1M107 25h1M109 25h1M170 25h3M176 25h5M65 26h1M99 26h2M169 26h2M174 26h1M99 27h2M112 27h1M38 28h1M99 28h2M109 28h2M114 28h1M165 28h2M169 28h1M38 29h1M117 29h1M166 29h1M101 30h1M166 30h1M168 30h2M99 31h2M108 31h1M166 31h1M99 32h2M167 32h1M56 33h1M58 33h1M99 33h2M167 33h1M40 34h1M53 34h1M58 34h1M98 34h3M167 34h1M50 35h2M58 35h1M98 35h3M167 35h1M50 36h2M98 36h3M167 36h1M0 37h9M41 37h2M98 37h3M167 37h2M12 38h11M56 38h2M98 38h3M166 38h3M195 38h10M22 39h3M98 39h3M166 39h2M192 39h3M24 40h4M44 40h1M54 40h1M62 40h2M98 40h3M166 40h3M188 40h5M25 41h11M45 41h1M61 41h3M98 41h3M166 41h4M185 41h6M27 42h10M47 42h1M54 42h2M60 42h33M99 42h2M166 42h4M184 42h4M34 43h4M50 43h1M54 43h2M59 43h7M92 43h1M99 43h3M166 43h4M183 43h4M35 44h2M52 44h4M58 44h4M93 44h1M99 44h3M166 44h3M183 44h3M35 45h2M54 45h2M58 45h3M100 45h4M166 45h3M183 45h2M34 46h2M57 46h3M94 46h1M101 46h11M166 46h2M183 46h2M32 47h3M57 47h2M95 47h1M106 47h7M163 47h5M183 47h2M22 48h3M58 48h1M95 48h1M112 48h3M157 48h2M183 48h3M14 49h3M59 49h1M71 49h2M93 49h4M114 49h2M130 49h1M149 49h5M184 49h3M10 50h1M59 50h1M70 50h4M75 50h21M116 50h2M184 50h6M8 51h1M60 51h2M68 51h4M74 51h21M118 51h1M185 51h10M7 52h1M65 52h2M75 52h8M87 52h11M119 52h1M126 52h1M171 52h2M186 52h19M4 53h3M89 53h12M120 53h1M125 53h1M168 53h1M171 53h4M180 53h25M0 54h4M88 54h7M101 54h7M121 54h2M124 54h1M168 54h1M173 54h1M175 54h1M182 54h23M87 55h4M122 55h2M152 55h5M159 55h1M162 55h2M166 55h1M184 55h2M187 55h1M87 56h3M123 56h1M140 56h2M186 56h1M74 57h8M86 57h3M109 57h1M123 57h1M133 57h5M164 57h1M72 58h11M86 58h3M120 58h4M131 58h2M71 59h6M78 59h4M86 59h3M110 59h17M130 59h2M70 60h1M81 60h1M87 60h2M126 60h5M69 61h1M88 61h2M128 61h4M67 62h2M89 62h2M128 62h6M66 63h1M92 63h1M128 63h9M64 64h2M94 64h1M128 64h11M99 65h3M128 65h2M137 65h3M103 66h6M124 66h2M128 66h1M139 66h3M122 67h2M127 67h1M143 67h4M187 67h3M160 68h2M185 68h1M110 69h1M185 69h1M75 70h1M111 71h1M64 73h1M64 74h1M71 74h1M64 75h4M70 75h2M65 76h6M176 79h1M107 88h3M97 89h4M115 89h1M90 90h2M121 90h2M78 91h1M125 91h12M37 92h9M76 92h1M141 92h2M33 93h1M48 93h1M145 93h2M30 94h2M50 94h1M163 94h7M28 95h2M52 95h1M169 95h3M27 96h2M55 96h8M64 96h9M171 96h2M26 97h2M172 97h2M25 98h2M173 98h2M25 99h1M174 99h1M24 100h2M174 100h2M24 101h1M127 101h10M175 101h2M23 102h2M126 102h17M146 102h9M175 102h2M23 103h1M141 103h10M176 103h2M22 104h2M144 104h4M176 104h2M23 105h1M140 105h8M176 105h2"/>
<path stroke="#feb953" d="M6 1h1M6 2h1M7 4h1M8 5h1M9 6h1M105 6h2M201 6h2M103 7h1M119 7h1M102 8h1M11 9h1M123 9h1M118 10h1M121 10h1M196 10h1M195 11h1M191 13h1M190 14h1M34 15h1M189 15h1M17 16h1M188 16h1M80 17h1M22 18h3M78 18h1M185 18h1M181 19h2M179 20h1M70 21h1M178 21h1M101 22h1M178 22h1M178 23h1M117 24h1M171 24h2M175 24h5M175 25h1M101 26h1M122 26h1M38 27h1M101 27h1M168 27h1M101 28h1M164 28h1M62 29h1M104 29h2M118 29h1M120 29h1M168 29h2M165 30h1M101 31h1M101 32h1M115 32h1M55 33h1M57 33h1M101 33h1M52 34h1M101 34h1M101 35h1M101 36h1M49 37h1M101 37h1M166 37h1M6 38h6M101 38h1M165 38h1M14 39h8M49 39h1M52 39h1M54 39h1M101 39h1M165 39h1M195 39h6M22 40h2M51 40h1M101 40h1M165 40h1M193 40h2M23 41h2M53 41h1M101 41h1M165 41h1M191 41h2M24 42h3M48 42h1M53 42h1M101 42h1M165 42h1M188 42h3M26 43h8M53 43h1M66 43h3M74 43h18M102 43h1M165 43h1M187 43h2M33 44h2M62 44h4M102 44h4M165 44h1M186 44h1M33 45h2M63 45h1M104 45h9M165 45h1M185 45h2M32 46h2M112 46h2M164 46h2M185 46h2M24 47h8M59 47h1M94 47h1M113 47h2M159 47h4M185 47h2M20 48h2M59 48h1M91 48h4M115 48h1M130 48h2M141 48h5M156 48h1M186 48h2M12 49h2M60 49h1M69 49h2M73 49h20M116 49h2M129 49h1M187 49h3M9 50h1M60 50h2M68 50h2M74 50h1M118 50h1M190 50h4M7 51h1M62 51h6M119 51h1M127 51h1M195 51h10M5 52h2M120 52h1M0 53h4M121 53h3M95 54h6M123 54h1M171 54h2M91 55h4M105 55h3M157 55h2M164 55h2M168 55h1M174 55h3M188 55h17M90 56h2M142 56h2M161 56h1M177 56h2M187 56h1M89 57h2M138 57h2M165 57h1M89 58h1M133 58h3M77 59h1M89 59h1M132 59h2M71 60h10M89 60h2M110 60h16M131 60h2M70 61h1M90 61h1M125 61h3M132 61h4M69 62h1M91 62h2M127 62h1M134 62h4M67 63h2M93 63h1M127 63h1M137 63h2M66 64h1M80 64h1M95 64h4M127 64h1M139 64h1M64 65h2M102 65h3M124 65h4M140 65h2M64 66h1M109 66h1M122 66h2M126 66h2M142 66h2M187 66h18M126 67h1M147 67h9M185 67h2M76 68h1M74 72h1M73 73h1M116 73h1M65 74h6M68 75h2M175 75h1M101 89h2M113 89h2M92 90h5M119 90h2M79 91h2M86 91h5M124 91h1M77 92h1M127 92h14M34 93h2M47 93h1M144 93h1M32 94h2M49 94h1M30 95h2M50 95h2M167 95h2M29 96h1M53 96h2M63 96h1M170 96h1M28 97h1M171 97h1M27 98h1M172 98h1M26 99h1M173 99h1M26 100h1M126 100h12M150 100h5M173 100h1M25 101h1M125 101h2M137 101h19M174 101h1M124 102h2M143 102h3M155 102h2M24 103h1M125 103h16M151 103h5M175 103h1M24 104h1M141 104h3M148 104h1M175 104h1M24 105h1M139 105h1M148 105h1"/>
<path stroke="#feae4a" d="M6 0h1M104 6h1M107 6h1M200 6h1M10 7h1M120 7h1M199 7h1M11 8h1M122 8h1M198 8h1M114 9h1M197 9h1M98 10h1M12 11h1M194 11h1M95 12h1M192 12h1M16 15h1M19 17h1M186 17h1M25 18h2M75 18h3M101 18h1M184 18h1M75 19h1M101 19h2M180 19h1M75 20h1M178 20h1M70 22h1M102 22h1M177 22h1M70 23h1M102 23h1M120 23h1M171 23h1M176 23h2M69 24h1M102 24h1M127 24h1M174 24h1M102 25h1M127 25h1M169 25h1M173 25h1M102 26h1M117 26h1M121 26h1M128 26h1M164 27h3M113 28h1M167 28h2M106 29h1M102 30h1M102 31h1M58 32h1M102 32h1M110 32h1M166 32h1M102 33h1M166 33h1M41 34h1M51 34h1M102 34h1M121 34h1M166 34h1M41 35h1M102 35h1M121 35h1M166 35h1M102 36h1M166 36h1M102 37h1M0 38h6M44 38h1M102 38h1M10 39h4M44 39h1M102 39h1M164 39h1M201 39h4M19 40h3M102 40h1M164 40h1M195 40h2M22 41h1M102 41h1M164 41h1M193 41h2M23 42h1M49 42h1M52 42h1M102 42h2M164 42h1M191 42h2M24 43h2M51 43h2M69 43h5M103 43h4M164 43h1M189 43h2M25 44h8M66 44h2M75 44h18M106 44h7M164 44h1M187 44h2M26 45h7M61 45h2M64 45h2M92 45h2M113 45h1M163 45h2M187 45h1M25 46h7M60 46h2M92 46h2M114 46h1M162 46h2M187 46h1M23 47h1M60 47h1M79 47h15M115 47h2M158 47h1M187 47h1M15 48h5M60 48h2M69 48h1M75 48h16M116 48h2M132 48h9M146 48h1M148 48h1M154 48h2M188 48h2M10 49h2M61 49h1M68 49h1M118 49h1M190 49h2M8 50h1M62 50h6M119 50h1M128 50h1M194 50h11M6 51h1M120 51h1M0 52h5M121 52h3M124 53h1M95 55h10M167 55h1M171 55h3M92 56h2M107 56h2M144 56h2M162 56h1M175 56h2M188 56h17M91 57h1M140 57h1M163 57h1M178 57h1M185 57h20M90 58h1M109 58h1M136 58h3M181 58h1M184 58h2M90 59h1M134 59h3M91 60h1M133 60h4M71 61h10M91 61h2M110 61h15M136 61h2M70 62h1M93 62h1M124 62h3M138 62h1M69 63h1M94 63h2M124 63h3M139 63h1M67 64h2M99 64h4M123 64h4M140 64h1M66 65h2M105 65h4M122 65h2M142 65h1M187 65h18M65 66h2M144 66h3M186 66h1M64 67h2M77 67h1M156 67h8M64 68h1M110 68h1M64 69h1M64 70h1M74 70h1M64 71h1M73 71h2M184 71h1M64 72h1M72 72h2M65 73h8M112 73h4M103 89h3M111 89h2M97 90h2M117 90h2M81 91h5M91 91h4M123 91h1M125 92h2M36 93h1M46 93h1M75 93h2M138 93h6M34 94h1M48 94h1M151 94h1M32 95h1M73 95h1M166 95h1M30 96h1M51 96h2M169 96h1M29 97h1M59 97h3M169 97h2M28 98h1M171 98h1M27 99h1M125 99h13M150 99h6M172 99h1M124 100h2M138 100h4M147 100h3M155 100h2M26 101h1M123 101h2M156 101h1M173 101h1M25 102h1M123 102h1M157 102h1M174 102h1M25 103h1M124 103h1M139 104h2M149 104h1M137 105h2M175 105h1"/>
<path stroke="#fea546" d="M7 3h1M8 4h1M9 5h1M202 5h3M109 6h2M121 7h1M100 9h1M111 9h1M124 9h1M97 10h1M108 10h1M122 10h1M195 10h1M95 11h1M117 11h1M193 11h1M13 12h1M86 12h6M118 12h1M14 13h1M105 13h1M15 14h1M81 15h1M188 15h1M18 16h1M107 16h1M187 16h1M20 17h1M185 17h1M107 18h1M182 18h2M179 19h1M177 21h1M73 22h1M171 22h1M176 22h1M103 23h1M172 23h4M103 24h1M108 24h1M119 24h1M126 24h1M103 25h1M122 25h1M174 25h1M168 26h1M110 27h1M128 27h1M167 27h1M165 29h1M61 30h1M103 30h1M58 31h2M103 31h1M165 31h1M57 32h1M103 32h1M164 32h2M40 33h1M103 33h1M164 33h2M103 34h1M120 34h1M122 34h1M164 34h2M103 35h1M120 35h1M164 35h2M41 36h1M43 36h1M49 36h1M103 36h1M121 36h1M165 36h1M103 37h1M165 37h1M103 38h1M164 38h1M7 39h3M53 39h1M103 39h1M163 39h1M12 40h7M45 40h1M49 40h1M52 40h2M103 40h1M163 40h1M197 40h8M20 41h2M46 41h1M52 41h1M103 41h2M163 41h1M195 41h1M22 42h1M51 42h1M104 42h6M163 42h1M193 42h1M23 43h1M107 43h6M163 43h1M191 43h1M24 44h1M68 44h2M72 44h3M113 44h1M163 44h1M189 44h1M24 45h2M66 45h2M74 45h18M114 45h1M188 45h1M23 46h2M62 46h1M75 46h17M115 46h2M159 46h3M188 46h1M21 47h2M61 47h2M68 47h1M74 47h5M117 47h1M157 47h1M188 47h2M13 48h2M62 48h1M67 48h2M70 48h5M118 48h2M149 48h5M190 48h1M9 49h1M62 49h6M119 49h2M192 49h3M6 50h2M120 50h2M4 51h2M121 51h3M124 52h2M94 56h3M103 56h4M146 56h10M160 56h1M163 56h1M168 56h2M172 56h3M92 57h2M107 57h2M141 57h1M175 57h3M91 58h2M139 58h1M178 58h3M182 58h2M186 58h19M91 59h1M109 59h1M137 59h2M92 60h1M109 60h1M137 60h2M93 61h1M109 61h1M138 61h2M71 62h10M94 62h1M109 62h15M139 62h1M70 63h2M80 63h1M96 63h4M123 63h1M140 63h1M69 64h2M103 64h6M122 64h1M141 64h2M187 64h18M68 65h2M109 65h1M121 65h1M143 65h2M186 65h1M67 66h2M121 66h1M147 66h3M185 66h1M66 67h1M110 67h1M121 67h1M65 68h2M75 68h1M120 68h1M65 69h1M73 69h3M65 70h1M72 70h2M65 71h2M70 71h3M118 71h1M65 72h7M112 72h6M164 73h1M176 76h1M179 76h1M106 89h5M99 90h2M115 90h2M95 91h3M122 91h1M78 92h1M86 92h8M124 92h1M37 93h3M43 93h3M126 93h12M35 94h1M47 94h1M74 94h3M150 94h1M152 94h11M33 95h1M49 95h1M152 95h6M31 96h2M50 96h1M30 97h2M55 97h4M62 97h1M71 97h1M127 97h8M152 97h4M168 97h1M29 98h1M124 98h14M150 98h7M169 98h2M28 99h1M123 99h2M138 99h3M148 99h2M156 99h2M171 99h1M27 100h1M122 100h2M142 100h5M157 100h1M172 100h1M27 101h1M122 101h1M26 102h1M122 102h1M173 102h1M123 103h1M156 103h1M174 103h1M25 104h1M137 104h2M174 104h1M25 105h1M136 105h1M149 105h1"/>
<path stroke="#fd9c42" d="M7 1h1M7 2h1M200 5h2M10 6h1M108 6h1M111 6h6M199 6h1M11 7h1M102 7h1M122 7h1M198 7h1M101 8h1M197 8h1M12 9h1M113 9h1M125 9h1M196 9h1M12 10h1M96 10h1M120 10h1M94 11h1M116 11h1M192 11h1M112 12h1M191 12h1M190 13h1M83 14h1M189 14h1M80 16h1M21 17h1M29 17h1M79 17h1M184 17h1M108 18h1M181 18h1M178 19h1M69 21h1M103 21h1M176 21h1M103 22h1M173 22h3M67 24h1M106 24h1M170 24h1M173 24h1M116 25h1M128 25h1M118 26h1M127 26h1M165 26h3M163 27h1M116 28h1M128 28h2M162 28h2M107 29h1M119 29h1M162 29h3M58 30h3M104 30h2M107 30h1M162 30h3M57 31h1M104 31h4M162 31h3M56 32h1M104 32h3M113 32h2M121 32h1M162 32h2M54 33h1M104 33h3M111 33h2M118 33h6M162 33h2M42 34h1M104 34h3M119 34h1M123 34h1M162 34h2M104 35h3M122 35h2M162 35h2M104 36h3M122 36h2M162 36h3M44 37h1M104 37h3M121 37h3M163 37h2M104 38h4M122 38h1M163 38h1M0 39h7M104 39h5M161 39h2M10 40h2M104 40h7M161 40h1M13 41h7M50 41h2M105 41h7M162 41h1M196 41h9M20 42h2M50 42h1M110 42h3M162 42h1M194 42h1M22 43h1M113 43h1M192 43h1M22 44h2M70 44h2M114 44h1M190 44h2M23 45h1M68 45h2M72 45h2M115 45h2M162 45h1M189 45h2M22 46h1M63 46h6M73 46h2M117 46h2M158 46h1M189 46h1M17 47h4M63 47h5M69 47h1M72 47h2M118 47h3M130 47h15M155 47h2M190 47h1M12 48h1M63 48h4M120 48h1M129 48h1M191 48h2M8 49h1M121 49h1M128 49h1M195 49h10M5 50h1M122 50h3M126 50h2M0 51h4M124 51h3M97 56h6M156 56h3M164 56h4M170 56h2M94 57h1M105 57h2M142 57h2M162 57h1M166 57h2M174 57h1M93 58h1M107 58h2M140 58h1M175 58h3M92 59h1M139 59h1M179 59h26M93 60h1M139 60h1M184 60h21M94 61h1M186 61h19M95 62h2M108 62h1M140 62h1M186 62h19M72 63h8M100 63h23M141 63h1M185 63h20M71 64h9M109 64h13M143 64h1M185 64h2M70 65h10M110 65h11M145 65h2M185 65h1M69 66h10M110 66h1M118 66h3M150 66h6M67 67h10M120 67h1M67 68h8M66 69h7M111 69h9M66 70h6M111 70h9M67 71h3M112 71h6M164 72h1M183 72h1M165 73h1M168 73h1M177 76h1M101 90h2M114 90h1M98 91h1M120 91h2M79 92h2M84 92h2M94 92h3M123 92h1M40 93h3M77 93h1M86 93h9M125 93h1M36 94h1M46 94h1M88 94h4M127 94h11M148 94h2M34 95h1M48 95h1M74 95h3M126 95h11M150 95h2M158 95h8M33 96h1M49 96h1M73 96h2M124 96h14M150 96h19M32 97h1M51 97h4M69 97h2M72 97h2M122 97h5M135 97h4M149 97h3M156 97h9M166 97h2M30 98h2M121 98h3M138 98h2M148 98h2M157 98h4M168 98h1M29 99h3M119 99h4M141 99h7M158 99h3M169 99h2M28 100h3M119 100h3M158 100h1M171 100h1M28 101h2M119 101h3M172 101h1M27 102h2M118 102h4M26 103h3M122 103h1M173 103h1M26 104h2M124 104h13M150 104h3M26 105h2M122 105h14M150 105h3M174 105h1"/>
<path stroke="#fd923e" d="M7 0h1M8 3h1M9 4h1M202 4h3M10 5h1M199 5h1M103 6h1M117 6h3M198 6h1M197 7h1M12 8h1M196 8h1M99 9h1M112 9h1M195 9h1M95 10h1M117 10h1M123 10h1M194 10h1M13 11h1M91 11h2M118 11h1M14 12h1M94 12h1M111 12h1M15 13h1M84 13h1M16 14h1M17 15h1M187 15h1M19 16h1M31 16h1M186 16h1M22 17h2M25 17h1M75 17h4M183 17h1M179 18h2M104 20h1M176 20h2M104 21h1M172 21h4M104 22h1M172 22h1M104 23h1M104 24h1M158 25h11M109 26h2M157 26h8M63 27h1M129 27h1M158 27h5M158 28h4M58 29h4M158 29h4M57 30h1M106 30h1M121 30h1M159 30h3M56 31h1M121 31h1M159 31h3M40 32h1M55 32h1M107 32h3M122 32h2M159 32h3M41 33h2M107 33h4M113 33h5M124 33h1M158 33h4M43 34h2M107 34h12M124 34h2M158 34h4M43 35h3M49 35h1M107 35h7M118 35h2M124 35h2M158 35h4M44 36h2M107 36h7M119 36h2M124 36h2M158 36h4M45 37h1M107 37h6M120 37h1M124 37h2M158 37h5M45 38h2M108 38h5M121 38h1M123 38h3M160 38h3M45 39h2M109 39h4M121 39h5M7 40h3M46 40h3M111 40h2M121 40h6M162 40h1M11 41h2M47 41h3M112 41h2M121 41h6M161 41h1M15 42h5M113 42h2M121 42h5M195 42h2M20 43h2M114 43h2M120 43h3M125 43h1M162 43h1M193 43h2M21 44h1M115 44h3M119 44h3M128 44h1M192 44h1M21 45h2M70 45h2M117 45h5M127 45h4M158 45h2M161 45h1M191 45h1M20 46h2M69 46h4M119 46h3M129 46h3M157 46h1M190 46h2M15 47h2M70 47h2M121 47h2M129 47h1M145 47h2M148 47h1M154 47h1M191 47h1M10 48h2M121 48h3M127 48h2M193 48h2M7 49h1M122 49h6M4 50h1M125 50h1M159 56h1M95 57h10M144 57h2M168 57h3M172 57h2M94 58h1M106 58h1M141 58h1M174 58h1M93 59h2M107 59h2M140 59h1M175 59h4M94 60h1M107 60h2M140 60h1M182 60h2M95 61h1M106 61h3M140 61h1M182 61h4M97 62h11M141 62h1M183 62h3M142 63h1M183 63h2M144 64h1M184 64h1M147 65h2M184 65h1M111 66h7M156 66h8M111 67h9M111 68h9M166 73h1M182 73h1M181 74h1M178 76h1M103 90h2M112 90h2M99 91h2M118 91h2M81 92h3M97 92h2M78 93h1M84 93h2M95 93h2M124 93h1M37 94h1M45 94h1M77 94h1M85 94h3M92 94h4M124 94h3M138 94h2M147 94h1M35 95h1M47 95h1M85 95h9M116 95h3M122 95h4M137 95h2M148 95h2M34 96h1M48 96h1M75 96h3M85 96h8M108 96h16M138 96h1M148 96h2M33 97h1M50 97h1M65 97h4M74 97h4M84 97h9M108 97h14M139 97h1M148 97h1M165 97h1M32 98h2M73 98h3M83 98h10M107 98h14M140 98h2M146 98h2M161 98h3M167 98h1M32 99h2M74 99h1M83 99h9M107 99h12M161 99h1M168 99h1M31 100h2M75 100h1M82 100h7M106 100h13M169 100h2M30 101h3M75 101h13M105 101h14M157 101h1M171 101h1M29 102h4M75 102h13M105 102h13M158 102h1M172 102h1M29 103h4M75 103h13M106 103h16M157 103h1M172 103h1M28 104h4M60 104h29M109 104h8M123 104h1M153 104h4M173 104h1M28 105h4M61 105h28M109 105h13M153 105h4"/>
<path stroke="#fd8439" d="M8 1h1M8 2h1M200 4h2M105 5h1M198 5h1M11 6h1M120 6h1M12 7h1M123 7h2M125 8h1M98 9h1M194 9h1M93 10h2M193 10h1M88 11h3M93 11h1M191 11h1M92 12h2M190 12h1M110 13h2M189 13h1M110 14h1M188 14h1M18 15h1M33 15h1M186 15h1M20 16h1M28 16h2M185 16h1M24 17h1M26 17h1M106 17h1M182 17h1M106 18h1M109 18h1M178 18h1M105 19h1M171 19h1M74 20h1M105 20h1M171 20h5M105 21h1M171 21h1M68 22h1M105 22h1M67 23h3M105 23h1M127 23h1M158 23h13M66 24h1M105 24h1M150 24h20M39 25h1M65 25h1M111 25h1M126 25h1M149 25h9M64 26h1M112 26h1M116 26h1M120 26h1M148 26h9M113 27h1M116 27h1M148 27h10M58 28h5M148 28h4M156 28h2M57 29h1M157 29h1M39 30h1M56 30h1M157 30h2M40 31h1M55 31h1M122 31h2M157 31h2M41 32h4M54 32h1M124 32h2M157 32h2M43 33h3M53 33h1M125 33h2M157 33h1M45 34h2M50 34h1M126 34h1M157 34h1M46 35h1M114 35h4M126 35h1M156 35h2M46 36h2M114 36h2M118 36h1M126 36h1M155 36h3M46 37h2M113 37h2M119 37h1M126 37h1M155 37h3M47 38h2M113 38h2M119 38h2M126 38h2M155 38h5M47 39h2M113 39h2M119 39h2M126 39h2M158 39h3M0 40h7M113 40h2M119 40h2M127 40h2M160 40h1M9 41h2M114 41h1M119 41h2M127 41h4M12 42h3M115 42h1M119 42h2M126 42h5M197 42h8M15 43h5M116 43h4M123 43h2M126 43h4M195 43h1M18 44h3M118 44h1M122 44h6M129 44h1M161 44h2M193 44h1M19 45h2M122 45h2M126 45h1M160 45h1M192 45h1M16 46h4M122 46h2M127 46h2M132 46h12M156 46h1M192 46h1M13 47h2M123 47h6M149 47h5M192 47h2M8 48h2M124 48h3M195 48h10M5 49h2M0 50h4M146 57h6M161 57h1M171 57h1M95 58h11M142 58h2M167 58h3M173 58h1M95 59h1M104 59h3M141 59h1M174 59h1M95 60h2M104 60h3M141 60h1M178 60h3M96 61h10M141 61h1M142 62h1M143 63h2M145 64h2M183 64h1M149 65h3M184 66h1M184 70h1M164 71h1M183 71h1M165 72h1M171 72h1M182 72h1M167 73h1M175 74h1M177 74h4M176 75h5M105 90h7M101 91h1M115 91h3M99 92h1M122 92h1M79 93h5M97 93h2M123 93h1M38 94h7M78 94h1M83 94h2M96 94h2M122 94h2M140 94h1M144 94h3M36 95h1M46 95h1M77 95h1M83 95h2M94 95h2M119 95h3M139 95h2M146 95h2M35 96h1M47 96h1M82 96h3M93 96h2M106 96h2M139 96h2M147 96h1M34 97h2M49 97h1M63 97h2M78 97h1M82 97h2M93 97h2M106 97h2M140 97h2M146 97h2M34 98h1M61 98h3M71 98h2M76 98h2M81 98h2M93 98h1M106 98h1M142 98h4M164 98h3M34 99h1M72 99h2M75 99h2M80 99h3M92 99h1M105 99h2M167 99h1M33 100h1M73 100h2M76 100h6M89 100h1M104 100h2M159 100h1M33 101h1M73 101h2M88 101h1M103 101h2M170 101h1M33 102h1M73 102h2M88 102h1M103 102h2M171 102h1M33 103h1M73 103h2M88 103h1M104 103h2M32 104h1M89 104h1M108 104h1M117 104h2M122 104h1M157 104h1M32 105h1M60 105h1M89 105h1M108 105h1M157 105h1M173 105h1"/>
<path stroke="#fd7435" d="M8 0h1M9 2h1M9 3h1M200 3h5M10 4h1M198 4h2M11 5h1M104 5h1M12 6h1M102 6h1M121 6h1M197 6h1M101 7h1M196 7h1M13 8h1M100 8h1M124 8h1M195 8h1M13 9h1M97 9h1M126 9h1M13 10h1M92 10h1M111 10h3M192 10h1M14 11h1M87 11h1M190 11h1M15 12h1M85 12h1M117 12h1M119 12h1M189 12h1M16 13h1M188 13h1M17 14h1M111 14h1M187 14h1M19 15h1M80 15h1M107 15h1M185 15h1M21 16h1M27 16h1M30 16h1M79 16h1M110 16h1M183 16h2M27 17h2M74 17h1M108 17h3M180 17h2M170 18h2M170 19h1M172 19h4M106 20h1M170 20h1M75 21h1M106 21h1M170 21h1M67 22h1M69 22h1M74 22h1M106 22h1M154 22h17M65 23h2M106 23h1M128 23h1M150 23h8M64 24h2M107 24h1M128 24h1M149 24h1M63 25h2M148 25h1M61 26h3M113 26h3M119 26h1M147 26h1M58 27h5M146 27h2M39 28h1M57 28h1M117 28h2M146 28h2M152 28h4M39 29h1M56 29h1M121 29h1M147 29h6M155 29h2M40 30h2M55 30h1M122 30h2M156 30h1M41 31h5M54 31h1M124 31h2M156 31h1M45 32h2M53 32h1M126 32h2M156 32h1M46 33h2M52 33h1M127 33h1M156 33h1M47 34h1M127 34h1M155 34h2M47 35h2M127 35h1M155 35h1M48 36h1M116 36h2M127 36h1M154 36h1M48 37h1M115 37h4M127 37h2M153 37h2M115 38h4M128 38h1M153 38h2M115 39h4M128 39h2M154 39h4M115 40h4M129 40h2M157 40h3M7 41h2M115 41h4M131 41h1M160 41h1M10 42h2M116 42h3M131 42h1M160 42h2M13 43h2M130 43h1M160 43h2M196 43h3M15 44h3M130 44h2M158 44h3M194 44h1M15 45h4M124 45h2M131 45h3M156 45h2M193 45h1M14 46h2M124 46h3M144 46h1M147 46h1M154 46h2M193 46h1M11 47h2M147 47h1M194 47h2M7 48h1M147 48h1M4 49h1M152 57h5M144 58h1M166 58h1M170 58h3M96 59h8M142 59h1M173 59h1M97 60h7M142 60h1M181 60h1M142 61h1M178 61h3M143 62h1M145 63h1M147 64h1M152 65h4M163 65h3M164 66h1M184 67h1M184 69h1M164 70h1M182 70h2M182 71h1M166 72h2M181 72h1M173 73h9M176 74h1M102 91h2M114 91h1M100 92h1M120 92h2M99 93h1M79 94h4M98 94h1M121 94h1M141 94h3M37 95h2M44 95h2M78 95h1M81 95h2M96 95h2M115 95h1M141 95h5M36 96h1M46 96h1M78 96h1M80 96h2M95 96h2M105 96h1M141 96h6M48 97h1M80 97h2M95 97h1M105 97h1M142 97h4M35 98h1M59 98h2M64 98h7M78 98h3M104 98h2M35 99h1M70 99h2M77 99h3M103 99h2M34 100h1M71 100h2M90 100h2M102 100h2M168 100h1M34 101h1M72 101h1M89 101h1M102 101h1M158 101h1M169 101h1M34 102h1M72 102h1M89 102h1M102 102h1M159 102h1M170 102h1M71 103h2M89 103h2M102 103h2M158 103h1M171 103h1M33 104h1M59 104h1M90 104h2M106 104h2M119 104h3M158 104h1M172 104h1M33 105h1M90 105h2M106 105h2M158 105h1"/>
<path stroke="#fc6430" d="M9 0h1M9 1h1M203 1h2M10 2h1M199 2h6M10 3h1M198 3h2M11 4h1M197 4h1M12 5h1M103 5h1M106 5h1M197 5h1M122 6h1M124 6h2M196 6h1M13 7h1M125 7h1M195 7h1M123 8h1M126 8h1M194 8h1M96 9h1M192 9h2M14 10h1M90 10h2M109 10h2M114 10h3M124 10h1M190 10h2M15 11h1M108 11h1M110 11h4M189 11h1M16 12h1M107 12h1M188 12h1M17 13h1M187 13h1M18 14h1M37 14h1M186 14h1M20 15h1M106 15h1M110 15h2M184 15h1M22 16h2M26 16h1M74 16h5M111 16h1M182 16h1M168 17h5M179 17h1M41 18h1M74 18h1M110 18h1M167 18h3M172 18h3M64 19h1M106 19h2M168 19h2M73 20h1M107 20h1M169 20h1M65 21h4M74 21h1M107 21h1M154 21h16M64 22h3M107 22h2M150 22h4M63 23h2M107 23h3M149 23h1M40 24h1M62 24h2M110 24h1M121 24h1M147 24h2M60 25h3M108 25h1M112 25h3M146 25h2M39 26h2M58 26h3M129 26h1M145 26h2M39 27h2M57 27h1M117 27h2M144 27h2M40 28h2M56 28h1M119 28h1M144 28h2M40 29h4M54 29h2M122 29h1M145 29h2M153 29h2M42 30h4M53 30h2M124 30h3M147 30h9M46 31h1M53 31h1M126 31h3M154 31h2M47 32h1M52 32h1M128 32h1M155 32h1M48 33h4M128 33h1M154 33h2M48 34h2M128 34h1M154 34h1M128 35h1M153 35h2M128 36h2M153 36h1M129 37h1M152 37h1M129 38h1M130 39h1M153 39h1M131 40h1M154 40h3M0 41h7M132 41h1M157 41h3M8 42h2M158 42h2M11 43h2M131 43h2M158 43h2M199 43h6M13 44h2M132 44h3M157 44h1M195 44h2M14 45h1M134 45h10M155 45h1M194 45h1M13 46h1M146 46h1M148 46h1M153 46h1M194 46h1M9 47h2M196 47h4M6 48h1M0 49h4M157 57h4M145 58h2M165 58h1M143 59h1M172 59h1M143 60h1M173 60h2M143 61h1M144 62h1M178 62h2M182 62h1M146 63h1M148 64h2M156 65h7M183 68h2M164 69h1M181 69h3M181 70h1M165 71h1M179 71h3M168 72h3M172 72h9M104 91h2M112 91h2M101 92h2M118 92h2M100 93h1M122 93h1M99 94h1M120 94h1M39 95h5M79 95h2M98 95h2M114 95h1M37 96h1M45 96h1M79 96h1M97 96h2M104 96h1M36 97h1M47 97h1M79 97h1M96 97h1M102 97h3M36 98h1M56 98h3M94 98h1M101 98h3M58 99h12M101 99h2M166 99h1M35 100h1M61 100h10M92 100h1M101 100h1M160 100h1M167 100h1M35 101h1M69 101h3M90 101h2M100 101h2M159 101h1M168 101h1M70 102h2M90 102h2M100 102h2M169 102h1M34 103h1M60 103h11M91 103h1M100 103h2M159 103h1M170 103h1M58 104h1M92 104h3M105 104h1M159 104h1M171 104h1M59 105h1M92 105h2M105 105h1M159 105h1M172 105h1"/>
<path stroke="#fc552c" d="M10 0h2M197 0h8M10 1h2M197 1h6M11 2h1M197 2h2M11 3h1M197 3h1M12 4h1M196 4h1M13 5h1M110 5h2M116 5h1M195 5h2M13 6h1M123 6h1M195 6h1M14 7h1M83 7h2M194 7h1M14 8h1M82 8h6M99 8h1M192 8h2M14 9h1M82 9h14M127 9h1M190 9h2M15 10h1M83 10h7M188 10h2M16 11h1M83 11h4M109 11h1M114 11h2M120 11h1M187 11h2M17 12h1M83 12h2M108 12h3M113 12h2M186 12h2M18 13h1M38 13h2M82 13h2M106 13h4M112 13h1M159 13h3M185 13h2M19 14h2M35 14h2M38 14h3M80 14h3M105 14h5M112 14h1M159 14h4M184 14h2M21 15h1M28 15h1M40 15h2M71 15h1M74 15h1M79 15h1M105 15h1M108 15h2M112 15h2M160 15h3M172 15h1M183 15h1M24 16h2M41 16h2M69 16h5M108 16h2M112 16h1M160 16h4M166 16h7M181 16h1M41 17h2M63 17h11M111 17h1M159 17h9M173 17h1M178 17h1M42 18h2M63 18h11M111 18h1M159 18h8M41 19h3M63 19h1M65 19h10M108 19h4M157 19h11M176 19h1M41 20h3M63 20h10M108 20h4M153 20h16M41 21h3M63 21h2M108 21h4M150 21h4M41 22h3M62 22h2M75 22h1M109 22h4M149 22h1M41 23h3M61 23h2M110 23h4M117 23h1M147 23h2M41 24h3M60 24h2M111 24h4M116 24h1M146 24h1M40 25h5M58 25h2M115 25h1M144 25h2M41 26h4M57 26h1M123 26h1M143 26h2M41 27h4M56 27h1M119 27h1M127 27h1M142 27h2M42 28h4M54 28h2M120 28h2M127 28h1M130 28h1M142 28h2M44 29h2M53 29h1M123 29h7M143 29h2M46 30h1M52 30h1M127 30h4M145 30h2M47 31h2M51 31h2M129 31h3M148 31h6M48 32h4M129 32h3M153 32h2M129 33h3M153 33h1M129 34h2M153 34h1M129 35h1M152 35h1M151 36h2M130 37h1M151 37h1M130 38h1M138 38h2M150 38h3M131 39h1M137 39h5M146 39h3M132 40h1M136 40h12M133 41h15M155 41h2M6 42h2M132 42h15M156 42h2M9 43h2M133 43h13M157 43h1M11 44h2M135 44h12M156 44h1M197 44h8M12 45h2M144 45h4M154 45h1M195 45h2M10 46h3M145 46h1M149 46h4M195 46h3M8 47h1M200 47h5M5 48h1M147 58h7M163 58h2M144 59h2M167 59h5M144 60h1M172 60h1M177 60h1M144 61h2M181 61h1M145 62h2M180 62h1M147 63h1M182 63h1M150 64h5M164 64h4M182 64h1M183 65h1M182 66h2M164 67h1M181 67h3M164 68h1M180 68h3M179 69h2M165 70h1M178 70h3M166 71h3M173 71h6M106 91h6M103 92h1M114 92h4M101 93h1M121 93h1M100 94h1M119 94h1M100 95h1M113 95h1M38 96h2M44 96h1M99 96h5M37 97h1M46 97h1M97 97h5M37 98h1M48 98h2M53 98h3M95 98h6M36 99h1M56 99h2M93 99h8M165 99h1M36 100h1M57 100h4M93 100h8M166 100h1M58 101h11M92 101h8M35 102h1M59 102h11M92 102h8M58 103h2M92 103h8M34 104h1M57 104h1M95 104h10M58 105h1M94 105h11"/>
<path stroke="#f84528" d="M12 0h1M83 0h1M195 0h2M12 1h1M83 1h1M195 1h2M12 2h2M83 2h1M195 2h2M12 3h2M83 3h1M195 3h2M13 4h1M82 4h4M104 4h3M195 4h1M14 5h1M81 5h6M102 5h1M112 5h4M117 5h4M194 5h1M14 6h1M80 6h11M101 6h1M126 6h1M193 6h2M15 7h1M81 7h2M85 7h8M100 7h1M126 7h1M192 7h2M15 8h1M81 8h1M88 8h6M98 8h1M127 8h1M189 8h3M15 9h2M81 9h1M188 9h2M16 10h2M36 10h5M81 10h2M125 10h1M155 10h9M187 10h1M17 11h2M35 11h7M81 11h2M153 11h11M186 11h1M18 12h2M35 12h8M81 12h2M115 12h2M153 12h11M185 12h1M19 13h2M34 13h4M40 13h3M70 13h2M81 13h1M113 13h3M155 13h4M162 13h3M184 13h1M21 14h1M33 14h2M41 14h3M62 14h2M68 14h6M113 14h2M156 14h3M163 14h3M172 14h1M183 14h1M22 15h2M27 15h1M29 15h1M31 15h2M42 15h3M60 15h11M72 15h2M75 15h2M78 15h1M114 15h1M157 15h3M163 15h9M181 15h2M43 16h3M60 16h9M113 16h1M157 16h3M164 16h2M173 16h1M178 16h3M43 17h3M62 17h1M112 17h2M157 17h2M174 17h1M177 17h1M44 18h2M62 18h1M112 18h2M156 18h3M175 18h1M177 18h1M44 19h2M62 19h1M112 19h2M152 19h5M177 19h1M44 20h2M61 20h2M112 20h2M149 20h4M44 21h2M61 21h2M112 21h2M148 21h2M44 22h2M60 22h2M113 22h2M147 22h2M44 23h2M59 23h2M114 23h2M145 23h2M44 24h2M58 24h2M115 24h1M142 24h4M45 25h2M57 25h1M141 25h3M45 26h2M55 26h2M140 26h3M45 27h2M54 27h2M120 27h2M139 27h3M46 28h1M53 28h1M122 28h5M131 28h5M138 28h4M46 29h2M52 29h1M130 29h8M141 29h2M47 30h2M51 30h1M131 30h6M143 30h2M49 31h2M132 31h4M145 31h3M132 32h3M149 32h4M132 33h3M151 33h2M131 34h3M151 34h2M130 35h2M151 35h1M130 36h1M149 36h2M131 37h2M135 37h4M144 37h7M131 38h2M135 38h3M140 38h10M132 39h2M135 39h2M142 39h4M149 39h1M133 40h3M148 40h1M154 41h1M0 42h6M7 43h2M146 43h1M155 43h2M9 44h2M147 44h1M154 44h2M9 45h3M148 45h1M152 45h2M197 45h8M8 46h2M198 46h7M6 47h2M2 48h3M154 58h5M160 58h3M146 59h2M165 59h2M145 60h2M167 60h5M175 60h2M146 61h1M173 61h1M147 62h1M181 62h1M148 63h3M179 63h1M181 63h1M155 64h2M161 64h3M181 64h1M166 65h1M181 65h2M180 66h2M179 67h2M178 68h2M177 69h2M166 70h1M172 70h6M169 71h4M104 92h1M112 92h2M102 93h2M117 93h4M101 94h2M118 94h1M101 95h1M111 95h2M40 96h4M38 97h2M44 97h2M38 98h1M46 98h2M50 98h3M37 99h1M54 99h2M162 99h3M37 100h1M56 100h1M161 100h1M165 100h1M36 101h1M56 101h2M160 101h1M167 101h1M36 102h1M57 102h2M160 102h1M168 102h1M35 103h1M56 103h2M160 103h1M169 103h1M160 104h1M170 104h1M34 105h1M160 105h1M171 105h1"/>
<path stroke="#f13824" d="M13 0h2M81 0h2M84 0h2M194 0h1M13 1h2M81 1h2M84 1h2M194 1h1M14 2h1M81 2h2M84 2h2M194 2h1M14 3h1M80 3h3M84 3h2M194 3h1M14 4h2M80 4h2M86 4h3M103 4h1M193 4h2M15 5h1M79 5h2M87 5h5M121 5h1M192 5h2M15 6h1M78 6h2M91 6h3M191 6h2M16 7h1M79 7h2M93 7h1M188 7h4M16 8h1M80 8h1M97 8h1M187 8h2M17 9h1M38 9h3M128 9h1M154 9h10M186 9h2M18 10h1M35 10h1M41 10h2M151 10h4M164 10h1M185 10h2M19 11h1M33 11h2M42 11h2M69 11h4M80 11h1M121 11h2M150 11h3M164 11h2M184 11h2M20 12h1M31 12h4M43 12h2M68 12h6M80 12h1M120 12h1M150 12h3M164 12h2M183 12h2M21 13h1M30 13h4M43 13h2M63 13h2M66 13h4M72 13h2M80 13h1M116 13h2M150 13h5M165 13h2M182 13h2M22 14h1M28 14h2M31 14h2M44 14h2M61 14h1M64 14h4M74 14h2M79 14h1M115 14h2M151 14h5M166 14h2M181 14h2M24 15h3M30 15h1M45 15h2M77 15h1M115 15h1M154 15h3M173 15h1M179 15h2M46 16h1M114 16h1M155 16h2M177 16h1M46 17h1M61 17h1M114 17h1M154 17h3M46 18h1M61 18h1M114 18h1M150 18h6M46 19h1M60 19h2M114 19h1M149 19h3M46 20h1M60 20h1M114 20h1M148 20h1M46 21h1M59 21h2M114 21h2M147 21h1M46 22h1M59 22h1M115 22h1M144 22h3M46 23h1M58 23h1M116 23h1M118 23h1M126 23h1M141 23h4M46 24h2M56 24h2M140 24h2M47 25h1M55 25h2M139 25h2M47 26h1M54 26h1M126 26h1M138 26h2M47 27h1M53 27h1M122 27h5M130 27h9M47 28h2M51 28h2M136 28h2M48 29h4M138 29h3M49 30h2M137 30h6M136 31h2M144 31h1M135 32h2M145 32h4M135 33h2M147 33h4M134 34h2M148 34h3M132 35h4M146 35h5M131 36h7M144 36h5M133 37h2M139 37h5M133 38h2M134 39h1M148 41h1M147 42h1M154 42h2M3 43h4M147 43h1M154 43h1M7 44h2M148 44h1M152 44h2M7 45h2M149 45h3M7 46h1M5 47h1M0 48h2M159 58h1M148 59h7M163 59h2M147 60h2M165 60h2M147 61h2M166 61h7M177 61h1M148 62h2M166 62h4M177 62h1M151 63h4M163 63h7M178 63h1M180 63h1M157 64h4M168 64h1M179 64h2M179 65h2M178 66h2M177 67h2M176 68h2M165 69h1M172 69h5M167 70h5M105 92h2M110 92h2M104 93h1M113 93h4M103 94h1M117 94h1M102 95h2M110 95h1M40 97h4M39 98h1M44 98h2M38 99h1M49 99h5M38 100h1M49 100h2M53 100h3M162 100h3M37 101h1M55 101h1M161 101h2M165 101h2M53 102h4M161 102h1M167 102h1M36 103h1M55 103h1M161 103h1M168 103h1M35 104h1M55 104h2M161 104h1M169 104h1M35 105h1M57 105h1M161 105h1M170 105h1"/>
<path stroke="#eb2b21" d="M15 0h1M79 0h2M86 0h2M192 0h2M15 1h1M79 1h2M86 1h2M192 1h2M15 2h2M79 2h2M86 2h2M192 2h2M15 3h2M78 3h2M86 3h3M104 3h2M191 3h3M16 4h1M78 4h2M89 4h4M107 4h1M191 4h2M16 5h1M77 5h2M92 5h2M109 5h1M122 5h1M189 5h3M16 6h2M76 6h2M94 6h1M100 6h1M187 6h4M17 7h1M76 7h3M94 7h1M99 7h1M127 7h1M186 7h2M17 8h2M77 8h3M94 8h3M128 8h1M185 8h2M18 9h2M36 9h2M41 9h1M69 9h4M80 9h1M151 9h3M164 9h1M184 9h2M19 10h2M33 10h2M43 10h2M68 10h7M126 10h2M149 10h2M165 10h2M183 10h2M20 11h2M32 11h1M44 11h2M66 11h3M73 11h2M123 11h2M148 11h2M166 11h2M182 11h2M21 12h2M30 12h1M45 12h2M65 12h3M74 12h1M121 12h2M148 12h2M166 12h2M181 12h2M22 13h2M29 13h1M45 13h3M62 13h1M65 13h1M74 13h2M118 13h3M148 13h2M167 13h3M181 13h1M23 14h5M30 14h1M46 14h2M60 14h1M76 14h3M117 14h2M148 14h3M168 14h4M173 14h1M179 14h2M47 15h2M116 15h1M148 15h6M176 15h3M47 16h2M59 16h1M115 16h1M149 16h6M174 16h1M176 16h1M47 17h1M60 17h1M115 17h1M148 17h6M175 17h1M47 18h1M59 18h2M115 18h1M147 18h3M176 18h1M47 19h1M59 19h1M115 19h1M146 19h3M47 20h1M59 20h1M115 20h1M145 20h3M47 21h1M58 21h1M116 21h1M142 21h5M47 22h1M57 22h2M116 22h2M140 22h4M47 23h1M56 23h2M139 23h2M48 24h1M55 24h1M138 24h2M48 25h1M54 25h1M136 25h3M48 26h2M52 26h2M124 26h2M130 26h8M48 27h5M49 28h2M138 31h6M137 32h2M144 32h1M137 33h1M145 33h2M136 34h2M145 34h3M136 35h3M143 35h3M138 36h6M150 39h1M152 39h1M149 40h1M153 40h1M148 42h1M152 42h2M0 43h3M148 43h6M4 44h3M149 44h3M6 45h1M5 46h2M1 47h4M155 59h8M149 60h6M163 60h2M149 61h4M163 61h3M174 61h3M150 62h5M163 62h3M170 62h2M176 62h1M155 63h3M161 63h2M177 63h1M177 64h2M167 65h1M176 65h3M176 66h2M174 67h3M165 68h1M171 68h5M166 69h6M107 92h3M105 93h1M111 93h2M104 94h1M112 94h5M104 95h1M108 95h2M40 98h4M39 99h2M47 99h2M39 100h1M48 100h1M51 100h2M38 101h1M49 101h6M163 101h2M37 102h2M51 102h2M162 102h5M37 103h1M53 103h2M162 103h2M166 103h2M36 104h1M53 104h2M162 104h2M167 104h2M36 105h1M54 105h3M162 105h2M168 105h2"/>
<path stroke="#e51e1d" d="M16 0h20M55 0h24M88 0h2M168 0h24M16 1h20M55 1h24M88 1h2M167 1h25M17 2h7M27 2h9M55 2h24M88 2h2M167 2h25M17 3h7M28 3h8M56 3h22M89 3h3M103 3h1M106 3h1M166 3h25M17 4h7M29 4h7M56 4h22M93 4h1M102 4h1M108 4h4M165 4h26M17 5h7M30 5h6M56 5h21M94 5h1M101 5h1M108 5h1M123 5h2M165 5h24M18 6h6M31 6h5M56 6h20M164 6h23M18 7h6M31 7h5M56 7h20M98 7h1M128 7h1M155 7h3M163 7h23M19 8h5M32 8h5M54 8h23M129 8h1M156 8h29M20 9h4M32 9h4M42 9h1M55 9h14M73 9h7M129 9h1M149 9h2M165 9h19M21 10h3M31 10h2M45 10h23M75 10h3M79 10h2M128 10h2M147 10h2M167 10h16M22 11h3M31 11h1M46 11h20M75 11h2M125 11h4M146 11h2M168 11h14M23 12h3M29 12h1M47 12h18M75 12h2M123 12h3M145 12h3M168 12h13M24 13h5M48 13h14M76 13h4M121 13h2M143 13h5M170 13h11M48 14h12M119 14h1M143 14h5M174 14h5M49 15h4M54 15h6M117 15h2M143 15h5M174 15h2M49 16h2M56 16h3M116 16h2M143 16h6M175 16h1M48 17h2M57 17h3M116 17h1M143 17h5M176 17h1M48 18h1M57 18h2M116 18h1M142 18h5M48 19h1M57 19h2M116 19h1M141 19h5M48 20h1M57 20h2M116 20h2M140 20h5M48 21h1M57 21h1M117 21h1M139 21h3M48 22h1M56 22h1M118 22h1M138 22h2M48 23h1M55 23h1M119 23h1M121 23h1M137 23h2M49 24h2M53 24h2M134 24h4M49 25h5M123 25h3M129 25h7M50 26h2M139 32h5M138 33h3M143 33h2M138 34h3M142 34h3M139 35h4M151 39h1M150 40h3M149 41h5M149 42h3M0 44h4M3 45h3M2 46h3M0 47h1M155 60h8M153 61h4M161 61h2M155 62h3M160 62h3M172 62h4M158 63h3M170 63h7M169 64h1M171 64h6M171 65h5M165 66h1M171 66h5M165 67h1M170 67h4M166 68h5M106 93h5M105 94h2M110 94h2M105 95h3M41 99h4M46 99h1M40 100h4M46 100h2M39 101h3M48 101h1M39 102h2M49 102h2M38 103h3M49 103h4M164 103h2M37 104h4M51 104h2M164 104h3M37 105h3M51 105h3M164 105h4"/>
<path stroke="#db141e" d="M36 0h3M53 0h2M90 0h2M166 0h2M36 1h3M53 1h2M90 1h2M165 1h2M24 2h3M36 2h3M53 2h2M90 2h2M103 2h3M165 2h2M24 3h4M36 3h3M53 3h3M92 3h2M102 3h1M107 3h1M164 3h2M24 4h5M36 4h3M53 4h3M94 4h1M112 4h11M163 4h2M24 5h6M36 5h3M54 5h2M100 5h1M107 5h1M125 5h1M162 5h3M24 6h7M36 6h3M54 6h2M99 6h1M127 6h1M161 6h3M24 7h3M28 7h3M36 7h3M54 7h2M95 7h3M158 7h5M24 8h3M29 8h3M37 8h2M53 8h1M130 8h1M149 8h4M155 8h1M24 9h3M30 9h2M43 9h1M54 9h1M130 9h1M147 9h2M24 10h3M30 10h1M78 10h1M130 10h2M133 10h1M144 10h3M25 11h2M30 11h1M77 11h3M129 11h17M26 12h3M77 12h3M126 12h19M123 13h4M138 13h5M120 14h3M139 14h4M53 15h1M119 15h1M140 15h3M51 16h5M118 16h1M140 16h3M50 17h7M117 17h2M140 17h3M49 18h2M55 18h2M117 18h2M139 18h3M49 19h1M56 19h1M117 19h2M138 19h3M49 20h1M56 20h1M118 20h1M137 20h3M49 21h1M55 21h2M118 21h1M136 21h3M49 22h1M54 22h2M119 22h1M135 22h3M49 23h6M122 23h1M133 23h4M51 24h2M122 24h4M129 24h5M141 33h2M141 34h1M0 45h3M0 46h2M157 61h4M158 62h2M170 64h1M169 65h2M169 66h2M166 67h4M107 94h3M45 99h1M44 100h2M42 101h6M41 102h3M47 102h2M41 103h2M48 103h1M41 104h2M49 104h2M40 105h3M49 105h2"/>
<path stroke="#d10e21" d="M39 0h1M52 0h1M92 0h2M104 0h2M165 0h1M39 1h1M52 1h1M92 1h1M103 1h3M164 1h1M39 2h1M52 2h1M92 2h1M106 2h1M164 2h1M39 3h1M52 3h1M94 3h1M108 3h2M163 3h1M39 4h1M52 4h1M95 4h1M101 4h1M123 4h1M162 4h1M39 5h1M53 5h1M95 5h1M126 5h1M160 5h2M39 6h1M53 6h1M95 6h1M97 6h2M128 6h1M154 6h7M27 7h1M39 7h1M53 7h1M129 7h1M154 7h1M27 8h2M39 8h2M146 8h3M153 8h2M27 9h3M44 9h1M52 9h2M131 9h16M27 10h3M132 10h1M134 10h10M27 11h3M127 13h11M123 14h16M120 15h3M137 15h3M119 16h2M138 16h2M119 17h1M138 17h2M51 18h4M119 18h1M137 18h2M50 19h6M119 19h1M136 19h2M50 20h2M53 20h3M119 20h1M135 20h2M50 21h5M119 21h2M134 21h2M50 22h4M120 22h5M127 22h8M123 23h3M129 23h4M168 65h1M166 66h3M44 102h3M43 103h5M43 104h2M47 104h2M43 105h2M48 105h1"/>
<path stroke="#c80723" d="M40 0h1M50 0h2M94 0h1M103 0h1M106 0h1M164 0h1M40 1h2M50 1h2M93 1h2M102 1h1M106 1h1M163 1h1M40 2h2M50 2h2M93 2h2M102 2h1M107 2h1M162 2h2M40 3h2M51 3h1M95 3h1M101 3h1M110 3h2M160 3h3M40 4h2M51 4h1M96 4h1M100 4h1M124 4h1M157 4h5M40 5h2M52 5h1M98 5h2M127 5h1M155 5h5M40 6h2M52 6h1M96 6h1M129 6h1M40 7h2M52 7h1M130 7h1M135 7h2M141 7h3M153 7h1M41 8h1M52 8h1M131 8h15M45 9h1M51 9h1M123 15h14M121 16h17M120 17h3M134 17h4M120 18h2M134 18h3M120 19h2M134 19h2M52 20h1M120 20h3M132 20h3M121 21h13M125 22h2M45 104h2M45 105h3"/>
<path stroke="#be0126" d="M41 0h9M95 0h1M102 0h1M107 0h1M155 0h9M42 1h8M95 1h1M101 1h1M107 1h1M155 1h8M42 2h8M95 2h1M101 2h1M108 2h2M155 2h7M42 3h9M96 3h1M100 3h1M112 3h11M154 3h6M42 4h3M49 4h2M97 4h3M125 4h2M154 4h3M42 5h3M50 5h2M96 5h2M128 5h1M153 5h2M42 6h3M51 6h1M130 6h1M139 6h2M152 6h2M42 7h3M51 7h1M131 7h2M137 7h4M144 7h1M151 7h2M42 8h3M46 9h1M50 9h1M123 17h11M122 18h12M122 19h12M123 20h9"/>
<path stroke="#ae0026" d="M96 0h1M101 0h1M153 0h2M96 1h1M100 1h1M108 1h1M153 1h2M96 2h2M100 2h1M110 2h3M116 2h3M153 2h2M97 3h3M123 3h2M153 3h1M45 4h4M127 4h2M152 4h2M45 5h5M129 5h2M152 5h1M45 6h6M131 6h2M138 6h1M141 6h2M151 6h1M45 7h3M50 7h1M133 7h2M145 7h1M149 7h2M45 8h2M51 8h1M47 9h3"/>
<path stroke="#9f0026" d="M97 0h4M108 0h2M152 0h1M97 1h3M109 1h3M152 1h1M98 2h2M113 2h3M119 2h6M152 2h1M125 3h4M151 3h2M129 4h2M136 4h2M151 4h1M131 5h3M137 5h1M150 5h2M133 6h5M143 6h1M146 6h5M48 7h2M146 7h3M47 8h4"/>
<path stroke="#8f0026" d="M110 0h14M150 0h2M112 1h16M150 1h2M125 2h6M149 2h3M129 3h5M149 3h2M131 4h5M138 4h1M145 4h6M134 5h3M138 5h3M142 5h8M144 6h2"/>
<path stroke="#800026" d="M124 0h26M128 1h22M131 2h18M134 3h15M139 4h6M141 5h1"/>
</g>
</g></g>
<path clip-path="url(#cl3)" d="M504.3 949.2 502 947.9 500.2 945.7 495.2 946.3 493.9 941 496.2 933.1 494.9 927.8 497.3 926.2 504.1 925.6 508.9 925.9 513.4 926.5 515.5 922.2 515.5 917.5 513.1 914.4 506.7 910.7 513.6 909.8 514.6 906.7 518.7 907.3 523.1 902.7 524.3 902.7 528.3 899.7 529.9 896.7 534.6 895.5 539 894 538 889.2 538.2 884.4 542.7 882.6 542.3 887.1 541.8 890.7 542.4 892.5 544.2 893.7 546.9 893.1 551.9 894 562.4 892.5 567.5 888.6 566.9 886.2 567.9 883.5 573.8 884.7 574 880.6 571.5 878.8 574.2 877.7 581.3 877.4 586 876.2 582.1 873.9 574.2 875.4 569.9 876.5 568.1 874.8 565.3 867 572.7 861.7 569.5 859.5 565.3 860 562.2 865.1 556.2 869 556.6 873.9 561 878 555.9 880.3 556.2 885.6 554.5 887.1 548.7 888.9 547.9 887.7 545.6 882.6 543.7 878.8 542.4 876.2 541 878.8 536.7 881.5 531.4 879.1 530.3 874.8 529.5 871.6 532 868.8 535.8 865.9 541.9 862.3 548.3 855.4 546.3 853.5 556.8 848.9 565.7 846.3 569.6 845.3 580.7 847.1 585.3 849.7 591.6 850.5 603 854 602.3 858.1 586 855.9 591.4 860.3 600 864.5 604.9 862.8 608.6 858.1 606.8 851.6 613.3 854 628.1 852.7 629.4 851.1 636.7 851.3 640.3 848.7 652.6 850.8 653.3 846.8 651.9 841.6 653 840.4 657.8 841.6 664.1 848.1 669.8 856.2 670.8 852.1 665.5 842.9 670.4 841.6 675.3 842.9 674.2 839.1 682.7 837.8 682.2 835.4 694.6 832.9 706.7 828.8 715.3 831.7 727.7 834.1 734.8 838.3 731.4 840.4 748.8 840.4 761 839.4 771.4 842.9 772.7 844 780.5 845.5 786.8 844.2 791.2 841.6 803.6 842.2 814.4 844.2 822.2 845.5 843.8 849.5 854.8 848.7 861.8 848.9 870.9 848.7 884.8 851.1 900 861.2 896.7 862.6 908.5 868.8 899.2 871.6 898 875.9 889.1 875.9 888.6 880.3 893.5 887.7 893.5 892.2 895 896.7 896 902.7 882.6 890.7 877.2 883.2 874 874.5 873.7 868.8 865.2 870.7 865.1 877.4 856.4 877.1 840 877.7 838.1 889.2 840.9 893.7 855.3 898.2 861.3 908.9 861.1 916.6 860 924.3 852.9 927.2 849.7 931.2 850.8 934.4 848.3 939.4 855.9 944.7 858.1 949.5 858.3 952.3 851.9 953.3 850.2 949.5 848.6 944.7 842.9 943.2 841.4 938.4 839.2 937.2 832.5 935.3 833.5 940.3 831 938.4 829 934.4 826.8 937.2 823.5 940 826.8 943.2 828.8 944.7 835 944.7 838 945.1 834.5 949.5 833.9 953.9 838.5 959 844.5 965 845.8 968.8 844.4 974.8 843.1 981.1 840.1 985.9 837 989.7 830.8 992.8 821 996.3 820.9 999.2 818.9 995.4 814.3 995.4 811.1 997.6 809.4 1004.2 817.5 1012.5 821.2 1019.7 821.7 1024.8 819.1 1028.9 816.5 1030.8 815 1033 810.4 1036.2 810.7 1031.8 808.3 1029.9 806.4 1029.9 802.9 1024.8 798.5 1022.6 797.2 1020.7 795.8 1023.5 794.5 1030.8 795 1034.3 799 1040.6 803.7 1044.1 807 1051.4 809.7 1058.7 808.9 1059.3 804.1 1056.4 801.5 1053.9 798.4 1046.3 797.5 1042.8 792.5 1038.4 792.9 1031.8 792.2 1024.2 790.6 1018.8 788 1011.2 783.7 1012.1 779.4 1012.8 778.1 1004.9 773.5 999.8 770.5 995.7 769.6 992.8 766.1 993.8 760.8 995 757.1 997.6 754.2 1000.7 748.1 1007.4 745.7 1010.9 742.8 1012.1 740.5 1015.9 741.3 1021.9 740.2 1025.7 740.8 1030.8 739.3 1034 736.3 1035.6 734.5 1037.8 730.8 1031.8 729.2 1027.6 726.1 1022.6 722.6 1014.7 718.7 1003.3 718.3 998.8 717.4 996.3 715.9 994.4 713.2 997.9 709.1 995 707.2 992.8 706.7 990.6 704.8 988.7 702.5 987.5 700.8 984.9 687.9 984 683.2 983.3 675.5 982.4 670.8 977.3 664.8 979.2 655.3 971.9 652.6 968.1 648.7 968.8 647.6 970.4 654.3 979.9 658.6 981.4 659 985.6 666.7 986.2 668.8 983.3 671.1 979.9 678.4 988.7 682 992.5 679 998.5 675.3 1003.9 667.8 1009.6 662.8 1013.1 654.5 1017.5 643.4 1022.9 639 1023.5 636.7 1016.6 635.8 1009.9 631.2 1001.7 625.9 995.4 622.3 987.1 619 982.7 615.1 977 612.6 970 611.1 975.1 606 968.8 610 977.3 613.7 984.3 615.6 989 620.7 1001.4 624.6 1006.4 627.7 1014 637 1022.3 638.3 1026.7 643.7 1030.5 653.3 1028 661 1026.1 661.5 1030.5 657.9 1039.7 653.9 1047.3 648.4 1054.5 645.1 1057.1 637.3 1064.7 632.8 1070.7 629.4 1076.4 628.1 1084.9 628.5 1091.9 631.1 1098.2 630.9 1104.5 631.2 1109.3 629 1114 620.2 1120 614.1 1126.1 615.1 1133 615.3 1139 607.8 1145.7 606.4 1153.6 601.7 1158 592.6 1167.8 586.2 1171 576.7 1171.6 571.3 1173.5 567.2 1171.3 566 1167.8 564.1 1158.3 563 1153.9 559.7 1147.6 558.1 1135.9 554.2 1126.7 551 1118.1 552 1111.5 555.7 1103.3 555.3 1091.2 552.8 1082.4 551.7 1078.6 545 1069.7 544.8 1062.1 545.9 1057.4 545.6 1050.7 541.7 1047.9 535.5 1049.8 528 1043.1 525.2 1043.5 521.8 1044.1 517.9 1046 515.2 1047.3 507.3 1046.6 497.6 1049.5 488.4 1043.5 481.7 1036.5 480.4 1033.3 475.2 1025.7 471.9 1020.7 470 1016.9 472.9 1012.8 474.4 1006.1 471.9 997.6 475.1 988.4 479.2 980.8 483.7 975.1 488.9 972.6 492.2 970 492.8 967.2 492.3 963.7 494 961.2 498.4 957.1 500.5 955.8 502.2 952 503.3 950.1 504.6 949.8 508 952 510.9 951.7 516.9 950.4 526.6 947 531.8 947 538.9 946.6 544.3 945.4 547.2 946 546.3 950.1 547 953.6 545.2 956.1 547.6 956.8 553.6 959.3 558.7 960.9 562.9 964.7 568.1 966.9 572.1 961.8 577 959.3 582.5 961.8 585.8 963.4 591.2 964 598.4 964.7 601.3 963.4 604.8 964.4 608.9 965 610.4 963.7 611.2 961.8 611.5 959.6 612.5 956.1 613.1 954.5 612.7 951.1 612.6 948.5 613.3 947.6 609 947 603.8 949.2 598.8 946.6 591.8 947.3 590.1 946.3 588.1 941.6 586.2 938.4 586.2 936.6 593 933.1 608 930.6 611.4 932.8 621 933.7 624.8 931.8 618.8 925.6 613.4 922.2 610 920.3 612.8 916.6 615.6 914.4 606.6 916.6 606.2 921.2 602.6 922.5 599.7 919.7 594.8 916.9 592.8 920.6 590.7 923.7 589.1 926.8 588.4 929 592.5 933.1 585.8 935.3 585 934.4 581.1 934 579.8 936.9 577.3 935 577.1 938.4 578.2 941.6 580.2 943.2 578.7 947.9 576.1 947.6 574.6 944.7 574.4 942.2 572 939.4 568.4 935.6 568.1 932.8 566.4 930 564.5 928.7 560 925.9 556.8 924 554.5 920.3 552.9 919.4 549.2 920 550.2 924 552.6 925.6 554.6 929 559.6 930.9 561.8 933.4 564.5 935 566.1 936.6 564.9 936.9 562.7 935.6 561.1 938.1 562.8 939.7 561.3 941.9 559.1 943.2 559.5 941 558.9 936.9 556.5 935 554.9 934.4 553.1 933.1 549.7 931.5 546.7 929.3 544.5 925.9 543.2 924 540.9 923.1 537.4 925 536.9 925.3 533.4 927.2 532.2 926.5 528.6 925.9 526.1 928.4 526.7 930.9 524.1 932.5 521.6 933.4 520.8 934.7 517.7 938.4 519 941 517.2 942.2 515.9 944.4 512 947 507 947.3ZM176.8 852.7 194.4 847.3 208.8 844.5 222.6 847.1 234.2 848.9 245.1 850 259.4 848.1 269 847.6 279.7 850.8 288.3 853.5 299.8 852.1 312.9 853.5 331.8 843.4 329.5 850.8 334.5 852.1 349.4 848.7 351 853.5 339.8 857.6 337.7 857.6 330.6 863.1 318.6 867.9 310.6 873 305.8 879.4 306.5 884.7 315.7 886.2 320.4 890.1 323.1 897 324.8 901.8 328.9 901.2 332.6 892.2 339.5 889.2 343 880.3 348.2 869.3 359.1 869.3 363.7 873 361.6 879.4 373.8 875.1 376.9 883.2 379 889.2 383.9 898.2 381.7 901.2 373.1 905.2 357.2 905.8 347.8 911.3 361.2 909.5 358.1 913.5 357.6 916.6 366.4 918.7 369.3 917.5 358.8 922.5 351.7 925 350.6 921.2 346.1 923.7 341.2 925.6 338.1 929.7 339.8 931.5 335.6 932.5 328.3 935.3 324.5 940.3 321.6 944.7 319.9 946.3 319.7 952 313.7 954.9 306.1 959.6 302.6 962.1 300.3 967.5 301.1 973.5 301 981.8 298.2 984 295.1 975.4 294.1 970 292.5 968.5 284.8 967.2 282.7 966.9 278.4 971.3 273.7 970.7 263.5 970.7 255.7 975.4 253.6 982.7 251 992.8 254.3 1002.6 258.5 1006.1 269.9 1000.7 271 996.9 272.8 996 278.9 995.4 280.7 996.3 276.8 1004.9 275.1 1009.6 275.2 1013.4 286.3 1013.1 288.2 1015.9 286.7 1023.8 287.5 1031.8 296.1 1033.7 303.2 1036.2 308.5 1030.5 320 1024.2 319.4 1029.2 329.4 1030.2 340.5 1029.9 348.8 1031.8 349.9 1036.5 359.5 1044.4 365 1044.7 372.5 1047.9 376.1 1050.7 378.7 1060.2 382.9 1066.6 395.6 1071.3 411 1075.1 420.3 1081.8 421.2 1088.7 411.7 1104.5 411 1118.8 407.9 1127.6 400.5 1136.2 392.3 1139.3 387 1147.3 383.2 1159.9 379.1 1167.8 370.3 1173.8 364.3 1172.9 369.9 1178.3 368.9 1183.6 357.3 1186.2 351.9 1193.1 357.1 1197.8 355.7 1205.6 350.3 1208.4 355.7 1213.3 352.9 1222.5 353 1225.9 355.3 1228.6 365.6 1236.1 362.6 1238.8 350.2 1233.1 340.4 1227.1 332.8 1214.9 332 1202.5 329.9 1196.2 326.4 1180.5 328.3 1167.8 325.5 1152 326.4 1138.1 325 1121.9 311.1 1112.4 304.4 1101.4 296.8 1085.6 291.5 1078 295 1071.3 293.5 1063.4 296.3 1060.2 302.3 1051.1 301.5 1041.2 301.3 1040.6 297.1 1035.2 294.4 1039.7 290 1037.1 280 1031.8 277 1023.8 275.8 1021.6 270.3 1020.7 264.9 1019.1 256 1012.8 242.7 1010.2 236.9 1006.8 228.5 998.8 229.7 997.9 230.1 995.4 228 990 224.7 984.3 219 975.1 216.1 970 212.3 962.8 214.8 970 215.3 978 218 986.8 218.3 990.9 213.7 984.9 210.6 975.4 209.4 970 207.5 962.8 206.9 959.9 205.1 956.1 200.3 954.2 199.4 947.6 199.5 943.8 198.7 935.6 202.9 927.5 210.3 917.2 212.6 910.7 209.7 903.3 212.5 893.7 212 886.2 208.9 880.9 204.9 877.4 197 875.9 192.8 873.6 177.3 878.3 187.5 872.5 169.9 880.3 151.6 887.7 139.2 890.7 133.2 891.9 147.5 886.2 163.7 879.7 153.6 879.7 153 874.5 160.1 867.9 174.8 863.1 165.4 863.1 163.7 860 180.1 856.5ZM387.8 827.7 404.8 822.6 417.4 820 434.9 819 452.6 817.3 469.3 816.8 482 818.3 498.2 820.6 487.2 823.7 483.8 830.5 483.7 835.4 476.6 841.6 473.6 846.8 465.4 852.1 452.7 853.5 439.4 859.8 429.6 867.3 421.4 875.9 412.4 873 407.8 864 406.7 857.6 414.6 851.3 409.7 846.8 411.4 841.6 409.2 834.1 391.9 831.7ZM366.1 838.6 372.4 841.6 378.7 846.8 382.3 850.8 389.3 856.7 382.2 860.3 376.5 867.3 372.9 870.2 363.2 867.9 354.7 864 362.2 860.3 367.6 854.8 361.8 848.1 347.7 848.1 342.9 844.2 357 839.1ZM284.3 845.5 290.5 840.9 307.1 839.1 316.7 839.1 320.8 841.6 316.8 846.8 305.1 850.8 287.5 852.1 280.1 849.5ZM272.2 843.2 284.3 837.3 295.8 837.3 295 840.4 283.8 844.2 272.9 844.2ZM363.5 822.6 386.3 817.7 411.1 817.7 415.2 819.6 396.9 823.7 384.9 827 371.3 831.7 354.8 831.7 357.3 827ZM345.4 835.4 370.9 832.2 366.9 836.6 344.1 836.6ZM333.7 861.7 344.7 864.5 336 867.9 329.8 865.9ZM303.3 831.7 323.8 832.9 320 835.4 297.7 835.8ZM320.2 840.4 332.8 838.3 329.3 842.9 319 843.4ZM335.7 838.3 345.7 837.8 341.3 841.6 334.2 842.9ZM348.6 824.8 368.2 821.6 365.7 825.9 353.3 828.1ZM327.2 831.7 340.1 831.7 335 835.4 324.7 835.4ZM295.1 831 312.1 829.3 299.1 833.4ZM372 913.2 376.8 908.9 379.7 903.6 385.2 900.9 383.8 905.8 389 908.9 388.6 913.2 385.8 916.3 381.1 915 377.9 913.5ZM467.8 860.3 472.5 857.8 485.1 857.6 488.9 860.3 486.4 863.7 478.6 866.2 470.1 865.1ZM504.7 905.5 510 904.3 521.9 902.1 522.5 897.9 519.2 895.5 518 893.1 515 889.2 513.9 886.2 514.4 882.9 509.4 882.4 511.7 880 507.2 880 505.3 883.2 505.6 886.8 507.1 890.7 511.5 891.3 511.4 895.5 507.6 895.8 509 898.8 506 900.6 511.3 901.8ZM504.2 899.7 504.4 893.7 505.6 891.9 501 889.8 498.6 892.2 495 893.7 495.2 896.7 493.8 900.3 498.1 900.9 503.5 899.1ZM538.1 827 546.3 823.7 565.2 823.2 558 828.1 547.9 831.7ZM621.1 844.2 622.8 836.6 632.6 831.7 644.4 830.5 632.2 836.6 629.7 845.5ZM685.2 823.7 689.3 821.6 702.4 824.8 694.8 827ZM774.4 835.4 781.8 832.9 800 834.9 793.3 840.4ZM604.6 822.6 621 821.6 625.8 823.2 605.6 824.1ZM152.2 851.1 155.9 854 161 856.2 162.3 858.7 156.5 860.9 148.4 863.7 144.7 861.7 141.4 860.3 137 861.2ZM851.9 892.8 857.8 896.7 867.9 907.3 873.4 918.1 870.5 916.6 863 905.8 855.8 898.2ZM875.4 930.6 872.2 920 886.5 926.2 883 930.6 878.9 932.2ZM878.7 932.2 885.3 938.4 885 942.5 888 949.5 886.9 952.6 883.9 953.6 880.2 955.2 878.5 957.4 874.8 953.9 868.8 955.2 864.8 955.2 865.1 952.6 868.1 950.7 875.4 949.5 876.5 946.3 879.1 943.8 879.2 936.9ZM862.6 956.1 867.9 957.4 869.1 964.4 866.8 965.3 862.7 959ZM870.4 959 874.4 955.2 874.7 958.3 872.1 959.9ZM846.2 990.6 848.8 983.3 850.7 985.9 849 993.8ZM817.1 1002.6 821.9 999.8 823.5 1001.4 820.4 1005.8ZM850.1 1012.8 850.5 1004.9 854.9 1004.9 855.4 1011.2 862.5 1022.3 852.8 1019.7ZM858.7 1041.2 867.8 1032.4 871.2 1039.7 868.7 1045 864.4 1042.8ZM862.7 1023.8 868.3 1028.6 865.8 1031.8 860.6 1030.2ZM823.1 1058.7 828.7 1057.1 835.5 1052.3 840.9 1046.6 844.8 1041.2 850.7 1046.9 848 1049.2 847.8 1060.2 844.1 1068.1 842.5 1075.7 838.3 1076.1 828.6 1072.9 825.9 1068.1ZM784.5 1045.7 792.2 1050.7 799.4 1057.1 807.8 1066.6 814.6 1072.9 813.7 1081.8 810.1 1081.8 800.7 1071.3 793.8 1058.7 786.6 1050.7ZM811.9 1084.9 815.7 1082.4 826.7 1084.9 832.2 1085.2 837.9 1088.1 837.4 1090.9 825 1089.3 815.4 1086.8ZM839 1089.3 850.1 1089.3 861.2 1089.3 861.1 1091.2 849.9 1091.6 838.8 1091.2ZM862.1 1096 872.3 1090 866.6 1091.9ZM850.6 1080.8 852.6 1063.4 856.1 1059.3 866.5 1058.7 868.4 1058.7 856.7 1061.8 862.3 1065.9 858.1 1069.1 861.9 1077.6 859 1080.8 856.6 1071.3 854.5 1080.8ZM874.8 1057.1 877.6 1058.7 876.3 1065 874.4 1061.8ZM876.1 1072.9 883.9 1072.9 881.6 1075.4 876 1075.4ZM884.7 1066.6 893.1 1065.9 901.4 1068.1 912.5 1071.6 924.8 1077.6 930 1084 935.7 1096.6 925.2 1090.3 918.1 1091.9 911.1 1092.5 903 1089.7 902.4 1079.2 892.7 1076.1 887.3 1071.3ZM933 1080.8 943 1076.7 941.3 1080.8 934.2 1083ZM741.2 1044.4 740.9 1032.4 746.5 1039.7 744.5 1044.4ZM655.4 1101.4 658.2 1112.4 654.4 1126.7 646.3 1142.5 638.3 1140.9 637.6 1131.4 641.4 1115.6 648.7 1109.3ZM829.1 1133 827.9 1145.7 826.6 1159.9 824.7 1169.4 822.4 1171.9 829.5 1174.2 845.4 1170.7 862.7 1163.7 870.4 1164.7 875.9 1173.5 883.7 1167.8 880.6 1174.8 883.8 1173.5 883.8 1178.9 884 1183.6 895.2 1184.6 897.1 1187.1 909.6 1182.1 918.7 1170.7 927.8 1161.5 933 1152.6 933.2 1148.8 930.4 1136.2 927.3 1128.3 920.4 1121.9 920.6 1114 916.2 1107.7 914.8 1097.3 911.1 1104.5 909.3 1115.6 903.1 1118.8 894.6 1112.4 898.4 1102 886.7 1099.8 881.6 1102.6 875.6 1110.2 869.1 1107.7 860.9 1115.6 855.2 1120.4 845.2 1126.7 838.1 1128.6ZM890 1192.1 898.8 1192.8 893.2 1200 887.3 1201.2 888.2 1196.8ZM974.7 1172.3 976.5 1177.3 977.4 1182.1 983.5 1182.7 975.7 1188.4 965.8 1194 969.2 1188.4 968.1 1187.4 974.5 1180.5ZM962.3 1191.5 963.1 1195.6 954.5 1201.8 946.9 1205.6 937.8 1210.5 933.1 1208.7 943.2 1202.5 956.2 1195.6ZM285.9 994.1 294.6 990 307.8 993.8 314.8 999.5 305.7 1000.4 298.2 994.4 291.4 993.8ZM313.4 1005.2 318.6 1000.4 326.2 1001.1 330.2 1004.9 321.4 1007.4 313.9 1005.8ZM302.9 1005.2 308.6 1006.4 306.3 1007.1ZM333.5 1004.9 337.9 1005.5 333.9 1006.4ZM550.7 942.9 559 942.2 558 947.3 551.1 944.4ZM539.5 933.7 543.6 933.4 543.3 939.7 540.2 940ZM540.3 927.8 542.6 927.5 542.5 932.5 541 931.8ZM580.3 950.7 587.7 951.7 583.1 953ZM603.6 952.3 609.4 950.4 608.2 953.9 604.3 953.6ZM90.3 999.5 93.1 1001.7 89.6 1003.6ZM371.4 1225.6 379.1 1225 378.8 1227.7 372.6 1227.1ZM231 1312.7 289.7 1312.8 266.3 1308.9 261.7 1306.6 252.5 1305.8 265.4 1304.4 258.3 1302.7 238.4 1302 227 1299.8 231.4 1296.8 246.7 1293.9 260.7 1290 283.9 1288.7 301.4 1289.2 313.1 1291.7 328.1 1292.2 317.9 1285.9 324.6 1283.9 331.9 1285.9 345.7 1286.4 364.4 1288.2 382.9 1286.4 372.3 1283.4 374.8 1277.6 378.2 1269.5 392.2 1260.6 385.4 1268.4 387.6 1274.1 400.4 1286.9 399.2 1290.5 378.3 1296.3 383 1299.8 381.7 1302 400.4 1305.6 421.4 1309.1 431.7 1306.6 427.2 1304.4 436.6 1299.8 442.3 1303.1 450 1306.6 454.8 1301.2 467.4 1303.1 477.7 1292.2 502.9 1282.3 540.7 1279.7 578.6 1277.1 629 1267.9 656.6 1273.3 651.7 1284.6 679.5 1273.3 729.9 1268.4 750.1 1269.2 757.6 1268.1 764.6 1271.4 776 1269.2 800.4 1268.7 804.1 1266.5 803.5 1270.6 820.8 1270.9 821.8 1273.6 833.4 1275.2 841.2 1280 854.9 1281.8 852.7 1284.4 817.7 1296.1 814.3 1300.7 792.8 1304.6 791.8 1308.5 800.4 1312 806.4 1312.5M636.6 922.8 641.4 916.6 649.8 915.6 651.3 921.2 647.6 923.4 653.1 930.6 655 936.9 659.3 944.7 651.9 947.3 646 943.2 645.8 935.9 639.2 929Z" fill="none" stroke="#000" stroke-width="1.05" stroke-linejoin="round"/>
<path d="M786.3 1318.6 793.7 1316.6 802 1314 811.1 1310.9 820.9 1307.2 831.1 1303.1 841.7 1298.7 852.2 1293.9 862.1 1289 871.4 1283.9 880.1 1278.7 888.5 1273.3 896.7 1267.9 904.8 1262.3 912.7 1256.6 920.4 1250.9 927.9 1245 935.1 1239.1 942.2 1233.1 948.9 1227.1 955.2 1221 961.2 1214.9 966.8 1208.7 972.1 1202.5 977.4 1196.2 982.2 1189.9 986.8 1183.6 990.9 1177.3 994.8 1171 998.3 1164.7 1001.6 1158.3 1004.5 1152 1007 1145.7 1009.2 1139.3 1011 1133 1012.7 1126.7 1014.4 1120.4 1016 1114 1017.3 1107.7 1018.5 1101.4 1019.4 1095 1020.1 1088.7 1020.8 1082.4 1021.2 1076.1 1021.5 1069.7 1021.7 1063.4 1021.5 1057.1 1021.2 1050.7 1020.8 1044.4 1020.1 1038.1 1019.4 1031.8 1018.5 1025.4 1017.3 1019.1 1016 1012.8 1014.4 1006.4 1012.7 1000.1 1011 993.8 1009.2 987.5 1007 981.1 1004.5 974.8 1001.6 968.5 998.3 962.1 994.8 955.8 990.9 949.5 986.8 943.2 982.2 936.9 977.4 930.6 972.1 924.3 966.8 918.1 961.2 911.9 955.2 905.8 948.9 899.7 942.2 893.7 935.1 887.7 927.9 881.8 920.4 875.9 912.7 870.2 904.8 864.5 896.7 858.9 888.5 853.5 880.1 848.1 871.4 842.9 862.1 837.8 852.2 832.9 841.7 828.1 831.1 823.7 820.9 819.6 811.1 815.9 802 812.8 793.7 810.2 786.3 808.2 250.7 808.2 243.3 810.2 235 812.8 225.9 815.9 216.1 819.6 205.9 823.7 195.3 828.1 184.8 832.9 174.9 837.8 165.6 842.9 156.9 848.1 148.5 853.5 140.3 858.9 132.2 864.5 124.3 870.2 116.6 875.9 109.1 881.8 101.9 887.7 94.8 893.7 88.1 899.7 81.8 905.8 75.8 911.9 70.2 918.1 64.9 924.3 59.6 930.6 54.8 936.9 50.2 943.2 46.1 949.5 42.2 955.8 38.7 962.1 35.4 968.5 32.5 974.8 30 981.1 27.8 987.5 26 993.8 24.3 1000.1 22.6 1006.4 21 1012.8 19.7 1019.1 18.5 1025.4 17.6 1031.8 16.9 1038.1 16.2 1044.4 15.8 1050.7 15.5 1057.1 15.3 1063.4 15.5 1069.7 15.8 1076.1 16.2 1082.4 16.9 1088.7 17.6 1095 18.5 1101.4 19.7 1107.7 21 1114 22.6 1120.4 24.3 1126.7 26 1133 27.8 1139.3 30 1145.7 32.5 1152 35.4 1158.3 38.7 1164.7 42.2 1171 46.1 1177.3 50.2 1183.6 54.8 1189.9 59.6 1196.2 64.9 1202.5 70.2 1208.7 75.8 1214.9 81.8 1221 88.1 1227.1 94.8 1233.1 101.9 1239.1 109.1 1245 116.6 1250.9 124.3 1256.6 132.2 1262.3 140.3 1267.9 148.5 1273.3 156.9 1278.7 165.6 1283.9 174.9 1289 184.8 1293.9 195.3 1298.7 205.9 1303.1 216.1 1307.2 225.9 1310.9 235 1314 243.3 1316.6 250.7 1318.6Z" fill="none" stroke="#000" stroke-width="1.7"/>
<text x="1559.7" y="36.9" font-family="Liberation Sans, sans-serif" font-weight="bold" font-size="29.5" text-anchor="middle" textLength="989" lengthAdjust="spacingAndGlyphs">TOA Net Longwave Radiation (Clear-Sky) — Variability (STD)</text>
<text x="518.5" y="120.8" font-family="Liberation Sans, sans-serif" font-size="25.6" text-anchor="middle" textLength="60" lengthAdjust="spacingAndGlyphs">ERA5</text>
<rect x="109.8" y="675.9" width="816.2" height="39.8" fill="url(#cb)" stroke="#000" stroke-width="1.67"/>
<path d="M226.9 715.7v7" stroke="#000" stroke-width="1.67"/>
<text x="226.9" y="747" font-family="Liberation Sans, sans-serif" font-size="21.9" text-anchor="middle">2</text>
<path d="M388.4 715.7v7" stroke="#000" stroke-width="1.67"/>
<text x="388.4" y="747" font-family="Liberation Sans, sans-serif" font-size="21.9" text-anchor="middle">3</text>
<path d="M550 715.7v7" stroke="#000" stroke-width="1.67"/>
<text x="550" y="747" font-family="Liberation Sans, sans-serif" font-size="21.9" text-anchor="middle">4</text>
<path d="M711.5 715.7v7" stroke="#000" stroke-width="1.67"/>
<text x="711.5" y="747" font-family="Liberation Sans, sans-serif" font-size="21.9" text-anchor="middle">5</text>
<path d="M873 715.7v7" stroke="#000" stroke-width="1.67"/>
<text x="873" y="747" font-family="Liberation Sans, sans-serif" font-size="21.9" text-anchor="middle">6</text>
<text x="518.5" y="775.8" font-family="Liberation Sans, sans-serif" font-size="21.9" text-anchor="middle" textLength="57" lengthAdjust="spacingAndGlyphs">W/m2</text>
<text x="1560.8" y="120.8" font-family="Liberation Sans, sans-serif" font-size="25.6" text-anchor="middle" textLength="112.5" lengthAdjust="spacingAndGlyphs">ifs-fesom</text>
<rect x="1152.1" y="675.9" width="816.2" height="39.8" fill="url(#cb)" stroke="#000" stroke-width="1.67"/>
<path d="M1269.2 715.7v7" stroke="#000" stroke-width="1.67"/>
<text x="1269.2" y="747" font-family="Liberation Sans, sans-serif" font-size="21.9" text-anchor="middle">2</text>
<path d="M1430.7 715.7v7" stroke="#000" stroke-width="1.67"/>
<text x="1430.7" y="747" font-family="Liberation Sans, sans-serif" font-size="21.9" text-anchor="middle">3</text>
<path d="M1592.2 715.7v7" stroke="#000" stroke-width="1.67"/>
<text x="1592.2" y="747" font-family="Liberation Sans, sans-serif" font-size="21.9" text-anchor="middle">4</text>
<path d="M1753.8 715.7v7" stroke="#000" stroke-width="1.67"/>
<text x="1753.8" y="747" font-family="Liberation Sans, sans-serif" font-size="21.9" text-anchor="middle">5</text>
<path d="M1915.3 715.7v7" stroke="#000" stroke-width="1.67"/>
<text x="1915.3" y="747" font-family="Liberation Sans, sans-serif" font-size="21.9" text-anchor="middle">6</text>
<text x="1560.8" y="775.8" font-family="Liberation Sans, sans-serif" font-size="21.9" text-anchor="middle" textLength="57" lengthAdjust="spacingAndGlyphs">W/m2</text>
<text x="2603.1" y="120.8" font-family="Liberation Sans, sans-serif" font-size="25.6" text-anchor="middle" textLength="107.5" lengthAdjust="spacingAndGlyphs">ifs-nemo</text>
<rect x="2194.4" y="675.9" width="816.2" height="39.8" fill="url(#cb)" stroke="#000" stroke-width="1.67"/>
<path d="M2311.5 715.7v7" stroke="#000" stroke-width="1.67"/>
<text x="2311.5" y="747" font-family="Liberation Sans, sans-serif" font-size="21.9" text-anchor="middle">2</text>
<path d="M2473 715.7v7" stroke="#000" stroke-width="1.67"/>
<text x="2473" y="747" font-family="Liberation Sans, sans-serif" font-size="21.9" text-anchor="middle">3</text>
<path d="M2634.6 715.7v7" stroke="#000" stroke-width="1.67"/>
<text x="2634.6" y="747" font-family="Liberation Sans, sans-serif" font-size="21.9" text-anchor="middle">4</text>
<path d="M2796.1 715.7v7" stroke="#000" stroke-width="1.67"/>
<text x="2796.1" y="747" font-family="Liberation Sans, sans-serif" font-size="21.9" text-anchor="middle">5</text>
<path d="M2957.6 715.7v7" stroke="#000" stroke-width="1.67"/>
<text x="2957.6" y="747" font-family="Liberation Sans, sans-serif" font-size="21.9" text-anchor="middle">6</text>
<text x="2603.1" y="775.8" font-family="Liberation Sans, sans-serif" font-size="21.9" text-anchor="middle" textLength="57" lengthAdjust="spacingAndGlyphs">W/m2</text>
<text x="518.5" y="796.3" font-family="Liberation Sans, sans-serif" font-size="25.6" text-anchor="middle" textLength="51" lengthAdjust="spacingAndGlyphs">icon</text>
<rect x="109.8" y="1351.4" width="816.2" height="39.8" fill="url(#cb)" stroke="#000" stroke-width="1.67"/>
<path d="M226.9 1391.2v7" stroke="#000" stroke-width="1.67"/>
<text x="226.9" y="1422.5" font-family="Liberation Sans, sans-serif" font-size="21.9" text-anchor="middle">2</text>
<path d="M388.4 1391.2v7" stroke="#000" stroke-width="1.67"/>
<text x="388.4" y="1422.5" font-family="Liberation Sans, sans-serif" font-size="21.9" text-anchor="middle">3</text>
<path d="M550 1391.2v7" stroke="#000" stroke-width="1.67"/>
<text x="550" y="1422.5" font-family="Liberation Sans, sans-serif" font-size="21.9" text-anchor="middle">4</text>
<path d="M711.5 1391.2v7" stroke="#000" stroke-width="1.67"/>
<text x="711.5" y="1422.5" font-family="Liberation Sans, sans-serif" font-size="21.9" text-anchor="middle">5</text>
<path d="M873 1391.2v7" stroke="#000" stroke-width="1.67"/>
<text x="873" y="1422.5" font-family="Liberation Sans, sans-serif" font-size="21.9" text-anchor="middle">6</text>
<text x="518.5" y="1451.3" font-family="Liberation Sans, sans-serif" font-size="21.9" text-anchor="middle" textLength="57" lengthAdjust="spacingAndGlyphs">W/m2</text>
</svg>
</body></html>
